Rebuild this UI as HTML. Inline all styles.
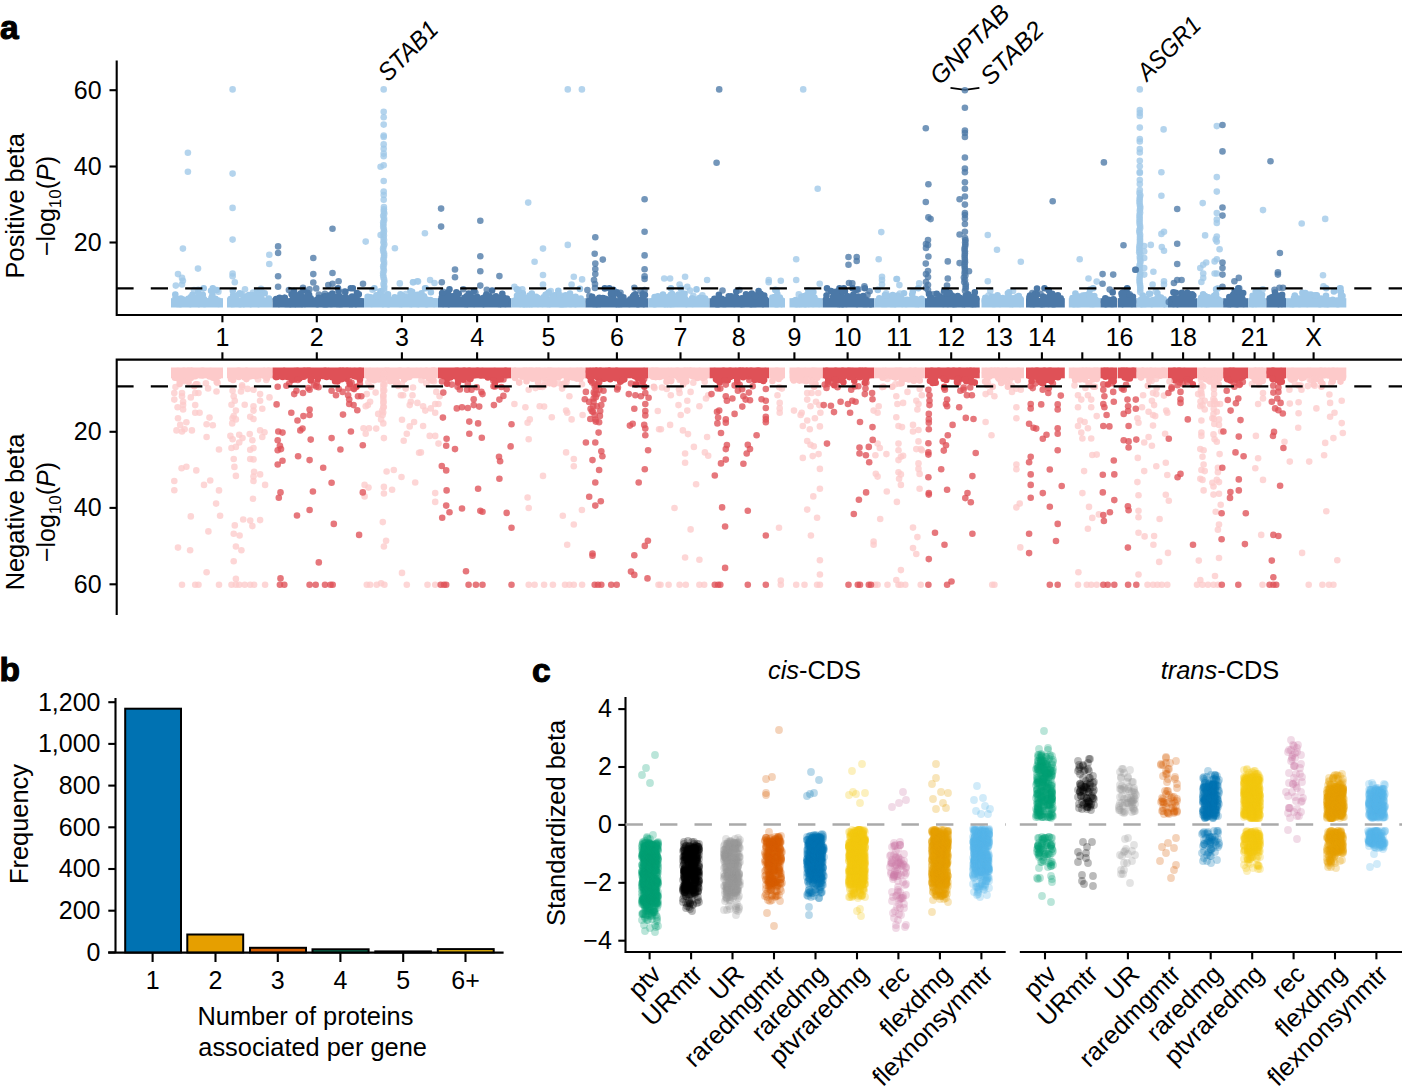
<!DOCTYPE html>
<html><head><meta charset="utf-8"><style>
html,body{margin:0;padding:0;background:#fff;}
svg{display:block;}
.a circle{r:3.3px}
.c circle{r:3.9px}
</style></head><body>
<svg width="1402" height="1091" viewBox="0 0 1402 1091">
<rect width="1402" height="1091" fill="#fff"/>
<g id="upper">
<path d="M950.5 87.9 L965 89.9 L979.4 87.9" stroke="#000" stroke-width="1.8" fill="none"/>
<g stroke-linecap="round" stroke-width="6.6" fill="none">
<rect x="171.0" y="298.2" width="52.0" height="9.3" fill="#9fc8e8"/>
<path stroke="#9fc8e8" d="M189 303.7h0M203.9 304h0M198.6 302.7h0M176.9 301.9h0M176 302.4h0M177.5 303.9h0M193.6 298.6h0M179.9 303.4h0M202.8 294.8h0M200.5 302.6h0M218.6 304h0M213.3 303.1h0M180.8 303.8h0M188.3 298.8h0M182.5 301.4h0M203.3 302.7h0M199.2 304h0M177 303.5h0M205.2 302.4h0M188.6 301.4h0M194.9 303.1h0M210.4 300.4h0M185.4 301.5h0M198.1 297.5h0M207.4 303.1h0M218.8 303.8h0M193.3 299.7h0M181.2 302.1h0M176.1 300.7h0M209 301.5h0M214 303h0M205.9 301.3h0M200.6 302.3h0M212.4 294.9h0M195.8 300.7h0M177.1 300.3h0M203.7 288.3h0M211.6 303.1h0M191.8 300.7h0M175.3 302.2h0M181.9 303.8h0M177 299.5h0M180.2 303.3h0M192 297.6h0M178 302.3h0M199.2 297.3h0M211.5 297.8h0M186.9 302.5h0M190.6 297.3h0M217.8 303.7h0M182.3 303.4h0M184.9 302.1h0M201 303.2h0M174.5 302.5h0M191.1 301.5h0M217.6 300.4h0M197.7 301.1h0M205 304h0M215.1 299.4h0M214 299.1h0M192.1 302.6h0M179 301h0M177.1 304h0M183.8 303.6h0M189.7 304h0M174.3 303.7h0M178.9 302.8h0M175.5 297.6h0M202.2 303.7h0M185.8 302.8h0M190.8 303.8h0M212.8 288.3h0M195.5 302.1h0M178.2 303.9h0M189.9 303.2h0M211.9 303.6h0M175.3 294.5h0M198.3 303.7h0M199 304.1h0M198.3 291.9h0M213.5 300.4h0M186.2 302.7h0M181.9 299.5h0M198.5 299.4h0M189.3 303.4h0M211.1 290.8h0M213 299h0M211.5 299.9h0M184.6 301.9h0M190.4 304.1h0M175.6 303.2h0M186.1 300.4h0M217.7 302.3h0M216.8 290h0M217.7 302.7h0M184.3 303.4h0M183.2 303.5h0M202.6 296.8h0M212.5 302.1h0M203.9 299.1h0M178.1 300.7h0M215.6 299.3h0M208.4 302.1h0M182.4 299.2h0M189.4 299h0M218.4 302.6h0M192.5 294.8h0M207.2 303.6h0M180.1 303.7h0M215.4 298.9h0M180.9 298.6h0M218.8 300.8h0M190.2 301.7h0M180.2 304.2h0"/>
<rect x="227.0" y="298.2" width="45.6" height="9.3" fill="#9fc8e8"/>
<path stroke="#9fc8e8" d="M262.5 303.4h0M240.1 303.1h0M239.7 301.4h0M240.4 302.5h0M235.4 296.5h0M244.1 302.2h0M253.1 296.7h0M246.7 296.2h0M249.9 301.8h0M250.7 304.1h0M247.5 303.6h0M230.5 299.1h0M237 302.1h0M258.6 301.6h0M243 301.9h0M252 299.3h0M234.4 301.6h0M240 303.2h0M260.4 301.9h0M252.2 299.6h0M265.9 302.3h0M254.2 301.9h0M250.3 300.4h0M247.9 301.8h0M248.9 295.1h0M257.6 297.5h0M267 303.2h0M252.1 295h0M263.1 303.7h0M235 302.3h0M233.1 303.3h0M233.2 300.7h0M260.9 296.9h0M236.3 300.2h0M256.1 303.7h0M264.7 293.2h0M238.9 294.4h0M245.8 302.1h0M268.9 298.5h0M236.6 302.4h0M250.4 302.9h0M237.9 303h0M258.5 304.1h0M251.9 302.3h0M231 302.9h0M254.6 301.9h0M232.8 290.7h0M261 292.8h0M234.4 303.2h0M231.8 299.4h0M240.8 303.8h0M246.8 296.4h0M262.2 303.2h0M236.1 296.2h0M252.6 300.3h0M233.8 304h0M257.1 302.4h0M233.1 295.3h0M255 299h0M233.6 298h0M232.9 297.8h0M248 302.9h0M251.9 295.8h0M240.7 303.8h0M250.8 303.3h0M234.6 303.6h0M232.3 303.5h0M242.5 303h0M259.9 303.1h0M249.8 303.6h0M243.8 304.1h0M240.1 304.2h0M258.9 301.6h0M237.7 302.1h0M266.8 303.8h0M262.2 302.4h0M249.6 298.4h0M245.6 301.9h0M257.1 291.3h0M243.7 298.5h0M257.9 301h0M246.1 302.8h0M232.4 303.8h0M233.1 299.9h0M240.3 303.6h0M233.6 298.3h0M264.3 300.6h0M241.3 303.3h0M241.7 302.2h0M236.4 302.3h0M240.6 293.8h0M268.2 301.7h0M239.8 293.4h0M242.4 302.8h0M230.3 302.7h0M248.8 302h0M238.1 302h0M230.5 303.2h0M233.8 302.6h0M231.9 304.1h0"/>
<rect x="272.6" y="298.2" width="91.4" height="9.3" fill="#4b78a7"/>
<path stroke="#4b78a7" d="M339.5 300.3h0M336.6 296.6h0M308.9 302.8h0M359.4 303.6h0M337.3 300.5h0M279.6 297.7h0M351.5 300.6h0M338.1 298.2h0M287.7 301.5h0M318.7 297.7h0M344.1 297.9h0M325.4 296.2h0M333.8 299.9h0M295.4 304.1h0M287.2 302.6h0M284.8 297.7h0M323.3 300.6h0M329 300.1h0M317.4 304.2h0M343.5 299.2h0M318.6 301.4h0M331.8 304h0M338.4 303.2h0M282.2 303.1h0M337.7 303.4h0M338.6 290.8h0M317.8 302.5h0M316.5 300.1h0M340.9 300.7h0M330.4 303.9h0M288.4 303.1h0M338.9 302.9h0M324 304.2h0M281 303.1h0M332.9 300h0M333.2 303h0M319.7 302h0M315.4 303.7h0M351.7 303.4h0M358.8 294.3h0M277.4 302h0M345.4 291.8h0M314 303.1h0M293.7 293.7h0M293.8 301.1h0M287.9 301.5h0M356.7 303.7h0M345.5 301.6h0M351.1 299.8h0M295.5 296h0M317.1 304.1h0M276.2 301.8h0M314.1 302.9h0M287.8 302.7h0M302.7 297.6h0M276 299.2h0M347.1 303.7h0M354.5 299.7h0M352.4 303h0M307.5 302.4h0M360.6 301h0M306.5 302.2h0M299.2 304h0M284.5 297.7h0M300.1 294.3h0M297 303.1h0M319.2 303.4h0M307.6 292.9h0M350.9 298.2h0M329.4 295.4h0M355.7 301.3h0M336.9 304h0M338 302h0M339.7 300.5h0M300.2 304h0M354.5 303.7h0M315.9 302.7h0M301.2 299.4h0M358.7 303.1h0M331.5 302.9h0M323.2 302.4h0M290.1 303.6h0M293.5 295.7h0M318.1 303.3h0M352.8 288.2h0M314.1 303.7h0M292.2 303.9h0M304.9 303.9h0M296.2 303.1h0M324.2 296.3h0M339.5 302.3h0M311 301.5h0M307.9 302.7h0M281.2 303h0M358 303.7h0M318.6 300.6h0M349.1 303.3h0M298.9 303.2h0M309.8 302.1h0M356.8 297.4h0M349.9 304.1h0M278.6 299.7h0M351.9 301.9h0M325.7 304.2h0M309.1 294.8h0M345.9 297.2h0M358.3 303.2h0M285.1 303.6h0M320.2 300.1h0M355.7 299.6h0M330.8 299h0M314.7 301.3h0M279.3 298.7h0M295.6 295.1h0M330.6 302.9h0M286.8 303.2h0M329.9 299.9h0M285.4 303.9h0M320.4 301.1h0M308.8 303.3h0M326.9 304.2h0M301.5 302h0M357.2 300.5h0M350.8 301.9h0M295.8 303.2h0M357.4 299.8h0M302 304.1h0M318.2 300.2h0M311.5 303.1h0M332.5 294.9h0M295.1 304.1h0M304.6 302.2h0M333.8 303.4h0M343.5 299.4h0M318.7 303.4h0M358.1 302.9h0M345.4 303.3h0M294.7 299.1h0M300.9 293.3h0M317.9 303.5h0M294.8 302.3h0M332.3 293.5h0M288.3 302.4h0M294 291h0M287.9 304h0M281 302.4h0M352.1 296.5h0M338 288.2h0M354.9 302.8h0M291.6 294.3h0M339.2 304.1h0M332.2 302.5h0M307.6 302.7h0M290.3 304.2h0M299.6 302.6h0M356.9 303.7h0M357.7 303.4h0M306.1 298h0M345.6 302.2h0M280.1 301.9h0M307.5 295.1h0M292.3 302.6h0M352 304.1h0M310.7 298.2h0M340.9 304.1h0M278.9 304h0M353.9 303.1h0M339.3 296h0M304.7 303.1h0M357.1 300.7h0M298.1 299.7h0M302.7 303h0M276.2 299.1h0M353.6 300.6h0M355.9 304.1h0M295.7 301.9h0M357 293.1h0M308.7 303.2h0M312.4 301.8h0M354.6 303.5h0M344 299.4h0M345.7 298.9h0M327.4 302.8h0M303 302.6h0M342.2 303.9h0M292.6 299.2h0M296.9 304h0M278.8 301.3h0M303.5 290.1h0M350.8 288.3h0M298.4 303.9h0M284.1 301.7h0M336.1 302.1h0M295.8 302.3h0M328.5 300.2h0M339.3 297.4h0M332.2 303.7h0M347.2 302.9h0M324 302.5h0M338.5 303.4h0M296.9 303.2h0"/>
<rect x="364.0" y="298.2" width="74.0" height="9.3" fill="#9fc8e8"/>
<path stroke="#9fc8e8" d="M434.1 303.9h0M399.3 298.7h0M424 296.3h0M370 303.1h0M375.3 303.5h0M432.9 301.4h0M430 302.7h0M425.7 302.3h0M384.8 299.4h0M431 303.8h0M407.5 301.1h0M382 302.7h0M376.8 303.5h0M384.5 301.3h0M411.2 303.5h0M368.1 302.9h0M413 303.5h0M388.3 303.5h0M420.9 301.7h0M371.6 303.9h0M393.9 301.6h0M410.4 303.9h0M378.3 300.4h0M394.9 303.1h0M388 294.4h0M388.4 301.5h0M391.4 302.5h0M425.6 288.2h0M391.8 303.5h0M416.4 303.5h0M367.7 296.8h0M395.9 298.7h0M394.7 297.3h0M398.4 303.6h0M368.3 301.6h0M410.5 296.5h0M373.3 301.1h0M392.3 302h0M377.1 303.1h0M402.4 295.9h0M374.6 302h0M421.5 293.3h0M380.6 303.8h0M430.9 292.3h0M399.8 304h0M429.7 302.6h0M428.2 301.1h0M422.9 303.6h0M420.3 303.4h0M394.6 298.2h0M423.2 303.6h0M382 302.6h0M402.2 302.7h0M375.6 303.3h0M416.2 296.9h0M370.1 301.6h0M418.4 304.1h0M423.8 303.8h0M407.7 301.6h0M409.6 303h0M395.6 301.4h0M396 300.8h0M397.4 302.4h0M368.9 301.1h0M400.3 303.3h0M418.8 299.4h0M398.2 303.6h0M399.2 303.8h0M376 302.4h0M373.5 302.3h0M401.7 304.1h0M410.2 303.9h0M416.7 299.4h0M401.8 304h0M401.3 302.7h0M431.4 303.7h0M425.1 288.2h0M416.6 298.8h0M380.4 291.4h0M400.5 294.2h0M429 303.6h0M420.4 295.7h0M371.7 302.8h0M418.3 303.6h0M427.7 303.2h0M422.3 303.7h0M401.1 296.1h0M381.3 303.2h0M401.4 303h0M369.8 303.6h0M378.2 295.4h0M413.1 297h0M378.7 299.3h0M375.1 301.8h0M410.2 302.8h0M426.1 301.6h0M406.4 297.3h0M374.4 288.3h0M409.7 302.6h0M421.1 303.2h0M434.1 301.4h0M391.6 299.6h0M397.1 303.6h0M417.4 304h0M422.6 303.3h0M410.4 291h0M406.8 300.7h0M388.4 304.2h0M369.6 303.7h0M408.8 302.4h0M401.9 297h0M376.2 303.4h0M411.3 304.1h0M367.5 302.8h0M374.5 302.8h0M382.4 301.4h0M407 303.5h0M409.4 302.1h0M376.4 295.4h0M383.7 303.7h0M373.8 300.9h0M426 299.3h0M394.4 303.2h0M368.1 300.9h0M405.2 302.8h0M410.8 302.3h0M430.5 300h0M384 296.7h0M370.3 301.8h0M394.7 303.3h0M371.2 299.4h0M368.1 301.6h0M430.7 303.7h0M380.7 301.2h0M401.5 300.9h0M422.1 303.6h0M388.2 303.1h0M370.6 297.2h0M420.1 300.2h0M367.7 298.2h0M417.5 302.2h0M417.3 302.3h0M382.5 303.8h0M383 304.1h0M389.9 299.8h0M414.2 298.2h0M415.3 303.2h0M404.6 302.4h0M420.4 301.8h0M385.2 300.9h0M432.4 303.4h0M426.6 304.2h0M384.8 303.3h0M417.4 294.9h0M417.6 302.9h0M426.6 302.9h0M383.4 296.6h0M409.8 300.4h0M412.1 291.8h0M398.9 298.3h0M414.3 298h0M396.8 300.1h0"/>
<rect x="438.0" y="298.2" width="73.3" height="9.3" fill="#4b78a7"/>
<path stroke="#4b78a7" d="M448.4 294.7h0M464.3 303.6h0M443.2 304h0M487.5 300.6h0M487.8 299.4h0M445.7 301h0M465.5 298.1h0M496 296.2h0M445.7 296.9h0M502.3 293.8h0M448.4 303.4h0M448.8 304.1h0M497.8 298.2h0M483.6 297.9h0M483.4 303h0M448 303.8h0M491.8 303.4h0M462.6 302.2h0M442.7 303.1h0M460.1 299.7h0M465.8 302.8h0M505.6 301.7h0M498.1 300.7h0M443.4 302.3h0M470.4 298.9h0M464.4 299.8h0M477.2 303.3h0M498.8 303.9h0M496 303.5h0M441.4 303.4h0M492.1 290.5h0M441.6 301.8h0M474.1 298.5h0M453.6 301.7h0M464.5 297.8h0M458.7 293.8h0M460.2 303.3h0M488 301.7h0M448.6 300.6h0M446.7 298.6h0M487.8 298.6h0M483.2 302.6h0M468.1 302.4h0M500.7 303.9h0M500.6 304.1h0M455 303.1h0M501.4 301.7h0M466.6 296.4h0M456.9 302h0M476.8 299.1h0M491.5 300.5h0M464.5 302.8h0M451.7 297.5h0M485.5 299.3h0M452.6 302.1h0M492.9 301.1h0M449.7 302h0M500.3 303.2h0M454.1 302.9h0M488.2 297.5h0M451.6 303.6h0M457.8 302.8h0M476.1 303.6h0M463.2 303.4h0M506.3 299.5h0M448.1 292.4h0M448.1 302.5h0M506.9 298.5h0M490.2 302.1h0M454.4 300.5h0M448.4 303.4h0M467.2 304.1h0M467.9 298.6h0M487.6 301.7h0M483.5 302h0M450.8 300.9h0M468.3 299.3h0M501.9 302.2h0M479.6 299.2h0M469.4 303.3h0M489.5 296.6h0M492.9 299.9h0M498.2 300.1h0M484.1 302h0M462.2 300.6h0M447.8 302.2h0M493.5 299.7h0M483.3 303.2h0M469.6 302h0M482.8 302.3h0M486.3 294.6h0M453.5 300.4h0M493.2 302.4h0M474 291h0M443.8 301.4h0M452 298.7h0M504 301.6h0M448 301.1h0M477.4 299.7h0M475.5 300.5h0M496.6 301.5h0M468.7 293.6h0M455.3 300h0M467.5 299h0M449.5 289.2h0M465 304h0M459.6 302.4h0M442.2 302.2h0M469.4 299.9h0M464.8 303.1h0M456.3 299.3h0M504 301.5h0M455.9 298.4h0M467.4 303.3h0M449.9 298.8h0M495.3 300.6h0M472.6 301.2h0M456.4 292.2h0M464.9 300.5h0M495.9 298.1h0M472.5 302.9h0M477.9 303.7h0M496.9 302.6h0M498 303.1h0M466.4 303.1h0M469.7 303.5h0M441.5 299.6h0M460.1 303.2h0M461.4 301.8h0M469.9 300.5h0M485.3 302.6h0M503.2 297.3h0M445.1 297.9h0M501.7 298.7h0M450.7 297.8h0M483.5 304.1h0M442.1 293.3h0M485.1 303.2h0M448.1 303.6h0M456.9 298.8h0M464.4 303.6h0M501.6 298.6h0M452.5 296.2h0M481.9 298.7h0M485.9 296.1h0M493.9 297.6h0M454.5 300h0M476.7 299.3h0M470.6 296.5h0M478.3 303.1h0M456.9 303.7h0M474.2 304h0M472.5 303.6h0M474.1 301.7h0M477.3 297h0M441.7 297.6h0M472.5 301.2h0M485.7 297.6h0M466.3 302.2h0M505.4 303.9h0M483.8 300.6h0"/>
<rect x="511.3" y="298.2" width="74.2" height="9.3" fill="#9fc8e8"/>
<path stroke="#9fc8e8" d="M575.3 304.1h0M563.1 301.1h0M537.5 297.9h0M539.4 302.1h0M550.1 299.5h0M528.8 302.4h0M543.2 301.6h0M570.5 303.1h0M570.6 302.5h0M548.7 303.2h0M548.8 292.4h0M558.8 299.2h0M537 303h0M534.8 301.4h0M557.5 299.3h0M517.3 300.1h0M574.5 301.7h0M518 303.1h0M515 303.5h0M576.9 301.2h0M559.1 299.2h0M576.1 301.2h0M556.3 301h0M561.7 301.3h0M560.6 303.4h0M559.7 302.2h0M566.2 303.9h0M526.9 304.1h0M567 296.3h0M558.9 302.7h0M570.2 299.3h0M552.6 303.2h0M535 302.4h0M536.1 302.4h0M558 295.5h0M518.3 301.5h0M517.3 303.8h0M569.4 301.5h0M576.7 302.3h0M515.6 302.6h0M554.6 295.3h0M580.9 302.1h0M542.5 303.9h0M558.2 303.4h0M524.9 304.1h0M514.9 300.5h0M522.8 293.3h0M520.6 297.7h0M523.3 304.1h0M563.2 303.3h0M564.2 303.5h0M518 299.4h0M562.8 298h0M563.9 303.9h0M557.1 300.2h0M545.7 295.6h0M531.8 293.5h0M563.1 304.2h0M515.6 300.8h0M569.9 303.9h0M535.6 300h0M525.8 297.9h0M547.5 304h0M539.4 301.5h0M544.3 300.6h0M524.4 299.1h0M539.2 300.9h0M557.2 302.5h0M540.7 299.3h0M578.5 299.3h0M552.9 303.1h0M518.7 292.5h0M562.1 298.6h0M537 301.2h0M580.7 298.5h0M555.2 303h0M543.6 297.2h0M540.1 300.5h0M555.3 297h0M569.2 303.1h0M514.7 303.2h0M543.2 301.4h0M569.8 297.2h0M517.5 298.5h0M569.5 297.7h0M553.3 303.2h0M572.1 298.9h0M560.9 296.4h0M538 303.9h0M552 299.1h0M528.1 299.8h0M577.6 303.3h0M555.6 300.6h0M546.1 303.5h0M531.8 299.7h0M568.1 302.2h0M520.5 298.9h0M566.8 303.4h0M553.8 296.9h0M574.4 301.8h0M546.8 301.4h0M527.4 303.5h0M526.8 300.3h0M539.1 301.5h0M541.8 301.9h0M524.7 304.1h0M582 302.7h0M521.8 301h0M567.8 303.7h0M555 302.8h0M549.7 304.1h0M516.9 289.3h0M573.1 302.1h0M552.9 303.2h0M567.3 302.4h0M578.6 299.5h0M570 293.6h0M531.8 304.1h0M528.2 303.6h0M520.3 304h0M552.3 297.7h0M545.6 294.8h0M576.1 304h0M555 302.6h0M522.7 294h0M532 301.5h0M557.9 294.2h0M559.9 302.6h0M544.9 303.6h0M579.9 288.9h0M529.6 304.1h0M531.9 302.8h0M575.6 296.7h0M571.2 304h0M567.8 300.2h0M558.3 290.7h0M518.4 303.7h0M565.6 295.2h0M560.4 303.1h0M554.6 299.7h0M521.7 302.9h0M532 303.8h0M547.1 303.6h0M530.7 303.7h0M560.4 304.2h0M563.1 303.5h0M517 295.8h0M529.5 295.5h0M573.2 297.2h0M524 302.3h0M521.2 295.7h0M571.5 301h0M545.2 302.9h0M570.2 302.1h0M557.1 303.7h0M529.6 304h0M562.8 301.6h0M524.4 297.7h0M532.6 302.5h0M525.1 303.2h0M571.4 302.9h0M525.9 302h0M536.1 296.7h0"/>
<rect x="585.5" y="298.2" width="62.8" height="9.3" fill="#4b78a7"/>
<path stroke="#4b78a7" d="M603.3 303.4h0M609.3 288.2h0M644.9 294.9h0M594.3 303h0M639.2 304h0M629.6 302.9h0M643.8 304.1h0M634.2 302.7h0M596.7 304.2h0M635.6 301.5h0M599.2 302.1h0M640.1 303.3h0M620.9 303.7h0M598.9 298.9h0M628.8 303.4h0M593.3 303.9h0M623 301.7h0M604.2 303.4h0M623.2 299.8h0M634.4 301.1h0M600.2 304h0M630 302.3h0M629.4 304h0M634.4 302.7h0M636.1 297h0M616.5 304.1h0M640 301.9h0M637.8 303.1h0M599.3 297.8h0M609.4 303.6h0M609.7 300.9h0M589.1 301.6h0M613.9 301.6h0M595.6 299.7h0M634.7 297h0M606.8 299.7h0M610.2 299.2h0M592.2 296.8h0M642.4 301.7h0M617.6 301.5h0M619 304.1h0M643.2 303.3h0M599.1 303.8h0M602.9 298.1h0M590.5 303.8h0M628.1 303.4h0M589.8 300.9h0M621.2 301.5h0M628.3 303.8h0M637.7 299.7h0M591.3 303.7h0M616.5 301.7h0M604.5 303.7h0M611.6 303.7h0M622.1 297.1h0M597.1 301.1h0M630.8 303.6h0M635.2 294.2h0M610.6 302.2h0M636 301.5h0M611 294h0M632.5 302.7h0M602.3 302.7h0M613.3 289.9h0M634 295.4h0M634.6 297.4h0M591.8 301.6h0M642.6 294.4h0M602.8 302.2h0M624.4 302.6h0M618.6 303.9h0M613.1 301.7h0M590 303.7h0M643.3 298.8h0M641.5 300.6h0M634.3 296.4h0M638.5 304.1h0M624.9 303.1h0M626.9 303.1h0M619.3 294.9h0M623.7 303.2h0M618 302.2h0M642.2 303h0M606 300.4h0M595.6 301h0M642.5 301.6h0M603.9 301.9h0M618.8 303.6h0M595.8 303.7h0M605.3 302.3h0M605 303.2h0M593.7 301.4h0M636 300.8h0M620.8 300.4h0M600.1 299.7h0M614.7 301.3h0M623.2 301.9h0M606.3 303.2h0M601.3 301.6h0M610.3 301h0M589.5 302.6h0M637.2 303.2h0M620.1 301.8h0M604.8 288.4h0M605.4 298.9h0M597.7 304h0M637.8 302.1h0M592.3 302.4h0M613.5 299.4h0M594.9 303.3h0M642.7 299.4h0M597.5 302.7h0M608.6 300.2h0M623.4 297.4h0M635 301.6h0M630.3 299.3h0M631.5 301.9h0M632.9 299.8h0M640.2 303.7h0M637.7 304.2h0M631.8 301h0M616.8 292.4h0M620.9 302.3h0M632.8 296.8h0M622.9 302.5h0M614.2 302h0M629.4 303h0M610.8 301.3h0M610.4 302.8h0M633 297.4h0M616.9 302.1h0M599.2 302.9h0M596.9 301.1h0M621.5 303.9h0M640.5 302.8h0M636.2 297.6h0M642.7 303.4h0M612.8 295.5h0"/>
<rect x="648.3" y="298.2" width="61.3" height="9.3" fill="#9fc8e8"/>
<path stroke="#9fc8e8" d="M681.1 288.2h0M679.9 301.9h0M689.1 302.6h0M671.2 301.3h0M670.8 294.7h0M688.6 301.8h0M657 302.7h0M673.5 301.6h0M683 297.4h0M704.4 302.1h0M675.7 301.1h0M706.1 302.9h0M680.6 298.8h0M660.9 303h0M705.1 298.6h0M679.6 303.8h0M700.5 300.5h0M696.5 289.4h0M700.2 302.5h0M660.2 303.1h0M679.6 302h0M661.9 303.6h0M686.1 301.2h0M670.9 288.2h0M686.4 304.1h0M674.1 299.2h0M668.4 300.4h0M651.8 303h0M697.7 301.4h0M688.1 303.5h0M678.8 301.6h0M666.2 300.9h0M680.7 288.2h0M683 302.5h0M658.2 303.7h0M693.1 303.8h0M657.1 303.6h0M680.2 298.7h0M685.1 298.9h0M655 304.2h0M693.8 303h0M690.7 302.8h0M660.9 303.2h0M657 296.7h0M683.4 302.8h0M676.2 302.6h0M654.6 297.1h0M683.5 293.9h0M675.6 301.1h0M665.2 304.1h0M702.5 298h0M668.8 296.9h0M696.2 303h0M684.6 293.9h0M678.7 294.6h0M664.9 302.6h0M690.9 303.4h0M668.5 297.5h0M678.1 299.2h0M664.9 303.6h0M671.2 303.5h0M704.7 303.1h0M682.3 303.8h0M680.8 302.6h0M673.7 304h0M658.3 298.6h0M670.8 303.3h0M662.1 303.1h0M664.6 304.1h0M687.9 302.9h0M660.1 300.3h0M656.7 303.2h0M697.3 303.8h0M675.8 298.4h0M695.6 303.6h0M670.9 300.1h0M672.2 294h0M663 294.6h0M679.2 303.4h0M676.4 303.8h0M690.2 303.2h0M700.8 301.4h0M671.7 303.3h0M684.9 303.4h0M699.3 303.8h0M679.7 301.7h0M666.4 299.5h0M672.6 300.8h0M682.7 303h0M672.9 303.9h0M661.3 298.1h0M669.2 300.7h0M657.6 301.6h0M671.4 302h0M667.8 304h0M668.6 303.4h0M658.5 300.2h0M667 302.5h0M701.3 299.4h0M699.9 297.9h0M658.8 303.2h0M653.2 300.6h0M687.9 302.8h0M674.2 300.8h0M689.8 303.3h0M697.9 302.8h0M686 303.6h0M657.9 296.4h0M691.8 300.2h0M653.8 304.1h0M660.5 303.5h0M668.2 302.7h0M653.7 303h0M686.5 303.6h0M697.5 301.5h0M690.8 303.3h0M675.4 300.5h0M670.7 304.2h0M697.2 299.4h0M667.3 304.1h0M698.3 301.2h0M654.2 303.3h0M657.7 299.2h0M663.1 296.3h0M692.6 303.9h0M689.6 302.6h0M692.5 298.6h0M667 303.9h0M703.4 302.4h0M702.5 300.4h0M692 298.5h0M686 302.3h0M654.6 300.4h0M675 301.9h0"/>
<rect x="709.6" y="298.2" width="59.4" height="9.3" fill="#4b78a7"/>
<path stroke="#4b78a7" d="M726.7 301.4h0M764.1 300.5h0M741.6 303.2h0M716 302.6h0M734.6 303.4h0M729.3 303.7h0M750.2 300.2h0M725.5 303.2h0M740.1 302.1h0M762.3 302.6h0M728.7 296.4h0M720.4 301.2h0M730.5 298.1h0M741.8 299.1h0M721.8 300.2h0M744.5 302h0M753.4 297.8h0M718.9 303h0M731.9 303.4h0M716.1 303h0M723.3 299.8h0M736.6 303.8h0M730 301.9h0M732.1 303.5h0M716.7 304.2h0M765.3 299.2h0M717.3 299.7h0M764.7 301.2h0M718.6 301.8h0M735.8 303.4h0M741.6 304.2h0M761.5 300.5h0M746 294.3h0M747.4 303.2h0M725.9 303.7h0M714.4 298.8h0M757.2 302.9h0M722.7 300.5h0M757.6 294.8h0M721.8 298.7h0M756.7 299.3h0M730.1 303.5h0M756.5 302.8h0M732.4 301.3h0M732.4 297.8h0M725.5 304h0M742.8 300.6h0M756.2 299.8h0M760.7 293.8h0M739 301.7h0M721.2 302.9h0M743.6 303.9h0M749.2 303.6h0M736.3 291.6h0M717.6 304.1h0M736.1 303.4h0M751.1 304.2h0M757.3 297.2h0M754.4 302.2h0M727.9 300.3h0M740.1 302.2h0M730.8 302.1h0M748.1 297.9h0M760.6 303.6h0M728.5 302.1h0M742.6 302.7h0M723.2 303.9h0M730 302h0M764.2 295.6h0M758.6 291h0M763.7 300.7h0M755.7 304h0M748.6 300.8h0M728.6 301.2h0M763.2 301.8h0M747.1 302.9h0M731 296.4h0M714.4 303.4h0M748.7 302.1h0M717.4 300.3h0M732.5 301.1h0M734.9 301.5h0M742.7 302.4h0M718.9 303.5h0M759.9 301.3h0M718.8 297.1h0M726.3 303.8h0M740.9 303.2h0M738.7 301.3h0M724.9 301.1h0M718.9 301.6h0M744 303.9h0M734.4 303.9h0M736.1 297h0M742 299.7h0M752.9 303.8h0M765.2 299.6h0M718.3 297.8h0M733.6 303.5h0M763.6 301.2h0M753.8 303.7h0M753.9 304h0M725.4 302.5h0M713.7 301h0M724.2 302.9h0M750.3 302.2h0M759.8 300.7h0M758.9 301.2h0M761.3 296.8h0M721.8 299.3h0M730.9 299h0M748.8 297.9h0M719.4 302.5h0M751.8 293.6h0M751 304h0M744.8 303.8h0M741.9 298.4h0M718.9 294.9h0M748.6 303.1h0M723.1 302.1h0M757.2 301.1h0M718.9 304.1h0M718.7 298.4h0M722.7 301.3h0M728.2 300h0M733 303.6h0M759.1 301.4h0M749.3 298.3h0M763 304.1h0M731 303.6h0"/>
<rect x="769.0" y="298.2" width="16.0" height="9.3" fill="#9fc8e8"/>
<path stroke="#9fc8e8" d="M778.7 302.6h0M776.8 303.6h0M780.2 302.6h0M780.5 301.2h0M773 302.9h0M774.3 297h0M777.8 304.1h0M773.9 302.8h0M776.7 301.4h0M775.9 302.8h0M772.4 301.4h0M775.4 304.1h0M776.6 290.4h0M772.7 303.7h0M778.6 303.2h0M774.9 302h0M774.8 301.5h0M777.3 294.1h0M781.6 304.1h0M777.6 299.5h0M780.5 299.4h0M778.3 301h0M775.7 303.1h0M779.8 297.6h0M781.1 300.5h0M775.2 299.6h0M779.3 301.9h0M778.3 302.8h0M777.5 302.5h0M772.9 302.9h0M775.3 289.9h0M776.8 302.7h0M774.6 303.3h0M775.6 303.7h0M772.4 297.6h0"/>
<rect x="789.5" y="298.2" width="33.3" height="9.3" fill="#9fc8e8"/>
<path stroke="#9fc8e8" d="M804.9 302.3h0M808 303h0M797.3 304h0M800.8 303h0M812.2 301.6h0M817.8 302.9h0M817.4 301.4h0M794.9 303.6h0M808.3 290.2h0M802.3 299.4h0M804.2 297.7h0M794.6 302.1h0M816.8 303.2h0M799.7 304.1h0M797.2 303.2h0M811.6 303.4h0M803.5 303.5h0M808.9 297.8h0M810.1 303.5h0M812.4 293.6h0M808.8 303.9h0M814.4 297.5h0M801.9 303.7h0M797.8 301.7h0M816.2 300.9h0M817.4 303.4h0M801.5 299.8h0M810.1 302.5h0M810.9 302.9h0M794.3 302.5h0M794 301.1h0M801.7 302h0M808.8 303.2h0M805.2 304.2h0M817.5 301.5h0M819.2 304h0M809.2 300.1h0M801.6 303.9h0M797 303.7h0M813.3 303.9h0M814.5 302.4h0M807.2 301.4h0M807.6 300.8h0M808.9 302.9h0M812.6 303.2h0M811.8 299.6h0M813.5 303h0M813.4 292.1h0M804.9 303.2h0M806.8 295.1h0M796.3 304.2h0M805.5 300.8h0M813.5 302.8h0M819.2 303.4h0M813 303.9h0M793.5 303.7h0M794.4 302h0M807.6 303.6h0M817.9 302.7h0M796.8 303.6h0M812.5 296.1h0M797.1 304.1h0M813.6 303.3h0M819 302h0M809.8 302.8h0M814.2 302.2h0M801.4 296.7h0M795.7 300h0M794.5 300.9h0M803.5 297.8h0M794.4 301.5h0M803.7 296.2h0M818 301h0"/>
<rect x="822.8" y="298.2" width="51.4" height="9.3" fill="#4b78a7"/>
<path stroke="#4b78a7" d="M837.9 302.2h0M836.5 303.4h0M860.1 300.5h0M839.5 288.2h0M835.8 301.2h0M833.1 297h0M865 303.1h0M859.8 298h0M838.8 302.8h0M847.9 296.2h0M833.3 300.1h0M852.9 302h0M852 296.5h0M835.5 296.5h0M842.2 298.8h0M864.8 303.5h0M864.8 288.2h0M839.4 304.1h0M831.1 291h0M826.5 295.5h0M832.9 299.4h0M830.5 303.5h0M856.7 303.9h0M841.3 295.2h0M858.2 296.5h0M870 304.1h0M836.6 298.5h0M857 304.1h0M848.7 303.3h0M845.4 303.8h0M827 288.2h0M840.3 296.6h0M831.5 301.8h0M832.2 302.2h0M834.1 300h0M832.7 299.4h0M848.5 303.8h0M841.9 301.7h0M867.3 302.7h0M835.7 291.9h0M865.7 299.5h0M838.3 303.5h0M838 303.9h0M828 301.6h0M844.4 301.3h0M842.3 304.2h0M856.9 300.4h0M850.5 301.3h0M857 289.7h0M865.3 299.6h0M844 302.8h0M844.9 291.2h0M843.4 302.4h0M844.5 303.6h0M870.8 304.2h0M853.3 294.8h0M837.5 300.8h0M843 303.2h0M835 303.8h0M863.9 298.7h0M866.8 304h0M857.2 302.8h0M855.1 301.3h0M840.2 291.4h0M826.1 299.3h0M864.3 301.6h0M852.6 288.2h0M836.6 300.6h0M859.4 302.5h0M858 302.4h0M849.7 300.8h0M856.4 302.8h0M854.3 301.4h0M836.1 300.8h0M838 295.6h0M847.3 299.6h0M849.5 301.9h0M836 303.6h0M867.6 301.5h0M849.6 301.5h0M862.5 303.2h0M833.8 298h0M846.7 300.5h0M863.2 296.1h0M865 304h0M843.2 297.8h0M862.7 303.7h0M833 303.2h0M830.7 302.6h0M862.1 301.5h0M846.4 303.9h0M843.8 288.2h0M857.2 302.1h0M847.5 298.4h0M860.1 303.6h0M856.6 302.6h0M849.4 303.2h0M842.7 302.7h0M843.2 304.1h0M835.1 301.2h0M828.7 303.5h0M858.3 303h0M840.6 303.2h0M863.5 303.9h0M854.6 297.2h0M835.1 302.2h0M861.6 300.7h0M842.7 304h0M845.9 302.6h0M858 302.9h0M844.4 300.4h0M862.4 302.6h0M843.4 301.1h0"/>
<rect x="874.2" y="298.2" width="50.8" height="9.3" fill="#9fc8e8"/>
<path stroke="#9fc8e8" d="M892.1 304h0M910.9 302.7h0M900.7 302h0M917.3 299.7h0M878.6 301.3h0M897.9 302.2h0M914.6 302.5h0M898.4 297.1h0M896.9 302h0M900.1 298.6h0M907.1 299.9h0M895.3 304.1h0M907.5 301.6h0M911.5 299.5h0M882.7 303.4h0M880.9 298.8h0M882 303.9h0M910.8 301.5h0M879.9 300.5h0M908.9 302.1h0M879.9 300.4h0M896 301.4h0M921.6 298.8h0M916 303.7h0M892.3 301.9h0M877.8 289.9h0M889.6 303.2h0M891.3 303.3h0M915.5 301.6h0M900.1 302.5h0M879.8 303h0M915.8 299h0M915.4 303.2h0M886.4 304h0M901.2 302.7h0M898 302.1h0M903.3 302.7h0M912.9 303.5h0M918.1 301.6h0M879.8 303h0M901.1 302.5h0M902.5 302.9h0M889.6 299.1h0M890.4 300.2h0M913 301.3h0M897.6 295.5h0M897.2 297.5h0M880.1 302.4h0M905.8 304h0M915.6 304h0M903.9 303.6h0M918.3 301.6h0M912.9 302h0M907.3 300.6h0M890.5 303.4h0M914.6 303.7h0M918.1 303.5h0M882 303.9h0M912.2 294.6h0M895.8 300.8h0M888.9 296.6h0M907.8 303.7h0M880 300.4h0M879.3 298.4h0M890.5 303.4h0M903.2 303h0M902.3 303.7h0M917.8 302.9h0M914.7 303.7h0M912.8 291.7h0M894.8 304.1h0M894.3 300.9h0M887.4 301.7h0M881.6 302.2h0M909.7 302.4h0M907.5 303.8h0M914.1 303.8h0M918.3 288.2h0M919 301.8h0M890.4 302.8h0M910.7 302h0M918.6 303.9h0M898.9 297.8h0M903.9 301.7h0M881.4 303.7h0M889.5 297h0M914.9 303.4h0M918.4 304.1h0M904 293.2h0M892.7 295h0M906.5 304h0M892.2 302.3h0M888.4 299.9h0M885.4 299.2h0M890.7 304h0M902.2 303.9h0M901.9 299.2h0M903.8 302.2h0M879 301.9h0M881.8 300.9h0M883.3 301.4h0M893.1 302.7h0M906.8 303.6h0M885 295.1h0M892.2 298.3h0M916.1 302.1h0M884.1 303.9h0M916.4 303.8h0M899.4 301.7h0M882.7 302.2h0M884.7 301.7h0"/>
<rect x="925.0" y="298.2" width="54.7" height="9.3" fill="#4b78a7"/>
<path stroke="#4b78a7" d="M939.8 296.8h0M952.4 296.2h0M929 293.9h0M951.8 298.6h0M955.7 300h0M939.3 299.2h0M935.7 303.1h0M929.8 302.4h0M953.2 303h0M971.1 303.9h0M956.1 303.2h0M956.9 298.7h0M962.5 304h0M940.1 300.9h0M975.6 304h0M958 300h0M967.5 302.7h0M967.3 302h0M972.6 304.2h0M973.5 302.3h0M947.9 303.9h0M940.1 299.4h0M961 303.6h0M944.9 303.7h0M937.8 303.3h0M944.2 290.8h0M976.3 298.6h0M951.4 301.7h0M965.8 295.6h0M964.4 300.6h0M937.9 300.7h0M969 298.6h0M932.7 299.7h0M945.1 303.6h0M974.8 300.2h0M964.2 303.7h0M968.1 294.2h0M971.8 299.3h0M968.3 298.4h0M956.7 302.1h0M968 298.7h0M970.2 302.9h0M974.5 301.5h0M973.8 303.8h0M974.9 298.6h0M940.4 297.6h0M939.5 303.4h0M950.3 303.2h0M952 295.6h0M961.3 299.7h0M947.2 298.7h0M966.5 300.1h0M973.6 297.9h0M947.8 303.9h0M959.7 297.7h0M944.6 300.9h0M968.5 298.5h0M928.5 301.8h0M929.1 303.8h0M967.4 302.2h0M957.4 302h0M944.4 303.3h0M945.3 297.5h0M958.1 303h0M932.5 303.1h0M962 302.1h0M960.1 298.3h0M934.1 300.1h0M930.3 298h0M937.2 303.1h0M974.4 302.6h0M939.1 296.3h0M957.7 296.1h0M947.3 301.7h0M974.3 301.7h0M975.8 303.4h0M968.3 303.6h0M953.7 304.2h0M936.7 293.8h0M950.2 298.2h0M940.4 302.6h0M933.2 301.3h0M969.8 301.6h0M946.4 294.7h0M971.3 300.2h0M932 300.7h0M949.7 292.8h0M945.7 300.3h0M958.7 302.5h0M953.4 300.1h0M971.9 301.7h0M945.8 290.7h0M931 297.7h0M961.2 301.3h0M949.8 299.2h0M971.2 299.5h0M964.4 304.1h0M943.9 303.7h0M974.1 296.2h0M935.3 301h0M956 304h0M947.2 299.2h0M959.2 303h0M965 303h0M954.5 302.2h0M975.3 300.4h0M967 300.1h0M946.6 292.3h0M962.4 300h0M941.6 303.6h0M956 297.9h0M966.5 302.7h0M935 301.6h0M970.5 303.6h0M963.8 303.5h0M943.3 304h0M942.6 302.5h0M974.8 292.4h0M937.3 302.9h0M973.7 303.4h0"/>
<rect x="981.5" y="298.2" width="42.5" height="9.3" fill="#9fc8e8"/>
<path stroke="#9fc8e8" d="M1019.4 303.2h0M992.1 296.5h0M1001 298.4h0M1007.7 299.4h0M996.1 303.7h0M1012 302.2h0M1004.9 300.6h0M1011.8 303.2h0M997.8 296.2h0M1003.8 303.1h0M1007.4 303.2h0M1012.5 304.1h0M1014.5 301.5h0M997.5 295.2h0M994.3 303.3h0M987.3 301.7h0M1011.9 300.6h0M999.6 298.9h0M988.8 303h0M1007.9 293.3h0M1007.6 300.4h0M1012.6 302.6h0M1018.6 299.9h0M997.1 302.6h0M1013.7 302.8h0M991.5 297.6h0M1003.9 301.8h0M1008.8 296.8h0M989.6 302.9h0M987.2 302.5h0M1002.8 298.1h0M1008.8 301.4h0M999.3 301.5h0M994.6 298.2h0M1013.1 298.4h0M990.2 300.6h0M1011.9 302h0M1017.1 296.9h0M1011.5 298.7h0M1008.1 297.5h0M989.5 300.3h0M1010.1 301.2h0M994.7 304h0M1006.5 298.6h0M994.6 303.4h0M992.8 303.9h0M1009.1 292.4h0M1013.6 302.8h0M1009.9 304h0M1014.9 302.9h0M984.9 301h0M989.8 303.2h0M986.9 302.3h0M1004.7 298.9h0M986.2 298.6h0M988.8 303.4h0M1007.4 302.9h0M996.7 301.5h0M992.6 299.2h0M992.3 298.3h0M1013.8 301.7h0M985.9 299.4h0M985.8 302h0M1000 304h0M1007.4 300.1h0M1005.8 302.6h0M1003.2 301.4h0M992.9 297.7h0M1020.5 299h0M1019.3 302.9h0M1020.2 304h0M1002 303.7h0M1001.1 300.5h0M1010.2 302.3h0M997.1 303.5h0M999.3 303.1h0M991.8 299.9h0M1003.3 302.4h0M991.9 300.3h0M991.9 303.2h0M1004.9 300.3h0M1019.7 299.8h0M1018.8 296.1h0M1010.7 300.1h0M987.1 303.5h0M985.3 297.8h0M1010.7 301h0M994.3 302.8h0M990.7 301h0M1020.4 303h0M986.4 303.6h0M997.6 296.9h0M1013.7 302.3h0"/>
<rect x="1026.0" y="298.2" width="38.8" height="9.3" fill="#4b78a7"/>
<path stroke="#4b78a7" d="M1044.5 288.2h0M1058.7 298.5h0M1044.6 298h0M1033.4 303.8h0M1047.4 301.6h0M1036 303.2h0M1030 295.6h0M1052.2 293.7h0M1060.9 302.1h0M1052.9 302.5h0M1055.4 297.6h0M1033.6 304.2h0M1036.2 301h0M1041.5 304.2h0M1056 298.6h0M1044.2 304h0M1057.9 301.4h0M1031.6 302.8h0M1049.4 296.4h0M1044.9 300.5h0M1035.9 303.2h0M1058.5 302.5h0M1032.6 301h0M1033.4 303.4h0M1044 301h0M1049.8 299.8h0M1043.5 303.9h0M1052.6 304h0M1044.5 302.4h0M1051 299.7h0M1037 300.4h0M1051.6 301.9h0M1033.9 295.6h0M1048.6 304h0M1037 288.6h0M1036.7 302.4h0M1054.7 297.9h0M1049.7 299.3h0M1030.5 303.8h0M1060.7 298.4h0M1030.5 304h0M1037 294.6h0M1036.4 300.2h0M1059.3 300.5h0M1058.9 303.1h0M1034.2 304.1h0M1053.7 303.8h0M1060.6 299.7h0M1035.3 298.3h0M1034.5 301.6h0M1032.7 298.6h0M1057.9 295.3h0M1029.4 297.3h0M1047.2 298h0M1045.5 300.7h0M1048.4 298.4h0M1031.8 304h0M1046.9 303h0M1042.1 304.2h0M1053.3 304.1h0M1056 298.2h0M1044 303.7h0M1050.2 303.4h0M1043.1 303.8h0M1060.7 301.4h0M1040.7 303.8h0M1052.8 297.4h0M1056.6 303.8h0M1041.1 302.9h0M1053.8 303.6h0M1048.8 290.4h0M1054.1 304.2h0M1031.7 303.8h0M1051.6 300.9h0M1046 302h0M1042.4 300.8h0M1050.2 295.3h0M1052.9 298.5h0M1058.7 297.7h0M1052.4 304.1h0M1051.2 297.4h0M1043.2 296.6h0M1035.1 293.9h0M1043.5 299.8h0M1037.4 302.9h0"/>
<rect x="1068.8" y="298.2" width="31.7" height="9.3" fill="#9fc8e8"/>
<path stroke="#9fc8e8" d="M1096.7 300.8h0M1095.5 299.6h0M1093.1 288.2h0M1091 303.2h0M1078.4 302.5h0M1072.6 303.4h0M1094.3 296.1h0M1080.4 299.5h0M1091.6 297.1h0M1092 301.8h0M1074.7 298.6h0M1080 301h0M1081.3 301.7h0M1096.3 303.6h0M1085.4 300.8h0M1085.6 295.3h0M1082.3 296.4h0M1089.4 293.2h0M1074.3 303.4h0M1079.3 296.6h0M1072.4 303.2h0M1090.1 289.6h0M1076.5 302.4h0M1089.3 300.4h0M1090.8 299.7h0M1078.3 303.2h0M1072.8 300.4h0M1077.4 303.2h0M1096.3 300.9h0M1086.9 300.8h0M1087.1 300.4h0M1079.7 304h0M1073.8 304.2h0M1081.2 303.7h0M1074.9 302h0M1096.4 300.5h0M1079 299.5h0M1076.6 303.9h0M1079.7 302.5h0M1089.4 302.3h0M1090.4 303.9h0M1095.5 302.9h0M1093 304.1h0M1092.9 303.4h0M1093.6 299h0M1088.9 303.2h0M1072.3 303.5h0M1094.8 303.6h0M1088.6 301.4h0M1088.7 303.6h0M1075.7 303.9h0M1096.8 302.7h0M1088.5 301.5h0M1077.7 304h0M1072.5 298.1h0M1075.4 293.6h0M1081.2 300.1h0M1075.6 299.2h0M1078.4 302.7h0M1085.2 303.8h0M1078.3 299.1h0M1079.3 302.7h0M1091.3 303.4h0M1077 303.4h0M1081.7 302.7h0M1088.2 302.2h0M1093.9 304h0M1088.8 298.4h0M1078 304.1h0"/>
<rect x="1100.5" y="298.2" width="16.8" height="9.3" fill="#4b78a7"/>
<path stroke="#4b78a7" d="M1108.5 299.7h0M1104.8 303.7h0M1108.7 303.5h0M1106.2 302.1h0M1105 303.9h0M1107.5 301.9h0M1113.4 301.3h0M1104.5 303.3h0M1111.4 301.2h0M1112.7 292.4h0M1112.6 303.8h0M1113.4 301.5h0M1106.2 303.5h0M1112.6 303.3h0M1104.6 303.1h0M1113.2 302h0M1111.3 303.9h0M1108.4 302.8h0M1105.9 300.3h0M1107.5 303.7h0M1113.8 301.8h0M1105.6 304.2h0M1110.5 301.6h0M1104 301.9h0M1111.4 301.4h0M1106.2 301.7h0M1110 300.4h0M1105.3 298.3h0M1113.4 299.3h0M1112.5 302.5h0M1113 303.5h0M1106.1 300.9h0M1113 303.9h0M1106 304.1h0M1108.3 303.7h0M1105.8 299.2h0"/>
<rect x="1118.0" y="298.2" width="18.6" height="9.3" fill="#4b78a7"/>
<path stroke="#4b78a7" d="M1126.1 300.1h0M1121.5 293.5h0M1124.1 301.9h0M1127.4 293.5h0M1127.2 288.2h0M1128.8 303.3h0M1131.3 303.4h0M1133.3 302h0M1124 292.5h0M1125.2 302.3h0M1125.4 300.2h0M1121.6 302.5h0M1123.2 297.9h0M1121.3 300.8h0M1124.4 302h0M1128 299.7h0M1123 303.2h0M1122.7 292.6h0M1123.1 303.7h0M1127.6 301.1h0M1131.9 304h0M1124.1 303.5h0M1128.3 302h0M1126.2 296.3h0M1129.2 297.1h0M1132.8 303.1h0M1132.6 302.3h0M1121.9 295.3h0M1122.5 304.1h0M1124.8 303h0M1132.9 296.8h0M1126.3 301.5h0M1131.5 298.3h0M1129.1 301.6h0M1122.7 303.2h0M1129.2 301h0M1130.9 296h0M1132.8 303.4h0M1122.2 296h0M1128.1 303.5h0"/>
<rect x="1136.6" y="298.2" width="31.4" height="9.3" fill="#9fc8e8"/>
<path stroke="#9fc8e8" d="M1145.8 302.7h0M1152.9 300.6h0M1141.7 299.9h0M1155.4 302.2h0M1156.6 299.1h0M1140.1 302.1h0M1156.7 300.2h0M1156 303.6h0M1163.7 299.3h0M1145.7 302.4h0M1163.7 303.5h0M1150 293.8h0M1162.2 303.4h0M1158.1 302.8h0M1156.4 299.5h0M1143.1 303.4h0M1145.2 303.2h0M1140.8 303.7h0M1150 302.5h0M1141.8 301.4h0M1163.3 301.4h0M1148.7 300.3h0M1150.7 303.6h0M1151.8 304.1h0M1156.7 303.6h0M1149.1 293.7h0M1158.9 298.4h0M1155.8 301h0M1157.4 293.3h0M1144.8 299.5h0M1147.4 303.3h0M1160.3 301.3h0M1161 297.5h0M1154.5 303.5h0M1140.3 301.8h0M1157.9 303.2h0M1141.6 304.2h0M1144.2 300.4h0M1140 303.4h0M1146.5 300.2h0M1164.4 304.1h0M1142.7 295.5h0M1164 303.7h0M1148.2 301.8h0M1147.8 302.5h0M1151.8 303.2h0M1141.3 303.9h0M1143.9 303.9h0M1155.4 300.4h0M1146.4 299.2h0M1158 302.9h0M1152.1 303.5h0M1162.9 301.6h0M1141.2 303.7h0M1157.1 302.6h0M1157.7 303.4h0M1159.7 299h0M1142.2 301.4h0M1144.6 300.3h0M1159.8 299.2h0M1145.6 303.9h0M1156.4 301.5h0M1143.3 303.5h0M1154.3 303.8h0M1155.6 303.3h0M1146.3 302.4h0M1153.1 300.1h0M1140.7 300.1h0M1145.4 303.1h0"/>
<rect x="1168.0" y="298.2" width="29.0" height="9.3" fill="#4b78a7"/>
<path stroke="#4b78a7" d="M1185.1 295.8h0M1175.9 302.9h0M1186.1 303.1h0M1174.8 303.3h0M1188.6 297.9h0M1187.3 292.7h0M1189.1 302.9h0M1178.4 299.6h0M1172.5 300.8h0M1173.3 304h0M1182.8 303.6h0M1192.2 296.6h0M1181.6 303.4h0M1174 301.7h0M1183 302.6h0M1187.3 301.5h0M1188.7 303.8h0M1172.9 302.4h0M1182.1 303.2h0M1186.3 303.3h0M1178.4 301.9h0M1187.3 298.9h0M1179.6 302.1h0M1192.1 294.4h0M1185.2 303.8h0M1181.5 300.6h0M1177.5 304.1h0M1193.3 295.5h0M1174.2 301.9h0M1185.2 302.9h0M1172.8 299.2h0M1188.6 302.1h0M1173.2 302.4h0M1173.4 292.3h0M1172.4 303h0M1188.5 303.7h0M1173.7 303.9h0M1175 301.5h0M1190 303.5h0M1175.2 299h0M1180.8 302.7h0M1174.1 303.2h0M1193.1 303.8h0M1177.1 299.3h0M1191.3 295.8h0M1181.9 292.9h0M1184.8 303h0M1181.7 299.7h0M1187.7 303.7h0M1175.6 292.8h0M1173.7 298.2h0M1178.9 303.2h0M1177 301.9h0M1193.5 303.6h0M1190.4 302.8h0M1175.2 299.3h0M1179 303.5h0M1180.7 298h0M1190.6 301.1h0M1171.5 299h0M1184.9 295.9h0M1192.6 302.8h0M1190.3 298h0"/>
<rect x="1197.0" y="298.2" width="26.2" height="9.3" fill="#9fc8e8"/>
<path stroke="#9fc8e8" d="M1207.6 302.8h0M1207.7 303.8h0M1204.8 296.5h0M1208.3 301h0M1217.7 299.7h0M1205.1 296.1h0M1216.1 289.3h0M1214.6 299.7h0M1216.2 303.3h0M1213.2 302.7h0M1216.8 303.7h0M1210.9 302.9h0M1216.4 302.8h0M1216.8 298.2h0M1217.5 303.7h0M1218.7 299.8h0M1213.6 300.8h0M1201.2 297.7h0M1211 302.3h0M1207 299.3h0M1215.6 297.7h0M1204.5 302.9h0M1205.2 303.9h0M1206.7 304.1h0M1215.9 303.4h0M1201.7 304h0M1214.8 303.5h0M1209.4 302.6h0M1216 294.3h0M1206.4 301h0M1217.8 302.2h0M1217.9 300h0M1206.4 297.6h0M1211.5 303.8h0M1211.8 298.5h0M1210.5 302.1h0M1208.5 297.4h0M1213.3 303.5h0M1207.4 302.8h0M1219.1 300.4h0M1202.7 296.3h0M1201 301.3h0M1208.8 300.2h0M1208.7 303.9h0M1210.6 298.7h0M1215.8 302.8h0M1204.7 299.8h0M1216 303.4h0M1217.6 288.6h0M1208.8 302.7h0M1214.2 295.7h0M1204.3 303.1h0M1206.7 300h0M1204 301.7h0M1210.1 300.7h0M1203.1 294.2h0M1219.9 301.6h0"/>
<rect x="1223.2" y="298.2" width="25.1" height="9.3" fill="#4b78a7"/>
<path stroke="#4b78a7" d="M1243.3 301.3h0M1240.6 296.9h0M1233.2 294.9h0M1230.3 304.1h0M1235.8 296h0M1243.2 293h0M1235.9 294.5h0M1236.9 303.6h0M1238.2 298.3h0M1234.3 300.9h0M1231.3 303h0M1234.3 301.6h0M1235.2 303.9h0M1226.6 302.7h0M1239.8 299.2h0M1230.9 303.1h0M1236.1 303.5h0M1237.7 295.8h0M1230.2 301h0M1239.8 299.2h0M1239.7 299.7h0M1231.5 297.6h0M1243.6 304h0M1244 302.1h0M1228.1 303.9h0M1241.2 300.1h0M1229.1 302h0M1238.3 288.2h0M1232.7 299h0M1231 303.4h0M1229.5 302.3h0M1237.9 302.9h0M1229.5 303.3h0M1228.1 303.4h0M1232.3 301.7h0M1229.9 301.8h0M1234.6 291.2h0M1235.5 293.8h0M1235.2 303.4h0M1237.5 303.6h0M1229.6 303.9h0M1239.5 291.9h0M1234 302.6h0M1234.4 302.6h0M1239.3 302.4h0M1229.3 297h0M1237.1 304.2h0M1242.2 299.5h0M1233.1 300.6h0M1243.5 302.4h0M1234.5 302.9h0M1236.8 300.3h0M1240.1 293.5h0M1229.2 302.6h0M1242.3 298.6h0"/>
<rect x="1248.3" y="298.2" width="18.1" height="9.3" fill="#9fc8e8"/>
<path stroke="#9fc8e8" d="M1255.5 294.9h0M1257.9 302.6h0M1253.7 303.8h0M1261.9 299h0M1251.9 303h0M1257.1 302h0M1255.8 297h0M1255.6 301.8h0M1262.3 300.9h0M1257.1 302.9h0M1256.1 301.2h0M1260.6 303.2h0M1255.9 302.6h0M1255.8 296.4h0M1257.8 303.2h0M1255.4 298.7h0M1253.4 300.5h0M1251.9 303.5h0M1252.3 299h0M1253.3 303.4h0M1252.3 303.2h0M1260 300.1h0M1262.1 294.8h0M1257.9 296h0M1252.6 295.9h0M1256.6 303.5h0M1260.2 297.9h0M1256 303.9h0M1261.6 299.7h0M1258.5 292.2h0M1252 304h0M1253 304.1h0M1259.7 301h0M1252.9 303.6h0M1253.7 301.2h0M1259.3 293h0M1255.7 291.8h0M1256.6 302.6h0M1254.5 303.4h0"/>
<rect x="1266.4" y="298.2" width="19.6" height="9.3" fill="#4b78a7"/>
<path stroke="#4b78a7" d="M1278.9 303.5h0M1272 303.6h0M1274.3 299.4h0M1270.5 301.5h0M1278.5 304.1h0M1275.4 298.6h0M1277.2 302h0M1281.2 300.9h0M1274.1 302.4h0M1282 297.1h0M1281.6 301.2h0M1271.6 303.5h0M1274.7 300h0M1269.8 298.4h0M1279.9 301.6h0M1269.8 298.4h0M1275.1 300.2h0M1277.1 299.5h0M1275 292.6h0M1282.1 294.7h0M1277.7 302.8h0M1274.6 303.1h0M1281.4 298.5h0M1279.9 298h0M1282.6 300h0M1273.8 299.1h0M1273.1 300.8h0M1271.8 297.2h0M1276.1 303h0M1281.7 303.9h0M1281.8 299.1h0M1271.6 299h0M1277.2 295.6h0M1277.3 302.2h0M1281.8 303.9h0M1279.8 303.8h0M1273.3 303.8h0M1281 302.1h0M1279.1 303.1h0M1279.2 300.4h0M1271 301.7h0M1279.1 303.3h0M1278.2 303h0"/>
<rect x="1286.0" y="298.2" width="60.3" height="9.3" fill="#9fc8e8"/>
<path stroke="#9fc8e8" d="M1339.9 288.2h0M1312.2 301.5h0M1332.7 299.7h0M1313.8 297.8h0M1310.8 294.6h0M1314.7 303.8h0M1329.5 303.7h0M1325.8 304h0M1342.4 301.7h0M1329.1 303.8h0M1323.5 302.7h0M1302.7 298.8h0M1291.1 302.1h0M1294 298.1h0M1337.3 304.1h0M1314.2 302.2h0M1327.9 300h0M1307.7 295.6h0M1299.3 303.7h0M1333 303.8h0M1299.3 302h0M1307.4 303.6h0M1339.2 302.1h0M1331.5 303.3h0M1338.3 303.4h0M1338 301.2h0M1341.4 299.5h0M1323.2 301.8h0M1335.2 302.3h0M1294.6 296.4h0M1332.6 300.5h0M1329.3 303.4h0M1314.2 298.7h0M1341 296h0M1297.9 300.5h0M1319.1 302.5h0M1298.3 303.7h0M1314.6 302h0M1303.7 302.7h0M1319.1 299.6h0M1320.9 303.6h0M1336.9 302.7h0M1340.8 291.4h0M1296.8 301.4h0M1341.2 302.6h0M1318.7 303h0M1290.8 303.5h0M1296 303.1h0M1323.1 301.6h0M1340.2 300.5h0M1308.8 294.7h0M1323.3 301.7h0M1335.6 300.7h0M1308.7 301.2h0M1305.4 293.1h0M1302.4 292.7h0M1292.8 304.2h0M1319 303.5h0M1316.6 303.8h0M1334.2 300.7h0M1326 295.8h0M1342.6 300.6h0M1327.6 304.2h0M1291.9 302.4h0M1341.3 303h0M1319.8 304.2h0M1311.6 296.7h0M1321 298.6h0M1290 303.5h0M1298.9 298.5h0M1294.8 295.6h0M1303.7 297.4h0M1317 302.9h0M1341.2 302.5h0M1326.8 304h0M1333.9 291.5h0M1295.2 299.8h0M1303.8 303.7h0M1308.9 300.7h0M1340.5 288.2h0M1342.7 301.1h0M1324.4 303.6h0M1328.3 301.6h0M1308.6 296.8h0M1303 303.7h0M1297.8 303.7h0M1320.9 299h0M1297.9 302h0M1320.1 301.6h0M1311.5 301.7h0M1290.1 304h0M1312 303.3h0M1329.9 303.3h0M1333.5 303.3h0M1294.3 302.1h0M1310.1 302.9h0M1330.4 303.4h0M1325.3 298.4h0M1313.6 302h0M1338.9 301.2h0M1299 304h0M1293.7 302.9h0M1294.1 300.9h0M1312 303h0M1316.8 295.4h0M1302.4 303.7h0M1305.7 302.9h0M1338.2 300.3h0M1312.3 303.6h0M1291.7 303.8h0M1334.8 300.9h0M1297.7 301.1h0M1292.4 301.9h0M1307.3 303.9h0M1329.2 300.2h0M1316.7 303.6h0M1325.3 302.4h0M1324.8 303.9h0M1337.8 304.2h0M1301.3 302.6h0M1300 303.9h0M1326.2 288.2h0M1307.3 303.2h0M1325.3 303.4h0M1310.8 300.5h0M1312.4 303.7h0M1293.1 301.7h0M1342.5 296.1h0M1294.7 302h0M1315.5 303.5h0M1325.3 302h0M1332.7 303.1h0"/>
</g>
<g fill-opacity="0.78" class="a">
<g fill="#9fc8e8"><circle cx="232.6" cy="89.4" r="3.3"/><circle cx="187.9" cy="152.7" r="3.3"/><circle cx="187.9" cy="171.8" r="3.3"/><circle cx="232.6" cy="173.6" r="3.3"/><circle cx="232.6" cy="207.9" r="3.3"/><circle cx="232.6" cy="239.6" r="3.3"/><circle cx="182.9" cy="248.6" r="3.3"/><circle cx="198" cy="268.6" r="3.3"/><circle cx="178" cy="274.1" r="3.3"/><circle cx="182" cy="277.9" r="3.3"/><circle cx="182.9" cy="280.7" r="3.3"/><circle cx="232.6" cy="273.5" r="3.3"/><circle cx="232.6" cy="276.3" r="3.3"/><circle cx="234.8" cy="282.3" r="3.3"/><circle cx="175.8" cy="285.6" r="3.3"/><circle cx="182" cy="284.5" r="3.3"/><circle cx="245" cy="289.3" r="3.3"/><circle cx="261" cy="288.9" r="3.3"/><circle cx="269.3" cy="254.8" r="3.3"/><circle cx="269.3" cy="264" r="3.3"/><circle cx="365.7" cy="241.6" r="3.3"/><circle cx="394.9" cy="248.2" r="3.3"/><circle cx="399.8" cy="283.4" r="3.3"/><circle cx="413" cy="282.3" r="3.3"/><circle cx="417.4" cy="281.2" r="3.3"/><circle cx="380.6" cy="166.8" r="3.3"/><circle cx="380.6" cy="235" r="3.3"/><circle cx="567.8" cy="89.4" r="3.3"/><circle cx="581.9" cy="89.4" r="3.3"/><circle cx="424.9" cy="233.2" r="3.3"/><circle cx="413.2" cy="282.3" r="3.3"/><circle cx="418" cy="281.6" r="3.3"/><circle cx="430.1" cy="280.1" r="3.3"/><circle cx="434.5" cy="283" r="3.3"/><circle cx="528.2" cy="202.6" r="3.3"/><circle cx="543" cy="248.6" r="3.3"/><circle cx="534.6" cy="261.8" r="3.3"/><circle cx="543" cy="275" r="3.3"/><circle cx="543" cy="284.5" r="3.3"/><circle cx="514.4" cy="286.7" r="3.3"/><circle cx="567.8" cy="244.9" r="3.3"/><circle cx="573.8" cy="276.8" r="3.3"/><circle cx="571.6" cy="284.5" r="3.3"/><circle cx="582.1" cy="279.4" r="3.3"/><circle cx="550.7" cy="291" r="3.3"/><circle cx="803.2" cy="89.4" r="3.3"/><circle cx="817.7" cy="188.8" r="3.3"/><circle cx="881.3" cy="232.1" r="3.3"/><circle cx="878.7" cy="259.2" r="3.3"/><circle cx="882" cy="276.8" r="3.3"/><circle cx="882" cy="280" r="3.3"/><circle cx="882" cy="284.5" r="3.3"/><circle cx="897" cy="279" r="3.3"/><circle cx="796.2" cy="259.2" r="3.3"/><circle cx="796.2" cy="280" r="3.3"/><circle cx="819.7" cy="283.8" r="3.3"/><circle cx="768.7" cy="280" r="3.3"/><circle cx="768.7" cy="282.3" r="3.3"/><circle cx="780.8" cy="280.7" r="3.3"/><circle cx="707.1" cy="280" r="3.3"/><circle cx="685.1" cy="276.8" r="3.3"/><circle cx="664.2" cy="278.5" r="3.3"/><circle cx="670.1" cy="278.5" r="3.3"/><circle cx="679.6" cy="284.5" r="3.3"/><circle cx="687.3" cy="286.7" r="3.3"/><circle cx="987.8" cy="235" r="3.3"/><circle cx="997" cy="249.7" r="3.3"/><circle cx="1020.8" cy="261.8" r="3.3"/><circle cx="987.8" cy="281.2" r="3.3"/><circle cx="1079.7" cy="259.2" r="3.3"/><circle cx="1088.5" cy="278.5" r="3.3"/><circle cx="1096.7" cy="281.6" r="3.3"/><circle cx="896.5" cy="279" r="3.3"/><circle cx="899.4" cy="285.1" r="3.3"/><circle cx="919.2" cy="283.4" r="3.3"/><circle cx="1013" cy="291" r="3.3"/><circle cx="1163.6" cy="129.4" r="3.3"/><circle cx="1161.4" cy="172.3" r="3.3"/><circle cx="1161.4" cy="195.8" r="3.3"/><circle cx="1161.4" cy="233.9" r="3.3"/><circle cx="1164" cy="231.7" r="3.3"/><circle cx="1161.8" cy="247" r="3.3"/><circle cx="1164" cy="250.8" r="3.3"/><circle cx="1150.8" cy="244.9" r="3.3"/><circle cx="1144.2" cy="246" r="3.3"/><circle cx="1144.2" cy="251.5" r="3.3"/><circle cx="1144.2" cy="258" r="3.3"/><circle cx="1144.2" cy="268" r="3.3"/><circle cx="1144.2" cy="274.6" r="3.3"/><circle cx="1153.4" cy="271.7" r="3.3"/><circle cx="1152.6" cy="284.5" r="3.3"/><circle cx="1164" cy="281.2" r="3.3"/><circle cx="1164" cy="284.5" r="3.3"/><circle cx="1202.7" cy="203.1" r="3.3"/><circle cx="1205.1" cy="235.4" r="3.3"/><circle cx="1200.3" cy="268" r="3.3"/><circle cx="1203.2" cy="264.7" r="3.3"/><circle cx="1206.2" cy="262.5" r="3.3"/><circle cx="1203.2" cy="273.5" r="3.3"/><circle cx="1203.2" cy="278" r="3.3"/><circle cx="1201.4" cy="282" r="3.3"/><circle cx="1216.8" cy="126.1" r="3.3"/><circle cx="1216.8" cy="177.1" r="3.3"/><circle cx="1216.8" cy="191.6" r="3.3"/><circle cx="1216.8" cy="213" r="3.3"/><circle cx="1216.8" cy="219.6" r="3.3"/><circle cx="1216.8" cy="223" r="3.3"/><circle cx="1216.8" cy="236.5" r="3.3"/><circle cx="1215.7" cy="239.4" r="3.3"/><circle cx="1216.8" cy="241.6" r="3.3"/><circle cx="1219.6" cy="249.3" r="3.3"/><circle cx="1216.8" cy="259.2" r="3.3"/><circle cx="1214.6" cy="261.4" r="3.3"/><circle cx="1216.8" cy="273.5" r="3.3"/><circle cx="1214.6" cy="273.5" r="3.3"/><circle cx="1263" cy="210.1" r="3.3"/><circle cx="1301.7" cy="223.5" r="3.3"/><circle cx="1325.2" cy="218.9" r="3.3"/><circle cx="1323" cy="275.2" r="3.3"/><circle cx="1323.5" cy="286.2" r="3.3"/><circle cx="218.4" cy="291.7" r="3.3"/><circle cx="198.2" cy="289.7" r="3.3"/><circle cx="194" cy="290.1" r="3.3"/><circle cx="242.2" cy="294.6" r="3.3"/><circle cx="253.1" cy="292.5" r="3.3"/><circle cx="405.7" cy="294" r="3.3"/><circle cx="381.6" cy="291.8" r="3.3"/><circle cx="372.5" cy="289.8" r="3.3"/><circle cx="377" cy="296" r="3.3"/><circle cx="522.3" cy="289.3" r="3.3"/><circle cx="518.4" cy="289.9" r="3.3"/><circle cx="559.8" cy="294.7" r="3.3"/><circle cx="546.9" cy="294.2" r="3.3"/><circle cx="702.4" cy="295.3" r="3.3"/><circle cx="693.3" cy="295.9" r="3.3"/><circle cx="690" cy="290.6" r="3.3"/><circle cx="798.8" cy="294.4" r="3.3"/><circle cx="899.9" cy="293.6" r="3.3"/><circle cx="886.2" cy="293.4" r="3.3"/><circle cx="886.5" cy="295.3" r="3.3"/><circle cx="988.5" cy="295.5" r="3.3"/><circle cx="990.3" cy="290.8" r="3.3"/><circle cx="1083.1" cy="295.4" r="3.3"/><circle cx="1155.8" cy="291.4" r="3.3"/><circle cx="1215.9" cy="294.9" r="3.3"/><circle cx="1262.8" cy="289.2" r="3.3"/><circle cx="1339.4" cy="290.5" r="3.3"/><circle cx="1314.7" cy="295.2" r="3.3"/><circle cx="1315.3" cy="295.3" r="3.3"/><circle cx="383.7" cy="89.4" r="3.3"/><circle cx="383.7" cy="111.8" r="3.3"/><circle cx="383.7" cy="117.3" r="3.3"/><circle cx="383.7" cy="124.6" r="3.3"/><circle cx="383.7" cy="135.6" r="3.3"/><circle cx="383.7" cy="137" r="3.3"/><circle cx="383.7" cy="144.4" r="3.3"/><circle cx="383.7" cy="148.8" r="3.3"/><circle cx="383.7" cy="153.6" r="3.3"/><circle cx="383.7" cy="156.2" r="3.3"/><circle cx="383.7" cy="165.2" r="3.3"/><circle cx="383.7" cy="181" r="3.3"/><circle cx="383.7" cy="191.6" r="3.3"/><circle cx="383.7" cy="195" r="3.3"/><circle cx="383.7" cy="199.8" r="3.3"/><circle cx="383.9" cy="207" r="3.3"/><circle cx="383.9" cy="209.2" r="3.3"/><circle cx="383.8" cy="211.4" r="3.3"/><circle cx="384.3" cy="213.6" r="3.3"/><circle cx="383.2" cy="215.8" r="3.3"/><circle cx="384" cy="218" r="3.3"/><circle cx="384.1" cy="220.2" r="3.3"/><circle cx="383.2" cy="222.4" r="3.3"/><circle cx="383.5" cy="224.6" r="3.3"/><circle cx="383.2" cy="226.8" r="3.3"/><circle cx="383.8" cy="229" r="3.3"/><circle cx="384" cy="231.2" r="3.3"/><circle cx="383.5" cy="233.4" r="3.3"/><circle cx="383.9" cy="235.6" r="3.3"/><circle cx="383.5" cy="237.8" r="3.3"/><circle cx="384" cy="240" r="3.3"/><circle cx="383.4" cy="242.2" r="3.3"/><circle cx="384.3" cy="244.4" r="3.3"/><circle cx="383.6" cy="246.6" r="3.3"/><circle cx="383.1" cy="248.8" r="3.3"/><circle cx="383.2" cy="251" r="3.3"/><circle cx="384" cy="253.2" r="3.3"/><circle cx="384.1" cy="255.4" r="3.3"/><circle cx="383.9" cy="257.6" r="3.3"/><circle cx="383.3" cy="259.8" r="3.3"/><circle cx="384.1" cy="262" r="3.3"/><circle cx="384" cy="264.2" r="3.3"/><circle cx="383.2" cy="266.4" r="3.3"/><circle cx="383.6" cy="268.6" r="3.3"/><circle cx="383.9" cy="270.8" r="3.3"/><circle cx="383.1" cy="273" r="3.3"/><circle cx="383.2" cy="275.2" r="3.3"/><circle cx="383.5" cy="277.4" r="3.3"/><circle cx="384.1" cy="279.6" r="3.3"/><circle cx="384.3" cy="281.8" r="3.3"/><circle cx="383.5" cy="284" r="3.3"/><circle cx="384.2" cy="286.2" r="3.3"/><circle cx="384" cy="288.4" r="3.3"/><circle cx="384.1" cy="290.6" r="3.3"/><circle cx="1139.8" cy="89.4" r="3.3"/><circle cx="1139.8" cy="110" r="3.3"/><circle cx="1139.8" cy="113" r="3.3"/><circle cx="1139.8" cy="116" r="3.3"/><circle cx="1139.8" cy="127.6" r="3.3"/><circle cx="1139.8" cy="139" r="3.3"/><circle cx="1139.8" cy="141.5" r="3.3"/><circle cx="1139.8" cy="149" r="3.3"/><circle cx="1139.8" cy="152.5" r="3.3"/><circle cx="1139.8" cy="160.8" r="3.3"/><circle cx="1139.8" cy="166.3" r="3.3"/><circle cx="1139.8" cy="172" r="3.3"/><circle cx="1139.8" cy="173" r="3.3"/><circle cx="1139.8" cy="180" r="3.3"/><circle cx="1139.8" cy="184" r="3.3"/><circle cx="1139.8" cy="190" r="3.3"/><circle cx="1139.5" cy="193" r="3.3"/><circle cx="1140.3" cy="195.2" r="3.3"/><circle cx="1139.8" cy="197.4" r="3.3"/><circle cx="1139.7" cy="199.6" r="3.3"/><circle cx="1139.5" cy="201.8" r="3.3"/><circle cx="1139.7" cy="204" r="3.3"/><circle cx="1140.1" cy="206.2" r="3.3"/><circle cx="1140.2" cy="208.4" r="3.3"/><circle cx="1139.8" cy="210.6" r="3.3"/><circle cx="1140.1" cy="212.8" r="3.3"/><circle cx="1139.5" cy="215" r="3.3"/><circle cx="1139.7" cy="217.2" r="3.3"/><circle cx="1139.6" cy="219.4" r="3.3"/><circle cx="1139.6" cy="221.6" r="3.3"/><circle cx="1139.6" cy="223.8" r="3.3"/><circle cx="1140.1" cy="226" r="3.3"/><circle cx="1140.1" cy="228.2" r="3.3"/><circle cx="1139.4" cy="230.4" r="3.3"/><circle cx="1139.5" cy="232.6" r="3.3"/><circle cx="1140.1" cy="234.8" r="3.3"/><circle cx="1140" cy="237" r="3.3"/><circle cx="1140" cy="239.2" r="3.3"/><circle cx="1140" cy="241.4" r="3.3"/><circle cx="1140" cy="243.6" r="3.3"/><circle cx="1139.5" cy="245.8" r="3.3"/><circle cx="1139.3" cy="248" r="3.3"/><circle cx="1139.6" cy="250.2" r="3.3"/><circle cx="1139.2" cy="252.4" r="3.3"/><circle cx="1140.4" cy="254.6" r="3.3"/><circle cx="1139.8" cy="256.8" r="3.3"/><circle cx="1140" cy="259" r="3.3"/><circle cx="1140.4" cy="261.2" r="3.3"/><circle cx="1140.2" cy="263.4" r="3.3"/><circle cx="1139.5" cy="265.6" r="3.3"/><circle cx="1139.6" cy="267.8" r="3.3"/><circle cx="1139.3" cy="270" r="3.3"/><circle cx="1140.2" cy="272.2" r="3.3"/><circle cx="1140.1" cy="274.4" r="3.3"/><circle cx="1139.8" cy="276.6" r="3.3"/><circle cx="1139.6" cy="278.8" r="3.3"/><circle cx="1139.5" cy="281" r="3.3"/><circle cx="1139.8" cy="283.2" r="3.3"/><circle cx="1140.1" cy="285.4" r="3.3"/><circle cx="1140.3" cy="287.6" r="3.3"/><circle cx="1140.2" cy="289.8" r="3.3"/><circle cx="1140.2" cy="292" r="3.3"/></g>
<g fill="#4b78a7"><circle cx="278.1" cy="246.4" r="3.3"/><circle cx="278.1" cy="253" r="3.3"/><circle cx="278.1" cy="276.3" r="3.3"/><circle cx="278.1" cy="286.7" r="3.3"/><circle cx="313.3" cy="258" r="3.3"/><circle cx="313.3" cy="274.1" r="3.3"/><circle cx="313.3" cy="282.5" r="3.3"/><circle cx="316.2" cy="288.4" r="3.3"/><circle cx="332.5" cy="228.8" r="3.3"/><circle cx="332.5" cy="273" r="3.3"/><circle cx="332.5" cy="283.8" r="3.3"/><circle cx="328.3" cy="285.1" r="3.3"/><circle cx="338.6" cy="281.2" r="3.3"/><circle cx="303" cy="287.8" r="3.3"/><circle cx="363" cy="283.8" r="3.3"/><circle cx="441.1" cy="208.6" r="3.3"/><circle cx="441.1" cy="226.6" r="3.3"/><circle cx="480.3" cy="220.7" r="3.3"/><circle cx="480.3" cy="256.3" r="3.3"/><circle cx="480.3" cy="271.3" r="3.3"/><circle cx="480.3" cy="285.6" r="3.3"/><circle cx="455" cy="269.5" r="3.3"/><circle cx="455" cy="277.2" r="3.3"/><circle cx="499.4" cy="276.1" r="3.3"/><circle cx="441.8" cy="282.3" r="3.3"/><circle cx="595.3" cy="237.2" r="3.3"/><circle cx="594.7" cy="253.7" r="3.3"/><circle cx="595.3" cy="263.6" r="3.3"/><circle cx="595.3" cy="269.1" r="3.3"/><circle cx="595.3" cy="274.1" r="3.3"/><circle cx="594" cy="280" r="3.3"/><circle cx="595" cy="284" r="3.3"/><circle cx="595" cy="288" r="3.3"/><circle cx="602.8" cy="259.6" r="3.3"/><circle cx="587.4" cy="290" r="3.3"/><circle cx="611.2" cy="293.3" r="3.3"/><circle cx="644.6" cy="199.3" r="3.3"/><circle cx="644.6" cy="231.7" r="3.3"/><circle cx="644.6" cy="255.4" r="3.3"/><circle cx="644.6" cy="269.3" r="3.3"/><circle cx="644.6" cy="276.3" r="3.3"/><circle cx="644.6" cy="279" r="3.3"/><circle cx="634.3" cy="287.8" r="3.3"/><circle cx="644.6" cy="290" r="3.3"/><circle cx="719.2" cy="89.4" r="3.3"/><circle cx="716.6" cy="162.8" r="3.3"/><circle cx="848.5" cy="257" r="3.3"/><circle cx="856.7" cy="257" r="3.3"/><circle cx="856.7" cy="261" r="3.3"/><circle cx="848.5" cy="264.7" r="3.3"/><circle cx="849" cy="283" r="3.3"/><circle cx="852.3" cy="283.4" r="3.3"/><circle cx="864.4" cy="286.2" r="3.3"/><circle cx="858.4" cy="289.3" r="3.3"/><circle cx="828.7" cy="291.5" r="3.3"/><circle cx="925.8" cy="128.3" r="3.3"/><circle cx="928.4" cy="184.2" r="3.3"/><circle cx="925.8" cy="202" r="3.3"/><circle cx="928.4" cy="217.4" r="3.3"/><circle cx="930.6" cy="219.1" r="3.3"/><circle cx="928" cy="240" r="3.3"/><circle cx="926" cy="244" r="3.3"/><circle cx="928" cy="245" r="3.3"/><circle cx="926" cy="248" r="3.3"/><circle cx="928.4" cy="256.5" r="3.3"/><circle cx="925.8" cy="263.6" r="3.3"/><circle cx="928" cy="271" r="3.3"/><circle cx="926" cy="274" r="3.3"/><circle cx="928" cy="277" r="3.3"/><circle cx="926" cy="282" r="3.3"/><circle cx="928" cy="285" r="3.3"/><circle cx="926" cy="288" r="3.3"/><circle cx="928" cy="290" r="3.3"/><circle cx="947.8" cy="261.4" r="3.3"/><circle cx="947.8" cy="278.5" r="3.3"/><circle cx="947" cy="285.6" r="3.3"/><circle cx="959.6" cy="199.3" r="3.3"/><circle cx="959.6" cy="234.5" r="3.3"/><circle cx="959.6" cy="263.1" r="3.3"/><circle cx="969" cy="271.3" r="3.3"/><circle cx="1052.7" cy="201.3" r="3.3"/><circle cx="1103.9" cy="162.4" r="3.3"/><circle cx="1123.5" cy="245.3" r="3.3"/><circle cx="1135.2" cy="269.7" r="3.3"/><circle cx="1102.6" cy="274.1" r="3.3"/><circle cx="1113.2" cy="274.6" r="3.3"/><circle cx="1102.6" cy="283.8" r="3.3"/><circle cx="1135.8" cy="269.7" r="3.3"/><circle cx="1177.2" cy="209" r="3.3"/><circle cx="1177.2" cy="243.8" r="3.3"/><circle cx="1177.2" cy="264" r="3.3"/><circle cx="1177.2" cy="280" r="3.3"/><circle cx="1181.6" cy="280" r="3.3"/><circle cx="1173.9" cy="283" r="3.3"/><circle cx="1168.8" cy="302" r="3.3"/><circle cx="1222.5" cy="125" r="3.3"/><circle cx="1222.5" cy="151.4" r="3.3"/><circle cx="1222.5" cy="207.5" r="3.3"/><circle cx="1222.5" cy="215.6" r="3.3"/><circle cx="1222.5" cy="262.5" r="3.3"/><circle cx="1222.5" cy="268" r="3.3"/><circle cx="1222.5" cy="274.6" r="3.3"/><circle cx="1222.5" cy="286.7" r="3.3"/><circle cx="1234.4" cy="281.2" r="3.3"/><circle cx="1238.8" cy="277.9" r="3.3"/><circle cx="1239.2" cy="288.2" r="3.3"/><circle cx="1270.5" cy="161.3" r="3.3"/><circle cx="1279.9" cy="253" r="3.3"/><circle cx="1277.9" cy="272.4" r="3.3"/><circle cx="1277.9" cy="274.6" r="3.3"/><circle cx="1279.5" cy="287.8" r="3.3"/><circle cx="1283" cy="287.8" r="3.3"/><circle cx="288.9" cy="290" r="3.3"/><circle cx="324.9" cy="293.9" r="3.3"/><circle cx="309.5" cy="289.3" r="3.3"/><circle cx="318.9" cy="294.6" r="3.3"/><circle cx="344.5" cy="291.6" r="3.3"/><circle cx="443.2" cy="291.9" r="3.3"/><circle cx="486.8" cy="289.7" r="3.3"/><circle cx="463.3" cy="289.3" r="3.3"/><circle cx="475.4" cy="292.8" r="3.3"/><circle cx="589.4" cy="295.9" r="3.3"/><circle cx="620.5" cy="292.7" r="3.3"/><circle cx="640.5" cy="290.8" r="3.3"/><circle cx="739.4" cy="290.1" r="3.3"/><circle cx="755.2" cy="296" r="3.3"/><circle cx="722.5" cy="290.5" r="3.3"/><circle cx="867.5" cy="294.9" r="3.3"/><circle cx="869.6" cy="291.2" r="3.3"/><circle cx="842.8" cy="291.5" r="3.3"/><circle cx="943.7" cy="293.1" r="3.3"/><circle cx="933.5" cy="294.4" r="3.3"/><circle cx="947.3" cy="293.5" r="3.3"/><circle cx="1040.5" cy="293.9" r="3.3"/><circle cx="1032.3" cy="293.1" r="3.3"/><circle cx="1109.7" cy="289.6" r="3.3"/><circle cx="1129.6" cy="294.4" r="3.3"/><circle cx="1177.3" cy="293.6" r="3.3"/><circle cx="1237.4" cy="291.5" r="3.3"/><circle cx="1274.5" cy="289.8" r="3.3"/><circle cx="964.9" cy="90.2" r="3.3"/><circle cx="964.9" cy="107.8" r="3.3"/><circle cx="964.9" cy="130.5" r="3.3"/><circle cx="964.9" cy="133" r="3.3"/><circle cx="964.9" cy="137" r="3.3"/><circle cx="964.9" cy="157.5" r="3.3"/><circle cx="964.9" cy="168.5" r="3.3"/><circle cx="964.9" cy="172.3" r="3.3"/><circle cx="964.9" cy="182.2" r="3.3"/><circle cx="964.9" cy="188.8" r="3.3"/><circle cx="964.9" cy="196.5" r="3.3"/><circle cx="964.9" cy="204.6" r="3.3"/><circle cx="964.9" cy="213" r="3.3"/><circle cx="964.9" cy="215" r="3.3"/><circle cx="964.9" cy="218.5" r="3.3"/><circle cx="964.9" cy="224" r="3.3"/><circle cx="964.9" cy="231.7" r="3.3"/><circle cx="965" cy="238" r="3.3"/><circle cx="965.5" cy="240.2" r="3.3"/><circle cx="965.1" cy="242.4" r="3.3"/><circle cx="965.4" cy="244.6" r="3.3"/><circle cx="965" cy="246.8" r="3.3"/><circle cx="964.5" cy="249" r="3.3"/><circle cx="964.9" cy="251.2" r="3.3"/><circle cx="964.9" cy="253.4" r="3.3"/><circle cx="964.7" cy="255.6" r="3.3"/><circle cx="964.7" cy="257.8" r="3.3"/><circle cx="964.9" cy="260" r="3.3"/><circle cx="965" cy="262.2" r="3.3"/><circle cx="964.6" cy="264.4" r="3.3"/><circle cx="964.6" cy="266.6" r="3.3"/><circle cx="964.9" cy="268.8" r="3.3"/><circle cx="964.9" cy="271" r="3.3"/><circle cx="964.6" cy="273.2" r="3.3"/><circle cx="965.4" cy="275.4" r="3.3"/><circle cx="963.9" cy="277.6" r="3.3"/><circle cx="965" cy="279.8" r="3.3"/><circle cx="964.2" cy="282" r="3.3"/><circle cx="965.8" cy="284.2" r="3.3"/><circle cx="965.6" cy="286.4" r="3.3"/><circle cx="965.8" cy="288.6" r="3.3"/><circle cx="965" cy="290.8" r="3.3"/></g>
</g>
</g>
<g id="lower">
<g stroke-linecap="round" stroke-width="6.6" fill="none">
<rect x="171.0" y="367.5" width="52.0" height="10.8" fill="#fdcaca"/>
<path stroke="#fdcaca" d="M194.2 372.5h0M188.6 382.1h0M182.6 371.3h0M187.1 378.7h0M213 372h0M213 377.7h0M193.7 371.5h0M209.4 372.3h0M179.7 378h0M194.3 372.4h0M201.3 371.7h0M175.2 372.3h0M191.5 370.8h0M191.2 375.2h0M189.4 374.3h0M202.7 371.4h0M175.2 374.3h0M202 371.9h0M183.4 376.8h0M215.6 371.6h0M200.9 373.4h0M188.9 370.9h0M189.1 374h0M201.6 373h0M179.9 371.5h0M188.4 372.5h0M190.8 378h0M179.6 384.1h0M185.2 376.8h0M185.4 373.5h0M191.4 370.9h0M210.5 376h0M186.5 375.4h0M196.1 384.3h0M176.8 372.3h0M184.6 373.8h0M209.6 376.5h0M199.2 372.3h0M210.6 371.1h0M186.1 375.1h0M194.3 386.2h0M178.4 372.7h0M183.9 370.8h0M178.5 371.1h0M191 372.6h0M197.4 371.9h0M206.2 373.1h0M218.9 371.4h0M197.5 372.9h0M191.2 376.9h0M183.8 377.3h0M190.5 372.1h0M202.2 373.4h0M187.2 371.1h0M217.7 372.2h0M179.5 374.1h0M198.5 372h0M189.2 376.6h0M189.7 372.5h0M217.7 372.2h0M192.6 371.3h0M204.4 374.2h0M194.6 372.4h0M184.9 375.6h0M195.1 376.3h0M191.3 374.9h0M175.6 371.6h0M217.9 374.4h0M205 372.9h0M195.7 371.5h0M182.2 374h0M205.8 371.7h0M203.6 371.3h0M202.1 371.4h0M197.4 372h0M199.3 371.2h0M196.2 373.8h0M180.4 371.9h0M205.1 373.2h0M202.3 375.5h0M200.2 371.6h0M194.4 376.3h0M200 375.1h0M190.8 372.6h0M218.3 376.2h0M203.9 371.1h0M202.1 370.9h0M216.7 381.9h0M207.4 371.8h0M212.7 371.4h0M211.9 373.1h0M175 377.7h0M194.3 376.3h0M205.6 373.2h0M213.5 371.5h0M215.1 372.1h0M175.5 372.1h0M177.3 371h0M202.6 371.2h0M181.5 371.9h0M187 378.6h0M215.4 377.1h0M219.2 372.6h0M210.4 371.8h0M216.4 376h0M207.5 371.6h0M178.5 378.8h0M199.4 373.7h0M213.4 371.3h0M206 372.7h0M210 372.7h0M183.2 380.5h0M187.1 375h0M212 371.7h0"/>
<rect x="227.0" y="367.5" width="45.6" height="10.8" fill="#fdcaca"/>
<path stroke="#fdcaca" d="M244.2 371.5h0M243.8 374.9h0M256 372.4h0M250.8 371.3h0M266.1 372.8h0M250.1 375.6h0M238 374.8h0M244.1 376h0M234 371.8h0M255.1 372.8h0M245 373.5h0M238.8 372.6h0M230.4 375.8h0M240.2 376.3h0M251.8 373.7h0M254.7 371.2h0M260.6 371.9h0M263.9 375.6h0M256.7 376h0M247.3 374.3h0M267.5 371.4h0M234.2 372.4h0M250.2 371.3h0M238.9 377h0M245.4 371.3h0M237.4 373.5h0M237.7 372.8h0M251.3 372.6h0M249.9 376.4h0M231 379h0M238.1 370.9h0M260.2 373.4h0M251.3 371.6h0M260.8 371.9h0M258.7 371.6h0M252.6 374h0M244.8 372.8h0M232.8 374h0M257.3 371.3h0M251.8 374.9h0M234.2 376.5h0M264.2 371h0M240 371.1h0M240.2 371.1h0M249.4 371.7h0M242 372.7h0M244.8 375.6h0M258.5 371.2h0M239 370.8h0M243.1 371.2h0M257.5 375.5h0M269.1 371.5h0M231.7 375.2h0M246.4 379.1h0M245.6 372h0M233.1 380h0M250.3 372.6h0M247.3 375.3h0M262.7 372.8h0M237.2 372.4h0M265.1 372.4h0M256.1 373.3h0M248.3 373.5h0M239.9 373.3h0M264 371.1h0M244.7 377.4h0M268.5 370.8h0M254.8 373.9h0M263.2 372.8h0M235.4 371.9h0M258.1 374.8h0M238.3 374h0M255.9 374.1h0M231.2 372.6h0M243 373.6h0M243.4 371.2h0M256.4 371.8h0M261.1 371.9h0M251.6 375.9h0M234.8 374.9h0M233 379.3h0M231.3 374.8h0M244.7 371.4h0M245.7 373h0M246.5 371.2h0M250.7 371.9h0M268 372.3h0M247.3 371.6h0M268.1 372h0M255.5 376.3h0M245.6 375.2h0M241.2 371.2h0M231.9 372.6h0M264.4 371.5h0M247.5 375.3h0M241.1 371.3h0M250.6 372.5h0M266.9 377.9h0M239.6 373.4h0M246.5 370.9h0"/>
<rect x="272.6" y="367.5" width="91.4" height="10.8" fill="#df5157"/>
<path stroke="#df5157" d="M277.5 372.3h0M286.6 372.8h0M277.2 371.3h0M294.8 371.1h0M283.6 371.5h0M319.8 371.3h0M345.5 372.5h0M297.3 371.7h0M347.1 370.9h0M338.8 371.1h0M356 372.4h0M326.6 377h0M284.4 371h0M334.7 373.5h0M337 371.8h0M318 371.4h0M313 371.8h0M325.6 371.9h0M299.2 374h0M283.2 375.8h0M317.9 371.6h0M285.6 373h0M318.6 374.7h0M307.6 372.4h0M351.6 371.8h0M359.1 377.7h0M359.9 379.7h0M297.7 376h0M327.8 371.5h0M360.5 374h0M344.6 373.3h0M282.6 377h0M290.8 371.7h0M328.2 371.5h0M315.1 374.7h0M284 374.2h0M284.8 372.8h0M331 374.4h0M279.6 371.5h0M357.3 372.3h0M311.9 372.3h0M334.9 375h0M331 372.4h0M324.2 373h0M291.8 380.1h0M357.7 375.5h0M360.1 372.7h0M347.1 371.7h0M338.9 374.7h0M355.5 376.4h0M350.5 371.8h0M342.7 372.8h0M302.4 372.2h0M343.6 376.5h0M347.5 374.2h0M290.3 371.3h0M324.1 371.5h0M304.4 371.1h0M289 374.7h0M294.9 376.6h0M303.8 376.7h0M301.6 371.8h0M309.4 370.8h0M312.8 372.3h0M277 376.9h0M307.7 370.8h0M357.3 371.6h0M297.4 370.9h0M284.3 374.6h0M325.3 373h0M296.8 371.8h0M358.2 372.2h0M359.8 377.6h0M286.5 376.6h0M277.7 374.6h0M344.6 374.5h0M322.5 376h0M289 373.2h0M298.4 372.4h0M292.1 374.6h0M324.5 375.5h0M329.2 373.6h0M354.1 376h0M324 372h0M354.6 372.2h0M284.6 372.1h0M335.8 379.1h0M330.7 374.2h0M355.4 375.5h0M313.7 372.7h0M340.3 372h0M285.2 373.8h0M344.5 371.7h0M333.9 377.7h0M286.7 371.3h0M317.7 372.1h0M356.4 386.8h0M313.7 375.7h0M329.5 371.4h0M358.3 371.4h0M282.3 372.7h0M277.4 372.8h0M310.8 380.4h0M311 376.7h0M342 373.5h0M296.1 371.9h0M317.6 372.4h0M330.6 373h0M303.3 373.7h0M360.4 371.5h0M304.4 370.8h0M283.9 371h0M311.8 376.4h0M335.1 381.3h0M346.9 373.5h0M325.1 370.8h0M308.4 371.7h0M328.5 371h0M321.9 372.3h0M317.6 372.4h0M284.6 374.9h0M343.8 373.6h0M285.7 373.6h0M349.8 384.2h0M340.2 370.9h0M350.4 374.2h0M299.4 378.6h0M346 377.8h0M296.9 373.5h0M308 371.9h0M340.5 373.8h0M304 373.2h0M354.6 373.4h0M353.4 373.4h0M360 370.9h0M314.9 373.3h0M337.5 381.5h0M328.8 372.8h0M329.7 373.2h0M335.7 379.9h0M277.1 372h0M350.2 371h0M342.9 370.9h0M330.9 375.8h0M296.1 372.3h0M295.1 374.6h0M320.7 373.7h0M303.5 373.5h0M356.8 375.5h0M356.6 371.7h0M319.7 372.3h0M305.2 375.8h0M290.7 373.3h0M341.5 379.3h0M277.5 371.8h0M317.7 379.3h0M289.7 376.5h0M309.6 373.3h0M354.6 371h0M303.8 371.3h0M287.2 371.9h0M335.3 373.5h0M286.2 375.8h0M318.9 371.3h0M345.5 376.1h0M294.3 379.5h0M344.6 371.6h0M276 377.1h0M345.9 371.1h0M340.9 375.4h0M329.6 376.3h0M359.4 372h0M346.6 378.7h0M302.5 374.4h0M333.9 376.7h0M324 371.8h0M297.2 373.2h0M287.4 376.9h0M351.3 371.7h0M335 374.3h0M286.2 375.5h0M340.9 371.9h0M284.2 371.8h0M341.3 372.7h0M345 371.3h0M284.9 372.1h0M350.5 371.3h0M282.1 375.1h0M283.6 374.2h0M283 371.7h0M332.2 377.2h0M310.6 372.7h0M278.5 372.1h0M296.4 375.6h0M336.5 375.6h0M321 374.5h0M286.7 372.3h0M300.7 371.8h0M338.6 371.5h0M303.5 371.8h0M349.2 374h0"/>
<rect x="364.0" y="367.5" width="74.0" height="10.8" fill="#fdcaca"/>
<path stroke="#fdcaca" d="M411.8 371.9h0M402 371.9h0M397.4 372.8h0M428.8 378.1h0M429.7 372.8h0M432.3 371.3h0M429.4 374h0M426.1 372.5h0M434.1 370.9h0M424.4 376.1h0M392.5 376.3h0M381.7 375.1h0M398.9 372.4h0M380.5 375.8h0M416.6 371.1h0M433.2 371.6h0M392.6 372.5h0M406.2 377.7h0M431 373.9h0M391.9 371.2h0M371.9 373.1h0M406.6 372.6h0M433.5 372.5h0M391 372.5h0M378.9 379.5h0M407.1 373.2h0M396 371.7h0M388.6 372.9h0M397.4 382.8h0M405.3 371.5h0M370.9 371.3h0M390.6 375.5h0M427.2 371.6h0M419.9 372.6h0M403.5 373.2h0M370.2 371h0M412.3 374.4h0M392.9 378.6h0M422.6 371.9h0M371.8 373.3h0M411.4 371.6h0M370.3 372.9h0M369.6 374.9h0M409.5 371.8h0M397.3 371.6h0M379.8 371.4h0M422.3 372.7h0M415.5 372.1h0M421.7 373.6h0M411.4 372.3h0M405.2 371.5h0M432.9 374.3h0M403.2 374h0M374.1 372.1h0M382.8 376.5h0M368.2 372.6h0M425.8 375.5h0M415.7 371.9h0M383 374.6h0M387.4 374.8h0M390.9 375.2h0M405.9 376h0M433.7 372.3h0M433.8 370.8h0M426.4 370.9h0M404.1 372.3h0M419.2 372h0M381.3 375.6h0M404.4 375.2h0M400.3 370.9h0M419.3 371.6h0M399.1 370.8h0M384.8 374.2h0M418.8 373.9h0M397.2 374.9h0M412.4 371.5h0M403.4 373.6h0M416.4 371.5h0M388.2 372.1h0M373.8 372.1h0M416.5 373.5h0M379 374.9h0M375.2 375.1h0M377.3 371.1h0M384.3 373h0M385.5 377.5h0M430.5 371.8h0M417.8 374.5h0M405.1 371.7h0M431.3 380.5h0M368.2 372h0M388.9 371.5h0M396.3 377.9h0M368.9 376.4h0M388.1 370.8h0M427.9 371.8h0M381.6 371.2h0M392.1 371.2h0M379.4 371.7h0M406.3 372.6h0M387.9 373.1h0M419.5 374.8h0M390.5 378.6h0M420.6 373.4h0M399.4 372h0M376.3 377.5h0M408.3 371.1h0M429.7 377.6h0M369.6 374.5h0M383.4 373.2h0M423.5 372.1h0M400.9 374.2h0M380.3 373.9h0M396 383.3h0M379.9 374.6h0M370.1 371.8h0M375.2 371.3h0M402.9 371.4h0M420.9 371.1h0M409.3 376.9h0M375.8 371.6h0M418.9 372.8h0M430.1 372.1h0M394.1 380.6h0M390.5 381.3h0M427.4 371.5h0M404.1 379.6h0M375.2 376.7h0M419.5 375.1h0M407.8 371.1h0M431.9 371.1h0M420.1 374.8h0M388.7 374.4h0M395 375.1h0M370.2 379.2h0M393.2 375.8h0M399.1 376h0M387.6 373.2h0M369 372.9h0M372.6 376.9h0M413 372.5h0M433 379.9h0M431.8 371.1h0M414.8 374.8h0M408.1 370.8h0M429.6 372.6h0M407.4 376h0M385.8 370.9h0M429.5 371.8h0M370.1 371.3h0M434.4 375h0M381.4 371.3h0M427.8 374.2h0M406.6 371.2h0M395.2 379.9h0M367.5 372.5h0M371.1 386.8h0M374.3 380.3h0M424 374.9h0M370.1 374.5h0M400.5 372.9h0M377.1 373h0"/>
<rect x="438.0" y="367.5" width="73.3" height="10.8" fill="#df5157"/>
<path stroke="#df5157" d="M462.2 371.2h0M469.2 370.9h0M502.7 372.9h0M499.9 374.5h0M490 375.2h0M461.4 374.8h0M455 373.3h0M481 375.4h0M452.5 372.1h0M496.3 375.9h0M506.5 371.2h0M455.3 371.1h0M489.6 375h0M484.5 375.5h0M475.7 373.4h0M502.7 374h0M485.1 373.6h0M474.2 375.2h0M479.5 371.2h0M469.7 372.5h0M470.1 373.4h0M465.4 372.3h0M469.8 372.2h0M506.1 371.1h0M442.4 374.8h0M467.7 372.6h0M480.8 372.2h0M457.3 370.8h0M499.6 379.5h0M460.4 372.7h0M462.9 371h0M500.8 376.4h0M457.4 371.7h0M487.9 375.7h0M472.6 372.3h0M456.9 375.8h0M498.9 376.9h0M448.9 373.6h0M507 374.7h0M471.9 371.3h0M445.3 374.9h0M445.9 375.9h0M485.7 372.8h0M500.8 379.2h0M482.4 371.1h0M480.6 372.5h0M457.9 379h0M490 371.2h0M456.6 372.1h0M479.5 372h0M470.6 376h0M453.4 374.7h0M463.4 379.8h0M504.8 372h0M481.7 371.2h0M468.7 373.8h0M483.9 372.1h0M443.6 371.2h0M478.7 371.4h0M461.7 373.8h0M501.4 373h0M458.3 373.5h0M459.7 375.5h0M451.7 371.7h0M470.6 378.2h0M452.3 371.5h0M450.1 371.5h0M463.5 372.4h0M492 372.4h0M473 372.4h0M492.9 378h0M469.7 378.7h0M458 382.6h0M476.3 374.4h0M466.7 371.8h0M450.3 377.5h0M465.3 374.5h0M472 373.1h0M455.1 371.4h0M463.7 374.3h0M477.5 370.8h0M488.7 372.6h0M445.9 371.7h0M455.4 376.2h0M478 372h0M457.9 371.9h0M460 372.1h0M494 375.6h0M487.9 377.5h0M484.9 371.2h0M444.3 371.4h0M458.5 373.1h0M496.1 373.5h0M470 371.7h0M506.8 375.1h0M464.1 370.9h0M506.8 371.7h0M497.8 371.2h0M484.9 372.2h0M500.6 371.9h0M448 371.5h0M495 382.7h0M484.2 374.3h0M460.1 371.8h0M447.1 383.8h0M444.2 373.7h0M464.6 371.4h0M470.4 379.1h0M457.8 371.4h0M483.3 374.1h0M475.4 371.4h0M499.6 371.2h0M452.9 371.7h0M475.6 372.8h0M478.2 374.8h0M500.9 372.8h0M444.1 376.3h0M442.5 372h0M450.8 373.7h0M493.5 371.2h0M460.9 376.7h0M487.3 371.2h0M487.1 375.7h0M468.6 371.3h0M485.3 372h0M450.2 371.4h0M468.1 371.2h0M467 373.3h0M478.1 372.4h0M494.7 371.1h0M463.3 379.2h0M498.9 378.7h0M492.3 373.2h0M493.8 373.4h0M449.1 371.7h0M447.8 377.2h0M462.8 372.4h0M477.2 371.1h0M488.4 375.7h0M494.4 377.4h0M462.5 371.3h0M492.1 374.5h0M466.1 372.1h0M451.5 376.3h0M472 376h0M464 372h0M475.5 375h0M500.2 372.2h0M487.6 372.4h0M498.8 375.2h0M478.3 372.2h0M459.6 377.5h0M494.7 371.9h0M446.9 371.5h0M505.6 370.9h0M495.3 373.1h0M478.3 373.2h0M468.7 373.3h0M447.3 378.6h0M448.2 371.3h0M486.2 374h0"/>
<rect x="511.3" y="367.5" width="74.2" height="10.8" fill="#fdcaca"/>
<path stroke="#fdcaca" d="M535.2 374.9h0M547.5 375.8h0M539.2 377.4h0M560.9 372.7h0M552.6 375.9h0M550.4 380.8h0M515.1 377.9h0M562.9 372.9h0M572.1 371.3h0M537.4 374.7h0M570.3 372.2h0M581.8 374h0M517.7 371.2h0M519.8 373.4h0M536.4 371.7h0M544.9 371.1h0M576 376.4h0M552.4 372.6h0M535.4 373.7h0M538 382.3h0M579.2 374.8h0M570.4 371h0M523 372.1h0M523.1 372.5h0M581.3 376.4h0M579.4 371.6h0M529.6 370.9h0M533.1 371h0M550.3 371.9h0M560.1 373.4h0M555 371.9h0M564.3 374.4h0M562.9 372.8h0M546 371.8h0M517.3 372.7h0M556.3 371.4h0M572.7 377.3h0M572.3 376h0M547.6 371.4h0M532.9 374.9h0M581.2 371.2h0M515 372.2h0M538.2 373.6h0M522.2 376.6h0M537.5 378.2h0M536.9 371.9h0M526.5 381.3h0M554.4 376.2h0M518.9 373.2h0M564.2 383.6h0M577.9 371.1h0M539.8 386.8h0M550.8 380.6h0M531.7 370.9h0M578.6 371.7h0M552.5 372.2h0M553.6 379.2h0M578.6 377.3h0M532 376.1h0M515.8 372.5h0M578.4 371.7h0M539.4 373.5h0M530.6 374.6h0M558.7 371.1h0M576.8 371h0M561.7 372.1h0M524.3 371.1h0M582 375.8h0M545.6 375.7h0M580.2 378.9h0M550.6 371.8h0M549.7 383.1h0M564 374.2h0M571.6 372.4h0M552.4 376.7h0M528.1 376.9h0M516.3 373.2h0M553.5 371.3h0M576.9 372.6h0M527.1 372.4h0M554.6 372.5h0M514.8 371.1h0M562.8 371.2h0M531.9 375.9h0M572.8 377.4h0M526.4 370.8h0M565.6 373.6h0M539.2 370.9h0M543.8 371.6h0M554.3 383h0M528.8 371h0M561.5 371.2h0M529.7 372.6h0M581.3 372h0M536 372.8h0M525.6 372.4h0M561.9 372h0M568.4 371.4h0M521.5 373.9h0M545.2 378.6h0M521.7 375.1h0M559.9 372.2h0M523.3 373.7h0M565.9 372.8h0M546.5 374.4h0M555.8 372.5h0M527.2 372.7h0M551.8 377.8h0M581.8 373.3h0M536.8 371.6h0M557.2 375h0M531.4 374.4h0M582.1 372.3h0M578.1 372.6h0M558.7 377h0M528.3 372.1h0M581.1 371h0M535.3 372.8h0M565 373.9h0M577.5 374.2h0M514.7 371h0M517.1 372.6h0M516.4 373.1h0M557.4 371.5h0M572.5 372.5h0M579.5 372.2h0M556.5 373.2h0M532.4 375.5h0M514.9 371.7h0M536.3 377.4h0M548.4 370.9h0M534.8 373.7h0M569.3 371.2h0M567.3 372.3h0M550 372.5h0M544.2 385.2h0M576.7 378.6h0M564.3 374.5h0M524.2 370.9h0M570.8 374.3h0M557.2 372h0M532.7 378.7h0M550.6 370.9h0M537.6 372.1h0M519.2 382.6h0M575.6 376h0M514.9 372.5h0M522.1 374.8h0M569.3 375.6h0M568.1 371.2h0M515.5 371.1h0M571.5 376.3h0M549.5 371.6h0M572.5 371.2h0M536.6 370.8h0M581 372.5h0M566.7 375.8h0M553.9 384.2h0M567 378.9h0M579.7 371.1h0M565.3 371.6h0M536.5 372.1h0M581.4 371h0"/>
<rect x="585.5" y="367.5" width="62.8" height="10.8" fill="#df5157"/>
<path stroke="#df5157" d="M611.7 373.4h0M593.1 371.1h0M606.3 371.2h0M591.5 374.7h0M629.9 373.8h0M600.4 374.8h0M635.2 373.8h0M601.6 373.4h0M611 371.8h0M597.1 377h0M624.3 379.2h0M598.5 371.8h0M617.4 371h0M605.8 373.2h0M615.9 378.3h0M621.2 373.9h0M621.7 375.6h0M609.4 370.8h0M643.9 375.7h0M595.9 371.2h0M601.3 374.1h0M596.2 370.9h0M616.6 370.8h0M603.4 372.3h0M600.3 370.8h0M603.4 371.7h0M607 372.5h0M609 372h0M589.9 376.4h0M630.3 372.9h0M589 371.6h0M639.4 372.7h0M600.3 376.1h0M638.9 371.2h0M617 373.4h0M595.4 372h0M623.5 374.3h0M624.1 373.8h0M610 371h0M589.7 376.4h0M637.4 378.1h0M593.1 375.3h0M598.5 372.1h0M600.1 376.9h0M634.8 376.3h0M610.2 379.3h0M603.4 373.4h0M626.6 371.6h0M610.3 371.1h0M633.6 371.4h0M596.4 371.8h0M624.8 373.9h0M618.3 376.8h0M631.1 371.5h0M618.8 371.4h0M602.4 371.3h0M593.1 372.1h0M638.6 374.1h0M593.7 371.6h0M622 373.1h0M590.3 371.1h0M620.6 373.6h0M593.3 375.4h0M602.3 373.6h0M618.6 372.1h0M642 372.4h0M612.6 373.2h0M636 384.4h0M632 373.2h0M629.1 374h0M642.7 381.7h0M631.5 371.6h0M620.7 372.6h0M601.8 375.5h0M601.2 374.6h0M616.3 372.5h0M628.5 374.8h0M644.4 386.8h0M633.8 371.7h0M626.4 372.9h0M641.7 372.6h0M608.9 370.9h0M615.2 373.2h0M606.1 371.1h0M616 371h0M598.4 372.6h0M608.4 372.9h0M618.6 372.3h0M596.3 370.9h0M620.2 381.7h0M604.6 372.1h0M606.8 375h0M616.5 375.7h0M589.1 371.2h0M600.4 372.2h0M611.2 372.3h0M643.1 372.6h0M621.1 381.1h0M624.9 373.6h0M635.3 372.1h0M590.8 380.6h0M618.8 373.5h0M592.5 375h0M609.8 374h0M604.7 378.6h0M609.5 371.8h0M639 371.6h0M604 372.9h0M643.9 371.2h0M600.6 375.7h0M593 372.5h0M632.8 374.7h0M633.4 371.2h0M638.8 372.2h0M634.6 372.8h0M638.9 372.8h0M603.3 371.3h0M616.7 371h0M598 377.2h0M621 377h0M597.3 372.8h0M615.1 371.2h0M603.6 378.7h0M629.5 373h0M623.1 376.9h0M642.4 373.6h0M591.6 377.2h0M598.1 371.7h0M596.5 373h0M621.5 372.7h0M615.2 371.3h0M629.2 373.2h0M606.2 376.4h0M641.6 378.7h0M644.2 371h0M610.6 372.7h0M603.2 375h0M639.7 371.3h0"/>
<rect x="648.3" y="367.5" width="61.3" height="10.8" fill="#fdcaca"/>
<path stroke="#fdcaca" d="M702.2 371.6h0M699.6 371.6h0M654.2 371.1h0M655.8 372.3h0M704.8 372.2h0M690.8 370.9h0M679.8 373.2h0M657 373.5h0M676 372h0M697 374.4h0M658.2 371.1h0M654.5 371.7h0M686.4 381.5h0M704.6 377h0M658.4 375.7h0M693.3 372.8h0M706.1 373.6h0M658.1 371.6h0M658.7 373.7h0M685.7 376.8h0M652.2 370.8h0M704.8 371.7h0M666.1 377h0M657.7 375.7h0M700.7 373.4h0M684.9 370.8h0M684.8 373.7h0M693.8 373.1h0M657.8 371.6h0M687.3 371.1h0M657.4 371.7h0M695.2 373.3h0M671.1 381.1h0M683.4 371.6h0M682.5 376.8h0M671.8 372.6h0M683.2 384.3h0M686.5 371.4h0M683.4 372h0M677.5 374.7h0M652.7 373h0M668.8 373.6h0M696.5 372.8h0M686 371.9h0M665.6 373h0M680.7 371.6h0M693.4 372.9h0M671 371.7h0M697.4 378h0M702.9 371.7h0M655.5 373.9h0M653 376.8h0M688.7 372.1h0M675.7 374.4h0M660.4 372.2h0M694.6 374.3h0M683.6 371.1h0M663.5 371.7h0M653.3 374h0M682.9 378.8h0M681.9 378.6h0M677.2 373.1h0M667 372.7h0M702.8 372.9h0M651.7 372.2h0M662.4 373.8h0M679.5 372.8h0M702.3 375.3h0M656.4 370.9h0M689.9 373.6h0M687.3 373h0M653.6 372.7h0M697.3 373.7h0M654 371.2h0M701.1 373.2h0M660.6 374.6h0M702.2 377h0M686.9 375.9h0M656.4 372.7h0M695.9 372.1h0M659.5 377h0M690.1 370.8h0M655.1 373.3h0M703.8 373.8h0M699.5 371.1h0M683.1 371.4h0M669.8 371.3h0M677 370.9h0M687.5 374h0M701.1 375.3h0M655.7 377.1h0M681.3 379.3h0M678.5 371.1h0M690.1 371.4h0M705.4 373.2h0M701 372.9h0M669.5 374.2h0M690.4 372.7h0M666.7 372.5h0M690.7 371.6h0M660.2 372.9h0M687.6 371h0M666.5 381.8h0M666.2 375.4h0M668.3 371.1h0M678.2 377.1h0M694.1 371h0M690.1 373.8h0M678 374.2h0M680.1 371.4h0M689.6 371.2h0M668.6 376.7h0M682.7 373h0M690.4 372.9h0M672.6 373.3h0M652.8 372.1h0M653.8 386.8h0M701.3 374.1h0M660.3 376.8h0M667.1 375.9h0M687.2 373.7h0M692.2 371.8h0M697.2 373.2h0M693 376.5h0M665.5 372.4h0M671.4 371h0M699.5 374.4h0M678.4 373.2h0M699.7 371h0M671.2 374.4h0M680.8 372.9h0M665.8 371.6h0M688.3 372.1h0M702.9 378h0"/>
<rect x="709.6" y="367.5" width="59.4" height="10.8" fill="#df5157"/>
<path stroke="#df5157" d="M758.1 371h0M763.1 374h0M733.4 372.5h0M745 373.1h0M758.7 377.8h0M730.1 370.8h0M754 374h0M747.5 371h0M716.9 377.9h0M732.1 372.8h0M764.3 371.5h0M746.4 371h0M742.5 375h0M721.2 375.2h0M764 376.2h0M754.6 379.9h0M750.7 373.3h0M756.4 375.9h0M746.1 374.2h0M722.3 372.1h0M730.1 376.9h0M754.2 371.9h0M765.4 371h0M716.2 372h0M717 380.1h0M731.8 372.3h0M758 373.2h0M746.2 372.6h0M737.2 380.6h0M727.5 373.1h0M738.2 371.3h0M720.6 373h0M755.1 372.6h0M716 379.3h0M720.2 377.5h0M715.3 374.1h0M720.6 371.7h0M735.2 375.2h0M735.9 372.5h0M734.1 373.1h0M727.7 380.3h0M723 371.2h0M741.9 372.1h0M751 370.9h0M748.6 372.2h0M761.9 371.9h0M735.8 372h0M741.1 371.8h0M748.3 372.4h0M750.3 371.9h0M737 373.3h0M750.8 374.1h0M735.6 371.1h0M718.8 371.3h0M722.6 371.4h0M747.9 372.1h0M760.8 371.6h0M725.9 371.4h0M720.5 374.4h0M743.4 371.7h0M755.7 374.3h0M735.5 373.7h0M747.6 372.6h0M717.7 372.2h0M762.9 372.2h0M746.6 371.1h0M753.8 377h0M732.6 372.2h0M740 371.7h0M724 371.2h0M749.2 373h0M763.4 381h0M759.1 379.8h0M757.2 370.9h0M719.7 382.4h0M759 373.8h0M745.6 372.6h0M735.3 371.3h0M741.8 371.8h0M719.3 377.1h0M743.2 377.3h0M728.4 373.5h0M727.5 376.3h0M723.9 374h0M742.2 372h0M717.1 372.9h0M740.5 376.1h0M723.6 371.4h0M729 375.8h0M725.2 373.9h0M714.6 371.1h0M750.3 372.9h0M718.9 372.8h0M762.6 372.3h0M742.3 372.5h0M739.6 370.9h0M759.5 373.5h0M731.2 371.8h0M722.8 379.2h0M757.3 372.3h0M744.7 373.3h0M723.5 370.9h0M751.7 371.4h0M742.7 370.9h0M714.1 371.4h0M747.4 373.7h0M765.2 374.1h0M740.5 370.8h0M763.5 372.9h0M758.2 370.9h0M757 372.8h0M724.3 372.4h0M716.9 373.5h0M724.5 374.5h0M722.1 374.4h0M745.5 374.7h0M763.1 371.9h0M749 372.4h0M760.1 376.2h0M753.2 373.6h0M726.7 378.2h0M764.1 380.1h0M730.8 376.1h0M748.7 376.5h0M755.3 372.7h0M733.8 375.7h0M747.5 373.2h0M759 370.9h0M713.6 372.7h0M718 376.5h0"/>
<rect x="769.0" y="367.5" width="16.0" height="10.8" fill="#fdcaca"/>
<path stroke="#fdcaca" d="M778.8 379h0M779.5 373.2h0M775.6 371.1h0M773.2 373.2h0M780.6 377h0M774 375.1h0M779.9 372.8h0M780.4 371.4h0M775.5 373h0M779.1 372.6h0M775.1 377.1h0M776 372.5h0M774.4 372.8h0M778.9 372.2h0M778.5 372.9h0M772.4 381h0M775 373.2h0M781.3 371.5h0M772.9 371.5h0M773.7 376.7h0M777.2 370.9h0M774.9 373h0M773.9 371.9h0M780.8 372.6h0M774.5 373.6h0M773.4 373.1h0M778.4 371.1h0M777.5 371.9h0M779.3 373.8h0M780.8 373.7h0M774 371.4h0M778.9 376h0M772.9 372.5h0M775 372.8h0M780.5 373.3h0"/>
<rect x="789.5" y="367.5" width="33.3" height="10.8" fill="#fdcaca"/>
<path stroke="#fdcaca" d="M800.2 373.8h0M802.8 372.8h0M807 374.2h0M797.3 376.4h0M797.1 372h0M815.5 383.9h0M802.6 380.2h0M793.8 380.4h0M798.2 370.9h0M813.1 371.3h0M812.9 370.8h0M796.1 372.2h0M795.1 372.8h0M802 375h0M806 381.2h0M815.3 371.4h0M817.3 377.8h0M807.9 373.1h0M797.3 372h0M798.7 371.5h0M809.2 372h0M813.3 373.4h0M814.9 371.1h0M815.4 373h0M809.7 371.6h0M811.4 372.4h0M812.1 373.5h0M796.5 371.9h0M812.9 370.8h0M809.7 373.2h0M811.9 372h0M805.5 372.8h0M812.8 371h0M806.4 371.7h0M808.5 371.7h0M798.3 371.6h0M816.7 372.2h0M816.3 374.9h0M800 373.3h0M793 379.2h0M809.6 371.2h0M806.7 372.9h0M810.7 371.9h0M817.1 373.8h0M794.7 376.1h0M816.4 371.9h0M811.8 376.9h0M816.3 371h0M815.1 371.7h0M814.2 374.4h0M805.2 378h0M814.2 386.8h0M818.4 373.4h0M812.4 374.2h0M803.5 372.9h0M806.4 371.6h0M799.8 376.6h0M815.4 374.5h0M811.2 373h0M808.1 374.2h0M793 372.6h0M818.7 371.5h0M805.3 371.1h0M799.6 376.2h0M793.7 375.8h0M814.1 377.1h0M799.7 379.1h0M802.7 372.7h0M818.2 373.2h0M811 371.2h0M792.9 371.8h0M795.6 376.2h0M799.5 380.6h0"/>
<rect x="822.8" y="367.5" width="51.4" height="10.8" fill="#df5157"/>
<path stroke="#df5157" d="M863.4 375.6h0M852.1 374.4h0M841.3 371.2h0M840.7 375h0M851.3 371.2h0M836.9 372.8h0M826.7 370.9h0M846.3 371.2h0M865.9 371.2h0M859.7 375.7h0M840.2 373.2h0M870.5 373.8h0M843.4 382.3h0M837.7 380.4h0M840 372.5h0M840.2 374.1h0M865.6 374.4h0M834.3 385.2h0M858.5 373h0M864.2 371.2h0M852.9 375.6h0M860.9 374.3h0M828.9 372.8h0M838.1 373.7h0M843.9 372.7h0M850.2 373.6h0M866 371.8h0M838.4 371.4h0M831.1 376.7h0M867.3 371.2h0M842.2 378.1h0M864.8 382.7h0M870.6 371.9h0M829.1 371.7h0M848.6 370.8h0M837.5 372.8h0M856.6 371.3h0M831.6 372h0M830.2 371.2h0M830.7 375.8h0M865.5 370.9h0M862.1 376.6h0M855.3 371.9h0M862.8 371.1h0M828.2 380.4h0M836 378.5h0M859.9 370.9h0M830.3 374h0M832.6 374.2h0M856.2 371.6h0M847.5 371.5h0M865.1 373.9h0M857.1 373.8h0M828.8 377.5h0M861 373h0M852.6 372.9h0M859.9 373.2h0M838.5 373.1h0M835.7 370.8h0M849.4 377.1h0M858.3 371.5h0M848.9 373.5h0M852.1 372.7h0M848.9 374.4h0M865.6 373h0M861.2 374.3h0M831.5 371.7h0M840.1 372.2h0M848.1 371.9h0M870.8 374.9h0M842.7 374.5h0M867.5 371.3h0M854.3 380.7h0M842.9 377.3h0M862.1 372h0M832.6 375.9h0M844.7 372.1h0M846.9 374.8h0M866.2 378.5h0M860.4 371.4h0M842.6 370.8h0M835.1 372.1h0M834 372.8h0M832 374.1h0M844.5 371.7h0M856.8 372h0M827.2 376.4h0M859.9 377.3h0M839.3 371.7h0M857.3 371.3h0M869.4 374.1h0M850.7 371h0M838.8 372.5h0M870 371.3h0M852.6 371.1h0M869.6 375.1h0M862.5 375.1h0M834.2 371.7h0M827.9 373.3h0M829.7 371.4h0M833.9 378.6h0M861.5 371.8h0M869.6 371.3h0M832.4 372.3h0M862.2 371.1h0M861.4 373.2h0M861.9 372.1h0M828 371.1h0M858.5 373h0M860.3 371.5h0M838.6 371.5h0M864.2 374.6h0M833 374.8h0"/>
<rect x="874.2" y="367.5" width="50.8" height="10.8" fill="#fdcaca"/>
<path stroke="#fdcaca" d="M900.4 374.1h0M918.4 374.1h0M900.3 375.3h0M899.2 370.9h0M901.7 372.5h0M892.3 372.4h0M887.3 372h0M910.5 377.5h0M897.7 376.6h0M883 373h0M910.4 375.5h0M894.6 371.4h0M920 373.7h0M906.4 372.1h0M882.5 373.4h0M895.4 377.6h0M906.8 375.2h0M902.7 375.1h0M883.4 386.8h0M903.2 373.6h0M885.9 371.1h0M908.7 374.8h0M907 371.7h0M899 375.3h0M905.8 378.3h0M881.4 375.4h0M878.1 373.8h0M901.1 371h0M896 374.2h0M915.8 371h0M900 375.7h0M882.7 377.7h0M919 372.1h0M886.7 371.3h0M887.2 372.5h0M908.8 379.4h0M902.2 380.3h0M896.4 374.1h0M877.5 372.5h0M878.5 371.2h0M913.2 371.2h0M890.7 373.1h0M900.7 370.9h0M882.4 374.3h0M895.4 371.1h0M898.7 372.2h0M921.7 371h0M885.5 371h0M901.9 380.8h0M911.9 371.2h0M901.3 372.2h0M920.7 374.6h0M904.2 371.7h0M896.8 373.1h0M894.2 373.4h0M881.5 372.5h0M921.1 372.4h0M899.9 375.1h0M913.4 374.9h0M894.4 374.7h0M886.3 373.8h0M878.2 371.5h0M885.2 372.1h0M910.1 370.9h0M916.2 371.1h0M919.5 380h0M904.7 376.5h0M919.1 372.6h0M915.3 370.9h0M912 374h0M911.8 371.3h0M881.2 373.1h0M904.3 374.4h0M885.4 373.4h0M920.3 371.7h0M913.7 380.8h0M907.2 372.6h0M896 372.8h0M883 371h0M889.9 371.4h0M917.3 372.2h0M916.2 373.4h0M917.2 377.8h0M908.9 372.6h0M888.3 373.4h0M891.3 376.3h0M879.4 373.9h0M892.5 372.5h0M901.5 383.3h0M921.4 372.2h0M919.8 380.5h0M900.8 373.4h0M886.2 375.6h0M899 375.3h0M918.2 373.8h0M908.2 373.3h0M883.3 372.7h0M880.3 371.4h0M920.8 372.3h0M883.5 372.6h0M880.2 373.7h0M887.6 371.6h0M905.7 378.8h0M878.1 374.7h0M903.2 372.9h0M896.1 370.8h0M893 373.1h0M892.3 386.7h0M892.5 376.6h0M913.3 375.7h0M899.2 372.9h0"/>
<rect x="925.0" y="367.5" width="54.7" height="10.8" fill="#df5157"/>
<path stroke="#df5157" d="M953.3 371.4h0M970.5 370.9h0M937.6 372.8h0M976.3 371.3h0M941.1 375.7h0M944.5 379h0M929.2 371.6h0M943.2 376.6h0M933.2 374.3h0M971 382.1h0M967.1 371h0M951.5 371.6h0M934.2 371.7h0M963.7 373.5h0M934.6 371.8h0M931.5 378.9h0M964.6 372.8h0M974.5 382.6h0M938.2 371.7h0M937.5 373.9h0M956.9 373.1h0M965.5 373.1h0M943.4 374.2h0M974 371h0M951.7 371.3h0M964.2 372.6h0M968.6 374.2h0M974.4 373.5h0M957 382.2h0M966.9 372.1h0M933.3 378.7h0M931.4 378.8h0M973.2 374.2h0M973.9 373.7h0M964.2 373.6h0M939 371.1h0M964 372.7h0M934.3 373.3h0M941 371.7h0M970.4 373.8h0M964.3 376.1h0M949.3 372.7h0M949.1 372.2h0M965.8 377.5h0M942.6 374.7h0M938.7 370.8h0M961.3 375.4h0M944.2 386.8h0M962.9 372h0M964.9 376.6h0M935 378.3h0M949.2 371.8h0M946.5 373.1h0M953.7 371.9h0M931.2 373.9h0M962.8 374.5h0M947.4 376.8h0M929.1 371.2h0M929.2 373.3h0M953.5 371.6h0M953.6 370.8h0M930 381h0M970.9 371h0M959.8 373h0M954.2 376.5h0M959.1 379.6h0M961.1 378.4h0M933.9 376.2h0M943.7 378.7h0M966.4 381.3h0M964.6 372.3h0M953.5 375.5h0M931.1 373.2h0M955.6 374.7h0M944.8 373.7h0M963.7 372.3h0M961.1 378h0M946.1 373.1h0M951.6 376.5h0M941.3 371.8h0M947.2 374.1h0M935.7 382.7h0M952.5 374.9h0M948.1 370.9h0M946.8 373.4h0M932.6 382.9h0M956.5 372.7h0M929.7 371.7h0M944.5 374.1h0M936.7 372.9h0M941.3 373.4h0M961.4 373.1h0M964.4 373.8h0M932.3 374.1h0M951.6 375.2h0M973.4 372.1h0M969.2 371.6h0M959.6 370.8h0M968 372.6h0M950.2 372.9h0M946.2 371.6h0M961.6 373.9h0M930.9 371.8h0M973.1 371.8h0M942.4 373.5h0M946.2 379.9h0M975.6 371.2h0M939.1 371.4h0M949.7 371.8h0M960.7 377.5h0M931.7 370.9h0M933.7 372h0M934.7 372.6h0M945.8 374.8h0M974.8 382.6h0M948.5 374h0M934.7 373.7h0M970.8 377.5h0M935 371.4h0M971.7 374.5h0"/>
<rect x="981.5" y="367.5" width="42.5" height="10.8" fill="#fdcaca"/>
<path stroke="#fdcaca" d="M1019.6 372.2h0M992.7 386.8h0M1000.2 372.6h0M996 374.8h0M1020.1 372.8h0M1015.5 372.4h0M1000 375.8h0M1019.7 375.2h0M1010.1 376.2h0M1017.8 380.3h0M1003.9 372.3h0M985.1 373.1h0M997.6 370.8h0M1020.5 371.9h0M1018.3 370.8h0M997.7 375.5h0M1009 374.3h0M1002.3 371.1h0M1014.6 375.2h0M1002 373.4h0M1013.7 372.9h0M1001.9 372.9h0M1011.2 374.9h0M996.8 375.4h0M998.3 374.3h0M998.3 377.9h0M1018.6 375.5h0M998.5 372.1h0M1000.4 373.7h0M986 373.2h0M1018.1 371h0M1016.8 373.4h0M1020.6 374.8h0M1010.6 375.1h0M999.9 371.2h0M1015.5 377.3h0M1010.7 371.6h0M1002.7 373h0M997.9 372.9h0M1001.2 383h0M1007.3 382.4h0M1017.4 371.4h0M1012.5 372.3h0M1006.2 373.4h0M1011.4 371.9h0M1009.1 372.2h0M1012.9 372.9h0M1007.9 386.8h0M994.9 370.8h0M1017 373.1h0M1008 376.3h0M1016.8 372.3h0M1020.2 372.3h0M1010.9 376.3h0M997.8 372.5h0M998 372.1h0M999.6 376.6h0M987 384.9h0M1013.2 373.3h0M1007.9 371.9h0M1012.3 377.2h0M998.5 372.9h0M992.7 371.7h0M1015.4 374h0M1000.9 374h0M991.4 370.8h0M997.6 373.5h0M991.4 373.2h0M996.5 371.7h0M1011.4 372.2h0M1011.4 375.1h0M998.3 370.9h0M1015.1 373.3h0M1005.6 374.4h0M1004.5 378.2h0M985.1 381.5h0M1006.9 372.4h0M1017.4 377.8h0M1006.2 370.8h0M1007.2 372.4h0M1005.4 376.3h0M989.5 376.6h0M995.9 371.7h0M986.1 371.1h0M994.4 373.1h0M1018.5 371.4h0M995.2 372.2h0M1007.8 372.2h0M1008.8 371.3h0M986.4 373.5h0M1010.8 371.2h0M986.5 374.2h0M987.2 378.9h0"/>
<rect x="1026.0" y="367.5" width="38.8" height="10.8" fill="#df5157"/>
<path stroke="#df5157" d="M1048.1 373h0M1050.4 372.9h0M1042.1 376.4h0M1039 372.4h0M1051.2 381.1h0M1040.4 372.6h0M1042.2 371.5h0M1040.7 375.6h0M1035.3 372.8h0M1038.4 373.5h0M1054.2 371.2h0M1045 371.4h0M1050.1 374.3h0M1036.4 371.6h0M1039.1 372h0M1058 377.2h0M1054.8 372.4h0M1044 371.5h0M1044.1 380.1h0M1032.2 372.4h0M1035.6 376.6h0M1039 372.9h0M1031 374.4h0M1045.9 375.8h0M1052.5 375h0M1037.8 371.7h0M1048.5 371h0M1059.5 374.8h0M1045.2 372.2h0M1031.8 373.3h0M1054.2 371.2h0M1032.5 374.4h0M1044.4 375.7h0M1042.5 383.3h0M1057.4 372h0M1046.6 373.5h0M1043.8 376.1h0M1052 376.1h0M1037.4 373h0M1046.8 373.5h0M1029.8 376h0M1043.7 371.3h0M1056.8 373.3h0M1053.1 375h0M1049.4 378.4h0M1031.1 372.1h0M1034.6 373.9h0M1036.4 370.9h0M1033.7 371.4h0M1046.7 372.7h0M1044.3 370.8h0M1046.3 371.7h0M1032.2 371h0M1034.2 372.4h0M1034.7 372.7h0M1034.6 374.9h0M1057.5 372h0M1031.6 381.2h0M1032 374.1h0M1053.7 372.8h0M1058 371.3h0M1052.5 378.2h0M1058.2 376.7h0M1043.4 373h0M1056.6 372.3h0M1037.5 370.9h0M1035.9 371.3h0M1059.2 371.9h0M1040.6 382.2h0M1051.5 372.6h0M1032.7 372.2h0M1038.7 380h0M1042.8 382h0M1038 371h0M1058.3 371h0M1054.7 373.6h0M1038.4 376.4h0M1043.1 383.5h0M1047.3 379.7h0M1059.3 372.3h0M1051.6 374.8h0M1050.4 370.9h0M1051.5 375.2h0M1035.5 371.1h0M1031.5 373.2h0"/>
<rect x="1068.8" y="367.5" width="31.7" height="10.8" fill="#fdcaca"/>
<path stroke="#fdcaca" d="M1094.5 372h0M1072.7 374.2h0M1089.4 374h0M1092.3 376h0M1087.8 376.1h0M1075.2 379.9h0M1088.8 371.1h0M1076.3 374h0M1079.8 379.4h0M1079.1 372.9h0M1084.7 379.5h0M1079.7 377.7h0M1090.3 373.4h0M1095.8 377.5h0M1090.9 373.2h0M1073.2 371.6h0M1088.4 371.2h0M1088.2 372.1h0M1081.8 376.2h0M1093.2 375.1h0M1083.3 373.2h0M1096.8 378.9h0M1087.4 371.1h0M1094.7 370.9h0M1075 374.1h0M1077 375.1h0M1089.3 371.4h0M1094.9 386.8h0M1088.6 383.3h0M1092.2 372.8h0M1092.8 379.4h0M1089.6 371.1h0M1081.4 374.6h0M1081.3 371.4h0M1083.6 371.3h0M1084 371.1h0M1090.3 371.5h0M1095.6 371.2h0M1087.9 374h0M1077.1 373.9h0M1085.9 373.8h0M1076.7 372.8h0M1093.1 373.8h0M1078.2 372.1h0M1094.2 371h0M1084.1 373h0M1082.9 370.8h0M1074.8 376.5h0M1083.5 371.9h0M1083.4 371h0M1074.1 376.3h0M1091.2 371.5h0M1080.1 371h0M1080.1 373.1h0M1091 373h0M1093.4 386.8h0M1086.3 370.9h0M1075.5 374.3h0M1075.4 377.9h0M1073.5 371h0M1097.1 372.4h0M1086 373.6h0M1075.1 372.1h0M1081.4 374.9h0M1091.7 374.5h0M1076.6 372.7h0M1095.1 371.4h0M1080.9 373.8h0M1097.1 370.9h0"/>
<rect x="1100.5" y="367.5" width="16.8" height="10.8" fill="#df5157"/>
<path stroke="#df5157" d="M1107 375.2h0M1111.1 372.5h0M1105.4 375.3h0M1110.9 373.4h0M1111.4 380h0M1106.3 374.4h0M1112 371.8h0M1113 372h0M1113.6 373.5h0M1113.7 377.5h0M1111.8 372.2h0M1108.5 373.5h0M1112 372.5h0M1113 371.6h0M1109.1 371.3h0M1105.5 371.9h0M1104.3 373.4h0M1110.1 372.4h0M1111.9 373.2h0M1110.8 371.1h0M1107.2 370.9h0M1105.4 376.7h0M1105.2 373.6h0M1107.7 374.3h0M1112.7 376.3h0M1113.6 381.3h0M1107.9 384.5h0M1111.6 371.8h0M1107.1 373.1h0M1112.4 371.1h0M1112.9 374.2h0M1109.8 372.4h0M1107.7 372.4h0M1111.1 372.6h0M1111.1 377.3h0M1104.7 370.9h0"/>
<rect x="1118.0" y="367.5" width="18.6" height="10.8" fill="#df5157"/>
<path stroke="#df5157" d="M1124 370.8h0M1126.4 373.6h0M1122 370.8h0M1124.7 377.4h0M1130.3 371.7h0M1126.1 372.5h0M1129.8 371.8h0M1125.6 373h0M1124.1 372.5h0M1130.3 373h0M1122 372.1h0M1128.1 371.6h0M1126 373.3h0M1125.7 371.4h0M1131.8 371h0M1132.2 371.1h0M1127.9 373.2h0M1126.2 373.8h0M1131.9 372h0M1122 371.5h0M1131.8 373.6h0M1130.3 372.3h0M1125.2 374.4h0M1128.1 378.4h0M1123.2 372.1h0M1129.6 378.2h0M1126.9 375.6h0M1122.6 374h0M1125.3 374.5h0M1124.9 371.4h0M1124.5 374.8h0M1129.8 378.4h0M1126.3 371h0M1131 371.7h0M1129.9 372.9h0M1126.6 370.9h0M1124 375.1h0M1126.8 377.4h0M1131 373.2h0M1133.1 370.8h0"/>
<rect x="1136.6" y="367.5" width="31.4" height="10.8" fill="#fdcaca"/>
<path stroke="#fdcaca" d="M1143.6 373.5h0M1146.6 372.3h0M1151.4 371.9h0M1144.1 374.2h0M1155.4 371.1h0M1164 371.1h0M1145.4 371.8h0M1148.9 372.9h0M1162.3 371.1h0M1154.1 373.8h0M1146.3 372.2h0M1150.9 377.6h0M1159.2 372.8h0M1141.6 372.2h0M1160.2 372.6h0M1149.6 374h0M1140.9 374h0M1156.9 371.2h0M1150.2 376.8h0M1146.4 373.1h0M1148.5 373.3h0M1149.6 372.1h0M1162.8 374.5h0M1164.7 372.1h0M1151.5 372.2h0M1161.4 372.2h0M1156.8 371.4h0M1153.3 371.8h0M1162.6 372.2h0M1163.5 373.4h0M1148.4 373.3h0M1163 374.5h0M1160.3 373.4h0M1155.2 371.3h0M1160.5 374h0M1156 371.9h0M1158.8 373.1h0M1147.8 385.7h0M1159.1 374.3h0M1160.7 374.5h0M1149.4 380.4h0M1162.4 374.2h0M1150.7 373h0M1141 377.6h0M1160.5 373.6h0M1151.5 375.8h0M1140.4 372.4h0M1146.1 373.7h0M1148.7 373.7h0M1162.2 372.4h0M1142.8 370.8h0M1160.6 372.8h0M1150.8 370.9h0M1142.5 370.8h0M1162.1 371h0M1147.9 372.8h0M1154.1 371.6h0M1155.9 374h0M1164.3 371.1h0M1147.2 371.1h0M1147.1 371.5h0M1140.7 375.9h0M1146.7 375h0M1160.1 375.7h0M1140.5 373.5h0M1161 373.9h0M1154.9 372.5h0M1160.3 373.2h0M1148.6 372.9h0"/>
<rect x="1168.0" y="367.5" width="29.0" height="10.8" fill="#df5157"/>
<path stroke="#df5157" d="M1180.4 375.3h0M1174.2 373h0M1186.6 373.2h0M1178.7 370.9h0M1187.1 371.4h0M1184.8 373.1h0M1187.5 371.2h0M1193.1 375.1h0M1190.8 371.4h0M1187.4 372.3h0M1187 374.5h0M1180.5 379.9h0M1181.1 372.8h0M1187.3 371.3h0M1191.4 372.1h0M1191.2 371.3h0M1174.1 373.6h0M1176.7 372.6h0M1175.8 374.8h0M1187.8 374.4h0M1174.3 370.9h0M1184.4 371.1h0M1187.3 373.3h0M1192.2 376.1h0M1186 376.2h0M1182.7 371.9h0M1172.7 374.6h0M1186.2 373.9h0M1182.8 372.7h0M1191.9 372.3h0M1174.4 380.2h0M1188.4 377.8h0M1193.4 372.6h0M1174.8 372.9h0M1182.3 372.3h0M1188.9 371.7h0M1193 371.5h0M1177.7 376.3h0M1176.5 374.8h0M1177.4 372.4h0M1181.8 371.7h0M1189.7 379.6h0M1192 371.3h0M1171.9 372.6h0M1187.9 373.3h0M1192.8 384.4h0M1186.6 371.7h0M1180.3 371h0M1180.1 375.1h0M1178.4 371.4h0M1183.4 377.8h0M1185.8 371.2h0M1181 371.6h0M1189.5 372.5h0M1181.2 377.3h0M1178 372.6h0M1193.3 371.9h0M1183.4 374h0M1178.8 373.9h0M1180.7 376.3h0M1183.8 374.8h0M1184.1 374.5h0M1180 371.3h0"/>
<rect x="1197.0" y="367.5" width="26.2" height="10.8" fill="#fdcaca"/>
<path stroke="#fdcaca" d="M1202.8 374.7h0M1201.1 377.1h0M1210.3 381.4h0M1217.1 372.4h0M1207 372.6h0M1215.4 372.7h0M1214.4 385.5h0M1215 373h0M1214.8 372.9h0M1211.7 372.5h0M1218.6 384.3h0M1211.4 373.3h0M1202.3 373.4h0M1218.5 371.7h0M1215.5 371.7h0M1214.3 371.8h0M1212 375.4h0M1200.9 376.5h0M1210.6 371.7h0M1206.3 373.3h0M1214.8 371.4h0M1201.7 371.6h0M1212.7 372.4h0M1215.3 374.8h0M1207.5 373.6h0M1203.2 373.7h0M1213 371.6h0M1213.4 371.3h0M1219.3 373.3h0M1218.4 374.2h0M1204.5 374.9h0M1212.3 372.3h0M1213.9 375.2h0M1213.6 371.6h0M1219.2 378.2h0M1208.8 378.9h0M1219.8 372.1h0M1204 371.7h0M1209.9 371.3h0M1205 374.9h0M1200.7 373.7h0M1208.3 374.6h0M1205.4 372.8h0M1204.5 370.8h0M1217.2 372.2h0M1206.1 379.3h0M1207.6 373.2h0M1203.1 372.4h0M1217.5 376.2h0M1216.3 378.4h0M1204.8 371h0M1202.9 374.1h0M1211 372.2h0M1214.3 371.6h0M1212.2 372.5h0M1203 375.4h0M1203.9 375.8h0"/>
<rect x="1223.2" y="367.5" width="25.1" height="10.8" fill="#df5157"/>
<path stroke="#df5157" d="M1233.4 373.4h0M1233.3 371.8h0M1229.5 375.3h0M1234.5 371.3h0M1242.7 371.3h0M1230.7 371.3h0M1236.9 375.5h0M1227.1 378.8h0M1239.5 376.3h0M1234.3 372.6h0M1228.2 371.7h0M1242.6 371.8h0M1243.2 376.4h0M1243.5 371.3h0M1234.3 376.4h0M1232.3 371.7h0M1226.9 373.2h0M1236.7 371.5h0M1231.3 373.9h0M1229.7 375.6h0M1242.6 372.5h0M1228.9 373.4h0M1232 371.1h0M1239.6 373.3h0M1231.5 371.7h0M1239.9 378.5h0M1233 373.5h0M1230.6 372.7h0M1237.2 371.9h0M1237.7 373.2h0M1227.3 371.2h0M1234.2 371.3h0M1236.6 373.6h0M1238.1 377.5h0M1237.8 375.4h0M1228.6 377.2h0M1243.7 373.6h0M1241.8 373.3h0M1234.5 371.3h0M1235.4 374.7h0M1241.2 377.8h0M1236.1 379.8h0M1233.4 370.9h0M1234.4 373.2h0M1240.8 371.6h0M1227 374.8h0M1230 376.7h0M1237 371.3h0M1236.1 375.4h0M1230.6 380.5h0M1227.5 371.3h0M1237.5 374.3h0M1237.6 378.8h0M1230.2 370.9h0M1236.4 372.1h0"/>
<rect x="1248.3" y="367.5" width="18.1" height="10.8" fill="#fdcaca"/>
<path stroke="#fdcaca" d="M1254.9 378.3h0M1254.5 371.9h0M1253.8 374.5h0M1259.6 372.2h0M1253 373.6h0M1255.5 373.3h0M1259.1 370.8h0M1252.1 376.1h0M1261.6 371.1h0M1254.2 372.5h0M1261.2 371.9h0M1262.6 371.1h0M1262 371h0M1258.5 381.9h0M1259.9 378.4h0M1255.6 380.4h0M1262 371.8h0M1260.5 378.5h0M1254.1 372.3h0M1260.5 373.4h0M1262.2 372.6h0M1256.8 371.4h0M1254.8 377.2h0M1254.6 377.8h0M1260.8 373.4h0M1255.1 370.8h0M1253 376.3h0M1262.6 381h0M1254.8 379.4h0M1256.7 372.2h0M1262.1 376.1h0M1259.4 371.8h0M1252.8 371.4h0M1254.6 371.5h0M1258.2 372h0M1254.1 377.3h0M1255.8 370.8h0M1251.7 373.3h0M1251.9 373.3h0"/>
<rect x="1266.4" y="367.5" width="19.6" height="10.8" fill="#df5157"/>
<path stroke="#df5157" d="M1272.5 376.5h0M1282.3 376h0M1281.8 381.8h0M1274.5 373.2h0M1275.1 375.6h0M1271.9 371.6h0M1275.6 373.2h0M1282.6 372.1h0M1269.8 372.3h0M1281.1 371.1h0M1276.4 373.6h0M1280.6 372h0M1277.6 380.2h0M1282.3 373.4h0M1274.1 374.1h0M1279.2 374.3h0M1278.5 372.3h0M1279 372.1h0M1272.7 371.1h0M1276.9 371.4h0M1273.4 371.9h0M1274.5 372.5h0M1282.4 373.1h0M1276.8 372.4h0M1276.8 376h0M1276.5 373h0M1274.3 371.4h0M1272.5 371.1h0M1273.4 370.9h0M1275.1 373.4h0M1271.2 375.2h0M1275.6 373.8h0M1275.3 375.7h0M1278.5 371.2h0M1276.8 371.8h0M1279.4 372.2h0M1272.6 370.9h0M1282.5 371.2h0M1273 379.1h0M1270.4 372.4h0M1275.3 374.3h0M1279.9 382.2h0M1273.8 371.1h0"/>
<rect x="1286.0" y="367.5" width="60.3" height="10.8" fill="#fdcaca"/>
<path stroke="#fdcaca" d="M1337.3 371.1h0M1303.7 377.6h0M1320.8 372.4h0M1293.2 371h0M1301 373.8h0M1292.4 373h0M1333.2 370.8h0M1304.7 372.5h0M1322 374.9h0M1325.7 372.6h0M1307.5 373.9h0M1314 379h0M1317.7 373.5h0M1325.1 372.8h0M1315.7 374.2h0M1321.5 386.8h0M1305.7 372.9h0M1341.6 376h0M1319.1 371.9h0M1298.9 372.5h0M1312.2 372.6h0M1303 372.8h0M1320.1 371.1h0M1324.7 374.6h0M1299.8 371.7h0M1291.4 372.8h0M1325.6 372.4h0M1320.9 373.7h0M1291.7 371h0M1316.5 378.8h0M1327.2 372.6h0M1303.2 371.2h0M1324 375.3h0M1310.4 371.1h0M1304.2 374.6h0M1330.7 372.4h0M1336.9 372.3h0M1290.6 371.5h0M1337.1 374.6h0M1294 371.8h0M1310.5 372.8h0M1290.7 378.7h0M1317.8 371.7h0M1291 373.4h0M1339.4 374.7h0M1335.4 377.2h0M1325 371h0M1306 373.5h0M1311.6 371.6h0M1292.9 377h0M1325.1 371.9h0M1314.5 377.2h0M1297 373.9h0M1301.8 378.1h0M1332.3 380h0M1309.9 373h0M1306.6 372.1h0M1340.5 381.6h0M1342.7 378.2h0M1315.6 374.1h0M1338.1 372.5h0M1338.6 375.7h0M1304.6 372.2h0M1326.4 371.4h0M1303 371.5h0M1295 378.2h0M1342.9 376.1h0M1316.4 375h0M1326.2 372.6h0M1317.2 371.2h0M1302.3 372.1h0M1308.5 374.1h0M1302.3 371.6h0M1336.3 375.5h0M1339.4 375.5h0M1299.8 372.9h0M1334.1 375.9h0M1301.6 372.8h0M1320.9 370.8h0M1302.4 375h0M1325.1 372.6h0M1320 373.1h0M1307.9 371.1h0M1329.1 375.4h0M1312.7 375.3h0M1333.7 374.4h0M1332.7 381.3h0M1291.4 379.6h0M1313.6 375.5h0M1328.9 371.1h0M1320.8 371.1h0M1328.6 372.1h0M1309.5 371.8h0M1332.8 374h0M1305.3 375h0M1299.3 375.8h0M1321.8 375.3h0M1322.4 383.9h0M1326.6 372.7h0M1321 373.4h0M1304.6 371.9h0M1332.2 376.1h0M1341.1 374.4h0M1316.4 372.4h0M1327.2 374h0M1340 375.1h0M1309.9 371.8h0M1291.7 375.5h0M1312.3 372.4h0M1292.1 372.9h0M1337.5 371.8h0M1329.2 375.2h0M1324.8 373.6h0M1302.7 374.3h0M1320.7 381.4h0M1317 372.2h0M1338 373.8h0M1307.6 374.1h0M1297.5 371.4h0M1336.8 372.7h0M1332.4 371.5h0M1314.6 371.6h0M1332.4 373.6h0M1310.4 372.3h0M1300.6 371.5h0M1326.4 372h0M1294.9 372.3h0M1313.6 384.5h0M1310 372.4h0M1341.5 374.8h0M1313.9 372.4h0M1301.4 371.3h0"/>
</g>
<g fill-opacity="0.78" class="a">
<g fill="#fdcaca"><circle cx="174.3" cy="393" r="3.3"/><circle cx="174.3" cy="399.6" r="3.3"/><circle cx="182" cy="393" r="3.3"/><circle cx="182" cy="396.3" r="3.3"/><circle cx="183.1" cy="401.8" r="3.3"/><circle cx="183.1" cy="405.1" r="3.3"/><circle cx="177.6" cy="407.3" r="3.3"/><circle cx="183.1" cy="409.5" r="3.3"/><circle cx="190.8" cy="397.4" r="3.3"/><circle cx="195.2" cy="393" r="3.3"/><circle cx="198.5" cy="393" r="3.3"/><circle cx="195.2" cy="405.1" r="3.3"/><circle cx="195.2" cy="412.8" r="3.3"/><circle cx="199.6" cy="412.8" r="3.3"/><circle cx="178" cy="418.3" r="3.3"/><circle cx="186.4" cy="422.3" r="3.3"/><circle cx="180.2" cy="424.9" r="3.3"/><circle cx="176.5" cy="430.4" r="3.3"/><circle cx="182" cy="431.5" r="3.3"/><circle cx="184.6" cy="429.3" r="3.3"/><circle cx="191.9" cy="430.4" r="3.3"/><circle cx="209.5" cy="417.6" r="3.3"/><circle cx="206.6" cy="424.2" r="3.3"/><circle cx="212.8" cy="425.3" r="3.3"/><circle cx="206.6" cy="437" r="3.3"/><circle cx="216.5" cy="391.5" r="3.3"/><circle cx="219" cy="449.5" r="3.3"/><circle cx="181.6" cy="468.2" r="3.3"/><circle cx="186.4" cy="466.7" r="3.3"/><circle cx="196.3" cy="470.4" r="3.3"/><circle cx="174.3" cy="481" r="3.3"/><circle cx="174.3" cy="490.2" r="3.3"/><circle cx="204" cy="484.9" r="3.3"/><circle cx="210.2" cy="480.5" r="3.3"/><circle cx="219" cy="490.4" r="3.3"/><circle cx="216.1" cy="503.6" r="3.3"/><circle cx="190.8" cy="516.4" r="3.3"/><circle cx="220.1" cy="515.7" r="3.3"/><circle cx="208.4" cy="531.4" r="3.3"/><circle cx="178" cy="547.6" r="3.3"/><circle cx="190.1" cy="550.3" r="3.3"/><circle cx="206.6" cy="572.3" r="3.3"/><circle cx="182" cy="584.8" r="3.3"/><circle cx="195.2" cy="584.8" r="3.3"/><circle cx="198.5" cy="584.8" r="3.3"/><circle cx="219" cy="584.8" r="3.3"/><circle cx="232.6" cy="390.8" r="3.3"/><circle cx="233.7" cy="396.3" r="3.3"/><circle cx="234.8" cy="400.7" r="3.3"/><circle cx="231.5" cy="404.7" r="3.3"/><circle cx="235.9" cy="410.6" r="3.3"/><circle cx="233.7" cy="416.1" r="3.3"/><circle cx="232.6" cy="418.3" r="3.3"/><circle cx="235.9" cy="419.4" r="3.3"/><circle cx="232.2" cy="423.4" r="3.3"/><circle cx="241" cy="391.5" r="3.3"/><circle cx="244.7" cy="404.7" r="3.3"/><circle cx="253.5" cy="389.7" r="3.3"/><circle cx="260.1" cy="394.1" r="3.3"/><circle cx="260.1" cy="400.7" r="3.3"/><circle cx="253.5" cy="406.2" r="3.3"/><circle cx="253.5" cy="410.6" r="3.3"/><circle cx="262.3" cy="408.8" r="3.3"/><circle cx="269.5" cy="397.4" r="3.3"/><circle cx="250.2" cy="416.8" r="3.3"/><circle cx="253.5" cy="419" r="3.3"/><circle cx="230.4" cy="435.9" r="3.3"/><circle cx="232.6" cy="439.2" r="3.3"/><circle cx="239.2" cy="434.8" r="3.3"/><circle cx="242.5" cy="438.1" r="3.3"/><circle cx="239.2" cy="442.5" r="3.3"/><circle cx="249.7" cy="434.1" r="3.3"/><circle cx="252.4" cy="440.3" r="3.3"/><circle cx="260.1" cy="430.4" r="3.3"/><circle cx="264.5" cy="432.2" r="3.3"/><circle cx="262.3" cy="437" r="3.3"/><circle cx="231.5" cy="448" r="3.3"/><circle cx="235.9" cy="446.9" r="3.3"/><circle cx="250.2" cy="449.7" r="3.3"/><circle cx="253.5" cy="448" r="3.3"/><circle cx="233.7" cy="459" r="3.3"/><circle cx="250.2" cy="459" r="3.3"/><circle cx="253.5" cy="459.4" r="3.3"/><circle cx="234.4" cy="466.9" r="3.3"/><circle cx="235.9" cy="475.9" r="3.3"/><circle cx="254.1" cy="471.7" r="3.3"/><circle cx="253.5" cy="476.6" r="3.3"/><circle cx="253.5" cy="481" r="3.3"/><circle cx="260.1" cy="474.4" r="3.3"/><circle cx="265.1" cy="484.9" r="3.3"/><circle cx="253" cy="498.8" r="3.3"/><circle cx="234.8" cy="525.4" r="3.3"/><circle cx="243.2" cy="519.5" r="3.3"/><circle cx="250.2" cy="520.6" r="3.3"/><circle cx="252.4" cy="526.1" r="3.3"/><circle cx="260.1" cy="520.1" r="3.3"/><circle cx="233.7" cy="533.8" r="3.3"/><circle cx="239.6" cy="535.5" r="3.3"/><circle cx="235.9" cy="546.5" r="3.3"/><circle cx="241.4" cy="550.3" r="3.3"/><circle cx="233.7" cy="561.3" r="3.3"/><circle cx="235.9" cy="578.9" r="3.3"/><circle cx="231.5" cy="584.8" r="3.3"/><circle cx="235.9" cy="584.8" r="3.3"/><circle cx="239.2" cy="584.8" r="3.3"/><circle cx="244.7" cy="584.8" r="3.3"/><circle cx="250.2" cy="584.8" r="3.3"/><circle cx="254.1" cy="584.8" r="3.3"/><circle cx="265.1" cy="584.8" r="3.3"/><circle cx="366.8" cy="394.1" r="3.3"/><circle cx="375.6" cy="392.6" r="3.3"/><circle cx="367.9" cy="405.1" r="3.3"/><circle cx="365.7" cy="406.2" r="3.3"/><circle cx="370.1" cy="401.8" r="3.3"/><circle cx="383.3" cy="402.9" r="3.3"/><circle cx="383.3" cy="407.3" r="3.3"/><circle cx="382.2" cy="410.6" r="3.3"/><circle cx="378.2" cy="413.9" r="3.3"/><circle cx="383.3" cy="423.4" r="3.3"/><circle cx="363.5" cy="428.2" r="3.3"/><circle cx="369" cy="428.2" r="3.3"/><circle cx="365.7" cy="433.7" r="3.3"/><circle cx="376.2" cy="428.6" r="3.3"/><circle cx="383.9" cy="438.1" r="3.3"/><circle cx="413" cy="387.5" r="3.3"/><circle cx="400.9" cy="395.2" r="3.3"/><circle cx="403.1" cy="395.2" r="3.3"/><circle cx="412.5" cy="395.2" r="3.3"/><circle cx="410.8" cy="401.8" r="3.3"/><circle cx="417.4" cy="402.9" r="3.3"/><circle cx="409.7" cy="405.1" r="3.3"/><circle cx="402" cy="419.8" r="3.3"/><circle cx="414.1" cy="422" r="3.3"/><circle cx="409.7" cy="426.4" r="3.3"/><circle cx="406.8" cy="433.7" r="3.3"/><circle cx="403.7" cy="440.7" r="3.3"/><circle cx="419.1" cy="452.8" r="3.3"/><circle cx="386.6" cy="471.5" r="3.3"/><circle cx="393.8" cy="470" r="3.3"/><circle cx="401.5" cy="477" r="3.3"/><circle cx="415.2" cy="482.5" r="3.3"/><circle cx="364.6" cy="484.9" r="3.3"/><circle cx="368.5" cy="487.6" r="3.3"/><circle cx="364.6" cy="496.4" r="3.3"/><circle cx="383.9" cy="486.9" r="3.3"/><circle cx="383.9" cy="493.5" r="3.3"/><circle cx="392.1" cy="489.8" r="3.3"/><circle cx="382.8" cy="522.1" r="3.3"/><circle cx="386.1" cy="540.8" r="3.3"/><circle cx="383.9" cy="546.5" r="3.3"/><circle cx="402" cy="572.9" r="3.3"/><circle cx="366.8" cy="584.8" r="3.3"/><circle cx="370.1" cy="584.8" r="3.3"/><circle cx="376.7" cy="584.8" r="3.3"/><circle cx="381.1" cy="583.3" r="3.3"/><circle cx="384.4" cy="584.8" r="3.3"/><circle cx="406.8" cy="584.8" r="3.3"/><circle cx="383.3" cy="384.2" r="3.3"/><circle cx="383.3" cy="387.5" r="3.3"/><circle cx="383.3" cy="390.8" r="3.3"/><circle cx="383.3" cy="395.2" r="3.3"/><circle cx="383.3" cy="398.5" r="3.3"/><circle cx="382.6" cy="415" r="3.3"/><circle cx="381.1" cy="419.4" r="3.3"/><circle cx="423.1" cy="406.2" r="3.3"/><circle cx="425.3" cy="410.6" r="3.3"/><circle cx="430.8" cy="408.4" r="3.3"/><circle cx="435.2" cy="404" r="3.3"/><circle cx="438.5" cy="404" r="3.3"/><circle cx="435.2" cy="412.8" r="3.3"/><circle cx="436.3" cy="391.9" r="3.3"/><circle cx="439.6" cy="396.3" r="3.3"/><circle cx="423.1" cy="426" r="3.3"/><circle cx="429.7" cy="435.9" r="3.3"/><circle cx="435.2" cy="435.9" r="3.3"/><circle cx="438.5" cy="443.6" r="3.3"/><circle cx="420.9" cy="452.4" r="3.3"/><circle cx="435.2" cy="493.1" r="3.3"/><circle cx="435.2" cy="501.9" r="3.3"/><circle cx="427.5" cy="584.8" r="3.3"/><circle cx="435.2" cy="584.8" r="3.3"/><circle cx="514.4" cy="404" r="3.3"/><circle cx="525.4" cy="407.3" r="3.3"/><circle cx="539.7" cy="406.2" r="3.3"/><circle cx="544.1" cy="406.6" r="3.3"/><circle cx="529.8" cy="419.4" r="3.3"/><circle cx="527.6" cy="422.7" r="3.3"/><circle cx="551.8" cy="417.2" r="3.3"/><circle cx="528.7" cy="439.2" r="3.3"/><circle cx="566.1" cy="410.6" r="3.3"/><circle cx="567.2" cy="412.8" r="3.3"/><circle cx="571.6" cy="419.4" r="3.3"/><circle cx="569.4" cy="396.3" r="3.3"/><circle cx="582.6" cy="415" r="3.3"/><circle cx="566.1" cy="452.4" r="3.3"/><circle cx="573.8" cy="459" r="3.3"/><circle cx="573.8" cy="466.2" r="3.3"/><circle cx="543" cy="475.9" r="3.3"/><circle cx="527.6" cy="497.5" r="3.3"/><circle cx="528.7" cy="508" r="3.3"/><circle cx="562.8" cy="515.7" r="3.3"/><circle cx="581.9" cy="510" r="3.3"/><circle cx="573.8" cy="524.5" r="3.3"/><circle cx="567.2" cy="544.8" r="3.3"/><circle cx="528.7" cy="584.8" r="3.3"/><circle cx="534.6" cy="584.8" r="3.3"/><circle cx="544.1" cy="584.8" r="3.3"/><circle cx="552.9" cy="584.8" r="3.3"/><circle cx="565" cy="584.8" r="3.3"/><circle cx="569.4" cy="584.8" r="3.3"/><circle cx="573.8" cy="584.8" r="3.3"/><circle cx="582.1" cy="584.8" r="3.3"/><circle cx="528.7" cy="389.7" r="3.3"/><circle cx="549.6" cy="383.1" r="3.3"/><circle cx="558.4" cy="383.1" r="3.3"/><circle cx="657.8" cy="411" r="3.3"/><circle cx="659.1" cy="429.3" r="3.3"/><circle cx="658.5" cy="584.8" r="3.3"/><circle cx="662" cy="387.5" r="3.3"/><circle cx="670.8" cy="395.2" r="3.3"/><circle cx="679.6" cy="393" r="3.3"/><circle cx="678.5" cy="405.1" r="3.3"/><circle cx="687.3" cy="400.7" r="3.3"/><circle cx="687.3" cy="410.6" r="3.3"/><circle cx="690.6" cy="391.9" r="3.3"/><circle cx="699.4" cy="406.2" r="3.3"/><circle cx="706" cy="398.5" r="3.3"/><circle cx="708.2" cy="395.2" r="3.3"/><circle cx="680.7" cy="415" r="3.3"/><circle cx="660.9" cy="429.3" r="3.3"/><circle cx="670.1" cy="424.9" r="3.3"/><circle cx="682.9" cy="430.4" r="3.3"/><circle cx="688" cy="434.1" r="3.3"/><circle cx="707.1" cy="437" r="3.3"/><circle cx="693.9" cy="446.9" r="3.3"/><circle cx="685.1" cy="453.5" r="3.3"/><circle cx="704.9" cy="452.4" r="3.3"/><circle cx="708.2" cy="455.7" r="3.3"/><circle cx="685.1" cy="462.7" r="3.3"/><circle cx="696.1" cy="484.3" r="3.3"/><circle cx="674.5" cy="508" r="3.3"/><circle cx="690.6" cy="529.4" r="3.3"/><circle cx="685.1" cy="557.5" r="3.3"/><circle cx="699.4" cy="559.7" r="3.3"/><circle cx="660.5" cy="584.8" r="3.3"/><circle cx="668.6" cy="584.8" r="3.3"/><circle cx="679.6" cy="584.8" r="3.3"/><circle cx="685.8" cy="584.8" r="3.3"/><circle cx="699.4" cy="584.8" r="3.3"/><circle cx="704.2" cy="584.8" r="3.3"/><circle cx="777.5" cy="395.2" r="3.3"/><circle cx="779.7" cy="402.9" r="3.3"/><circle cx="779.7" cy="408.4" r="3.3"/><circle cx="779.7" cy="412.8" r="3.3"/><circle cx="781.9" cy="388.6" r="3.3"/><circle cx="779" cy="527.8" r="3.3"/><circle cx="780.8" cy="580.6" r="3.3"/><circle cx="780.8" cy="584.8" r="3.3"/><circle cx="794" cy="410.6" r="3.3"/><circle cx="801.7" cy="412.8" r="3.3"/><circle cx="800.6" cy="415" r="3.3"/><circle cx="807.2" cy="399.6" r="3.3"/><circle cx="810.5" cy="406.2" r="3.3"/><circle cx="816" cy="401.8" r="3.3"/><circle cx="819.3" cy="405.1" r="3.3"/><circle cx="820.4" cy="412.8" r="3.3"/><circle cx="814.9" cy="418.3" r="3.3"/><circle cx="807.2" cy="420.5" r="3.3"/><circle cx="802.8" cy="426" r="3.3"/><circle cx="809.8" cy="429.3" r="3.3"/><circle cx="819.9" cy="426.4" r="3.3"/><circle cx="807.2" cy="441" r="3.3"/><circle cx="810.5" cy="444.7" r="3.3"/><circle cx="813.8" cy="446.2" r="3.3"/><circle cx="802.8" cy="457.9" r="3.3"/><circle cx="812.7" cy="456.1" r="3.3"/><circle cx="818.6" cy="454.1" r="3.3"/><circle cx="819.9" cy="468.9" r="3.3"/><circle cx="819.9" cy="488.7" r="3.3"/><circle cx="813.3" cy="496.4" r="3.3"/><circle cx="807.2" cy="509.6" r="3.3"/><circle cx="817.1" cy="517.7" r="3.3"/><circle cx="810.9" cy="535.5" r="3.3"/><circle cx="819.9" cy="560.2" r="3.3"/><circle cx="819.9" cy="574.5" r="3.3"/><circle cx="796.2" cy="584.8" r="3.3"/><circle cx="804.5" cy="584.8" r="3.3"/><circle cx="817.1" cy="584.8" r="3.3"/><circle cx="819.9" cy="584.8" r="3.3"/><circle cx="807.2" cy="393" r="3.3"/><circle cx="811.6" cy="393" r="3.3"/><circle cx="818.2" cy="393" r="3.3"/><circle cx="878.7" cy="406.2" r="3.3"/><circle cx="873.6" cy="410.6" r="3.3"/><circle cx="877.6" cy="412.8" r="3.3"/><circle cx="877.6" cy="443.6" r="3.3"/><circle cx="879.8" cy="448" r="3.3"/><circle cx="875.4" cy="455.2" r="3.3"/><circle cx="886.4" cy="454.1" r="3.3"/><circle cx="875.8" cy="473.7" r="3.3"/><circle cx="877.6" cy="476.6" r="3.3"/><circle cx="886.8" cy="491.5" r="3.3"/><circle cx="880.2" cy="519" r="3.3"/><circle cx="873.6" cy="541.5" r="3.3"/><circle cx="873.6" cy="544.8" r="3.3"/><circle cx="887.5" cy="584.8" r="3.3"/><circle cx="874.9" cy="584.8" r="3.3"/><circle cx="877.6" cy="584.8" r="3.3"/><circle cx="896.3" cy="396.3" r="3.3"/><circle cx="897.4" cy="404" r="3.3"/><circle cx="896.3" cy="417.2" r="3.3"/><circle cx="898.5" cy="426" r="3.3"/><circle cx="898.5" cy="443.6" r="3.3"/><circle cx="898.5" cy="450.2" r="3.3"/><circle cx="898.5" cy="460.1" r="3.3"/><circle cx="898.5" cy="472.2" r="3.3"/><circle cx="899.1" cy="478.8" r="3.3"/><circle cx="896.9" cy="501.9" r="3.3"/><circle cx="896.3" cy="580" r="3.3"/><circle cx="898.5" cy="584.8" r="3.3"/><circle cx="903.1" cy="402.9" r="3.3"/><circle cx="902" cy="427.1" r="3.3"/><circle cx="913" cy="424.9" r="3.3"/><circle cx="913" cy="431.5" r="3.3"/><circle cx="918.5" cy="430" r="3.3"/><circle cx="918.5" cy="441.4" r="3.3"/><circle cx="916.3" cy="449.1" r="3.3"/><circle cx="920.7" cy="449.1" r="3.3"/><circle cx="921.8" cy="450.2" r="3.3"/><circle cx="900.9" cy="456.8" r="3.3"/><circle cx="903.1" cy="455.7" r="3.3"/><circle cx="918.5" cy="463.4" r="3.3"/><circle cx="918.5" cy="468.9" r="3.3"/><circle cx="919.6" cy="473.9" r="3.3"/><circle cx="900.9" cy="474.4" r="3.3"/><circle cx="900.9" cy="484.9" r="3.3"/><circle cx="919.6" cy="488.7" r="3.3"/><circle cx="913" cy="527.6" r="3.3"/><circle cx="917.4" cy="537.1" r="3.3"/><circle cx="913" cy="548.1" r="3.3"/><circle cx="916.3" cy="554" r="3.3"/><circle cx="900.9" cy="570.1" r="3.3"/><circle cx="900.9" cy="584.8" r="3.3"/><circle cx="905.3" cy="584.8" r="3.3"/><circle cx="920.7" cy="584.8" r="3.3"/><circle cx="907.5" cy="391.9" r="3.3"/><circle cx="916.3" cy="400.7" r="3.3"/><circle cx="918.5" cy="404" r="3.3"/><circle cx="921.8" cy="395.2" r="3.3"/><circle cx="917.4" cy="409.5" r="3.3"/><circle cx="985.6" cy="394.1" r="3.3"/><circle cx="990" cy="391.9" r="3.3"/><circle cx="994.4" cy="396.3" r="3.3"/><circle cx="985.6" cy="422" r="3.3"/><circle cx="991.5" cy="435.2" r="3.3"/><circle cx="1012" cy="391.9" r="3.3"/><circle cx="1020.8" cy="389.7" r="3.3"/><circle cx="1016.4" cy="407.3" r="3.3"/><circle cx="1016.4" cy="418.3" r="3.3"/><circle cx="1016.4" cy="464.5" r="3.3"/><circle cx="1016.4" cy="469.3" r="3.3"/><circle cx="1019.7" cy="503.6" r="3.3"/><circle cx="1016.4" cy="507.4" r="3.3"/><circle cx="1020.3" cy="547.4" r="3.3"/><circle cx="992.2" cy="584.8" r="3.3"/><circle cx="994.4" cy="584.8" r="3.3"/><circle cx="1078" cy="395.2" r="3.3"/><circle cx="1087.9" cy="395.2" r="3.3"/><circle cx="1081.3" cy="399.6" r="3.3"/><circle cx="1091.2" cy="399.6" r="3.3"/><circle cx="1078" cy="407.3" r="3.3"/><circle cx="1091.2" cy="407.3" r="3.3"/><circle cx="1096.7" cy="416.1" r="3.3"/><circle cx="1080.2" cy="420.5" r="3.3"/><circle cx="1084.6" cy="422" r="3.3"/><circle cx="1078" cy="426" r="3.3"/><circle cx="1087.9" cy="428.2" r="3.3"/><circle cx="1081.3" cy="432.6" r="3.3"/><circle cx="1082.4" cy="438.5" r="3.3"/><circle cx="1091.2" cy="438.5" r="3.3"/><circle cx="1092.3" cy="455" r="3.3"/><circle cx="1096.7" cy="454.6" r="3.3"/><circle cx="1084.1" cy="471.1" r="3.3"/><circle cx="1082.4" cy="493.1" r="3.3"/><circle cx="1089" cy="506.9" r="3.3"/><circle cx="1098.9" cy="514.4" r="3.3"/><circle cx="1092.3" cy="517.9" r="3.3"/><circle cx="1087.9" cy="528.7" r="3.3"/><circle cx="1078.4" cy="572.3" r="3.3"/><circle cx="1078" cy="584.8" r="3.3"/><circle cx="1086.8" cy="584.8" r="3.3"/><circle cx="1091.2" cy="584.8" r="3.3"/><circle cx="1096.7" cy="584.8" r="3.3"/><circle cx="1137.4" cy="418.3" r="3.3"/><circle cx="1138.5" cy="422.7" r="3.3"/><circle cx="1137.8" cy="457.9" r="3.3"/><circle cx="1137.4" cy="482.1" r="3.3"/><circle cx="1138.5" cy="495.3" r="3.3"/><circle cx="1138.5" cy="510.7" r="3.3"/><circle cx="1138.5" cy="517.3" r="3.3"/><circle cx="1138.5" cy="532.7" r="3.3"/><circle cx="1138.5" cy="574.5" r="3.3"/><circle cx="1143.1" cy="395.2" r="3.3"/><circle cx="1153" cy="393" r="3.3"/><circle cx="1156.3" cy="394.1" r="3.3"/><circle cx="1151.9" cy="400.7" r="3.3"/><circle cx="1154.1" cy="405.1" r="3.3"/><circle cx="1142" cy="407.3" r="3.3"/><circle cx="1148.6" cy="411.7" r="3.3"/><circle cx="1153" cy="415" r="3.3"/><circle cx="1155.2" cy="416.1" r="3.3"/><circle cx="1153" cy="425.6" r="3.3"/><circle cx="1148.6" cy="437" r="3.3"/><circle cx="1144.2" cy="442.5" r="3.3"/><circle cx="1151.9" cy="445.8" r="3.3"/><circle cx="1156.3" cy="466.2" r="3.3"/><circle cx="1144.2" cy="471.1" r="3.3"/><circle cx="1159.6" cy="519" r="3.3"/><circle cx="1144.6" cy="536.4" r="3.3"/><circle cx="1154.1" cy="536" r="3.3"/><circle cx="1153.4" cy="544.8" r="3.3"/><circle cx="1159.2" cy="561.9" r="3.3"/><circle cx="1147.5" cy="584.8" r="3.3"/><circle cx="1153" cy="584.8" r="3.3"/><circle cx="1157.4" cy="584.8" r="3.3"/><circle cx="1161.8" cy="584.8" r="3.3"/><circle cx="1167.3" cy="584.8" r="3.3"/><circle cx="1164" cy="395.6" r="3.3"/><circle cx="1166.2" cy="410.6" r="3.3"/><circle cx="1167.3" cy="412.8" r="3.3"/><circle cx="1165.1" cy="433.7" r="3.3"/><circle cx="1165.8" cy="462.7" r="3.3"/><circle cx="1167.3" cy="475" r="3.3"/><circle cx="1165.8" cy="494.8" r="3.3"/><circle cx="1168.8" cy="500.8" r="3.3"/><circle cx="1168" cy="552.9" r="3.3"/><circle cx="1169.5" cy="381.6" r="3.3"/><circle cx="1201.4" cy="393" r="3.3"/><circle cx="1198.1" cy="394.1" r="3.3"/><circle cx="1204.7" cy="400.7" r="3.3"/><circle cx="1202.5" cy="405.1" r="3.3"/><circle cx="1200.3" cy="406.2" r="3.3"/><circle cx="1204.7" cy="409.5" r="3.3"/><circle cx="1210.2" cy="404" r="3.3"/><circle cx="1214.6" cy="400.7" r="3.3"/><circle cx="1216.8" cy="404" r="3.3"/><circle cx="1220.1" cy="404" r="3.3"/><circle cx="1216.8" cy="411.7" r="3.3"/><circle cx="1212.4" cy="418.3" r="3.3"/><circle cx="1219" cy="419.4" r="3.3"/><circle cx="1201.4" cy="420.5" r="3.3"/><circle cx="1219" cy="424.9" r="3.3"/><circle cx="1201.4" cy="432.6" r="3.3"/><circle cx="1201.4" cy="435.9" r="3.3"/><circle cx="1213.5" cy="434.4" r="3.3"/><circle cx="1214.6" cy="439.2" r="3.3"/><circle cx="1216.8" cy="441.8" r="3.3"/><circle cx="1200.3" cy="449.1" r="3.3"/><circle cx="1203.6" cy="450.2" r="3.3"/><circle cx="1202.5" cy="456.8" r="3.3"/><circle cx="1203.6" cy="464.5" r="3.3"/><circle cx="1201.4" cy="470" r="3.3"/><circle cx="1204.7" cy="471.1" r="3.3"/><circle cx="1217.9" cy="467.8" r="3.3"/><circle cx="1217.9" cy="472.2" r="3.3"/><circle cx="1200.3" cy="478.8" r="3.3"/><circle cx="1202.5" cy="479.9" r="3.3"/><circle cx="1212.4" cy="482.7" r="3.3"/><circle cx="1216.8" cy="479.9" r="3.3"/><circle cx="1219" cy="482.1" r="3.3"/><circle cx="1213.5" cy="486.5" r="3.3"/><circle cx="1203.6" cy="490.4" r="3.3"/><circle cx="1213.5" cy="494.6" r="3.3"/><circle cx="1219" cy="493.7" r="3.3"/><circle cx="1219.6" cy="454.1" r="3.3"/><circle cx="1220.7" cy="504.7" r="3.3"/><circle cx="1215.7" cy="511.8" r="3.3"/><circle cx="1219" cy="524.5" r="3.3"/><circle cx="1217.9" cy="529.8" r="3.3"/><circle cx="1219" cy="558" r="3.3"/><circle cx="1198.8" cy="560.6" r="3.3"/><circle cx="1215" cy="576" r="3.3"/><circle cx="1200.3" cy="580" r="3.3"/><circle cx="1197" cy="584.8" r="3.3"/><circle cx="1202.5" cy="584.8" r="3.3"/><circle cx="1208" cy="584.8" r="3.3"/><circle cx="1213.5" cy="584.8" r="3.3"/><circle cx="1217.9" cy="584.8" r="3.3"/><circle cx="1221.2" cy="431.5" r="3.3"/><circle cx="1263" cy="393" r="3.3"/><circle cx="1263" cy="398.5" r="3.3"/><circle cx="1258.1" cy="404" r="3.3"/><circle cx="1255.9" cy="435.9" r="3.3"/><circle cx="1258.1" cy="458.3" r="3.3"/><circle cx="1255.3" cy="468.2" r="3.3"/><circle cx="1263" cy="479.9" r="3.3"/><circle cx="1261.2" cy="534.9" r="3.3"/><circle cx="1262.5" cy="584.8" r="3.3"/><circle cx="1259.7" cy="382" r="3.3"/><circle cx="1263" cy="379.8" r="3.3"/><circle cx="1289.4" cy="389.7" r="3.3"/><circle cx="1301.5" cy="389.7" r="3.3"/><circle cx="1289.8" cy="403.6" r="3.3"/><circle cx="1298.6" cy="402.2" r="3.3"/><circle cx="1298.6" cy="413.2" r="3.3"/><circle cx="1316.4" cy="408.4" r="3.3"/><circle cx="1329.4" cy="394.5" r="3.3"/><circle cx="1330.1" cy="402.9" r="3.3"/><circle cx="1341.7" cy="400.7" r="3.3"/><circle cx="1334.5" cy="412.8" r="3.3"/><circle cx="1330.1" cy="416.8" r="3.3"/><circle cx="1341.7" cy="423.1" r="3.3"/><circle cx="1298.2" cy="427.8" r="3.3"/><circle cx="1342.8" cy="433" r="3.3"/><circle cx="1333.4" cy="438.1" r="3.3"/><circle cx="1325.2" cy="442.9" r="3.3"/><circle cx="1284.5" cy="441.8" r="3.3"/><circle cx="1324.1" cy="455.2" r="3.3"/><circle cx="1289.8" cy="461.6" r="3.3"/><circle cx="1309.2" cy="461.6" r="3.3"/><circle cx="1326.3" cy="511.3" r="3.3"/><circle cx="1302.1" cy="552.9" r="3.3"/><circle cx="1337.3" cy="560.2" r="3.3"/><circle cx="1308.7" cy="584.8" r="3.3"/><circle cx="1322.4" cy="584.8" r="3.3"/><circle cx="1329" cy="584.8" r="3.3"/><circle cx="1333.4" cy="584.8" r="3.3"/><circle cx="1311.4" cy="380.2" r="3.3"/><circle cx="1314.7" cy="378.7" r="3.3"/><circle cx="205.9" cy="383.2" r="3.3"/><circle cx="184.5" cy="381.2" r="3.3"/><circle cx="217.6" cy="382.9" r="3.3"/><circle cx="197.4" cy="384.3" r="3.3"/><circle cx="175.5" cy="387.1" r="3.3"/><circle cx="208.1" cy="388.4" r="3.3"/><circle cx="247.6" cy="388.9" r="3.3"/><circle cx="242.1" cy="385.2" r="3.3"/><circle cx="258" cy="379.5" r="3.3"/><circle cx="266.3" cy="380" r="3.3"/><circle cx="242.1" cy="386.7" r="3.3"/><circle cx="421.4" cy="380.2" r="3.3"/><circle cx="426.4" cy="383.4" r="3.3"/><circle cx="385.2" cy="381.4" r="3.3"/><circle cx="398.3" cy="385.9" r="3.3"/><circle cx="405.7" cy="388.6" r="3.3"/><circle cx="401.8" cy="384.4" r="3.3"/><circle cx="434" cy="381.2" r="3.3"/><circle cx="368.4" cy="382.4" r="3.3"/><circle cx="544" cy="380.2" r="3.3"/><circle cx="582" cy="384.3" r="3.3"/><circle cx="562" cy="384.5" r="3.3"/><circle cx="566.5" cy="382.5" r="3.3"/><circle cx="542.5" cy="387" r="3.3"/><circle cx="562.1" cy="388.6" r="3.3"/><circle cx="535.5" cy="388.1" r="3.3"/><circle cx="564.4" cy="385.1" r="3.3"/><circle cx="704.7" cy="381.8" r="3.3"/><circle cx="679.7" cy="379.9" r="3.3"/><circle cx="671.3" cy="379.6" r="3.3"/><circle cx="679" cy="389.3" r="3.3"/><circle cx="693.3" cy="382.8" r="3.3"/><circle cx="666.7" cy="389" r="3.3"/><circle cx="654.5" cy="388.1" r="3.3"/><circle cx="779.3" cy="387.2" r="3.3"/><circle cx="810.9" cy="380.9" r="3.3"/><circle cx="811.8" cy="382.3" r="3.3"/><circle cx="806.9" cy="379.6" r="3.3"/><circle cx="914.8" cy="380.1" r="3.3"/><circle cx="887.4" cy="378.9" r="3.3"/><circle cx="899.2" cy="383.8" r="3.3"/><circle cx="919.7" cy="389" r="3.3"/><circle cx="895.4" cy="384.3" r="3.3"/><circle cx="882.1" cy="387.1" r="3.3"/><circle cx="1009.6" cy="380.6" r="3.3"/><circle cx="999.5" cy="379.4" r="3.3"/><circle cx="987.9" cy="382.7" r="3.3"/><circle cx="1016.3" cy="388.8" r="3.3"/><circle cx="1011.8" cy="385.8" r="3.3"/><circle cx="1089.4" cy="383.9" r="3.3"/><circle cx="1085.4" cy="388" r="3.3"/><circle cx="1074.5" cy="385.4" r="3.3"/><circle cx="1151.6" cy="380.9" r="3.3"/><circle cx="1156.6" cy="388" r="3.3"/><circle cx="1156.1" cy="378.9" r="3.3"/><circle cx="1215.2" cy="383.6" r="3.3"/><circle cx="1209.2" cy="381.1" r="3.3"/><circle cx="1203" cy="386.5" r="3.3"/><circle cx="1251.9" cy="384" r="3.3"/><circle cx="1258.7" cy="384.7" r="3.3"/><circle cx="1314.7" cy="385.8" r="3.3"/><circle cx="1295" cy="384" r="3.3"/><circle cx="1298.6" cy="385.4" r="3.3"/><circle cx="1307.8" cy="386.1" r="3.3"/><circle cx="1331.3" cy="383.2" r="3.3"/><circle cx="1309.8" cy="379.7" r="3.3"/><circle cx="1300.7" cy="385.6" r="3.3"/><circle cx="384" cy="374" r="3.3"/><circle cx="382.9" cy="379.5" r="3.3"/><circle cx="384.3" cy="385" r="3.3"/><circle cx="384.2" cy="390.5" r="3.3"/><circle cx="383.3" cy="396" r="3.3"/><circle cx="383.6" cy="401.5" r="3.3"/><circle cx="383.8" cy="407" r="3.3"/><circle cx="383.2" cy="412.5" r="3.3"/><circle cx="1213.8" cy="374" r="3.3"/><circle cx="1214.4" cy="379" r="3.3"/><circle cx="1214" cy="384" r="3.3"/><circle cx="1213.9" cy="389" r="3.3"/><circle cx="1214.1" cy="394" r="3.3"/><circle cx="1213.4" cy="399" r="3.3"/><circle cx="1214" cy="404" r="3.3"/><circle cx="1213.7" cy="409" r="3.3"/><circle cx="1213.5" cy="414" r="3.3"/><circle cx="1214" cy="419" r="3.3"/><circle cx="1214.3" cy="424" r="3.3"/><circle cx="1201" cy="374" r="3.3"/><circle cx="1201" cy="379.5" r="3.3"/><circle cx="1201.3" cy="385" r="3.3"/><circle cx="1200.9" cy="390.5" r="3.3"/><circle cx="1201.8" cy="396" r="3.3"/><circle cx="1200.5" cy="401.5" r="3.3"/></g>
<g fill="#df5157"><circle cx="277.7" cy="386.8" r="3.3"/><circle cx="276.6" cy="404.4" r="3.3"/><circle cx="294.2" cy="394.1" r="3.3"/><circle cx="296.4" cy="390.8" r="3.3"/><circle cx="303" cy="393" r="3.3"/><circle cx="309.6" cy="389.7" r="3.3"/><circle cx="316.2" cy="386.4" r="3.3"/><circle cx="331.6" cy="390.8" r="3.3"/><circle cx="336" cy="395.2" r="3.3"/><circle cx="342.6" cy="391.9" r="3.3"/><circle cx="348.1" cy="388.6" r="3.3"/><circle cx="353.6" cy="388.6" r="3.3"/><circle cx="348.1" cy="395.2" r="3.3"/><circle cx="349.2" cy="399.6" r="3.3"/><circle cx="349.2" cy="404" r="3.3"/><circle cx="353.6" cy="405.1" r="3.3"/><circle cx="358" cy="396.3" r="3.3"/><circle cx="361.3" cy="396.3" r="3.3"/><circle cx="357.3" cy="410.2" r="3.3"/><circle cx="291.3" cy="412.8" r="3.3"/><circle cx="297.5" cy="420.5" r="3.3"/><circle cx="303.4" cy="416.1" r="3.3"/><circle cx="309.6" cy="409.5" r="3.3"/><circle cx="309.6" cy="415" r="3.3"/><circle cx="300.3" cy="430.4" r="3.3"/><circle cx="302.5" cy="428.6" r="3.3"/><circle cx="278.3" cy="431.5" r="3.3"/><circle cx="282.5" cy="432.6" r="3.3"/><circle cx="277.7" cy="440.3" r="3.3"/><circle cx="279.9" cy="445.8" r="3.3"/><circle cx="277.7" cy="450.2" r="3.3"/><circle cx="281" cy="449.1" r="3.3"/><circle cx="310.7" cy="439.6" r="3.3"/><circle cx="331.6" cy="438.1" r="3.3"/><circle cx="340.4" cy="449.5" r="3.3"/><circle cx="343" cy="414.6" r="3.3"/><circle cx="350.9" cy="431.5" r="3.3"/><circle cx="362.8" cy="445.3" r="3.3"/><circle cx="298.1" cy="456.3" r="3.3"/><circle cx="309.6" cy="460.1" r="3.3"/><circle cx="282.5" cy="460.7" r="3.3"/><circle cx="277.7" cy="464.5" r="3.3"/><circle cx="323.2" cy="467.8" r="3.3"/><circle cx="331.6" cy="482.7" r="3.3"/><circle cx="280.5" cy="492.4" r="3.3"/><circle cx="278.8" cy="497.7" r="3.3"/><circle cx="312.9" cy="491.5" r="3.3"/><circle cx="309.6" cy="510" r="3.3"/><circle cx="297" cy="515.5" r="3.3"/><circle cx="333.8" cy="523.9" r="3.3"/><circle cx="362.8" cy="492.4" r="3.3"/><circle cx="359.1" cy="534.9" r="3.3"/><circle cx="318.8" cy="562.4" r="3.3"/><circle cx="280.5" cy="578.4" r="3.3"/><circle cx="279.9" cy="584.8" r="3.3"/><circle cx="284.3" cy="584.8" r="3.3"/><circle cx="309.6" cy="584.8" r="3.3"/><circle cx="315.7" cy="584.8" r="3.3"/><circle cx="325" cy="584.8" r="3.3"/><circle cx="330.5" cy="584.8" r="3.3"/><circle cx="332.7" cy="584.8" r="3.3"/><circle cx="443.3" cy="392.6" r="3.3"/><circle cx="442.9" cy="417.6" r="3.3"/><circle cx="457.6" cy="386.8" r="3.3"/><circle cx="467.1" cy="389.7" r="3.3"/><circle cx="471.5" cy="389.7" r="3.3"/><circle cx="481.4" cy="391.9" r="3.3"/><circle cx="482.5" cy="394.1" r="3.3"/><circle cx="473.7" cy="399.2" r="3.3"/><circle cx="456.8" cy="408.4" r="3.3"/><circle cx="462" cy="407.3" r="3.3"/><circle cx="467.8" cy="408" r="3.3"/><circle cx="473.7" cy="405.1" r="3.3"/><circle cx="479.2" cy="406.6" r="3.3"/><circle cx="493.9" cy="405.1" r="3.3"/><circle cx="499.4" cy="399.6" r="3.3"/><circle cx="503.4" cy="395.9" r="3.3"/><circle cx="506.7" cy="389.3" r="3.3"/><circle cx="511.5" cy="424.2" r="3.3"/><circle cx="469.3" cy="421.6" r="3.3"/><circle cx="478.1" cy="423.4" r="3.3"/><circle cx="446.6" cy="438.8" r="3.3"/><circle cx="446.2" cy="445.8" r="3.3"/><circle cx="469.3" cy="433.7" r="3.3"/><circle cx="481.8" cy="437.7" r="3.3"/><circle cx="455" cy="449.1" r="3.3"/><circle cx="510.6" cy="446.4" r="3.3"/><circle cx="499" cy="456.8" r="3.3"/><circle cx="500.1" cy="461.2" r="3.3"/><circle cx="441.8" cy="466" r="3.3"/><circle cx="446.2" cy="470.4" r="3.3"/><circle cx="499.4" cy="478.8" r="3.3"/><circle cx="446.6" cy="490.4" r="3.3"/><circle cx="478.1" cy="488.7" r="3.3"/><circle cx="446.2" cy="505.6" r="3.3"/><circle cx="449.5" cy="512.2" r="3.3"/><circle cx="442.2" cy="517.7" r="3.3"/><circle cx="462" cy="508.5" r="3.3"/><circle cx="480.3" cy="510.7" r="3.3"/><circle cx="482.5" cy="511.8" r="3.3"/><circle cx="506.7" cy="512.9" r="3.3"/><circle cx="511.5" cy="527.8" r="3.3"/><circle cx="466" cy="571.2" r="3.3"/><circle cx="440.7" cy="584.8" r="3.3"/><circle cx="444" cy="584.8" r="3.3"/><circle cx="446.2" cy="584.8" r="3.3"/><circle cx="468.6" cy="584.8" r="3.3"/><circle cx="475.9" cy="584.8" r="3.3"/><circle cx="482.5" cy="584.8" r="3.3"/><circle cx="511.5" cy="584.8" r="3.3"/><circle cx="585.9" cy="391.9" r="3.3"/><circle cx="584.8" cy="399.2" r="3.3"/><circle cx="593.6" cy="398.5" r="3.3"/><circle cx="594.7" cy="394.1" r="3.3"/><circle cx="603.5" cy="390.8" r="3.3"/><circle cx="603.5" cy="399.2" r="3.3"/><circle cx="596.9" cy="406.2" r="3.3"/><circle cx="601.3" cy="405.1" r="3.3"/><circle cx="593.1" cy="406.2" r="3.3"/><circle cx="593.1" cy="411.7" r="3.3"/><circle cx="600.2" cy="411" r="3.3"/><circle cx="590.3" cy="419" r="3.3"/><circle cx="595.8" cy="421.6" r="3.3"/><circle cx="599.1" cy="422.3" r="3.3"/><circle cx="598.6" cy="432.6" r="3.3"/><circle cx="585.9" cy="442.5" r="3.3"/><circle cx="595.3" cy="442.5" r="3.3"/><circle cx="601.3" cy="451.3" r="3.3"/><circle cx="602.4" cy="456.3" r="3.3"/><circle cx="592.5" cy="460.1" r="3.3"/><circle cx="599.1" cy="470" r="3.3"/><circle cx="595.3" cy="482.5" r="3.3"/><circle cx="589.2" cy="496.8" r="3.3"/><circle cx="600.8" cy="501.2" r="3.3"/><circle cx="595.3" cy="505.6" r="3.3"/><circle cx="592.5" cy="553.6" r="3.3"/><circle cx="592.5" cy="555.8" r="3.3"/><circle cx="628.8" cy="394.1" r="3.3"/><circle cx="635.4" cy="395.2" r="3.3"/><circle cx="640.9" cy="396.3" r="3.3"/><circle cx="645.3" cy="393" r="3.3"/><circle cx="648.6" cy="397.8" r="3.3"/><circle cx="645.3" cy="404" r="3.3"/><circle cx="645.3" cy="411" r="3.3"/><circle cx="645.3" cy="415.4" r="3.3"/><circle cx="634.3" cy="408.8" r="3.3"/><circle cx="629.9" cy="425.6" r="3.3"/><circle cx="632.7" cy="423.8" r="3.3"/><circle cx="644.2" cy="424.9" r="3.3"/><circle cx="645.3" cy="428.6" r="3.3"/><circle cx="645.3" cy="435.2" r="3.3"/><circle cx="648.1" cy="450.2" r="3.3"/><circle cx="644.8" cy="469.3" r="3.3"/><circle cx="638.7" cy="482.5" r="3.3"/><circle cx="647.9" cy="540.8" r="3.3"/><circle cx="644.8" cy="545.9" r="3.3"/><circle cx="634.3" cy="555.3" r="3.3"/><circle cx="631" cy="571.6" r="3.3"/><circle cx="634.3" cy="574.9" r="3.3"/><circle cx="647.5" cy="578.4" r="3.3"/><circle cx="594.7" cy="584.8" r="3.3"/><circle cx="598" cy="584.8" r="3.3"/><circle cx="601.3" cy="584.8" r="3.3"/><circle cx="611.2" cy="584.8" r="3.3"/><circle cx="616.7" cy="584.8" r="3.3"/><circle cx="594.7" cy="386.4" r="3.3"/><circle cx="595.8" cy="389.7" r="3.3"/><circle cx="593.6" cy="401.8" r="3.3"/><circle cx="594.7" cy="415" r="3.3"/><circle cx="711.5" cy="394.1" r="3.3"/><circle cx="720.3" cy="388.6" r="3.3"/><circle cx="725.8" cy="384.6" r="3.3"/><circle cx="725.8" cy="396.3" r="3.3"/><circle cx="726.9" cy="400.7" r="3.3"/><circle cx="732.4" cy="398.5" r="3.3"/><circle cx="737.9" cy="390.8" r="3.3"/><circle cx="743.4" cy="396.3" r="3.3"/><circle cx="745.6" cy="399.6" r="3.3"/><circle cx="748.9" cy="392.6" r="3.3"/><circle cx="750" cy="400.3" r="3.3"/><circle cx="742.3" cy="406.6" r="3.3"/><circle cx="734.6" cy="413.9" r="3.3"/><circle cx="717" cy="411.7" r="3.3"/><circle cx="719.2" cy="410.6" r="3.3"/><circle cx="718.1" cy="417.6" r="3.3"/><circle cx="717.4" cy="423.4" r="3.3"/><circle cx="725.8" cy="419.4" r="3.3"/><circle cx="725.8" cy="422.7" r="3.3"/><circle cx="721" cy="433" r="3.3"/><circle cx="726.9" cy="445.1" r="3.3"/><circle cx="725.8" cy="449.1" r="3.3"/><circle cx="747.8" cy="444.7" r="3.3"/><circle cx="750" cy="449.1" r="3.3"/><circle cx="746.7" cy="453.5" r="3.3"/><circle cx="725.8" cy="459.6" r="3.3"/><circle cx="721" cy="463.4" r="3.3"/><circle cx="743.4" cy="463.8" r="3.3"/><circle cx="756.6" cy="435.2" r="3.3"/><circle cx="714.8" cy="475.5" r="3.3"/><circle cx="761.6" cy="399.2" r="3.3"/><circle cx="765.8" cy="400.7" r="3.3"/><circle cx="765.8" cy="389" r="3.3"/><circle cx="765.8" cy="408" r="3.3"/><circle cx="765.8" cy="416.8" r="3.3"/><circle cx="765.8" cy="419.4" r="3.3"/><circle cx="765.8" cy="422.3" r="3.3"/><circle cx="722.1" cy="507.4" r="3.3"/><circle cx="747.8" cy="510.7" r="3.3"/><circle cx="725.1" cy="526.5" r="3.3"/><circle cx="765.8" cy="535.5" r="3.3"/><circle cx="725.1" cy="567.9" r="3.3"/><circle cx="714.8" cy="584.8" r="3.3"/><circle cx="718.1" cy="584.8" r="3.3"/><circle cx="720.3" cy="584.8" r="3.3"/><circle cx="747.8" cy="584.8" r="3.3"/><circle cx="765.8" cy="584.8" r="3.3"/><circle cx="824.8" cy="384.6" r="3.3"/><circle cx="828.1" cy="382" r="3.3"/><circle cx="832.5" cy="383.1" r="3.3"/><circle cx="823.7" cy="405.1" r="3.3"/><circle cx="830.9" cy="405.8" r="3.3"/><circle cx="834" cy="412.1" r="3.3"/><circle cx="840.6" cy="401.8" r="3.3"/><circle cx="847.9" cy="404" r="3.3"/><circle cx="852.3" cy="400.7" r="3.3"/><circle cx="855.6" cy="401.8" r="3.3"/><circle cx="850.1" cy="412.8" r="3.3"/><circle cx="851.2" cy="389.7" r="3.3"/><circle cx="860" cy="422" r="3.3"/><circle cx="865.5" cy="388.6" r="3.3"/><circle cx="864.8" cy="394.1" r="3.3"/><circle cx="872.1" cy="393" r="3.3"/><circle cx="872.5" cy="399.2" r="3.3"/><circle cx="872.5" cy="427.1" r="3.3"/><circle cx="872.7" cy="439.9" r="3.3"/><circle cx="827" cy="443.6" r="3.3"/><circle cx="859.5" cy="447.5" r="3.3"/><circle cx="868.8" cy="446.9" r="3.3"/><circle cx="859.5" cy="453.5" r="3.3"/><circle cx="865.9" cy="455.2" r="3.3"/><circle cx="869.2" cy="462.3" r="3.3"/><circle cx="866.1" cy="492.4" r="3.3"/><circle cx="858.9" cy="499.7" r="3.3"/><circle cx="853.8" cy="514" r="3.3"/><circle cx="848.5" cy="584.8" r="3.3"/><circle cx="857.8" cy="584.8" r="3.3"/><circle cx="860" cy="584.8" r="3.3"/><circle cx="868.8" cy="584.8" r="3.3"/><circle cx="871" cy="584.8" r="3.3"/><circle cx="928.4" cy="389.7" r="3.3"/><circle cx="929.5" cy="395.2" r="3.3"/><circle cx="929.5" cy="400.7" r="3.3"/><circle cx="929.5" cy="405.1" r="3.3"/><circle cx="928.8" cy="413.9" r="3.3"/><circle cx="928.8" cy="419.4" r="3.3"/><circle cx="928.8" cy="422.7" r="3.3"/><circle cx="928.8" cy="429.3" r="3.3"/><circle cx="928.4" cy="443.2" r="3.3"/><circle cx="928.4" cy="452.4" r="3.3"/><circle cx="928.4" cy="454.6" r="3.3"/><circle cx="928.4" cy="477.2" r="3.3"/><circle cx="928.8" cy="493.1" r="3.3"/><circle cx="928.8" cy="494.6" r="3.3"/><circle cx="935" cy="532.7" r="3.3"/><circle cx="928.8" cy="559.1" r="3.3"/><circle cx="928.4" cy="584.8" r="3.3"/><circle cx="944.9" cy="389.7" r="3.3"/><circle cx="947.1" cy="399.6" r="3.3"/><circle cx="946" cy="404" r="3.3"/><circle cx="947.1" cy="406.2" r="3.3"/><circle cx="959.2" cy="407.3" r="3.3"/><circle cx="952.6" cy="424.9" r="3.3"/><circle cx="965.8" cy="417.9" r="3.3"/><circle cx="973.5" cy="419" r="3.3"/><circle cx="947.8" cy="435.2" r="3.3"/><circle cx="942.7" cy="441.4" r="3.3"/><circle cx="946" cy="445.3" r="3.3"/><circle cx="943.8" cy="450.6" r="3.3"/><circle cx="975.7" cy="453" r="3.3"/><circle cx="941.2" cy="469.3" r="3.3"/><circle cx="972.4" cy="476.1" r="3.3"/><circle cx="947.1" cy="489.8" r="3.3"/><circle cx="967.5" cy="493.1" r="3.3"/><circle cx="965.3" cy="498.1" r="3.3"/><circle cx="970.8" cy="502.3" r="3.3"/><circle cx="972.4" cy="533.8" r="3.3"/><circle cx="944.5" cy="544.8" r="3.3"/><circle cx="951.5" cy="581.5" r="3.3"/><circle cx="947.1" cy="584.8" r="3.3"/><circle cx="960.3" cy="390.8" r="3.3"/><circle cx="966.9" cy="395.2" r="3.3"/><circle cx="971.9" cy="395.2" r="3.3"/><circle cx="957" cy="379.8" r="3.3"/><circle cx="970.2" cy="387.5" r="3.3"/><circle cx="1030.7" cy="386" r="3.3"/><circle cx="1030.7" cy="404" r="3.3"/><circle cx="1030.7" cy="408.4" r="3.3"/><circle cx="1041.2" cy="404.4" r="3.3"/><circle cx="1048.3" cy="393" r="3.3"/><circle cx="1060.8" cy="395.6" r="3.3"/><circle cx="1057.7" cy="404.4" r="3.3"/><circle cx="1057.7" cy="409.5" r="3.3"/><circle cx="1057.7" cy="428.2" r="3.3"/><circle cx="1057.7" cy="433.7" r="3.3"/><circle cx="1057.7" cy="450.2" r="3.3"/><circle cx="1029.1" cy="423.8" r="3.3"/><circle cx="1033.5" cy="427.8" r="3.3"/><circle cx="1036.2" cy="428.6" r="3.3"/><circle cx="1046.5" cy="434.8" r="3.3"/><circle cx="1042.8" cy="438.8" r="3.3"/><circle cx="1030.7" cy="456.8" r="3.3"/><circle cx="1029.1" cy="462.3" r="3.3"/><circle cx="1049.8" cy="469.5" r="3.3"/><circle cx="1030.7" cy="474.4" r="3.3"/><circle cx="1030.7" cy="484.9" r="3.3"/><circle cx="1061.7" cy="486" r="3.3"/><circle cx="1042.8" cy="493.1" r="3.3"/><circle cx="1030.7" cy="497.7" r="3.3"/><circle cx="1049.8" cy="506.7" r="3.3"/><circle cx="1057.7" cy="523.9" r="3.3"/><circle cx="1029.1" cy="533.8" r="3.3"/><circle cx="1056" cy="541" r="3.3"/><circle cx="1029.1" cy="553.1" r="3.3"/><circle cx="1049.8" cy="584.8" r="3.3"/><circle cx="1057.7" cy="584.8" r="3.3"/><circle cx="1103.3" cy="384.2" r="3.3"/><circle cx="1103.3" cy="389.7" r="3.3"/><circle cx="1104.4" cy="396.3" r="3.3"/><circle cx="1103.3" cy="404" r="3.3"/><circle cx="1104.4" cy="407.3" r="3.3"/><circle cx="1106.6" cy="415" r="3.3"/><circle cx="1103.3" cy="426" r="3.3"/><circle cx="1109.4" cy="426.4" r="3.3"/><circle cx="1113.8" cy="401.8" r="3.3"/><circle cx="1113.2" cy="391.9" r="3.3"/><circle cx="1113.8" cy="460.5" r="3.3"/><circle cx="1114.3" cy="474.4" r="3.3"/><circle cx="1102.8" cy="474.8" r="3.3"/><circle cx="1102.8" cy="492.4" r="3.3"/><circle cx="1114.3" cy="500.1" r="3.3"/><circle cx="1109.9" cy="512.2" r="3.3"/><circle cx="1103.3" cy="515.1" r="3.3"/><circle cx="1103.9" cy="521" r="3.3"/><circle cx="1123.7" cy="389.7" r="3.3"/><circle cx="1127.5" cy="399.6" r="3.3"/><circle cx="1128.1" cy="406.2" r="3.3"/><circle cx="1128.1" cy="411" r="3.3"/><circle cx="1123.7" cy="413.9" r="3.3"/><circle cx="1128.6" cy="426" r="3.3"/><circle cx="1123.7" cy="440.3" r="3.3"/><circle cx="1128.6" cy="441.4" r="3.3"/><circle cx="1128.6" cy="447.5" r="3.3"/><circle cx="1135.8" cy="399.6" r="3.3"/><circle cx="1135.8" cy="408.8" r="3.3"/><circle cx="1136.3" cy="439.6" r="3.3"/><circle cx="1127.9" cy="506.3" r="3.3"/><circle cx="1128.6" cy="510.2" r="3.3"/><circle cx="1127.9" cy="547.6" r="3.3"/><circle cx="1103.3" cy="584.8" r="3.3"/><circle cx="1107.7" cy="584.8" r="3.3"/><circle cx="1114.3" cy="584.8" r="3.3"/><circle cx="1128.1" cy="584.8" r="3.3"/><circle cx="1136.3" cy="584.8" r="3.3"/><circle cx="1168.4" cy="393" r="3.3"/><circle cx="1171.7" cy="388.6" r="3.3"/><circle cx="1180.5" cy="391.9" r="3.3"/><circle cx="1180.5" cy="399.2" r="3.3"/><circle cx="1180.5" cy="402.9" r="3.3"/><circle cx="1177.6" cy="385.3" r="3.3"/><circle cx="1187.8" cy="419.4" r="3.3"/><circle cx="1168.8" cy="438.8" r="3.3"/><circle cx="1180.5" cy="473.9" r="3.3"/><circle cx="1177.6" cy="477.2" r="3.3"/><circle cx="1193" cy="544.8" r="3.3"/><circle cx="1187.1" cy="382" r="3.3"/><circle cx="1223.4" cy="431.5" r="3.3"/><circle cx="1226.7" cy="390.8" r="3.3"/><circle cx="1227.8" cy="400" r="3.3"/><circle cx="1235.9" cy="403.3" r="3.3"/><circle cx="1238.3" cy="398.5" r="3.3"/><circle cx="1230.6" cy="410.6" r="3.3"/><circle cx="1240.5" cy="420.1" r="3.3"/><circle cx="1238.8" cy="436.6" r="3.3"/><circle cx="1235.5" cy="452.4" r="3.3"/><circle cx="1243.6" cy="456.3" r="3.3"/><circle cx="1222.3" cy="467.8" r="3.3"/><circle cx="1238.8" cy="479.4" r="3.3"/><circle cx="1230.4" cy="492" r="3.3"/><circle cx="1238.8" cy="490.4" r="3.3"/><circle cx="1230" cy="497.9" r="3.3"/><circle cx="1221.6" cy="513.3" r="3.3"/><circle cx="1245.8" cy="513.3" r="3.3"/><circle cx="1221.6" cy="539.3" r="3.3"/><circle cx="1244.9" cy="544.1" r="3.3"/><circle cx="1221.8" cy="584.8" r="3.3"/><circle cx="1238.3" cy="584.8" r="3.3"/><circle cx="1227.8" cy="379.4" r="3.3"/><circle cx="1234.4" cy="386.8" r="3.3"/><circle cx="1239.9" cy="384.2" r="3.3"/><circle cx="1278.4" cy="387.5" r="3.3"/><circle cx="1278.4" cy="391.9" r="3.3"/><circle cx="1273.3" cy="392.6" r="3.3"/><circle cx="1277.3" cy="398.5" r="3.3"/><circle cx="1271.8" cy="401.8" r="3.3"/><circle cx="1280.6" cy="402.9" r="3.3"/><circle cx="1275.1" cy="408.4" r="3.3"/><circle cx="1278.4" cy="410.2" r="3.3"/><circle cx="1282.8" cy="413.5" r="3.3"/><circle cx="1274" cy="431.9" r="3.3"/><circle cx="1272.9" cy="435.9" r="3.3"/><circle cx="1283.4" cy="448" r="3.3"/><circle cx="1280.1" cy="485.8" r="3.3"/><circle cx="1273.3" cy="534.9" r="3.3"/><circle cx="1278.4" cy="536" r="3.3"/><circle cx="1271.8" cy="560.6" r="3.3"/><circle cx="1273.3" cy="577.3" r="3.3"/><circle cx="1269.6" cy="584.8" r="3.3"/><circle cx="1273.3" cy="584.8" r="3.3"/><circle cx="1276.2" cy="584.8" r="3.3"/><circle cx="316.7" cy="383" r="3.3"/><circle cx="354.1" cy="389.1" r="3.3"/><circle cx="314" cy="385" r="3.3"/><circle cx="349" cy="381.6" r="3.3"/><circle cx="297.8" cy="379.9" r="3.3"/><circle cx="318.5" cy="387.3" r="3.3"/><circle cx="289.2" cy="383.6" r="3.3"/><circle cx="359.9" cy="384.1" r="3.3"/><circle cx="308.3" cy="388" r="3.3"/><circle cx="351.6" cy="382.9" r="3.3"/><circle cx="286.4" cy="385.8" r="3.3"/><circle cx="338.7" cy="389" r="3.3"/><circle cx="495.1" cy="386.4" r="3.3"/><circle cx="503.4" cy="379.4" r="3.3"/><circle cx="442" cy="381.4" r="3.3"/><circle cx="493.3" cy="380.5" r="3.3"/><circle cx="476.7" cy="387.3" r="3.3"/><circle cx="451.7" cy="384.6" r="3.3"/><circle cx="501.4" cy="387" r="3.3"/><circle cx="467.8" cy="384.1" r="3.3"/><circle cx="459.8" cy="389.4" r="3.3"/><circle cx="493.5" cy="386.3" r="3.3"/><circle cx="617.2" cy="389.4" r="3.3"/><circle cx="638.7" cy="383.8" r="3.3"/><circle cx="594.7" cy="383.8" r="3.3"/><circle cx="617.9" cy="387.4" r="3.3"/><circle cx="599.3" cy="381.9" r="3.3"/><circle cx="644.1" cy="378.9" r="3.3"/><circle cx="623.1" cy="379.8" r="3.3"/><circle cx="631" cy="383.5" r="3.3"/><circle cx="717.6" cy="388.5" r="3.3"/><circle cx="724.8" cy="380.3" r="3.3"/><circle cx="752.7" cy="386.3" r="3.3"/><circle cx="734.6" cy="385.4" r="3.3"/><circle cx="742.1" cy="389.2" r="3.3"/><circle cx="739.7" cy="384.7" r="3.3"/><circle cx="737.3" cy="383.3" r="3.3"/><circle cx="749.3" cy="380" r="3.3"/><circle cx="827.8" cy="383.9" r="3.3"/><circle cx="837.6" cy="387.2" r="3.3"/><circle cx="858.3" cy="386.3" r="3.3"/><circle cx="834.9" cy="379.3" r="3.3"/><circle cx="854.8" cy="386.4" r="3.3"/><circle cx="826.5" cy="388" r="3.3"/><circle cx="866.3" cy="382.8" r="3.3"/><circle cx="965" cy="379.5" r="3.3"/><circle cx="958.1" cy="379.1" r="3.3"/><circle cx="963.7" cy="387.5" r="3.3"/><circle cx="943.8" cy="378.8" r="3.3"/><circle cx="963.6" cy="389.8" r="3.3"/><circle cx="958.1" cy="382.8" r="3.3"/><circle cx="944.1" cy="387.7" r="3.3"/><circle cx="1032.7" cy="388.1" r="3.3"/><circle cx="1042.7" cy="389.8" r="3.3"/><circle cx="1052.9" cy="383.5" r="3.3"/><circle cx="1035.2" cy="383.5" r="3.3"/><circle cx="1048.8" cy="388.3" r="3.3"/><circle cx="1113.4" cy="380.9" r="3.3"/><circle cx="1112.1" cy="383.3" r="3.3"/><circle cx="1126.1" cy="384.7" r="3.3"/><circle cx="1121.9" cy="388.4" r="3.3"/><circle cx="1179.4" cy="382.4" r="3.3"/><circle cx="1171.6" cy="387.3" r="3.3"/><circle cx="1183.1" cy="384.1" r="3.3"/><circle cx="1187.1" cy="379.5" r="3.3"/><circle cx="1233.8" cy="383.2" r="3.3"/><circle cx="1242.8" cy="381.9" r="3.3"/><circle cx="1239.3" cy="385" r="3.3"/><circle cx="1272.5" cy="378.9" r="3.3"/><circle cx="1273.2" cy="385.6" r="3.3"/><circle cx="589.1" cy="401.9" r="3.3"/><circle cx="597.3" cy="394.1" r="3.3"/><circle cx="593.8" cy="392.4" r="3.3"/><circle cx="591.9" cy="411.3" r="3.3"/><circle cx="599.4" cy="389.7" r="3.3"/><circle cx="595.8" cy="397.3" r="3.3"/><circle cx="590.6" cy="408.8" r="3.3"/><circle cx="595.4" cy="419.6" r="3.3"/><circle cx="599.9" cy="415.9" r="3.3"/><circle cx="592.1" cy="382.6" r="3.3"/><circle cx="598.7" cy="382.5" r="3.3"/><circle cx="597.2" cy="385.4" r="3.3"/></g>
</g>
</g>
<g stroke="#000" stroke-width="2.1" fill="none">
<path d="M116.7 60.5 V315 H1402"/>
<path d="M109.5 90.2 H116.7"/>
<path d="M109.5 166.5 H116.7"/>
<path d="M109.5 242.5 H116.7"/>
<path d="M116.7 615 V359.6 H1402"/>
<path d="M109.5 431.8 H116.7"/>
<path d="M109.5 507.9 H116.7"/>
<path d="M109.5 584.3 H116.7"/>
<path d="M222.4 315 V322.3"/>
<path d="M222.4 352.3 V359.6"/>
<path d="M316.8 315 V322.3"/>
<path d="M316.8 352.3 V359.6"/>
<path d="M401.9 315 V322.3"/>
<path d="M401.9 352.3 V359.6"/>
<path d="M477.1 315 V322.3"/>
<path d="M477.1 352.3 V359.6"/>
<path d="M548.4 315 V322.3"/>
<path d="M548.4 352.3 V359.6"/>
<path d="M616.9 315 V322.3"/>
<path d="M616.9 352.3 V359.6"/>
<path d="M680.5 315 V322.3"/>
<path d="M680.5 352.3 V359.6"/>
<path d="M738.7 315 V322.3"/>
<path d="M738.7 352.3 V359.6"/>
<path d="M794.4 315 V322.3"/>
<path d="M794.4 352.3 V359.6"/>
<path d="M847.6 315 V322.3"/>
<path d="M847.6 352.3 V359.6"/>
<path d="M899.3 315 V322.3"/>
<path d="M899.3 352.3 V359.6"/>
<path d="M951.2 315 V322.3"/>
<path d="M951.2 352.3 V359.6"/>
<path d="M999.1 315 V322.3"/>
<path d="M999.1 352.3 V359.6"/>
<path d="M1041.9 315 V322.3"/>
<path d="M1041.9 352.3 V359.6"/>
<path d="M1082.3 315 V322.3"/>
<path d="M1082.3 352.3 V359.6"/>
<path d="M1119.6 315 V322.3"/>
<path d="M1119.6 352.3 V359.6"/>
<path d="M1152.4 315 V322.3"/>
<path d="M1152.4 352.3 V359.6"/>
<path d="M1183.1 315 V322.3"/>
<path d="M1183.1 352.3 V359.6"/>
<path d="M1209.4 315 V322.3"/>
<path d="M1209.4 352.3 V359.6"/>
<path d="M1233.3 315 V322.3"/>
<path d="M1233.3 352.3 V359.6"/>
<path d="M1254.6 315 V322.3"/>
<path d="M1254.6 352.3 V359.6"/>
<path d="M1273.5 315 V322.3"/>
<path d="M1273.5 352.3 V359.6"/>
<path d="M1313.6 315 V322.3"/>
<path d="M1313.6 352.3 V359.6"/>
</g>
<g stroke="#000" stroke-width="2.3" stroke-dasharray="17.2 17.185">
<path d="M116.4 288.4 H1402"/>
<path d="M116.4 386.4 H1402"/>
</g>
<g style="font-family:'Liberation Sans', sans-serif;font-size:25px;fill:#000" text-anchor="end">
<text x="101.6" y="98.5">60</text>
<text x="101.6" y="174.8">40</text>
<text x="101.6" y="250.8">20</text>
<text x="101.6" y="440.1">20</text>
<text x="101.6" y="516.2">40</text>
<text x="101.6" y="592.6">60</text>
</g>
<g style="font-family:'Liberation Sans', sans-serif;font-size:25px;fill:#000" text-anchor="middle">
<text x="222.4" y="346">1</text>
<text x="316.8" y="346">2</text>
<text x="401.9" y="346">3</text>
<text x="477.1" y="346">4</text>
<text x="548.4" y="346">5</text>
<text x="616.9" y="346">6</text>
<text x="680.5" y="346">7</text>
<text x="738.7" y="346">8</text>
<text x="794.4" y="346">9</text>
<text x="847.6" y="346">10</text>
<text x="899.3" y="346">11</text>
<text x="951.2" y="346">12</text>
<text x="999.1" y="346">13</text>
<text x="1041.9" y="346">14</text>
<text x="1119.6" y="346">16</text>
<text x="1183.1" y="346">18</text>
<text x="1254.6" y="346">21</text>
<text x="1313.6" y="346">X</text>
</g>
<text transform="translate(24,205.7) rotate(-90)" text-anchor="middle" style="font-family:'Liberation Sans', sans-serif;font-size:25.4px;fill:#000">Positive beta</text>
<text transform="translate(54.6,206) rotate(-90)" text-anchor="middle" style="font-family:'Liberation Sans', sans-serif;font-size:25.4px;fill:#000;font-size:25px">&#8722;log<tspan font-size="17px" dy="6.5">10</tspan><tspan dy="-6.5">(</tspan><tspan font-style="italic">P</tspan>)</text>
<text transform="translate(24,512) rotate(-90)" text-anchor="middle" style="font-family:'Liberation Sans', sans-serif;font-size:25.4px;fill:#000">Negative beta</text>
<text transform="translate(54.6,512) rotate(-90)" text-anchor="middle" style="font-family:'Liberation Sans', sans-serif;font-size:25.4px;fill:#000;font-size:25px">&#8722;log<tspan font-size="17px" dy="6.5">10</tspan><tspan dy="-6.5">(</tspan><tspan font-style="italic">P</tspan>)</text>
<text transform="translate(388.0,82.7) rotate(-45)" textLength="73.2" lengthAdjust="spacingAndGlyphs" style="font-family:'Liberation Sans', sans-serif;font-size:25px;font-style:italic;fill:#000">STAB1</text>
<text transform="translate(940.0,86.0) rotate(-45)" textLength="100.7" lengthAdjust="spacingAndGlyphs" style="font-family:'Liberation Sans', sans-serif;font-size:25px;font-style:italic;fill:#000">GNPTAB</text>
<text transform="translate(990.5,86.5) rotate(-45)" textLength="77.6" lengthAdjust="spacingAndGlyphs" style="font-family:'Liberation Sans', sans-serif;font-size:25px;font-style:italic;fill:#000">STAB2</text>
<text transform="translate(1147.2,82.1) rotate(-45)" textLength="78.3" lengthAdjust="spacingAndGlyphs" style="font-family:'Liberation Sans', sans-serif;font-size:25px;font-style:italic;fill:#000">ASGR1</text>
<text x="0" y="39" style="font-family:'Liberation Sans', sans-serif;font-size:33.5px;font-weight:bold;fill:#000;stroke:#000;stroke-width:1.1px">a</text>
<text x="-0.5" y="681" style="font-family:'Liberation Sans', sans-serif;font-size:33.5px;font-weight:bold;fill:#000;stroke:#000;stroke-width:1.1px">b</text>
<text x="532" y="682.2" style="font-family:'Liberation Sans', sans-serif;font-size:33.5px;font-weight:bold;fill:#000;stroke:#000;stroke-width:1.1px">c</text>
<g stroke="#000" stroke-width="2.1" fill="none">
<path d="M115.5 698 V952.6 M108.2 952.6 H503.6"/>
<path d="M108.3 952.4 H115.5"/>
<path d="M108.3 910.7 H115.5"/>
<path d="M108.3 869.0 H115.5"/>
<path d="M108.3 827.3 H115.5"/>
<path d="M108.3 785.6 H115.5"/>
<path d="M108.3 743.9 H115.5"/>
<path d="M108.3 702.2 H115.5"/>
<path d="M152.6 952.6 V962"/>
<path d="M215.5 952.6 V962"/>
<path d="M277.8 952.6 V962"/>
<path d="M340.4 952.6 V962"/>
<path d="M403.2 952.6 V962"/>
<path d="M465.5 952.6 V962"/>
</g>
<rect x="125.2" y="708.7" width="55.8" height="243.7" fill="#0072b2" stroke="#000" stroke-width="2"/>
<rect x="187.3" y="934.5" width="55.9" height="17.9" fill="#e69f00" stroke="#000" stroke-width="2"/>
<rect x="250.0" y="947.8" width="56.0" height="4.6" fill="#d55e00" stroke="#000" stroke-width="2"/>
<rect x="312.5" y="949.3" width="56.1" height="3.1" fill="#0b7454" stroke="#000" stroke-width="2"/>
<rect x="375.3" y="951.4" width="55.6" height="1.0" fill="#56b4e9" stroke="#000" stroke-width="2"/>
<rect x="437.8" y="949.1" width="55.9" height="3.3" fill="#e9b60a" stroke="#000" stroke-width="2"/>
<g style="font-family:'Liberation Sans', sans-serif;font-size:25px;fill:#000" text-anchor="end">
<text x="100.5" y="960.7">0</text>
<text x="100.5" y="919.0">200</text>
<text x="100.5" y="877.3">400</text>
<text x="100.5" y="835.6">600</text>
<text x="100.5" y="793.9">800</text>
<text x="100.5" y="752.2">1,000</text>
<text x="100.5" y="710.5">1,200</text>
</g>
<g style="font-family:'Liberation Sans', sans-serif;font-size:25px;fill:#000" text-anchor="middle">
<text x="152.6" y="989">1</text>
<text x="215.5" y="989">2</text>
<text x="277.8" y="989">3</text>
<text x="340.4" y="989">4</text>
<text x="403.2" y="989">5</text>
<text x="465.5" y="989">6+</text>
</g>
<text transform="translate(28,824) rotate(-90)" text-anchor="middle" style="font-family:'Liberation Sans', sans-serif;font-size:25.4px;fill:#000">Frequency</text>
<text x="197.5" y="1025" style="font-family:'Liberation Sans', sans-serif;font-size:25.4px;fill:#000">Number of proteins</text>
<text x="198.3" y="1055.5" style="font-family:'Liberation Sans', sans-serif;font-size:25.4px;fill:#000">associated per gene</text>
<g stroke="#000" stroke-width="2.1" fill="none">
<path d="M625.5 697 V952 H1005.7 M1019.8 952 H1402"/>
<path d="M618.3 709.1 H625.5"/>
<path d="M618.3 767.0 H625.5"/>
<path d="M618.3 824.9 H625.5"/>
<path d="M618.3 882.8 H625.5"/>
<path d="M618.3 940.7 H625.5"/>
<path d="M649.6 952 V959.3"/>
<path d="M691.1 952 V959.3"/>
<path d="M732.5 952 V959.3"/>
<path d="M774.0 952 V959.3"/>
<path d="M815.5 952 V959.3"/>
<path d="M857.0 952 V959.3"/>
<path d="M898.4 952 V959.3"/>
<path d="M939.9 952 V959.3"/>
<path d="M981.4 952 V959.3"/>
<path d="M1045.0 952 V959.3"/>
<path d="M1086.4 952 V959.3"/>
<path d="M1127.9 952 V959.3"/>
<path d="M1169.3 952 V959.3"/>
<path d="M1210.7 952 V959.3"/>
<path d="M1252.2 952 V959.3"/>
<path d="M1293.6 952 V959.3"/>
<path d="M1335.0 952 V959.3"/>
<path d="M1376.4 952 V959.3"/>
</g>
<g style="font-family:'Liberation Sans', sans-serif;font-size:25px;fill:#000" text-anchor="end">
<text x="611.8" y="717.4">4</text>
<text x="611.8" y="775.3">2</text>
<text x="611.8" y="833.2">0</text>
<text x="611.8" y="891.1">&#8722;2</text>
<text x="611.8" y="949.0">&#8722;4</text>
</g>
<text transform="translate(564.5,823) rotate(-90)" text-anchor="middle" style="font-family:'Liberation Sans', sans-serif;font-size:25.4px;fill:#000">Standardized beta</text>
<text x="814.5" y="679.3" text-anchor="middle" style="font-family:'Liberation Sans', sans-serif;font-size:25.4px;fill:#000"><tspan font-style="italic">cis</tspan>-CDS</text>
<text x="1220" y="679.3" text-anchor="middle" style="font-family:'Liberation Sans', sans-serif;font-size:25.4px;fill:#000"><tspan font-style="italic">trans</tspan>-CDS</text>
<g style="font-family:'Liberation Sans', sans-serif;font-size:25.4px;fill:#000" text-anchor="end">
<text transform="translate(662.6,975.7) rotate(-45)">ptv</text>
<text transform="translate(704.1,975.7) rotate(-45)">URmtr</text>
<text transform="translate(745.5,975.7) rotate(-45)">UR</text>
<text transform="translate(787.0,975.7) rotate(-45)">raredmgmtr</text>
<text transform="translate(828.5,975.7) rotate(-45)">raredmg</text>
<text transform="translate(870.0,975.7) rotate(-45)">ptvraredmg</text>
<text transform="translate(911.4,975.7) rotate(-45)">rec</text>
<text transform="translate(952.9,975.7) rotate(-45)">flexdmg</text>
<text transform="translate(994.4,975.7) rotate(-45)">flexnonsynmtr</text>
<text transform="translate(1058.0,975.7) rotate(-45)">ptv</text>
<text transform="translate(1099.4,975.7) rotate(-45)">URmtr</text>
<text transform="translate(1140.9,975.7) rotate(-45)">UR</text>
<text transform="translate(1182.3,975.7) rotate(-45)">raredmgmtr</text>
<text transform="translate(1223.7,975.7) rotate(-45)">raredmg</text>
<text transform="translate(1265.2,975.7) rotate(-45)">ptvraredmg</text>
<text transform="translate(1306.6,975.7) rotate(-45)">rec</text>
<text transform="translate(1348.0,975.7) rotate(-45)">flexdmg</text>
<text transform="translate(1389.4,975.7) rotate(-45)">flexnonsynmtr</text>
</g>
<g fill-opacity="0.27" class="c">
<g fill="#009e73"><circle cx="653" cy="835" r="3.9"/><circle cx="643" cy="842" r="3.9"/><circle cx="650" cy="839" r="3.9"/><circle cx="658" cy="842" r="3.9"/><circle cx="645" cy="841" r="3.9"/><circle cx="648" cy="839" r="3.9"/><circle cx="647" cy="837" r="3.9"/><circle cx="647" cy="838" r="3.9"/><circle cx="645" cy="897" r="3.9"/><circle cx="648" cy="878" r="3.9"/><circle cx="655" cy="885" r="3.9"/><circle cx="644" cy="902" r="3.9"/><circle cx="657" cy="895" r="3.9"/><circle cx="647" cy="894" r="3.9"/><circle cx="652" cy="845" r="3.9"/><circle cx="648" cy="886" r="3.9"/><circle cx="651" cy="902" r="3.9"/><circle cx="655" cy="895" r="3.9"/><circle cx="658" cy="864" r="3.9"/><circle cx="657" cy="843" r="3.9"/><circle cx="655" cy="848" r="3.9"/><circle cx="650" cy="870" r="3.9"/><circle cx="643" cy="882" r="3.9"/><circle cx="655" cy="857" r="3.9"/><circle cx="646" cy="891" r="3.9"/><circle cx="650" cy="844" r="3.9"/><circle cx="647" cy="902" r="3.9"/><circle cx="646" cy="861" r="3.9"/><circle cx="649" cy="898" r="3.9"/><circle cx="655" cy="867" r="3.9"/><circle cx="653" cy="845" r="3.9"/><circle cx="643" cy="866" r="3.9"/><circle cx="652" cy="852" r="3.9"/><circle cx="642" cy="896" r="3.9"/><circle cx="645" cy="846" r="3.9"/><circle cx="643" cy="848" r="3.9"/><circle cx="646" cy="879" r="3.9"/><circle cx="653" cy="861" r="3.9"/><circle cx="650" cy="864" r="3.9"/><circle cx="651" cy="850" r="3.9"/><circle cx="652" cy="843" r="3.9"/><circle cx="657" cy="856" r="3.9"/><circle cx="651" cy="855" r="3.9"/><circle cx="649" cy="859" r="3.9"/><circle cx="652" cy="891" r="3.9"/><circle cx="656" cy="903" r="3.9"/><circle cx="649" cy="877" r="3.9"/><circle cx="648" cy="861" r="3.9"/><circle cx="650" cy="903" r="3.9"/><circle cx="643" cy="889" r="3.9"/><circle cx="647" cy="880" r="3.9"/><circle cx="646" cy="888" r="3.9"/><circle cx="650" cy="862" r="3.9"/><circle cx="649" cy="843" r="3.9"/><circle cx="643" cy="899" r="3.9"/><circle cx="643" cy="868" r="3.9"/><circle cx="653" cy="845" r="3.9"/><circle cx="657" cy="856" r="3.9"/><circle cx="658" cy="870" r="3.9"/><circle cx="651" cy="880" r="3.9"/><circle cx="643" cy="874" r="3.9"/><circle cx="654" cy="892" r="3.9"/><circle cx="654" cy="885" r="3.9"/><circle cx="644" cy="868" r="3.9"/><circle cx="650" cy="846" r="3.9"/><circle cx="654" cy="849" r="3.9"/><circle cx="651" cy="860" r="3.9"/><circle cx="644" cy="902" r="3.9"/><circle cx="652" cy="888" r="3.9"/><circle cx="652" cy="878" r="3.9"/><circle cx="656" cy="847" r="3.9"/><circle cx="648" cy="857" r="3.9"/><circle cx="652" cy="867" r="3.9"/><circle cx="657" cy="857" r="3.9"/><circle cx="646" cy="900" r="3.9"/><circle cx="654" cy="870" r="3.9"/><circle cx="648" cy="889" r="3.9"/><circle cx="644" cy="888" r="3.9"/><circle cx="645" cy="893" r="3.9"/><circle cx="643" cy="900" r="3.9"/><circle cx="656" cy="845" r="3.9"/><circle cx="644" cy="900" r="3.9"/><circle cx="655" cy="861" r="3.9"/><circle cx="655" cy="879" r="3.9"/><circle cx="646" cy="886" r="3.9"/><circle cx="649" cy="852" r="3.9"/><circle cx="656" cy="887" r="3.9"/><circle cx="646" cy="869" r="3.9"/><circle cx="653" cy="866" r="3.9"/><circle cx="646" cy="876" r="3.9"/><circle cx="657" cy="849" r="3.9"/><circle cx="646" cy="873" r="3.9"/><circle cx="658" cy="905" r="3.9"/><circle cx="642" cy="883" r="3.9"/><circle cx="644" cy="856" r="3.9"/><circle cx="644" cy="874" r="3.9"/><circle cx="658" cy="903" r="3.9"/><circle cx="648" cy="899" r="3.9"/><circle cx="653" cy="848" r="3.9"/><circle cx="657" cy="860" r="3.9"/><circle cx="658" cy="851" r="3.9"/><circle cx="657" cy="875" r="3.9"/><circle cx="650" cy="854" r="3.9"/><circle cx="650" cy="890" r="3.9"/><circle cx="651" cy="904" r="3.9"/><circle cx="651" cy="899" r="3.9"/><circle cx="644" cy="889" r="3.9"/><circle cx="652" cy="898" r="3.9"/><circle cx="647" cy="872" r="3.9"/><circle cx="655" cy="859" r="3.9"/><circle cx="648" cy="895" r="3.9"/><circle cx="652" cy="873" r="3.9"/><circle cx="642" cy="890" r="3.9"/><circle cx="649" cy="858" r="3.9"/><circle cx="648" cy="852" r="3.9"/><circle cx="656" cy="892" r="3.9"/><circle cx="658" cy="885" r="3.9"/><circle cx="644" cy="869" r="3.9"/><circle cx="658" cy="843" r="3.9"/><circle cx="647" cy="852" r="3.9"/><circle cx="645" cy="860" r="3.9"/><circle cx="652" cy="847" r="3.9"/><circle cx="656" cy="870" r="3.9"/><circle cx="645" cy="849" r="3.9"/><circle cx="650" cy="865" r="3.9"/><circle cx="650" cy="850" r="3.9"/><circle cx="648" cy="874" r="3.9"/><circle cx="643" cy="874" r="3.9"/><circle cx="656" cy="880" r="3.9"/><circle cx="644" cy="882" r="3.9"/><circle cx="643" cy="852" r="3.9"/><circle cx="642" cy="876" r="3.9"/><circle cx="645" cy="860" r="3.9"/><circle cx="644" cy="898" r="3.9"/><circle cx="644" cy="885" r="3.9"/><circle cx="655" cy="871" r="3.9"/><circle cx="651" cy="864" r="3.9"/><circle cx="655" cy="886" r="3.9"/><circle cx="643" cy="887" r="3.9"/><circle cx="644" cy="873" r="3.9"/><circle cx="645" cy="873" r="3.9"/><circle cx="653" cy="888" r="3.9"/><circle cx="647" cy="846" r="3.9"/><circle cx="649" cy="900" r="3.9"/><circle cx="651" cy="881" r="3.9"/><circle cx="654" cy="883" r="3.9"/><circle cx="657" cy="902" r="3.9"/><circle cx="654" cy="893" r="3.9"/><circle cx="644" cy="859" r="3.9"/><circle cx="654" cy="879" r="3.9"/><circle cx="656" cy="891" r="3.9"/><circle cx="647" cy="854" r="3.9"/><circle cx="653" cy="850" r="3.9"/><circle cx="650" cy="860" r="3.9"/><circle cx="648" cy="884" r="3.9"/><circle cx="652" cy="881" r="3.9"/><circle cx="643" cy="898" r="3.9"/><circle cx="653" cy="899" r="3.9"/><circle cx="652" cy="883" r="3.9"/><circle cx="656" cy="889" r="3.9"/><circle cx="652" cy="845" r="3.9"/><circle cx="642" cy="887" r="3.9"/><circle cx="656" cy="867" r="3.9"/><circle cx="645" cy="870" r="3.9"/><circle cx="656" cy="890" r="3.9"/><circle cx="644" cy="856" r="3.9"/><circle cx="645" cy="889" r="3.9"/><circle cx="646" cy="898" r="3.9"/><circle cx="649" cy="855" r="3.9"/><circle cx="649" cy="852" r="3.9"/><circle cx="656" cy="844" r="3.9"/><circle cx="649" cy="866" r="3.9"/><circle cx="642" cy="857" r="3.9"/><circle cx="658" cy="896" r="3.9"/><circle cx="649" cy="897" r="3.9"/><circle cx="657" cy="896" r="3.9"/><circle cx="654" cy="878" r="3.9"/><circle cx="650" cy="887" r="3.9"/><circle cx="652" cy="903" r="3.9"/><circle cx="645" cy="899" r="3.9"/><circle cx="654" cy="870" r="3.9"/><circle cx="656" cy="861" r="3.9"/><circle cx="648" cy="879" r="3.9"/><circle cx="658" cy="858" r="3.9"/><circle cx="656" cy="884" r="3.9"/><circle cx="657" cy="862" r="3.9"/><circle cx="653" cy="898" r="3.9"/><circle cx="656" cy="886" r="3.9"/><circle cx="656" cy="882" r="3.9"/><circle cx="651" cy="855" r="3.9"/><circle cx="650" cy="904" r="3.9"/><circle cx="657" cy="846" r="3.9"/><circle cx="647" cy="858" r="3.9"/><circle cx="656" cy="854" r="3.9"/><circle cx="654" cy="855" r="3.9"/><circle cx="647" cy="903" r="3.9"/><circle cx="644" cy="879" r="3.9"/><circle cx="646" cy="890" r="3.9"/><circle cx="643" cy="885" r="3.9"/><circle cx="646" cy="902" r="3.9"/><circle cx="647" cy="884" r="3.9"/><circle cx="642" cy="901" r="3.9"/><circle cx="652" cy="900" r="3.9"/><circle cx="654" cy="847" r="3.9"/><circle cx="654" cy="867" r="3.9"/><circle cx="645" cy="898" r="3.9"/><circle cx="653" cy="865" r="3.9"/><circle cx="643" cy="883" r="3.9"/><circle cx="643" cy="858" r="3.9"/><circle cx="643" cy="854" r="3.9"/><circle cx="654" cy="860" r="3.9"/><circle cx="658" cy="860" r="3.9"/><circle cx="655" cy="889" r="3.9"/><circle cx="652" cy="881" r="3.9"/><circle cx="644" cy="894" r="3.9"/><circle cx="657" cy="876" r="3.9"/><circle cx="645" cy="848" r="3.9"/><circle cx="646" cy="903" r="3.9"/><circle cx="647" cy="860" r="3.9"/><circle cx="650" cy="845" r="3.9"/><circle cx="655" cy="891" r="3.9"/><circle cx="647" cy="845" r="3.9"/><circle cx="657" cy="893" r="3.9"/><circle cx="654" cy="856" r="3.9"/><circle cx="658" cy="883" r="3.9"/><circle cx="642" cy="904" r="3.9"/><circle cx="653" cy="854" r="3.9"/><circle cx="656" cy="880" r="3.9"/><circle cx="652" cy="845" r="3.9"/><circle cx="645" cy="892" r="3.9"/><circle cx="642" cy="855" r="3.9"/><circle cx="643" cy="879" r="3.9"/><circle cx="644" cy="892" r="3.9"/><circle cx="649" cy="892" r="3.9"/><circle cx="657" cy="903" r="3.9"/><circle cx="645" cy="866" r="3.9"/><circle cx="655" cy="864" r="3.9"/><circle cx="657" cy="864" r="3.9"/><circle cx="652" cy="859" r="3.9"/><circle cx="654" cy="861" r="3.9"/><circle cx="649" cy="888" r="3.9"/><circle cx="655" cy="852" r="3.9"/><circle cx="645" cy="856" r="3.9"/><circle cx="654" cy="885" r="3.9"/><circle cx="654" cy="893" r="3.9"/><circle cx="646" cy="874" r="3.9"/><circle cx="642" cy="865" r="3.9"/><circle cx="652" cy="859" r="3.9"/><circle cx="655" cy="856" r="3.9"/><circle cx="649" cy="885" r="3.9"/><circle cx="645" cy="884" r="3.9"/><circle cx="648" cy="846" r="3.9"/><circle cx="643" cy="883" r="3.9"/><circle cx="655" cy="885" r="3.9"/><circle cx="656" cy="884" r="3.9"/><circle cx="655" cy="895" r="3.9"/><circle cx="652" cy="876" r="3.9"/><circle cx="644" cy="858" r="3.9"/><circle cx="643" cy="850" r="3.9"/><circle cx="648" cy="861" r="3.9"/><circle cx="651" cy="894" r="3.9"/><circle cx="646" cy="898" r="3.9"/><circle cx="656" cy="855" r="3.9"/><circle cx="651" cy="855" r="3.9"/><circle cx="643" cy="857" r="3.9"/><circle cx="645" cy="843" r="3.9"/><circle cx="642" cy="893" r="3.9"/><circle cx="656" cy="897" r="3.9"/><circle cx="643" cy="844" r="3.9"/><circle cx="656" cy="866" r="3.9"/><circle cx="647" cy="886" r="3.9"/><circle cx="651" cy="863" r="3.9"/><circle cx="644" cy="850" r="3.9"/><circle cx="654" cy="899" r="3.9"/><circle cx="642" cy="857" r="3.9"/><circle cx="650" cy="860" r="3.9"/><circle cx="650" cy="874" r="3.9"/><circle cx="646" cy="850" r="3.9"/><circle cx="649" cy="893" r="3.9"/><circle cx="644" cy="876" r="3.9"/><circle cx="655" cy="878" r="3.9"/><circle cx="647" cy="901" r="3.9"/><circle cx="655" cy="905" r="3.9"/><circle cx="647" cy="873" r="3.9"/><circle cx="649" cy="895" r="3.9"/><circle cx="652" cy="877" r="3.9"/><circle cx="650" cy="898" r="3.9"/><circle cx="648" cy="851" r="3.9"/><circle cx="645" cy="858" r="3.9"/><circle cx="643" cy="904" r="3.9"/><circle cx="651" cy="892" r="3.9"/><circle cx="649" cy="875" r="3.9"/><circle cx="645" cy="898" r="3.9"/><circle cx="649" cy="868" r="3.9"/><circle cx="654" cy="897" r="3.9"/><circle cx="658" cy="873" r="3.9"/><circle cx="649" cy="894" r="3.9"/><circle cx="649" cy="856" r="3.9"/><circle cx="650" cy="862" r="3.9"/><circle cx="646" cy="891" r="3.9"/><circle cx="647" cy="882" r="3.9"/><circle cx="647" cy="850" r="3.9"/><circle cx="655" cy="891" r="3.9"/><circle cx="653" cy="881" r="3.9"/><circle cx="645" cy="874" r="3.9"/><circle cx="656" cy="892" r="3.9"/><circle cx="652" cy="882" r="3.9"/><circle cx="645" cy="846" r="3.9"/><circle cx="656" cy="844" r="3.9"/><circle cx="646" cy="868" r="3.9"/><circle cx="653" cy="886" r="3.9"/><circle cx="656" cy="901" r="3.9"/><circle cx="646" cy="858" r="3.9"/><circle cx="644" cy="863" r="3.9"/><circle cx="643" cy="903" r="3.9"/><circle cx="651" cy="873" r="3.9"/><circle cx="643" cy="900" r="3.9"/><circle cx="646" cy="891" r="3.9"/><circle cx="645" cy="860" r="3.9"/><circle cx="644" cy="876" r="3.9"/><circle cx="646" cy="878" r="3.9"/><circle cx="654" cy="857" r="3.9"/><circle cx="644" cy="875" r="3.9"/><circle cx="648" cy="871" r="3.9"/><circle cx="648" cy="853" r="3.9"/><circle cx="644" cy="888" r="3.9"/><circle cx="652" cy="886" r="3.9"/><circle cx="652" cy="875" r="3.9"/><circle cx="645" cy="900" r="3.9"/><circle cx="651" cy="871" r="3.9"/><circle cx="646" cy="866" r="3.9"/><circle cx="658" cy="868" r="3.9"/><circle cx="655" cy="851" r="3.9"/><circle cx="652" cy="860" r="3.9"/><circle cx="646" cy="862" r="3.9"/><circle cx="648" cy="883" r="3.9"/><circle cx="648" cy="896" r="3.9"/><circle cx="644" cy="896" r="3.9"/><circle cx="649" cy="892" r="3.9"/><circle cx="648" cy="859" r="3.9"/><circle cx="657" cy="882" r="3.9"/><circle cx="654" cy="875" r="3.9"/><circle cx="653" cy="902" r="3.9"/><circle cx="654" cy="903" r="3.9"/><circle cx="648" cy="861" r="3.9"/><circle cx="656" cy="895" r="3.9"/><circle cx="656" cy="870" r="3.9"/><circle cx="649" cy="902" r="3.9"/><circle cx="645" cy="853" r="3.9"/><circle cx="645" cy="862" r="3.9"/><circle cx="649" cy="867" r="3.9"/><circle cx="649" cy="845" r="3.9"/><circle cx="647" cy="875" r="3.9"/><circle cx="643" cy="873" r="3.9"/><circle cx="657" cy="884" r="3.9"/><circle cx="657" cy="896" r="3.9"/><circle cx="650" cy="844" r="3.9"/><circle cx="643" cy="879" r="3.9"/><circle cx="656" cy="864" r="3.9"/><circle cx="644" cy="890" r="3.9"/><circle cx="651" cy="872" r="3.9"/><circle cx="644" cy="877" r="3.9"/><circle cx="651" cy="887" r="3.9"/><circle cx="657" cy="848" r="3.9"/><circle cx="655" cy="863" r="3.9"/><circle cx="649" cy="864" r="3.9"/><circle cx="655" cy="870" r="3.9"/><circle cx="643" cy="872" r="3.9"/><circle cx="644" cy="844" r="3.9"/><circle cx="643" cy="867" r="3.9"/><circle cx="649" cy="843" r="3.9"/><circle cx="644" cy="899" r="3.9"/><circle cx="651" cy="904" r="3.9"/><circle cx="651" cy="902" r="3.9"/><circle cx="653" cy="867" r="3.9"/><circle cx="643" cy="852" r="3.9"/><circle cx="655" cy="884" r="3.9"/><circle cx="647" cy="853" r="3.9"/><circle cx="652" cy="901" r="3.9"/><circle cx="646" cy="905" r="3.9"/><circle cx="651" cy="856" r="3.9"/><circle cx="645" cy="887" r="3.9"/><circle cx="657" cy="856" r="3.9"/><circle cx="646" cy="852" r="3.9"/><circle cx="645" cy="857" r="3.9"/><circle cx="649" cy="858" r="3.9"/><circle cx="653" cy="858" r="3.9"/><circle cx="646" cy="869" r="3.9"/><circle cx="645" cy="846" r="3.9"/><circle cx="643" cy="843" r="3.9"/><circle cx="653" cy="846" r="3.9"/><circle cx="650" cy="898" r="3.9"/><circle cx="652" cy="862" r="3.9"/><circle cx="648" cy="869" r="3.9"/><circle cx="647" cy="846" r="3.9"/><circle cx="644" cy="852" r="3.9"/><circle cx="645" cy="864" r="3.9"/><circle cx="643" cy="881" r="3.9"/><circle cx="645" cy="875" r="3.9"/><circle cx="653" cy="874" r="3.9"/><circle cx="654" cy="891" r="3.9"/><circle cx="649" cy="856" r="3.9"/><circle cx="642" cy="886" r="3.9"/><circle cx="648" cy="861" r="3.9"/><circle cx="643" cy="854" r="3.9"/><circle cx="657" cy="872" r="3.9"/><circle cx="656" cy="895" r="3.9"/><circle cx="646" cy="857" r="3.9"/><circle cx="656" cy="858" r="3.9"/><circle cx="652" cy="901" r="3.9"/><circle cx="649" cy="869" r="3.9"/><circle cx="658" cy="897" r="3.9"/><circle cx="657" cy="887" r="3.9"/><circle cx="645" cy="846" r="3.9"/><circle cx="642" cy="900" r="3.9"/><circle cx="651" cy="898" r="3.9"/><circle cx="658" cy="858" r="3.9"/><circle cx="658" cy="860" r="3.9"/><circle cx="645" cy="860" r="3.9"/><circle cx="658" cy="901" r="3.9"/><circle cx="648" cy="873" r="3.9"/><circle cx="655" cy="893" r="3.9"/><circle cx="657" cy="865" r="3.9"/><circle cx="646" cy="875" r="3.9"/><circle cx="657" cy="881" r="3.9"/><circle cx="656" cy="855" r="3.9"/><circle cx="650" cy="900" r="3.9"/><circle cx="651" cy="892" r="3.9"/><circle cx="655" cy="870" r="3.9"/><circle cx="653" cy="886" r="3.9"/><circle cx="649" cy="875" r="3.9"/><circle cx="655" cy="898" r="3.9"/><circle cx="658" cy="866" r="3.9"/><circle cx="653" cy="877" r="3.9"/><circle cx="656" cy="858" r="3.9"/><circle cx="649" cy="859" r="3.9"/><circle cx="655" cy="887" r="3.9"/><circle cx="642" cy="850" r="3.9"/><circle cx="644" cy="880" r="3.9"/><circle cx="655" cy="864" r="3.9"/><circle cx="643" cy="879" r="3.9"/><circle cx="652" cy="870" r="3.9"/><circle cx="646" cy="865" r="3.9"/><circle cx="646" cy="893" r="3.9"/><circle cx="648" cy="887" r="3.9"/><circle cx="651" cy="857" r="3.9"/><circle cx="646" cy="885" r="3.9"/><circle cx="656" cy="900" r="3.9"/><circle cx="644" cy="859" r="3.9"/><circle cx="643" cy="855" r="3.9"/><circle cx="648" cy="888" r="3.9"/><circle cx="657" cy="880" r="3.9"/><circle cx="644" cy="866" r="3.9"/><circle cx="644" cy="860" r="3.9"/><circle cx="651" cy="874" r="3.9"/><circle cx="645" cy="860" r="3.9"/><circle cx="657" cy="882" r="3.9"/><circle cx="652" cy="863" r="3.9"/><circle cx="647" cy="890" r="3.9"/><circle cx="642" cy="884" r="3.9"/><circle cx="658" cy="882" r="3.9"/><circle cx="642" cy="845" r="3.9"/><circle cx="655" cy="854" r="3.9"/><circle cx="649" cy="883" r="3.9"/><circle cx="653" cy="861" r="3.9"/><circle cx="653" cy="900" r="3.9"/><circle cx="649" cy="868" r="3.9"/><circle cx="653" cy="897" r="3.9"/><circle cx="653" cy="900" r="3.9"/><circle cx="655" cy="902" r="3.9"/><circle cx="646" cy="885" r="3.9"/><circle cx="645" cy="850" r="3.9"/><circle cx="647" cy="902" r="3.9"/><circle cx="647" cy="862" r="3.9"/><circle cx="657" cy="904" r="3.9"/><circle cx="654" cy="865" r="3.9"/><circle cx="655" cy="847" r="3.9"/><circle cx="642" cy="847" r="3.9"/><circle cx="647" cy="858" r="3.9"/><circle cx="656" cy="871" r="3.9"/><circle cx="656" cy="873" r="3.9"/><circle cx="648" cy="864" r="3.9"/><circle cx="642" cy="871" r="3.9"/><circle cx="657" cy="903" r="3.9"/><circle cx="657" cy="849" r="3.9"/><circle cx="649" cy="895" r="3.9"/><circle cx="644" cy="847" r="3.9"/><circle cx="645" cy="848" r="3.9"/><circle cx="654" cy="887" r="3.9"/><circle cx="658" cy="846" r="3.9"/><circle cx="653" cy="892" r="3.9"/><circle cx="645" cy="848" r="3.9"/><circle cx="658" cy="892" r="3.9"/><circle cx="643" cy="855" r="3.9"/><circle cx="653" cy="854" r="3.9"/><circle cx="649" cy="852" r="3.9"/><circle cx="643" cy="873" r="3.9"/><circle cx="651" cy="896" r="3.9"/><circle cx="642" cy="865" r="3.9"/><circle cx="643" cy="877" r="3.9"/><circle cx="644" cy="864" r="3.9"/><circle cx="658" cy="883" r="3.9"/><circle cx="653" cy="881" r="3.9"/><circle cx="645" cy="885" r="3.9"/><circle cx="658" cy="849" r="3.9"/><circle cx="656" cy="864" r="3.9"/><circle cx="645" cy="884" r="3.9"/><circle cx="656" cy="853" r="3.9"/><circle cx="645" cy="874" r="3.9"/><circle cx="645" cy="874" r="3.9"/><circle cx="658" cy="845" r="3.9"/><circle cx="649" cy="856" r="3.9"/><circle cx="644" cy="879" r="3.9"/><circle cx="657" cy="872" r="3.9"/><circle cx="651" cy="886" r="3.9"/><circle cx="656" cy="903" r="3.9"/><circle cx="647" cy="854" r="3.9"/><circle cx="657" cy="881" r="3.9"/><circle cx="656" cy="852" r="3.9"/><circle cx="655" cy="850" r="3.9"/><circle cx="644" cy="851" r="3.9"/><circle cx="648" cy="869" r="3.9"/><circle cx="653" cy="901" r="3.9"/><circle cx="649" cy="879" r="3.9"/><circle cx="649" cy="867" r="3.9"/><circle cx="646" cy="843" r="3.9"/><circle cx="646" cy="888" r="3.9"/><circle cx="655" cy="886" r="3.9"/><circle cx="649" cy="868" r="3.9"/><circle cx="645" cy="858" r="3.9"/><circle cx="658" cy="879" r="3.9"/><circle cx="648" cy="876" r="3.9"/><circle cx="650" cy="861" r="3.9"/><circle cx="649" cy="870" r="3.9"/><circle cx="657" cy="898" r="3.9"/><circle cx="646" cy="871" r="3.9"/><circle cx="645" cy="902" r="3.9"/><circle cx="644" cy="873" r="3.9"/><circle cx="642" cy="872" r="3.9"/><circle cx="649" cy="844" r="3.9"/><circle cx="644" cy="874" r="3.9"/><circle cx="650" cy="862" r="3.9"/><circle cx="643" cy="863" r="3.9"/><circle cx="647" cy="849" r="3.9"/><circle cx="652" cy="857" r="3.9"/><circle cx="651" cy="887" r="3.9"/><circle cx="642" cy="874" r="3.9"/><circle cx="652" cy="898" r="3.9"/><circle cx="653" cy="895" r="3.9"/><circle cx="653" cy="857" r="3.9"/><circle cx="655" cy="890" r="3.9"/><circle cx="650" cy="900" r="3.9"/><circle cx="643" cy="899" r="3.9"/><circle cx="648" cy="877" r="3.9"/><circle cx="655" cy="853" r="3.9"/><circle cx="650" cy="844" r="3.9"/><circle cx="642" cy="902" r="3.9"/><circle cx="645" cy="869" r="3.9"/><circle cx="644" cy="901" r="3.9"/><circle cx="650" cy="896" r="3.9"/><circle cx="646" cy="872" r="3.9"/><circle cx="646" cy="880" r="3.9"/><circle cx="653" cy="879" r="3.9"/><circle cx="651" cy="862" r="3.9"/><circle cx="658" cy="844" r="3.9"/><circle cx="644" cy="884" r="3.9"/><circle cx="658" cy="896" r="3.9"/><circle cx="646" cy="901" r="3.9"/><circle cx="649" cy="878" r="3.9"/><circle cx="652" cy="881" r="3.9"/><circle cx="656" cy="899" r="3.9"/><circle cx="647" cy="898" r="3.9"/><circle cx="647" cy="885" r="3.9"/><circle cx="644" cy="883" r="3.9"/><circle cx="647" cy="905" r="3.9"/><circle cx="653" cy="867" r="3.9"/><circle cx="658" cy="850" r="3.9"/><circle cx="654" cy="883" r="3.9"/><circle cx="642" cy="872" r="3.9"/><circle cx="644" cy="905" r="3.9"/><circle cx="643" cy="882" r="3.9"/><circle cx="651" cy="851" r="3.9"/><circle cx="657" cy="879" r="3.9"/><circle cx="652" cy="859" r="3.9"/><circle cx="644" cy="863" r="3.9"/><circle cx="642" cy="855" r="3.9"/><circle cx="650" cy="867" r="3.9"/><circle cx="654" cy="852" r="3.9"/><circle cx="645" cy="914" r="3.9"/><circle cx="653" cy="910" r="3.9"/><circle cx="645" cy="907" r="3.9"/><circle cx="648" cy="911" r="3.9"/><circle cx="655" cy="909" r="3.9"/><circle cx="647" cy="920" r="3.9"/><circle cx="645" cy="906" r="3.9"/><circle cx="658" cy="926" r="3.9"/><circle cx="647" cy="910" r="3.9"/><circle cx="649" cy="908" r="3.9"/><circle cx="655" cy="925" r="3.9"/><circle cx="654" cy="912" r="3.9"/><circle cx="656" cy="927" r="3.9"/><circle cx="645" cy="918" r="3.9"/><circle cx="645" cy="931" r="3.9"/><circle cx="655" cy="912" r="3.9"/><circle cx="654" cy="910" r="3.9"/><circle cx="643" cy="914" r="3.9"/><circle cx="643" cy="913" r="3.9"/><circle cx="656" cy="915" r="3.9"/><circle cx="646" cy="908" r="3.9"/><circle cx="651" cy="914" r="3.9"/><circle cx="657" cy="908" r="3.9"/><circle cx="649" cy="913" r="3.9"/><circle cx="648" cy="908" r="3.9"/><circle cx="648" cy="915" r="3.9"/><circle cx="645" cy="910" r="3.9"/><circle cx="650" cy="928" r="3.9"/><circle cx="650" cy="911" r="3.9"/><circle cx="642" cy="914" r="3.9"/><circle cx="647" cy="907" r="3.9"/><circle cx="650" cy="916" r="3.9"/><circle cx="648" cy="920" r="3.9"/><circle cx="652" cy="906" r="3.9"/><circle cx="643" cy="914" r="3.9"/><circle cx="652" cy="915" r="3.9"/><circle cx="646" cy="911" r="3.9"/><circle cx="654" cy="912" r="3.9"/><circle cx="650" cy="909" r="3.9"/><circle cx="652" cy="913" r="3.9"/><circle cx="642" cy="920" r="3.9"/><circle cx="655" cy="932" r="3.9"/><circle cx="657" cy="919" r="3.9"/><circle cx="649" cy="909" r="3.9"/><circle cx="653" cy="912" r="3.9"/><circle cx="647" cy="907" r="3.9"/><circle cx="652" cy="919" r="3.9"/><circle cx="654" cy="907" r="3.9"/><circle cx="645" cy="917" r="3.9"/><circle cx="644" cy="925" r="3.9"/><circle cx="657" cy="917" r="3.9"/><circle cx="646" cy="915" r="3.9"/><circle cx="654" cy="911" r="3.9"/><circle cx="652" cy="916" r="3.9"/><circle cx="657" cy="921" r="3.9"/><circle cx="655" cy="755" r="3.9"/><circle cx="646" cy="768" r="3.9"/><circle cx="642" cy="775" r="3.9"/><circle cx="650" cy="783" r="3.9"/></g>
<g fill="#000000"><circle cx="694" cy="844" r="3.9"/><circle cx="697" cy="844" r="3.9"/><circle cx="694" cy="842" r="3.9"/><circle cx="684" cy="844" r="3.9"/><circle cx="686" cy="846" r="3.9"/><circle cx="686" cy="846" r="3.9"/><circle cx="688" cy="841" r="3.9"/><circle cx="692" cy="842" r="3.9"/><circle cx="699" cy="844" r="3.9"/><circle cx="684" cy="842" r="3.9"/><circle cx="685" cy="869" r="3.9"/><circle cx="691" cy="861" r="3.9"/><circle cx="694" cy="867" r="3.9"/><circle cx="696" cy="878" r="3.9"/><circle cx="687" cy="885" r="3.9"/><circle cx="683" cy="857" r="3.9"/><circle cx="683" cy="891" r="3.9"/><circle cx="692" cy="886" r="3.9"/><circle cx="699" cy="850" r="3.9"/><circle cx="698" cy="847" r="3.9"/><circle cx="694" cy="883" r="3.9"/><circle cx="689" cy="888" r="3.9"/><circle cx="695" cy="869" r="3.9"/><circle cx="687" cy="853" r="3.9"/><circle cx="684" cy="871" r="3.9"/><circle cx="691" cy="855" r="3.9"/><circle cx="692" cy="850" r="3.9"/><circle cx="688" cy="877" r="3.9"/><circle cx="685" cy="871" r="3.9"/><circle cx="685" cy="887" r="3.9"/><circle cx="686" cy="890" r="3.9"/><circle cx="698" cy="891" r="3.9"/><circle cx="687" cy="878" r="3.9"/><circle cx="684" cy="892" r="3.9"/><circle cx="694" cy="848" r="3.9"/><circle cx="685" cy="851" r="3.9"/><circle cx="688" cy="890" r="3.9"/><circle cx="696" cy="861" r="3.9"/><circle cx="696" cy="846" r="3.9"/><circle cx="692" cy="864" r="3.9"/><circle cx="684" cy="889" r="3.9"/><circle cx="694" cy="893" r="3.9"/><circle cx="693" cy="875" r="3.9"/><circle cx="685" cy="868" r="3.9"/><circle cx="698" cy="872" r="3.9"/><circle cx="693" cy="868" r="3.9"/><circle cx="689" cy="847" r="3.9"/><circle cx="686" cy="855" r="3.9"/><circle cx="684" cy="849" r="3.9"/><circle cx="695" cy="893" r="3.9"/><circle cx="694" cy="885" r="3.9"/><circle cx="686" cy="886" r="3.9"/><circle cx="689" cy="886" r="3.9"/><circle cx="687" cy="860" r="3.9"/><circle cx="691" cy="857" r="3.9"/><circle cx="687" cy="880" r="3.9"/><circle cx="696" cy="892" r="3.9"/><circle cx="694" cy="862" r="3.9"/><circle cx="690" cy="874" r="3.9"/><circle cx="693" cy="889" r="3.9"/><circle cx="692" cy="891" r="3.9"/><circle cx="691" cy="867" r="3.9"/><circle cx="683" cy="861" r="3.9"/><circle cx="691" cy="847" r="3.9"/><circle cx="690" cy="851" r="3.9"/><circle cx="687" cy="888" r="3.9"/><circle cx="698" cy="851" r="3.9"/><circle cx="692" cy="869" r="3.9"/><circle cx="684" cy="860" r="3.9"/><circle cx="692" cy="866" r="3.9"/><circle cx="692" cy="849" r="3.9"/><circle cx="693" cy="875" r="3.9"/><circle cx="686" cy="873" r="3.9"/><circle cx="698" cy="888" r="3.9"/><circle cx="693" cy="870" r="3.9"/><circle cx="695" cy="867" r="3.9"/><circle cx="694" cy="864" r="3.9"/><circle cx="692" cy="880" r="3.9"/><circle cx="692" cy="874" r="3.9"/><circle cx="689" cy="862" r="3.9"/><circle cx="694" cy="867" r="3.9"/><circle cx="690" cy="864" r="3.9"/><circle cx="688" cy="875" r="3.9"/><circle cx="697" cy="855" r="3.9"/><circle cx="693" cy="871" r="3.9"/><circle cx="693" cy="877" r="3.9"/><circle cx="689" cy="846" r="3.9"/><circle cx="689" cy="870" r="3.9"/><circle cx="693" cy="890" r="3.9"/><circle cx="694" cy="877" r="3.9"/><circle cx="689" cy="883" r="3.9"/><circle cx="685" cy="888" r="3.9"/><circle cx="691" cy="867" r="3.9"/><circle cx="694" cy="872" r="3.9"/><circle cx="699" cy="852" r="3.9"/><circle cx="684" cy="874" r="3.9"/><circle cx="686" cy="857" r="3.9"/><circle cx="699" cy="871" r="3.9"/><circle cx="688" cy="863" r="3.9"/><circle cx="686" cy="858" r="3.9"/><circle cx="685" cy="892" r="3.9"/><circle cx="695" cy="863" r="3.9"/><circle cx="685" cy="892" r="3.9"/><circle cx="697" cy="850" r="3.9"/><circle cx="697" cy="872" r="3.9"/><circle cx="699" cy="867" r="3.9"/><circle cx="690" cy="846" r="3.9"/><circle cx="692" cy="857" r="3.9"/><circle cx="697" cy="857" r="3.9"/><circle cx="697" cy="862" r="3.9"/><circle cx="696" cy="880" r="3.9"/><circle cx="698" cy="873" r="3.9"/><circle cx="689" cy="858" r="3.9"/><circle cx="687" cy="851" r="3.9"/><circle cx="688" cy="861" r="3.9"/><circle cx="696" cy="846" r="3.9"/><circle cx="691" cy="870" r="3.9"/><circle cx="685" cy="879" r="3.9"/><circle cx="686" cy="881" r="3.9"/><circle cx="686" cy="887" r="3.9"/><circle cx="688" cy="850" r="3.9"/><circle cx="685" cy="856" r="3.9"/><circle cx="685" cy="861" r="3.9"/><circle cx="699" cy="864" r="3.9"/><circle cx="689" cy="881" r="3.9"/><circle cx="684" cy="850" r="3.9"/><circle cx="697" cy="861" r="3.9"/><circle cx="686" cy="855" r="3.9"/><circle cx="695" cy="892" r="3.9"/><circle cx="689" cy="879" r="3.9"/><circle cx="690" cy="856" r="3.9"/><circle cx="688" cy="862" r="3.9"/><circle cx="687" cy="883" r="3.9"/><circle cx="684" cy="864" r="3.9"/><circle cx="695" cy="848" r="3.9"/><circle cx="699" cy="875" r="3.9"/><circle cx="694" cy="855" r="3.9"/><circle cx="686" cy="886" r="3.9"/><circle cx="699" cy="847" r="3.9"/><circle cx="696" cy="855" r="3.9"/><circle cx="684" cy="874" r="3.9"/><circle cx="684" cy="886" r="3.9"/><circle cx="697" cy="859" r="3.9"/><circle cx="685" cy="870" r="3.9"/><circle cx="695" cy="848" r="3.9"/><circle cx="694" cy="852" r="3.9"/><circle cx="689" cy="854" r="3.9"/><circle cx="684" cy="871" r="3.9"/><circle cx="688" cy="889" r="3.9"/><circle cx="698" cy="880" r="3.9"/><circle cx="691" cy="876" r="3.9"/><circle cx="688" cy="868" r="3.9"/><circle cx="692" cy="866" r="3.9"/><circle cx="690" cy="886" r="3.9"/><circle cx="699" cy="881" r="3.9"/><circle cx="697" cy="860" r="3.9"/><circle cx="684" cy="856" r="3.9"/><circle cx="691" cy="882" r="3.9"/><circle cx="695" cy="889" r="3.9"/><circle cx="696" cy="860" r="3.9"/><circle cx="684" cy="869" r="3.9"/><circle cx="688" cy="887" r="3.9"/><circle cx="698" cy="871" r="3.9"/><circle cx="696" cy="880" r="3.9"/><circle cx="691" cy="867" r="3.9"/><circle cx="699" cy="883" r="3.9"/><circle cx="692" cy="892" r="3.9"/><circle cx="685" cy="882" r="3.9"/><circle cx="692" cy="861" r="3.9"/><circle cx="685" cy="873" r="3.9"/><circle cx="697" cy="854" r="3.9"/><circle cx="698" cy="892" r="3.9"/><circle cx="686" cy="872" r="3.9"/><circle cx="691" cy="862" r="3.9"/><circle cx="685" cy="859" r="3.9"/><circle cx="698" cy="885" r="3.9"/><circle cx="698" cy="869" r="3.9"/><circle cx="691" cy="849" r="3.9"/><circle cx="690" cy="873" r="3.9"/><circle cx="699" cy="849" r="3.9"/><circle cx="694" cy="848" r="3.9"/><circle cx="699" cy="855" r="3.9"/><circle cx="694" cy="876" r="3.9"/><circle cx="686" cy="868" r="3.9"/><circle cx="690" cy="854" r="3.9"/><circle cx="689" cy="849" r="3.9"/><circle cx="694" cy="892" r="3.9"/><circle cx="692" cy="865" r="3.9"/><circle cx="691" cy="853" r="3.9"/><circle cx="695" cy="878" r="3.9"/><circle cx="684" cy="864" r="3.9"/><circle cx="685" cy="879" r="3.9"/><circle cx="683" cy="887" r="3.9"/><circle cx="684" cy="885" r="3.9"/><circle cx="686" cy="871" r="3.9"/><circle cx="695" cy="890" r="3.9"/><circle cx="697" cy="853" r="3.9"/><circle cx="695" cy="866" r="3.9"/><circle cx="685" cy="868" r="3.9"/><circle cx="698" cy="847" r="3.9"/><circle cx="694" cy="871" r="3.9"/><circle cx="697" cy="868" r="3.9"/><circle cx="687" cy="886" r="3.9"/><circle cx="684" cy="878" r="3.9"/><circle cx="688" cy="849" r="3.9"/><circle cx="685" cy="886" r="3.9"/><circle cx="685" cy="889" r="3.9"/><circle cx="685" cy="890" r="3.9"/><circle cx="684" cy="877" r="3.9"/><circle cx="692" cy="874" r="3.9"/><circle cx="698" cy="857" r="3.9"/><circle cx="699" cy="873" r="3.9"/><circle cx="696" cy="858" r="3.9"/><circle cx="699" cy="880" r="3.9"/><circle cx="691" cy="856" r="3.9"/><circle cx="697" cy="872" r="3.9"/><circle cx="699" cy="888" r="3.9"/><circle cx="695" cy="880" r="3.9"/><circle cx="685" cy="885" r="3.9"/><circle cx="695" cy="851" r="3.9"/><circle cx="684" cy="851" r="3.9"/><circle cx="686" cy="882" r="3.9"/><circle cx="695" cy="879" r="3.9"/><circle cx="689" cy="890" r="3.9"/><circle cx="685" cy="857" r="3.9"/><circle cx="690" cy="858" r="3.9"/><circle cx="695" cy="885" r="3.9"/><circle cx="695" cy="861" r="3.9"/><circle cx="692" cy="861" r="3.9"/><circle cx="692" cy="871" r="3.9"/><circle cx="685" cy="886" r="3.9"/><circle cx="696" cy="883" r="3.9"/><circle cx="684" cy="857" r="3.9"/><circle cx="695" cy="884" r="3.9"/><circle cx="693" cy="890" r="3.9"/><circle cx="690" cy="857" r="3.9"/><circle cx="691" cy="860" r="3.9"/><circle cx="689" cy="883" r="3.9"/><circle cx="688" cy="880" r="3.9"/><circle cx="693" cy="847" r="3.9"/><circle cx="691" cy="887" r="3.9"/><circle cx="693" cy="886" r="3.9"/><circle cx="693" cy="893" r="3.9"/><circle cx="683" cy="866" r="3.9"/><circle cx="686" cy="882" r="3.9"/><circle cx="688" cy="877" r="3.9"/><circle cx="694" cy="847" r="3.9"/><circle cx="693" cy="861" r="3.9"/><circle cx="687" cy="876" r="3.9"/><circle cx="693" cy="856" r="3.9"/><circle cx="695" cy="850" r="3.9"/><circle cx="684" cy="888" r="3.9"/><circle cx="698" cy="891" r="3.9"/><circle cx="699" cy="881" r="3.9"/><circle cx="692" cy="871" r="3.9"/><circle cx="692" cy="890" r="3.9"/><circle cx="699" cy="866" r="3.9"/><circle cx="686" cy="871" r="3.9"/><circle cx="690" cy="884" r="3.9"/><circle cx="698" cy="875" r="3.9"/><circle cx="684" cy="871" r="3.9"/><circle cx="685" cy="871" r="3.9"/><circle cx="696" cy="878" r="3.9"/><circle cx="690" cy="853" r="3.9"/><circle cx="698" cy="887" r="3.9"/><circle cx="691" cy="848" r="3.9"/><circle cx="694" cy="865" r="3.9"/><circle cx="689" cy="864" r="3.9"/><circle cx="687" cy="853" r="3.9"/><circle cx="693" cy="870" r="3.9"/><circle cx="690" cy="881" r="3.9"/><circle cx="691" cy="854" r="3.9"/><circle cx="687" cy="872" r="3.9"/><circle cx="694" cy="876" r="3.9"/><circle cx="695" cy="863" r="3.9"/><circle cx="695" cy="873" r="3.9"/><circle cx="687" cy="852" r="3.9"/><circle cx="693" cy="886" r="3.9"/><circle cx="698" cy="884" r="3.9"/><circle cx="696" cy="874" r="3.9"/><circle cx="687" cy="860" r="3.9"/><circle cx="697" cy="859" r="3.9"/><circle cx="691" cy="872" r="3.9"/><circle cx="683" cy="851" r="3.9"/><circle cx="686" cy="883" r="3.9"/><circle cx="696" cy="850" r="3.9"/><circle cx="685" cy="892" r="3.9"/><circle cx="685" cy="884" r="3.9"/><circle cx="692" cy="887" r="3.9"/><circle cx="695" cy="851" r="3.9"/><circle cx="695" cy="880" r="3.9"/><circle cx="683" cy="890" r="3.9"/><circle cx="688" cy="868" r="3.9"/><circle cx="691" cy="872" r="3.9"/><circle cx="692" cy="849" r="3.9"/><circle cx="697" cy="871" r="3.9"/><circle cx="684" cy="870" r="3.9"/><circle cx="686" cy="866" r="3.9"/><circle cx="695" cy="881" r="3.9"/><circle cx="685" cy="860" r="3.9"/><circle cx="699" cy="876" r="3.9"/><circle cx="686" cy="875" r="3.9"/><circle cx="687" cy="849" r="3.9"/><circle cx="694" cy="851" r="3.9"/><circle cx="685" cy="878" r="3.9"/><circle cx="699" cy="849" r="3.9"/><circle cx="695" cy="853" r="3.9"/><circle cx="684" cy="847" r="3.9"/><circle cx="683" cy="880" r="3.9"/><circle cx="698" cy="847" r="3.9"/><circle cx="685" cy="848" r="3.9"/><circle cx="689" cy="861" r="3.9"/><circle cx="686" cy="884" r="3.9"/><circle cx="684" cy="876" r="3.9"/><circle cx="685" cy="877" r="3.9"/><circle cx="685" cy="855" r="3.9"/><circle cx="699" cy="859" r="3.9"/><circle cx="690" cy="877" r="3.9"/><circle cx="699" cy="872" r="3.9"/><circle cx="685" cy="877" r="3.9"/><circle cx="694" cy="873" r="3.9"/><circle cx="689" cy="885" r="3.9"/><circle cx="684" cy="872" r="3.9"/><circle cx="692" cy="889" r="3.9"/><circle cx="696" cy="857" r="3.9"/><circle cx="689" cy="874" r="3.9"/><circle cx="689" cy="849" r="3.9"/><circle cx="699" cy="867" r="3.9"/><circle cx="685" cy="853" r="3.9"/><circle cx="683" cy="889" r="3.9"/><circle cx="685" cy="872" r="3.9"/><circle cx="698" cy="882" r="3.9"/><circle cx="693" cy="859" r="3.9"/><circle cx="694" cy="884" r="3.9"/><circle cx="686" cy="896" r="3.9"/><circle cx="690" cy="903" r="3.9"/><circle cx="697" cy="903" r="3.9"/><circle cx="687" cy="906" r="3.9"/><circle cx="685" cy="894" r="3.9"/><circle cx="683" cy="902" r="3.9"/><circle cx="692" cy="900" r="3.9"/><circle cx="692" cy="896" r="3.9"/><circle cx="686" cy="903" r="3.9"/><circle cx="689" cy="901" r="3.9"/><circle cx="698" cy="900" r="3.9"/><circle cx="695" cy="894" r="3.9"/><circle cx="691" cy="894" r="3.9"/><circle cx="686" cy="896" r="3.9"/><circle cx="689" cy="895" r="3.9"/><circle cx="698" cy="897" r="3.9"/><circle cx="688" cy="894" r="3.9"/><circle cx="689" cy="907" r="3.9"/><circle cx="692" cy="911" r="3.9"/><circle cx="693" cy="904" r="3.9"/><circle cx="690" cy="909" r="3.9"/><circle cx="690" cy="895" r="3.9"/><circle cx="686" cy="908" r="3.9"/><circle cx="684" cy="896" r="3.9"/><circle cx="693" cy="905" r="3.9"/><circle cx="690" cy="904" r="3.9"/><circle cx="690" cy="903" r="3.9"/><circle cx="683" cy="899" r="3.9"/><circle cx="699" cy="902" r="3.9"/><circle cx="688" cy="903" r="3.9"/></g>
<g fill="#999999"><circle cx="740" cy="840" r="3.9"/><circle cx="731" cy="841" r="3.9"/><circle cx="738" cy="838" r="3.9"/><circle cx="735" cy="839" r="3.9"/><circle cx="730" cy="841" r="3.9"/><circle cx="730" cy="842" r="3.9"/><circle cx="732" cy="842" r="3.9"/><circle cx="726" cy="839" r="3.9"/><circle cx="724" cy="886" r="3.9"/><circle cx="738" cy="867" r="3.9"/><circle cx="731" cy="891" r="3.9"/><circle cx="730" cy="858" r="3.9"/><circle cx="726" cy="889" r="3.9"/><circle cx="737" cy="869" r="3.9"/><circle cx="736" cy="885" r="3.9"/><circle cx="735" cy="848" r="3.9"/><circle cx="734" cy="886" r="3.9"/><circle cx="732" cy="864" r="3.9"/><circle cx="734" cy="852" r="3.9"/><circle cx="727" cy="877" r="3.9"/><circle cx="740" cy="848" r="3.9"/><circle cx="735" cy="868" r="3.9"/><circle cx="724" cy="850" r="3.9"/><circle cx="729" cy="877" r="3.9"/><circle cx="726" cy="861" r="3.9"/><circle cx="734" cy="880" r="3.9"/><circle cx="740" cy="885" r="3.9"/><circle cx="727" cy="871" r="3.9"/><circle cx="734" cy="870" r="3.9"/><circle cx="734" cy="862" r="3.9"/><circle cx="728" cy="876" r="3.9"/><circle cx="738" cy="877" r="3.9"/><circle cx="735" cy="891" r="3.9"/><circle cx="728" cy="871" r="3.9"/><circle cx="737" cy="875" r="3.9"/><circle cx="724" cy="868" r="3.9"/><circle cx="737" cy="852" r="3.9"/><circle cx="730" cy="892" r="3.9"/><circle cx="731" cy="870" r="3.9"/><circle cx="734" cy="885" r="3.9"/><circle cx="731" cy="888" r="3.9"/><circle cx="735" cy="862" r="3.9"/><circle cx="734" cy="857" r="3.9"/><circle cx="725" cy="867" r="3.9"/><circle cx="724" cy="857" r="3.9"/><circle cx="738" cy="891" r="3.9"/><circle cx="727" cy="850" r="3.9"/><circle cx="730" cy="865" r="3.9"/><circle cx="726" cy="883" r="3.9"/><circle cx="726" cy="870" r="3.9"/><circle cx="728" cy="875" r="3.9"/><circle cx="726" cy="867" r="3.9"/><circle cx="738" cy="843" r="3.9"/><circle cx="727" cy="846" r="3.9"/><circle cx="738" cy="876" r="3.9"/><circle cx="728" cy="888" r="3.9"/><circle cx="727" cy="867" r="3.9"/><circle cx="736" cy="873" r="3.9"/><circle cx="725" cy="844" r="3.9"/><circle cx="727" cy="890" r="3.9"/><circle cx="739" cy="857" r="3.9"/><circle cx="724" cy="874" r="3.9"/><circle cx="727" cy="887" r="3.9"/><circle cx="739" cy="882" r="3.9"/><circle cx="737" cy="882" r="3.9"/><circle cx="738" cy="861" r="3.9"/><circle cx="736" cy="843" r="3.9"/><circle cx="735" cy="865" r="3.9"/><circle cx="740" cy="882" r="3.9"/><circle cx="731" cy="878" r="3.9"/><circle cx="733" cy="873" r="3.9"/><circle cx="724" cy="853" r="3.9"/><circle cx="728" cy="878" r="3.9"/><circle cx="739" cy="874" r="3.9"/><circle cx="736" cy="874" r="3.9"/><circle cx="726" cy="855" r="3.9"/><circle cx="733" cy="880" r="3.9"/><circle cx="731" cy="877" r="3.9"/><circle cx="729" cy="858" r="3.9"/><circle cx="727" cy="863" r="3.9"/><circle cx="733" cy="848" r="3.9"/><circle cx="739" cy="842" r="3.9"/><circle cx="736" cy="860" r="3.9"/><circle cx="739" cy="857" r="3.9"/><circle cx="724" cy="877" r="3.9"/><circle cx="730" cy="884" r="3.9"/><circle cx="735" cy="864" r="3.9"/><circle cx="735" cy="877" r="3.9"/><circle cx="729" cy="852" r="3.9"/><circle cx="735" cy="871" r="3.9"/><circle cx="724" cy="850" r="3.9"/><circle cx="731" cy="847" r="3.9"/><circle cx="732" cy="862" r="3.9"/><circle cx="729" cy="880" r="3.9"/><circle cx="736" cy="845" r="3.9"/><circle cx="734" cy="893" r="3.9"/><circle cx="734" cy="892" r="3.9"/><circle cx="728" cy="853" r="3.9"/><circle cx="729" cy="854" r="3.9"/><circle cx="726" cy="855" r="3.9"/><circle cx="732" cy="883" r="3.9"/><circle cx="737" cy="844" r="3.9"/><circle cx="736" cy="875" r="3.9"/><circle cx="728" cy="842" r="3.9"/><circle cx="738" cy="849" r="3.9"/><circle cx="728" cy="858" r="3.9"/><circle cx="737" cy="890" r="3.9"/><circle cx="739" cy="885" r="3.9"/><circle cx="738" cy="866" r="3.9"/><circle cx="725" cy="854" r="3.9"/><circle cx="726" cy="848" r="3.9"/><circle cx="726" cy="858" r="3.9"/><circle cx="725" cy="857" r="3.9"/><circle cx="738" cy="854" r="3.9"/><circle cx="732" cy="885" r="3.9"/><circle cx="724" cy="879" r="3.9"/><circle cx="733" cy="844" r="3.9"/><circle cx="738" cy="883" r="3.9"/><circle cx="725" cy="891" r="3.9"/><circle cx="733" cy="874" r="3.9"/><circle cx="727" cy="844" r="3.9"/><circle cx="735" cy="878" r="3.9"/><circle cx="727" cy="844" r="3.9"/><circle cx="733" cy="858" r="3.9"/><circle cx="729" cy="886" r="3.9"/><circle cx="733" cy="848" r="3.9"/><circle cx="735" cy="879" r="3.9"/><circle cx="733" cy="891" r="3.9"/><circle cx="732" cy="875" r="3.9"/><circle cx="725" cy="857" r="3.9"/><circle cx="729" cy="864" r="3.9"/><circle cx="732" cy="848" r="3.9"/><circle cx="735" cy="845" r="3.9"/><circle cx="728" cy="872" r="3.9"/><circle cx="724" cy="859" r="3.9"/><circle cx="737" cy="879" r="3.9"/><circle cx="730" cy="851" r="3.9"/><circle cx="736" cy="886" r="3.9"/><circle cx="725" cy="863" r="3.9"/><circle cx="733" cy="877" r="3.9"/><circle cx="727" cy="884" r="3.9"/><circle cx="734" cy="883" r="3.9"/><circle cx="739" cy="877" r="3.9"/><circle cx="735" cy="857" r="3.9"/><circle cx="728" cy="861" r="3.9"/><circle cx="737" cy="872" r="3.9"/><circle cx="728" cy="888" r="3.9"/><circle cx="732" cy="892" r="3.9"/><circle cx="735" cy="879" r="3.9"/><circle cx="729" cy="893" r="3.9"/><circle cx="732" cy="876" r="3.9"/><circle cx="730" cy="869" r="3.9"/><circle cx="727" cy="861" r="3.9"/><circle cx="731" cy="880" r="3.9"/><circle cx="726" cy="852" r="3.9"/><circle cx="734" cy="866" r="3.9"/><circle cx="738" cy="843" r="3.9"/><circle cx="731" cy="884" r="3.9"/><circle cx="736" cy="860" r="3.9"/><circle cx="732" cy="862" r="3.9"/><circle cx="724" cy="846" r="3.9"/><circle cx="727" cy="886" r="3.9"/><circle cx="727" cy="857" r="3.9"/><circle cx="733" cy="878" r="3.9"/><circle cx="734" cy="858" r="3.9"/><circle cx="729" cy="843" r="3.9"/><circle cx="737" cy="861" r="3.9"/><circle cx="729" cy="853" r="3.9"/><circle cx="732" cy="850" r="3.9"/><circle cx="729" cy="847" r="3.9"/><circle cx="727" cy="869" r="3.9"/><circle cx="729" cy="847" r="3.9"/><circle cx="738" cy="845" r="3.9"/><circle cx="731" cy="857" r="3.9"/><circle cx="725" cy="857" r="3.9"/><circle cx="731" cy="877" r="3.9"/><circle cx="728" cy="861" r="3.9"/><circle cx="739" cy="874" r="3.9"/><circle cx="731" cy="853" r="3.9"/><circle cx="737" cy="889" r="3.9"/><circle cx="728" cy="885" r="3.9"/><circle cx="730" cy="866" r="3.9"/><circle cx="724" cy="854" r="3.9"/><circle cx="728" cy="852" r="3.9"/><circle cx="737" cy="890" r="3.9"/><circle cx="729" cy="883" r="3.9"/><circle cx="729" cy="872" r="3.9"/><circle cx="727" cy="888" r="3.9"/><circle cx="732" cy="872" r="3.9"/><circle cx="737" cy="869" r="3.9"/><circle cx="732" cy="878" r="3.9"/><circle cx="732" cy="871" r="3.9"/><circle cx="729" cy="850" r="3.9"/><circle cx="727" cy="892" r="3.9"/><circle cx="734" cy="843" r="3.9"/><circle cx="727" cy="872" r="3.9"/><circle cx="732" cy="892" r="3.9"/><circle cx="739" cy="846" r="3.9"/><circle cx="737" cy="892" r="3.9"/><circle cx="736" cy="891" r="3.9"/><circle cx="730" cy="874" r="3.9"/><circle cx="735" cy="883" r="3.9"/><circle cx="736" cy="884" r="3.9"/><circle cx="729" cy="883" r="3.9"/><circle cx="734" cy="891" r="3.9"/><circle cx="729" cy="874" r="3.9"/><circle cx="738" cy="881" r="3.9"/><circle cx="735" cy="849" r="3.9"/><circle cx="726" cy="858" r="3.9"/><circle cx="735" cy="844" r="3.9"/><circle cx="735" cy="848" r="3.9"/><circle cx="727" cy="856" r="3.9"/><circle cx="733" cy="879" r="3.9"/><circle cx="739" cy="854" r="3.9"/><circle cx="725" cy="886" r="3.9"/><circle cx="733" cy="889" r="3.9"/><circle cx="736" cy="849" r="3.9"/><circle cx="730" cy="853" r="3.9"/><circle cx="731" cy="857" r="3.9"/><circle cx="738" cy="888" r="3.9"/><circle cx="727" cy="893" r="3.9"/><circle cx="740" cy="862" r="3.9"/><circle cx="738" cy="890" r="3.9"/><circle cx="736" cy="861" r="3.9"/><circle cx="734" cy="881" r="3.9"/><circle cx="729" cy="866" r="3.9"/><circle cx="725" cy="850" r="3.9"/><circle cx="737" cy="858" r="3.9"/><circle cx="735" cy="864" r="3.9"/><circle cx="736" cy="857" r="3.9"/><circle cx="725" cy="876" r="3.9"/><circle cx="728" cy="852" r="3.9"/><circle cx="731" cy="867" r="3.9"/><circle cx="738" cy="878" r="3.9"/><circle cx="731" cy="864" r="3.9"/><circle cx="734" cy="849" r="3.9"/><circle cx="729" cy="873" r="3.9"/><circle cx="739" cy="873" r="3.9"/><circle cx="727" cy="891" r="3.9"/><circle cx="737" cy="853" r="3.9"/><circle cx="730" cy="844" r="3.9"/><circle cx="736" cy="853" r="3.9"/><circle cx="737" cy="879" r="3.9"/><circle cx="737" cy="871" r="3.9"/><circle cx="728" cy="844" r="3.9"/><circle cx="734" cy="843" r="3.9"/><circle cx="732" cy="881" r="3.9"/><circle cx="726" cy="864" r="3.9"/><circle cx="733" cy="850" r="3.9"/><circle cx="727" cy="873" r="3.9"/><circle cx="727" cy="850" r="3.9"/><circle cx="727" cy="890" r="3.9"/><circle cx="739" cy="848" r="3.9"/><circle cx="733" cy="863" r="3.9"/><circle cx="724" cy="855" r="3.9"/><circle cx="734" cy="843" r="3.9"/><circle cx="740" cy="857" r="3.9"/><circle cx="729" cy="890" r="3.9"/><circle cx="726" cy="849" r="3.9"/><circle cx="732" cy="858" r="3.9"/><circle cx="729" cy="872" r="3.9"/><circle cx="739" cy="863" r="3.9"/><circle cx="724" cy="861" r="3.9"/><circle cx="738" cy="864" r="3.9"/><circle cx="725" cy="855" r="3.9"/><circle cx="727" cy="860" r="3.9"/><circle cx="729" cy="876" r="3.9"/><circle cx="736" cy="844" r="3.9"/><circle cx="726" cy="884" r="3.9"/><circle cx="738" cy="882" r="3.9"/><circle cx="727" cy="877" r="3.9"/><circle cx="725" cy="876" r="3.9"/><circle cx="727" cy="885" r="3.9"/><circle cx="738" cy="866" r="3.9"/><circle cx="736" cy="890" r="3.9"/><circle cx="739" cy="875" r="3.9"/><circle cx="734" cy="860" r="3.9"/><circle cx="735" cy="849" r="3.9"/><circle cx="731" cy="894" r="3.9"/><circle cx="725" cy="901" r="3.9"/><circle cx="731" cy="895" r="3.9"/><circle cx="739" cy="896" r="3.9"/><circle cx="733" cy="898" r="3.9"/><circle cx="727" cy="910" r="3.9"/><circle cx="736" cy="906" r="3.9"/><circle cx="729" cy="906" r="3.9"/><circle cx="739" cy="907" r="3.9"/><circle cx="727" cy="895" r="3.9"/><circle cx="725" cy="894" r="3.9"/><circle cx="735" cy="893" r="3.9"/><circle cx="731" cy="897" r="3.9"/><circle cx="736" cy="893" r="3.9"/><circle cx="736" cy="908" r="3.9"/><circle cx="729" cy="897" r="3.9"/><circle cx="736" cy="896" r="3.9"/><circle cx="738" cy="911" r="3.9"/><circle cx="727" cy="898" r="3.9"/><circle cx="726" cy="899" r="3.9"/><circle cx="730" cy="909" r="3.9"/><circle cx="736" cy="910" r="3.9"/><circle cx="737" cy="904" r="3.9"/><circle cx="730" cy="901" r="3.9"/><circle cx="726" cy="897" r="3.9"/><circle cx="739" cy="909" r="3.9"/><circle cx="727" cy="898" r="3.9"/><circle cx="730" cy="900" r="3.9"/><circle cx="734" cy="896" r="3.9"/><circle cx="738" cy="898" r="3.9"/><circle cx="724" cy="910" r="3.9"/><circle cx="736" cy="915" r="3.9"/></g>
<g fill="#d55e00"><circle cx="778" cy="837" r="3.9"/><circle cx="781" cy="836" r="3.9"/><circle cx="775" cy="837" r="3.9"/><circle cx="769" cy="832" r="3.9"/><circle cx="779" cy="837" r="3.9"/><circle cx="778" cy="837" r="3.9"/><circle cx="769" cy="879" r="3.9"/><circle cx="776" cy="882" r="3.9"/><circle cx="774" cy="879" r="3.9"/><circle cx="766" cy="846" r="3.9"/><circle cx="774" cy="869" r="3.9"/><circle cx="772" cy="841" r="3.9"/><circle cx="780" cy="841" r="3.9"/><circle cx="780" cy="849" r="3.9"/><circle cx="777" cy="866" r="3.9"/><circle cx="769" cy="853" r="3.9"/><circle cx="769" cy="863" r="3.9"/><circle cx="770" cy="864" r="3.9"/><circle cx="770" cy="844" r="3.9"/><circle cx="777" cy="850" r="3.9"/><circle cx="781" cy="857" r="3.9"/><circle cx="770" cy="872" r="3.9"/><circle cx="780" cy="855" r="3.9"/><circle cx="777" cy="854" r="3.9"/><circle cx="782" cy="852" r="3.9"/><circle cx="766" cy="838" r="3.9"/><circle cx="774" cy="867" r="3.9"/><circle cx="770" cy="857" r="3.9"/><circle cx="772" cy="855" r="3.9"/><circle cx="768" cy="864" r="3.9"/><circle cx="776" cy="839" r="3.9"/><circle cx="780" cy="850" r="3.9"/><circle cx="773" cy="848" r="3.9"/><circle cx="776" cy="857" r="3.9"/><circle cx="775" cy="857" r="3.9"/><circle cx="774" cy="842" r="3.9"/><circle cx="781" cy="858" r="3.9"/><circle cx="771" cy="878" r="3.9"/><circle cx="770" cy="875" r="3.9"/><circle cx="772" cy="843" r="3.9"/><circle cx="775" cy="851" r="3.9"/><circle cx="769" cy="885" r="3.9"/><circle cx="781" cy="860" r="3.9"/><circle cx="779" cy="869" r="3.9"/><circle cx="770" cy="844" r="3.9"/><circle cx="775" cy="847" r="3.9"/><circle cx="778" cy="866" r="3.9"/><circle cx="769" cy="875" r="3.9"/><circle cx="781" cy="861" r="3.9"/><circle cx="781" cy="859" r="3.9"/><circle cx="765" cy="860" r="3.9"/><circle cx="771" cy="881" r="3.9"/><circle cx="774" cy="883" r="3.9"/><circle cx="768" cy="856" r="3.9"/><circle cx="765" cy="840" r="3.9"/><circle cx="777" cy="840" r="3.9"/><circle cx="769" cy="858" r="3.9"/><circle cx="780" cy="849" r="3.9"/><circle cx="765" cy="871" r="3.9"/><circle cx="777" cy="845" r="3.9"/><circle cx="781" cy="879" r="3.9"/><circle cx="781" cy="877" r="3.9"/><circle cx="774" cy="871" r="3.9"/><circle cx="767" cy="868" r="3.9"/><circle cx="771" cy="854" r="3.9"/><circle cx="770" cy="842" r="3.9"/><circle cx="779" cy="874" r="3.9"/><circle cx="765" cy="862" r="3.9"/><circle cx="766" cy="864" r="3.9"/><circle cx="768" cy="883" r="3.9"/><circle cx="770" cy="863" r="3.9"/><circle cx="770" cy="880" r="3.9"/><circle cx="765" cy="852" r="3.9"/><circle cx="769" cy="873" r="3.9"/><circle cx="771" cy="878" r="3.9"/><circle cx="771" cy="844" r="3.9"/><circle cx="773" cy="842" r="3.9"/><circle cx="768" cy="863" r="3.9"/><circle cx="775" cy="848" r="3.9"/><circle cx="768" cy="863" r="3.9"/><circle cx="773" cy="861" r="3.9"/><circle cx="776" cy="845" r="3.9"/><circle cx="765" cy="841" r="3.9"/><circle cx="778" cy="871" r="3.9"/><circle cx="768" cy="854" r="3.9"/><circle cx="770" cy="881" r="3.9"/><circle cx="772" cy="872" r="3.9"/><circle cx="767" cy="840" r="3.9"/><circle cx="769" cy="868" r="3.9"/><circle cx="773" cy="879" r="3.9"/><circle cx="779" cy="869" r="3.9"/><circle cx="782" cy="883" r="3.9"/><circle cx="780" cy="842" r="3.9"/><circle cx="772" cy="845" r="3.9"/><circle cx="775" cy="862" r="3.9"/><circle cx="767" cy="842" r="3.9"/><circle cx="773" cy="867" r="3.9"/><circle cx="772" cy="860" r="3.9"/><circle cx="776" cy="871" r="3.9"/><circle cx="777" cy="858" r="3.9"/><circle cx="768" cy="879" r="3.9"/><circle cx="766" cy="848" r="3.9"/><circle cx="768" cy="866" r="3.9"/><circle cx="776" cy="843" r="3.9"/><circle cx="774" cy="865" r="3.9"/><circle cx="777" cy="841" r="3.9"/><circle cx="777" cy="851" r="3.9"/><circle cx="772" cy="844" r="3.9"/><circle cx="779" cy="867" r="3.9"/><circle cx="779" cy="862" r="3.9"/><circle cx="767" cy="857" r="3.9"/><circle cx="767" cy="843" r="3.9"/><circle cx="779" cy="838" r="3.9"/><circle cx="772" cy="840" r="3.9"/><circle cx="778" cy="885" r="3.9"/><circle cx="766" cy="855" r="3.9"/><circle cx="781" cy="850" r="3.9"/><circle cx="770" cy="884" r="3.9"/><circle cx="780" cy="856" r="3.9"/><circle cx="776" cy="875" r="3.9"/><circle cx="771" cy="838" r="3.9"/><circle cx="771" cy="871" r="3.9"/><circle cx="781" cy="859" r="3.9"/><circle cx="772" cy="856" r="3.9"/><circle cx="775" cy="839" r="3.9"/><circle cx="780" cy="883" r="3.9"/><circle cx="766" cy="838" r="3.9"/><circle cx="770" cy="845" r="3.9"/><circle cx="778" cy="879" r="3.9"/><circle cx="774" cy="882" r="3.9"/><circle cx="769" cy="847" r="3.9"/><circle cx="772" cy="859" r="3.9"/><circle cx="768" cy="881" r="3.9"/><circle cx="778" cy="852" r="3.9"/><circle cx="769" cy="851" r="3.9"/><circle cx="772" cy="869" r="3.9"/><circle cx="778" cy="883" r="3.9"/><circle cx="767" cy="847" r="3.9"/><circle cx="772" cy="883" r="3.9"/><circle cx="773" cy="872" r="3.9"/><circle cx="779" cy="860" r="3.9"/><circle cx="771" cy="874" r="3.9"/><circle cx="776" cy="885" r="3.9"/><circle cx="770" cy="883" r="3.9"/><circle cx="773" cy="879" r="3.9"/><circle cx="776" cy="864" r="3.9"/><circle cx="779" cy="842" r="3.9"/><circle cx="770" cy="861" r="3.9"/><circle cx="779" cy="847" r="3.9"/><circle cx="778" cy="842" r="3.9"/><circle cx="771" cy="860" r="3.9"/><circle cx="777" cy="863" r="3.9"/><circle cx="779" cy="871" r="3.9"/><circle cx="772" cy="862" r="3.9"/><circle cx="772" cy="879" r="3.9"/><circle cx="770" cy="846" r="3.9"/><circle cx="769" cy="850" r="3.9"/><circle cx="779" cy="870" r="3.9"/><circle cx="769" cy="858" r="3.9"/><circle cx="780" cy="883" r="3.9"/><circle cx="769" cy="882" r="3.9"/><circle cx="766" cy="885" r="3.9"/><circle cx="771" cy="883" r="3.9"/><circle cx="766" cy="870" r="3.9"/><circle cx="781" cy="877" r="3.9"/><circle cx="775" cy="845" r="3.9"/><circle cx="769" cy="882" r="3.9"/><circle cx="780" cy="848" r="3.9"/><circle cx="771" cy="867" r="3.9"/><circle cx="770" cy="848" r="3.9"/><circle cx="780" cy="843" r="3.9"/><circle cx="776" cy="857" r="3.9"/><circle cx="773" cy="879" r="3.9"/><circle cx="778" cy="874" r="3.9"/><circle cx="765" cy="876" r="3.9"/><circle cx="778" cy="838" r="3.9"/><circle cx="769" cy="872" r="3.9"/><circle cx="780" cy="863" r="3.9"/><circle cx="780" cy="842" r="3.9"/><circle cx="770" cy="877" r="3.9"/><circle cx="778" cy="848" r="3.9"/><circle cx="775" cy="859" r="3.9"/><circle cx="777" cy="857" r="3.9"/><circle cx="770" cy="874" r="3.9"/><circle cx="777" cy="855" r="3.9"/><circle cx="777" cy="850" r="3.9"/><circle cx="774" cy="847" r="3.9"/><circle cx="771" cy="858" r="3.9"/><circle cx="767" cy="853" r="3.9"/><circle cx="771" cy="853" r="3.9"/><circle cx="774" cy="880" r="3.9"/><circle cx="779" cy="852" r="3.9"/><circle cx="767" cy="842" r="3.9"/><circle cx="780" cy="874" r="3.9"/><circle cx="777" cy="881" r="3.9"/><circle cx="772" cy="846" r="3.9"/><circle cx="767" cy="857" r="3.9"/><circle cx="778" cy="842" r="3.9"/><circle cx="772" cy="842" r="3.9"/><circle cx="769" cy="864" r="3.9"/><circle cx="776" cy="882" r="3.9"/><circle cx="771" cy="849" r="3.9"/><circle cx="766" cy="847" r="3.9"/><circle cx="766" cy="838" r="3.9"/><circle cx="767" cy="863" r="3.9"/><circle cx="773" cy="881" r="3.9"/><circle cx="773" cy="842" r="3.9"/><circle cx="768" cy="871" r="3.9"/><circle cx="781" cy="873" r="3.9"/><circle cx="769" cy="854" r="3.9"/><circle cx="772" cy="858" r="3.9"/><circle cx="770" cy="845" r="3.9"/><circle cx="766" cy="879" r="3.9"/><circle cx="781" cy="884" r="3.9"/><circle cx="772" cy="870" r="3.9"/><circle cx="769" cy="843" r="3.9"/><circle cx="765" cy="854" r="3.9"/><circle cx="778" cy="863" r="3.9"/><circle cx="769" cy="861" r="3.9"/><circle cx="774" cy="847" r="3.9"/><circle cx="773" cy="882" r="3.9"/><circle cx="773" cy="885" r="3.9"/><circle cx="777" cy="844" r="3.9"/><circle cx="780" cy="871" r="3.9"/><circle cx="773" cy="847" r="3.9"/><circle cx="776" cy="847" r="3.9"/><circle cx="773" cy="845" r="3.9"/><circle cx="772" cy="883" r="3.9"/><circle cx="775" cy="862" r="3.9"/><circle cx="775" cy="869" r="3.9"/><circle cx="775" cy="851" r="3.9"/><circle cx="769" cy="866" r="3.9"/><circle cx="781" cy="879" r="3.9"/><circle cx="773" cy="852" r="3.9"/><circle cx="775" cy="840" r="3.9"/><circle cx="773" cy="875" r="3.9"/><circle cx="781" cy="842" r="3.9"/><circle cx="769" cy="861" r="3.9"/><circle cx="775" cy="883" r="3.9"/><circle cx="767" cy="844" r="3.9"/><circle cx="773" cy="875" r="3.9"/><circle cx="766" cy="856" r="3.9"/><circle cx="777" cy="858" r="3.9"/><circle cx="768" cy="841" r="3.9"/><circle cx="778" cy="862" r="3.9"/><circle cx="774" cy="870" r="3.9"/><circle cx="778" cy="857" r="3.9"/><circle cx="771" cy="881" r="3.9"/><circle cx="766" cy="875" r="3.9"/><circle cx="773" cy="863" r="3.9"/><circle cx="769" cy="882" r="3.9"/><circle cx="770" cy="853" r="3.9"/><circle cx="766" cy="880" r="3.9"/><circle cx="779" cy="840" r="3.9"/><circle cx="768" cy="852" r="3.9"/><circle cx="766" cy="861" r="3.9"/><circle cx="779" cy="872" r="3.9"/><circle cx="774" cy="884" r="3.9"/><circle cx="770" cy="853" r="3.9"/><circle cx="770" cy="866" r="3.9"/><circle cx="773" cy="844" r="3.9"/><circle cx="773" cy="883" r="3.9"/><circle cx="780" cy="867" r="3.9"/><circle cx="780" cy="861" r="3.9"/><circle cx="773" cy="871" r="3.9"/><circle cx="769" cy="866" r="3.9"/><circle cx="774" cy="852" r="3.9"/><circle cx="773" cy="846" r="3.9"/><circle cx="776" cy="843" r="3.9"/><circle cx="773" cy="841" r="3.9"/><circle cx="774" cy="843" r="3.9"/><circle cx="779" cy="839" r="3.9"/><circle cx="779" cy="852" r="3.9"/><circle cx="781" cy="853" r="3.9"/><circle cx="768" cy="869" r="3.9"/><circle cx="769" cy="876" r="3.9"/><circle cx="773" cy="851" r="3.9"/><circle cx="775" cy="848" r="3.9"/><circle cx="770" cy="842" r="3.9"/><circle cx="769" cy="848" r="3.9"/><circle cx="768" cy="858" r="3.9"/><circle cx="773" cy="866" r="3.9"/><circle cx="774" cy="870" r="3.9"/><circle cx="775" cy="860" r="3.9"/><circle cx="779" cy="845" r="3.9"/><circle cx="770" cy="839" r="3.9"/><circle cx="780" cy="879" r="3.9"/><circle cx="772" cy="878" r="3.9"/><circle cx="775" cy="882" r="3.9"/><circle cx="780" cy="889" r="3.9"/><circle cx="770" cy="890" r="3.9"/><circle cx="781" cy="891" r="3.9"/><circle cx="771" cy="885" r="3.9"/><circle cx="772" cy="900" r="3.9"/><circle cx="772" cy="896" r="3.9"/><circle cx="780" cy="901" r="3.9"/><circle cx="777" cy="891" r="3.9"/><circle cx="770" cy="901" r="3.9"/><circle cx="779" cy="895" r="3.9"/><circle cx="766" cy="894" r="3.9"/><circle cx="777" cy="886" r="3.9"/><circle cx="771" cy="890" r="3.9"/><circle cx="769" cy="886" r="3.9"/><circle cx="768" cy="891" r="3.9"/><circle cx="765" cy="896" r="3.9"/><circle cx="772" cy="888" r="3.9"/><circle cx="769" cy="889" r="3.9"/><circle cx="775" cy="895" r="3.9"/><circle cx="772" cy="895" r="3.9"/><circle cx="775" cy="897" r="3.9"/><circle cx="777" cy="896" r="3.9"/><circle cx="766" cy="889" r="3.9"/><circle cx="767" cy="897" r="3.9"/><circle cx="768" cy="900" r="3.9"/><circle cx="771" cy="887" r="3.9"/><circle cx="777" cy="887" r="3.9"/><circle cx="771" cy="890" r="3.9"/><circle cx="776" cy="891" r="3.9"/><circle cx="776" cy="896" r="3.9"/><circle cx="767" cy="913" r="3.9"/><circle cx="774" cy="926" r="3.9"/><circle cx="779" cy="730" r="3.9"/><circle cx="766" cy="779" r="3.9"/><circle cx="772" cy="777" r="3.9"/><circle cx="766" cy="795" r="3.9"/><circle cx="766" cy="793" r="3.9"/></g>
<g fill="#0072b2"><circle cx="823" cy="835" r="3.9"/><circle cx="814" cy="835" r="3.9"/><circle cx="813" cy="836" r="3.9"/><circle cx="816" cy="835" r="3.9"/><circle cx="821" cy="835" r="3.9"/><circle cx="822" cy="834" r="3.9"/><circle cx="819" cy="875" r="3.9"/><circle cx="815" cy="872" r="3.9"/><circle cx="812" cy="843" r="3.9"/><circle cx="821" cy="860" r="3.9"/><circle cx="823" cy="862" r="3.9"/><circle cx="811" cy="841" r="3.9"/><circle cx="822" cy="847" r="3.9"/><circle cx="810" cy="859" r="3.9"/><circle cx="819" cy="861" r="3.9"/><circle cx="808" cy="870" r="3.9"/><circle cx="818" cy="850" r="3.9"/><circle cx="822" cy="858" r="3.9"/><circle cx="820" cy="840" r="3.9"/><circle cx="812" cy="869" r="3.9"/><circle cx="818" cy="867" r="3.9"/><circle cx="819" cy="837" r="3.9"/><circle cx="821" cy="838" r="3.9"/><circle cx="811" cy="849" r="3.9"/><circle cx="815" cy="840" r="3.9"/><circle cx="814" cy="842" r="3.9"/><circle cx="813" cy="851" r="3.9"/><circle cx="809" cy="871" r="3.9"/><circle cx="808" cy="845" r="3.9"/><circle cx="822" cy="854" r="3.9"/><circle cx="823" cy="850" r="3.9"/><circle cx="816" cy="859" r="3.9"/><circle cx="814" cy="880" r="3.9"/><circle cx="814" cy="871" r="3.9"/><circle cx="815" cy="851" r="3.9"/><circle cx="821" cy="877" r="3.9"/><circle cx="807" cy="862" r="3.9"/><circle cx="820" cy="858" r="3.9"/><circle cx="814" cy="868" r="3.9"/><circle cx="810" cy="857" r="3.9"/><circle cx="810" cy="874" r="3.9"/><circle cx="820" cy="853" r="3.9"/><circle cx="820" cy="860" r="3.9"/><circle cx="818" cy="847" r="3.9"/><circle cx="820" cy="865" r="3.9"/><circle cx="824" cy="848" r="3.9"/><circle cx="814" cy="870" r="3.9"/><circle cx="811" cy="870" r="3.9"/><circle cx="821" cy="843" r="3.9"/><circle cx="819" cy="849" r="3.9"/><circle cx="812" cy="851" r="3.9"/><circle cx="820" cy="864" r="3.9"/><circle cx="813" cy="866" r="3.9"/><circle cx="820" cy="845" r="3.9"/><circle cx="821" cy="859" r="3.9"/><circle cx="818" cy="874" r="3.9"/><circle cx="811" cy="857" r="3.9"/><circle cx="819" cy="837" r="3.9"/><circle cx="813" cy="860" r="3.9"/><circle cx="814" cy="858" r="3.9"/><circle cx="821" cy="841" r="3.9"/><circle cx="819" cy="848" r="3.9"/><circle cx="808" cy="856" r="3.9"/><circle cx="809" cy="856" r="3.9"/><circle cx="810" cy="856" r="3.9"/><circle cx="809" cy="880" r="3.9"/><circle cx="810" cy="856" r="3.9"/><circle cx="817" cy="866" r="3.9"/><circle cx="809" cy="873" r="3.9"/><circle cx="813" cy="840" r="3.9"/><circle cx="814" cy="863" r="3.9"/><circle cx="813" cy="868" r="3.9"/><circle cx="812" cy="872" r="3.9"/><circle cx="822" cy="872" r="3.9"/><circle cx="808" cy="854" r="3.9"/><circle cx="816" cy="853" r="3.9"/><circle cx="810" cy="862" r="3.9"/><circle cx="809" cy="843" r="3.9"/><circle cx="814" cy="880" r="3.9"/><circle cx="813" cy="878" r="3.9"/><circle cx="818" cy="864" r="3.9"/><circle cx="822" cy="862" r="3.9"/><circle cx="819" cy="857" r="3.9"/><circle cx="820" cy="875" r="3.9"/><circle cx="807" cy="877" r="3.9"/><circle cx="808" cy="864" r="3.9"/><circle cx="808" cy="869" r="3.9"/><circle cx="814" cy="842" r="3.9"/><circle cx="821" cy="847" r="3.9"/><circle cx="822" cy="853" r="3.9"/><circle cx="816" cy="856" r="3.9"/><circle cx="820" cy="852" r="3.9"/><circle cx="816" cy="846" r="3.9"/><circle cx="813" cy="841" r="3.9"/><circle cx="811" cy="848" r="3.9"/><circle cx="818" cy="842" r="3.9"/><circle cx="810" cy="879" r="3.9"/><circle cx="818" cy="840" r="3.9"/><circle cx="821" cy="869" r="3.9"/><circle cx="817" cy="878" r="3.9"/><circle cx="816" cy="842" r="3.9"/><circle cx="807" cy="840" r="3.9"/><circle cx="815" cy="860" r="3.9"/><circle cx="821" cy="839" r="3.9"/><circle cx="808" cy="840" r="3.9"/><circle cx="813" cy="877" r="3.9"/><circle cx="820" cy="838" r="3.9"/><circle cx="817" cy="844" r="3.9"/><circle cx="811" cy="850" r="3.9"/><circle cx="811" cy="849" r="3.9"/><circle cx="811" cy="851" r="3.9"/><circle cx="817" cy="861" r="3.9"/><circle cx="819" cy="848" r="3.9"/><circle cx="807" cy="861" r="3.9"/><circle cx="812" cy="845" r="3.9"/><circle cx="814" cy="878" r="3.9"/><circle cx="817" cy="868" r="3.9"/><circle cx="808" cy="860" r="3.9"/><circle cx="819" cy="874" r="3.9"/><circle cx="820" cy="838" r="3.9"/><circle cx="823" cy="837" r="3.9"/><circle cx="820" cy="857" r="3.9"/><circle cx="822" cy="878" r="3.9"/><circle cx="819" cy="840" r="3.9"/><circle cx="818" cy="841" r="3.9"/><circle cx="814" cy="842" r="3.9"/><circle cx="812" cy="838" r="3.9"/><circle cx="816" cy="840" r="3.9"/><circle cx="811" cy="870" r="3.9"/><circle cx="812" cy="861" r="3.9"/><circle cx="821" cy="864" r="3.9"/><circle cx="821" cy="877" r="3.9"/><circle cx="811" cy="844" r="3.9"/><circle cx="824" cy="876" r="3.9"/><circle cx="812" cy="877" r="3.9"/><circle cx="808" cy="846" r="3.9"/><circle cx="821" cy="841" r="3.9"/><circle cx="821" cy="846" r="3.9"/><circle cx="820" cy="842" r="3.9"/><circle cx="815" cy="861" r="3.9"/><circle cx="816" cy="874" r="3.9"/><circle cx="808" cy="867" r="3.9"/><circle cx="821" cy="859" r="3.9"/><circle cx="811" cy="871" r="3.9"/><circle cx="814" cy="848" r="3.9"/><circle cx="820" cy="870" r="3.9"/><circle cx="821" cy="858" r="3.9"/><circle cx="807" cy="837" r="3.9"/><circle cx="816" cy="838" r="3.9"/><circle cx="817" cy="842" r="3.9"/><circle cx="820" cy="837" r="3.9"/><circle cx="818" cy="846" r="3.9"/><circle cx="824" cy="857" r="3.9"/><circle cx="816" cy="873" r="3.9"/><circle cx="812" cy="879" r="3.9"/><circle cx="812" cy="838" r="3.9"/><circle cx="812" cy="852" r="3.9"/><circle cx="817" cy="839" r="3.9"/><circle cx="822" cy="870" r="3.9"/><circle cx="819" cy="879" r="3.9"/><circle cx="808" cy="866" r="3.9"/><circle cx="821" cy="844" r="3.9"/><circle cx="814" cy="845" r="3.9"/><circle cx="822" cy="857" r="3.9"/><circle cx="821" cy="847" r="3.9"/><circle cx="817" cy="869" r="3.9"/><circle cx="813" cy="848" r="3.9"/><circle cx="808" cy="864" r="3.9"/><circle cx="814" cy="845" r="3.9"/><circle cx="812" cy="850" r="3.9"/><circle cx="809" cy="862" r="3.9"/><circle cx="810" cy="846" r="3.9"/><circle cx="813" cy="879" r="3.9"/><circle cx="819" cy="845" r="3.9"/><circle cx="821" cy="877" r="3.9"/><circle cx="812" cy="871" r="3.9"/><circle cx="817" cy="860" r="3.9"/><circle cx="822" cy="866" r="3.9"/><circle cx="818" cy="877" r="3.9"/><circle cx="815" cy="841" r="3.9"/><circle cx="807" cy="868" r="3.9"/><circle cx="815" cy="875" r="3.9"/><circle cx="823" cy="847" r="3.9"/><circle cx="810" cy="861" r="3.9"/><circle cx="807" cy="840" r="3.9"/><circle cx="808" cy="849" r="3.9"/><circle cx="814" cy="845" r="3.9"/><circle cx="818" cy="869" r="3.9"/><circle cx="821" cy="860" r="3.9"/><circle cx="820" cy="871" r="3.9"/><circle cx="819" cy="850" r="3.9"/><circle cx="817" cy="872" r="3.9"/><circle cx="811" cy="852" r="3.9"/><circle cx="807" cy="862" r="3.9"/><circle cx="809" cy="856" r="3.9"/><circle cx="810" cy="841" r="3.9"/><circle cx="822" cy="850" r="3.9"/><circle cx="823" cy="868" r="3.9"/><circle cx="817" cy="857" r="3.9"/><circle cx="818" cy="872" r="3.9"/><circle cx="810" cy="860" r="3.9"/><circle cx="811" cy="844" r="3.9"/><circle cx="811" cy="871" r="3.9"/><circle cx="822" cy="855" r="3.9"/><circle cx="810" cy="844" r="3.9"/><circle cx="812" cy="852" r="3.9"/><circle cx="822" cy="859" r="3.9"/><circle cx="815" cy="864" r="3.9"/><circle cx="810" cy="852" r="3.9"/><circle cx="814" cy="839" r="3.9"/><circle cx="812" cy="861" r="3.9"/><circle cx="817" cy="848" r="3.9"/><circle cx="808" cy="861" r="3.9"/><circle cx="810" cy="836" r="3.9"/><circle cx="823" cy="868" r="3.9"/><circle cx="823" cy="850" r="3.9"/><circle cx="820" cy="873" r="3.9"/><circle cx="817" cy="837" r="3.9"/><circle cx="812" cy="852" r="3.9"/><circle cx="814" cy="861" r="3.9"/><circle cx="810" cy="846" r="3.9"/><circle cx="807" cy="854" r="3.9"/><circle cx="809" cy="846" r="3.9"/><circle cx="807" cy="873" r="3.9"/><circle cx="811" cy="858" r="3.9"/><circle cx="817" cy="838" r="3.9"/><circle cx="816" cy="871" r="3.9"/><circle cx="811" cy="864" r="3.9"/><circle cx="819" cy="861" r="3.9"/><circle cx="813" cy="859" r="3.9"/><circle cx="818" cy="855" r="3.9"/><circle cx="819" cy="869" r="3.9"/><circle cx="819" cy="855" r="3.9"/><circle cx="809" cy="844" r="3.9"/><circle cx="812" cy="861" r="3.9"/><circle cx="808" cy="850" r="3.9"/><circle cx="809" cy="860" r="3.9"/><circle cx="810" cy="872" r="3.9"/><circle cx="808" cy="852" r="3.9"/><circle cx="819" cy="873" r="3.9"/><circle cx="814" cy="877" r="3.9"/><circle cx="822" cy="861" r="3.9"/><circle cx="812" cy="844" r="3.9"/><circle cx="818" cy="839" r="3.9"/><circle cx="818" cy="846" r="3.9"/><circle cx="810" cy="863" r="3.9"/><circle cx="813" cy="838" r="3.9"/><circle cx="809" cy="871" r="3.9"/><circle cx="813" cy="870" r="3.9"/><circle cx="817" cy="836" r="3.9"/><circle cx="813" cy="862" r="3.9"/><circle cx="811" cy="842" r="3.9"/><circle cx="824" cy="850" r="3.9"/><circle cx="818" cy="855" r="3.9"/><circle cx="823" cy="846" r="3.9"/><circle cx="808" cy="865" r="3.9"/><circle cx="819" cy="873" r="3.9"/><circle cx="809" cy="844" r="3.9"/><circle cx="815" cy="848" r="3.9"/><circle cx="809" cy="842" r="3.9"/><circle cx="808" cy="855" r="3.9"/><circle cx="809" cy="837" r="3.9"/><circle cx="809" cy="867" r="3.9"/><circle cx="818" cy="851" r="3.9"/><circle cx="820" cy="838" r="3.9"/><circle cx="814" cy="877" r="3.9"/><circle cx="808" cy="843" r="3.9"/><circle cx="815" cy="851" r="3.9"/><circle cx="808" cy="873" r="3.9"/><circle cx="820" cy="862" r="3.9"/><circle cx="814" cy="860" r="3.9"/><circle cx="815" cy="861" r="3.9"/><circle cx="812" cy="872" r="3.9"/><circle cx="816" cy="846" r="3.9"/><circle cx="817" cy="870" r="3.9"/><circle cx="815" cy="850" r="3.9"/><circle cx="816" cy="866" r="3.9"/><circle cx="810" cy="875" r="3.9"/><circle cx="814" cy="854" r="3.9"/><circle cx="816" cy="869" r="3.9"/><circle cx="810" cy="844" r="3.9"/><circle cx="815" cy="837" r="3.9"/><circle cx="814" cy="842" r="3.9"/><circle cx="810" cy="852" r="3.9"/><circle cx="822" cy="863" r="3.9"/><circle cx="812" cy="864" r="3.9"/><circle cx="815" cy="836" r="3.9"/><circle cx="814" cy="867" r="3.9"/><circle cx="820" cy="878" r="3.9"/><circle cx="807" cy="859" r="3.9"/><circle cx="813" cy="856" r="3.9"/><circle cx="821" cy="855" r="3.9"/><circle cx="816" cy="869" r="3.9"/><circle cx="821" cy="862" r="3.9"/><circle cx="816" cy="840" r="3.9"/><circle cx="813" cy="844" r="3.9"/><circle cx="820" cy="866" r="3.9"/><circle cx="809" cy="861" r="3.9"/><circle cx="822" cy="873" r="3.9"/><circle cx="813" cy="852" r="3.9"/><circle cx="816" cy="854" r="3.9"/><circle cx="823" cy="873" r="3.9"/><circle cx="822" cy="880" r="3.9"/><circle cx="809" cy="878" r="3.9"/><circle cx="813" cy="847" r="3.9"/><circle cx="817" cy="854" r="3.9"/><circle cx="810" cy="879" r="3.9"/><circle cx="810" cy="840" r="3.9"/><circle cx="814" cy="872" r="3.9"/><circle cx="820" cy="856" r="3.9"/><circle cx="814" cy="842" r="3.9"/><circle cx="820" cy="869" r="3.9"/><circle cx="811" cy="865" r="3.9"/><circle cx="822" cy="852" r="3.9"/><circle cx="811" cy="869" r="3.9"/><circle cx="817" cy="853" r="3.9"/><circle cx="807" cy="850" r="3.9"/><circle cx="819" cy="844" r="3.9"/><circle cx="815" cy="870" r="3.9"/><circle cx="813" cy="842" r="3.9"/><circle cx="818" cy="866" r="3.9"/><circle cx="817" cy="876" r="3.9"/><circle cx="813" cy="858" r="3.9"/><circle cx="815" cy="874" r="3.9"/><circle cx="812" cy="847" r="3.9"/><circle cx="813" cy="872" r="3.9"/><circle cx="819" cy="844" r="3.9"/><circle cx="821" cy="879" r="3.9"/><circle cx="813" cy="871" r="3.9"/><circle cx="819" cy="863" r="3.9"/><circle cx="811" cy="836" r="3.9"/><circle cx="821" cy="851" r="3.9"/><circle cx="821" cy="874" r="3.9"/><circle cx="821" cy="868" r="3.9"/><circle cx="819" cy="872" r="3.9"/><circle cx="823" cy="876" r="3.9"/><circle cx="822" cy="850" r="3.9"/><circle cx="822" cy="840" r="3.9"/><circle cx="810" cy="874" r="3.9"/><circle cx="816" cy="878" r="3.9"/><circle cx="812" cy="839" r="3.9"/><circle cx="809" cy="875" r="3.9"/><circle cx="820" cy="855" r="3.9"/><circle cx="818" cy="838" r="3.9"/><circle cx="823" cy="848" r="3.9"/><circle cx="810" cy="857" r="3.9"/><circle cx="815" cy="857" r="3.9"/><circle cx="819" cy="844" r="3.9"/><circle cx="820" cy="850" r="3.9"/><circle cx="814" cy="875" r="3.9"/><circle cx="819" cy="868" r="3.9"/><circle cx="820" cy="855" r="3.9"/><circle cx="813" cy="859" r="3.9"/><circle cx="821" cy="844" r="3.9"/><circle cx="819" cy="857" r="3.9"/><circle cx="823" cy="867" r="3.9"/><circle cx="822" cy="854" r="3.9"/><circle cx="815" cy="847" r="3.9"/><circle cx="810" cy="850" r="3.9"/><circle cx="811" cy="864" r="3.9"/><circle cx="816" cy="868" r="3.9"/><circle cx="819" cy="879" r="3.9"/><circle cx="816" cy="863" r="3.9"/><circle cx="816" cy="857" r="3.9"/><circle cx="813" cy="850" r="3.9"/><circle cx="813" cy="858" r="3.9"/><circle cx="814" cy="860" r="3.9"/><circle cx="818" cy="879" r="3.9"/><circle cx="817" cy="880" r="3.9"/><circle cx="812" cy="863" r="3.9"/><circle cx="817" cy="856" r="3.9"/><circle cx="815" cy="846" r="3.9"/><circle cx="823" cy="839" r="3.9"/><circle cx="820" cy="857" r="3.9"/><circle cx="813" cy="850" r="3.9"/><circle cx="823" cy="851" r="3.9"/><circle cx="817" cy="854" r="3.9"/><circle cx="818" cy="861" r="3.9"/><circle cx="816" cy="841" r="3.9"/><circle cx="807" cy="865" r="3.9"/><circle cx="807" cy="859" r="3.9"/><circle cx="812" cy="869" r="3.9"/><circle cx="812" cy="838" r="3.9"/><circle cx="810" cy="851" r="3.9"/><circle cx="818" cy="867" r="3.9"/><circle cx="821" cy="878" r="3.9"/><circle cx="816" cy="838" r="3.9"/><circle cx="818" cy="852" r="3.9"/><circle cx="817" cy="844" r="3.9"/><circle cx="814" cy="847" r="3.9"/><circle cx="818" cy="878" r="3.9"/><circle cx="813" cy="858" r="3.9"/><circle cx="818" cy="870" r="3.9"/><circle cx="813" cy="848" r="3.9"/><circle cx="818" cy="850" r="3.9"/><circle cx="815" cy="864" r="3.9"/><circle cx="816" cy="879" r="3.9"/><circle cx="813" cy="883" r="3.9"/><circle cx="814" cy="896" r="3.9"/><circle cx="821" cy="881" r="3.9"/><circle cx="810" cy="883" r="3.9"/><circle cx="820" cy="890" r="3.9"/><circle cx="810" cy="892" r="3.9"/><circle cx="821" cy="893" r="3.9"/><circle cx="813" cy="893" r="3.9"/><circle cx="811" cy="897" r="3.9"/><circle cx="809" cy="885" r="3.9"/><circle cx="812" cy="893" r="3.9"/><circle cx="820" cy="887" r="3.9"/><circle cx="816" cy="884" r="3.9"/><circle cx="817" cy="881" r="3.9"/><circle cx="819" cy="898" r="3.9"/><circle cx="815" cy="886" r="3.9"/><circle cx="817" cy="885" r="3.9"/><circle cx="822" cy="883" r="3.9"/><circle cx="815" cy="890" r="3.9"/><circle cx="819" cy="884" r="3.9"/><circle cx="809" cy="890" r="3.9"/><circle cx="809" cy="893" r="3.9"/><circle cx="807" cy="895" r="3.9"/><circle cx="821" cy="887" r="3.9"/><circle cx="822" cy="892" r="3.9"/><circle cx="818" cy="883" r="3.9"/><circle cx="808" cy="881" r="3.9"/><circle cx="809" cy="890" r="3.9"/><circle cx="819" cy="898" r="3.9"/><circle cx="813" cy="885" r="3.9"/><circle cx="821" cy="892" r="3.9"/><circle cx="823" cy="880" r="3.9"/><circle cx="823" cy="885" r="3.9"/><circle cx="820" cy="883" r="3.9"/><circle cx="816" cy="892" r="3.9"/><circle cx="819" cy="890" r="3.9"/><circle cx="808" cy="896" r="3.9"/><circle cx="808" cy="893" r="3.9"/><circle cx="816" cy="889" r="3.9"/><circle cx="811" cy="892" r="3.9"/><circle cx="820" cy="883" r="3.9"/><circle cx="822" cy="885" r="3.9"/><circle cx="821" cy="883" r="3.9"/><circle cx="813" cy="883" r="3.9"/><circle cx="808" cy="882" r="3.9"/><circle cx="809" cy="907" r="3.9"/><circle cx="809" cy="915" r="3.9"/><circle cx="811" cy="772" r="3.9"/><circle cx="819" cy="780" r="3.9"/><circle cx="807" cy="796" r="3.9"/><circle cx="810" cy="794" r="3.9"/><circle cx="814" cy="793" r="3.9"/></g>
<g fill="#f5c710"><circle cx="851" cy="858" r="3.9"/><circle cx="857" cy="836" r="3.9"/><circle cx="864" cy="865" r="3.9"/><circle cx="857" cy="845" r="3.9"/><circle cx="856" cy="880" r="3.9"/><circle cx="856" cy="858" r="3.9"/><circle cx="864" cy="852" r="3.9"/><circle cx="863" cy="834" r="3.9"/><circle cx="860" cy="837" r="3.9"/><circle cx="853" cy="835" r="3.9"/><circle cx="863" cy="879" r="3.9"/><circle cx="862" cy="857" r="3.9"/><circle cx="851" cy="859" r="3.9"/><circle cx="864" cy="870" r="3.9"/><circle cx="849" cy="884" r="3.9"/><circle cx="864" cy="862" r="3.9"/><circle cx="849" cy="869" r="3.9"/><circle cx="859" cy="830" r="3.9"/><circle cx="856" cy="831" r="3.9"/><circle cx="850" cy="867" r="3.9"/><circle cx="861" cy="848" r="3.9"/><circle cx="851" cy="845" r="3.9"/><circle cx="852" cy="861" r="3.9"/><circle cx="853" cy="880" r="3.9"/><circle cx="849" cy="843" r="3.9"/><circle cx="859" cy="855" r="3.9"/><circle cx="850" cy="851" r="3.9"/><circle cx="853" cy="874" r="3.9"/><circle cx="853" cy="865" r="3.9"/><circle cx="860" cy="853" r="3.9"/><circle cx="849" cy="859" r="3.9"/><circle cx="850" cy="843" r="3.9"/><circle cx="864" cy="840" r="3.9"/><circle cx="865" cy="839" r="3.9"/><circle cx="849" cy="832" r="3.9"/><circle cx="863" cy="879" r="3.9"/><circle cx="853" cy="849" r="3.9"/><circle cx="854" cy="865" r="3.9"/><circle cx="854" cy="856" r="3.9"/><circle cx="860" cy="845" r="3.9"/><circle cx="851" cy="866" r="3.9"/><circle cx="860" cy="830" r="3.9"/><circle cx="856" cy="877" r="3.9"/><circle cx="859" cy="867" r="3.9"/><circle cx="865" cy="841" r="3.9"/><circle cx="855" cy="838" r="3.9"/><circle cx="864" cy="862" r="3.9"/><circle cx="863" cy="866" r="3.9"/><circle cx="854" cy="869" r="3.9"/><circle cx="853" cy="858" r="3.9"/><circle cx="859" cy="873" r="3.9"/><circle cx="853" cy="871" r="3.9"/><circle cx="858" cy="865" r="3.9"/><circle cx="850" cy="859" r="3.9"/><circle cx="850" cy="865" r="3.9"/><circle cx="862" cy="851" r="3.9"/><circle cx="856" cy="864" r="3.9"/><circle cx="858" cy="884" r="3.9"/><circle cx="863" cy="868" r="3.9"/><circle cx="854" cy="833" r="3.9"/><circle cx="860" cy="842" r="3.9"/><circle cx="860" cy="866" r="3.9"/><circle cx="863" cy="833" r="3.9"/><circle cx="857" cy="849" r="3.9"/><circle cx="854" cy="844" r="3.9"/><circle cx="863" cy="855" r="3.9"/><circle cx="858" cy="836" r="3.9"/><circle cx="858" cy="865" r="3.9"/><circle cx="851" cy="849" r="3.9"/><circle cx="853" cy="860" r="3.9"/><circle cx="850" cy="884" r="3.9"/><circle cx="855" cy="881" r="3.9"/><circle cx="849" cy="871" r="3.9"/><circle cx="864" cy="854" r="3.9"/><circle cx="855" cy="864" r="3.9"/><circle cx="854" cy="844" r="3.9"/><circle cx="864" cy="865" r="3.9"/><circle cx="857" cy="855" r="3.9"/><circle cx="862" cy="871" r="3.9"/><circle cx="853" cy="847" r="3.9"/><circle cx="856" cy="833" r="3.9"/><circle cx="856" cy="836" r="3.9"/><circle cx="860" cy="848" r="3.9"/><circle cx="854" cy="842" r="3.9"/><circle cx="853" cy="843" r="3.9"/><circle cx="863" cy="855" r="3.9"/><circle cx="858" cy="848" r="3.9"/><circle cx="865" cy="863" r="3.9"/><circle cx="852" cy="867" r="3.9"/><circle cx="849" cy="885" r="3.9"/><circle cx="861" cy="842" r="3.9"/><circle cx="856" cy="880" r="3.9"/><circle cx="862" cy="873" r="3.9"/><circle cx="858" cy="841" r="3.9"/><circle cx="860" cy="862" r="3.9"/><circle cx="851" cy="833" r="3.9"/><circle cx="857" cy="880" r="3.9"/><circle cx="854" cy="865" r="3.9"/><circle cx="850" cy="878" r="3.9"/><circle cx="863" cy="847" r="3.9"/><circle cx="861" cy="871" r="3.9"/><circle cx="856" cy="878" r="3.9"/><circle cx="849" cy="846" r="3.9"/><circle cx="851" cy="875" r="3.9"/><circle cx="861" cy="843" r="3.9"/><circle cx="860" cy="858" r="3.9"/><circle cx="858" cy="853" r="3.9"/><circle cx="858" cy="861" r="3.9"/><circle cx="854" cy="850" r="3.9"/><circle cx="851" cy="865" r="3.9"/><circle cx="862" cy="843" r="3.9"/><circle cx="858" cy="851" r="3.9"/><circle cx="852" cy="833" r="3.9"/><circle cx="849" cy="871" r="3.9"/><circle cx="851" cy="846" r="3.9"/><circle cx="857" cy="841" r="3.9"/><circle cx="858" cy="856" r="3.9"/><circle cx="852" cy="867" r="3.9"/><circle cx="859" cy="882" r="3.9"/><circle cx="854" cy="873" r="3.9"/><circle cx="859" cy="861" r="3.9"/><circle cx="849" cy="847" r="3.9"/><circle cx="856" cy="833" r="3.9"/><circle cx="850" cy="875" r="3.9"/><circle cx="851" cy="861" r="3.9"/><circle cx="853" cy="859" r="3.9"/><circle cx="855" cy="845" r="3.9"/><circle cx="856" cy="845" r="3.9"/><circle cx="864" cy="855" r="3.9"/><circle cx="851" cy="871" r="3.9"/><circle cx="851" cy="871" r="3.9"/><circle cx="862" cy="881" r="3.9"/><circle cx="857" cy="871" r="3.9"/><circle cx="862" cy="875" r="3.9"/><circle cx="859" cy="879" r="3.9"/><circle cx="861" cy="851" r="3.9"/><circle cx="855" cy="876" r="3.9"/><circle cx="864" cy="851" r="3.9"/><circle cx="864" cy="874" r="3.9"/><circle cx="860" cy="849" r="3.9"/><circle cx="853" cy="846" r="3.9"/><circle cx="860" cy="855" r="3.9"/><circle cx="852" cy="838" r="3.9"/><circle cx="862" cy="840" r="3.9"/><circle cx="852" cy="859" r="3.9"/><circle cx="850" cy="852" r="3.9"/><circle cx="852" cy="877" r="3.9"/><circle cx="858" cy="857" r="3.9"/><circle cx="856" cy="831" r="3.9"/><circle cx="863" cy="882" r="3.9"/><circle cx="849" cy="861" r="3.9"/><circle cx="862" cy="877" r="3.9"/><circle cx="865" cy="880" r="3.9"/><circle cx="863" cy="838" r="3.9"/><circle cx="865" cy="884" r="3.9"/><circle cx="859" cy="878" r="3.9"/><circle cx="853" cy="854" r="3.9"/><circle cx="851" cy="856" r="3.9"/><circle cx="865" cy="869" r="3.9"/><circle cx="856" cy="847" r="3.9"/><circle cx="852" cy="854" r="3.9"/><circle cx="853" cy="857" r="3.9"/><circle cx="858" cy="852" r="3.9"/><circle cx="859" cy="853" r="3.9"/><circle cx="857" cy="857" r="3.9"/><circle cx="863" cy="879" r="3.9"/><circle cx="858" cy="872" r="3.9"/><circle cx="854" cy="839" r="3.9"/><circle cx="854" cy="838" r="3.9"/><circle cx="861" cy="880" r="3.9"/><circle cx="859" cy="842" r="3.9"/><circle cx="851" cy="872" r="3.9"/><circle cx="858" cy="838" r="3.9"/><circle cx="865" cy="871" r="3.9"/><circle cx="865" cy="884" r="3.9"/><circle cx="862" cy="881" r="3.9"/><circle cx="864" cy="839" r="3.9"/><circle cx="854" cy="860" r="3.9"/><circle cx="859" cy="838" r="3.9"/><circle cx="853" cy="872" r="3.9"/><circle cx="865" cy="856" r="3.9"/><circle cx="864" cy="878" r="3.9"/><circle cx="864" cy="840" r="3.9"/><circle cx="855" cy="866" r="3.9"/><circle cx="862" cy="876" r="3.9"/><circle cx="851" cy="867" r="3.9"/><circle cx="849" cy="847" r="3.9"/><circle cx="850" cy="858" r="3.9"/><circle cx="851" cy="866" r="3.9"/><circle cx="855" cy="875" r="3.9"/><circle cx="854" cy="884" r="3.9"/><circle cx="851" cy="835" r="3.9"/><circle cx="857" cy="858" r="3.9"/><circle cx="863" cy="831" r="3.9"/><circle cx="852" cy="844" r="3.9"/><circle cx="856" cy="875" r="3.9"/><circle cx="860" cy="843" r="3.9"/><circle cx="855" cy="872" r="3.9"/><circle cx="858" cy="836" r="3.9"/><circle cx="855" cy="831" r="3.9"/><circle cx="856" cy="843" r="3.9"/><circle cx="854" cy="849" r="3.9"/><circle cx="863" cy="835" r="3.9"/><circle cx="850" cy="837" r="3.9"/><circle cx="856" cy="854" r="3.9"/><circle cx="864" cy="870" r="3.9"/><circle cx="853" cy="837" r="3.9"/><circle cx="858" cy="876" r="3.9"/><circle cx="852" cy="872" r="3.9"/><circle cx="855" cy="883" r="3.9"/><circle cx="865" cy="840" r="3.9"/><circle cx="862" cy="862" r="3.9"/><circle cx="855" cy="858" r="3.9"/><circle cx="864" cy="856" r="3.9"/><circle cx="858" cy="857" r="3.9"/><circle cx="849" cy="872" r="3.9"/><circle cx="850" cy="879" r="3.9"/><circle cx="849" cy="861" r="3.9"/><circle cx="853" cy="868" r="3.9"/><circle cx="859" cy="871" r="3.9"/><circle cx="862" cy="884" r="3.9"/><circle cx="851" cy="843" r="3.9"/><circle cx="857" cy="881" r="3.9"/><circle cx="855" cy="841" r="3.9"/><circle cx="857" cy="847" r="3.9"/><circle cx="850" cy="874" r="3.9"/><circle cx="856" cy="876" r="3.9"/><circle cx="850" cy="849" r="3.9"/><circle cx="851" cy="877" r="3.9"/><circle cx="856" cy="863" r="3.9"/><circle cx="850" cy="854" r="3.9"/><circle cx="855" cy="869" r="3.9"/><circle cx="853" cy="884" r="3.9"/><circle cx="854" cy="858" r="3.9"/><circle cx="857" cy="849" r="3.9"/><circle cx="850" cy="832" r="3.9"/><circle cx="864" cy="884" r="3.9"/><circle cx="859" cy="837" r="3.9"/><circle cx="852" cy="848" r="3.9"/><circle cx="849" cy="849" r="3.9"/><circle cx="853" cy="848" r="3.9"/><circle cx="863" cy="861" r="3.9"/><circle cx="865" cy="847" r="3.9"/><circle cx="850" cy="872" r="3.9"/><circle cx="861" cy="875" r="3.9"/><circle cx="855" cy="875" r="3.9"/><circle cx="850" cy="870" r="3.9"/><circle cx="860" cy="861" r="3.9"/><circle cx="859" cy="856" r="3.9"/><circle cx="856" cy="856" r="3.9"/><circle cx="859" cy="877" r="3.9"/><circle cx="854" cy="861" r="3.9"/><circle cx="855" cy="839" r="3.9"/><circle cx="860" cy="830" r="3.9"/><circle cx="863" cy="833" r="3.9"/><circle cx="852" cy="871" r="3.9"/><circle cx="856" cy="846" r="3.9"/><circle cx="857" cy="881" r="3.9"/><circle cx="859" cy="850" r="3.9"/><circle cx="864" cy="843" r="3.9"/><circle cx="850" cy="870" r="3.9"/><circle cx="862" cy="874" r="3.9"/><circle cx="855" cy="867" r="3.9"/><circle cx="852" cy="845" r="3.9"/><circle cx="864" cy="877" r="3.9"/><circle cx="864" cy="860" r="3.9"/><circle cx="860" cy="850" r="3.9"/><circle cx="855" cy="881" r="3.9"/><circle cx="861" cy="882" r="3.9"/><circle cx="851" cy="853" r="3.9"/><circle cx="864" cy="881" r="3.9"/><circle cx="862" cy="879" r="3.9"/><circle cx="853" cy="869" r="3.9"/><circle cx="850" cy="855" r="3.9"/><circle cx="849" cy="854" r="3.9"/><circle cx="852" cy="853" r="3.9"/><circle cx="860" cy="867" r="3.9"/><circle cx="863" cy="881" r="3.9"/><circle cx="854" cy="848" r="3.9"/><circle cx="856" cy="844" r="3.9"/><circle cx="863" cy="874" r="3.9"/><circle cx="860" cy="866" r="3.9"/><circle cx="854" cy="845" r="3.9"/><circle cx="861" cy="835" r="3.9"/><circle cx="865" cy="838" r="3.9"/><circle cx="852" cy="872" r="3.9"/><circle cx="864" cy="839" r="3.9"/><circle cx="864" cy="858" r="3.9"/><circle cx="851" cy="860" r="3.9"/><circle cx="853" cy="866" r="3.9"/><circle cx="859" cy="876" r="3.9"/><circle cx="864" cy="877" r="3.9"/><circle cx="860" cy="870" r="3.9"/><circle cx="863" cy="876" r="3.9"/><circle cx="857" cy="882" r="3.9"/><circle cx="865" cy="841" r="3.9"/><circle cx="852" cy="864" r="3.9"/><circle cx="858" cy="853" r="3.9"/><circle cx="857" cy="841" r="3.9"/><circle cx="856" cy="863" r="3.9"/><circle cx="861" cy="869" r="3.9"/><circle cx="850" cy="842" r="3.9"/><circle cx="857" cy="872" r="3.9"/><circle cx="853" cy="871" r="3.9"/><circle cx="853" cy="847" r="3.9"/><circle cx="863" cy="841" r="3.9"/><circle cx="863" cy="860" r="3.9"/><circle cx="849" cy="856" r="3.9"/><circle cx="858" cy="837" r="3.9"/><circle cx="855" cy="857" r="3.9"/><circle cx="857" cy="881" r="3.9"/><circle cx="855" cy="879" r="3.9"/><circle cx="854" cy="871" r="3.9"/><circle cx="851" cy="862" r="3.9"/><circle cx="861" cy="875" r="3.9"/><circle cx="850" cy="871" r="3.9"/><circle cx="851" cy="883" r="3.9"/><circle cx="854" cy="877" r="3.9"/><circle cx="851" cy="884" r="3.9"/><circle cx="858" cy="842" r="3.9"/><circle cx="864" cy="873" r="3.9"/><circle cx="861" cy="854" r="3.9"/><circle cx="853" cy="865" r="3.9"/><circle cx="863" cy="871" r="3.9"/><circle cx="861" cy="833" r="3.9"/><circle cx="856" cy="846" r="3.9"/><circle cx="858" cy="867" r="3.9"/><circle cx="859" cy="830" r="3.9"/><circle cx="854" cy="846" r="3.9"/><circle cx="856" cy="846" r="3.9"/><circle cx="852" cy="842" r="3.9"/><circle cx="857" cy="879" r="3.9"/><circle cx="852" cy="883" r="3.9"/><circle cx="860" cy="879" r="3.9"/><circle cx="863" cy="871" r="3.9"/><circle cx="864" cy="841" r="3.9"/><circle cx="859" cy="850" r="3.9"/><circle cx="851" cy="845" r="3.9"/><circle cx="859" cy="837" r="3.9"/><circle cx="850" cy="877" r="3.9"/><circle cx="862" cy="832" r="3.9"/><circle cx="852" cy="830" r="3.9"/><circle cx="858" cy="884" r="3.9"/><circle cx="851" cy="862" r="3.9"/><circle cx="856" cy="870" r="3.9"/><circle cx="858" cy="870" r="3.9"/><circle cx="850" cy="884" r="3.9"/><circle cx="862" cy="836" r="3.9"/><circle cx="849" cy="875" r="3.9"/><circle cx="862" cy="851" r="3.9"/><circle cx="864" cy="865" r="3.9"/><circle cx="857" cy="832" r="3.9"/><circle cx="857" cy="851" r="3.9"/><circle cx="856" cy="849" r="3.9"/><circle cx="863" cy="850" r="3.9"/><circle cx="850" cy="844" r="3.9"/><circle cx="863" cy="858" r="3.9"/><circle cx="855" cy="878" r="3.9"/><circle cx="865" cy="853" r="3.9"/><circle cx="851" cy="848" r="3.9"/><circle cx="851" cy="878" r="3.9"/><circle cx="861" cy="848" r="3.9"/><circle cx="859" cy="877" r="3.9"/><circle cx="865" cy="840" r="3.9"/><circle cx="856" cy="866" r="3.9"/><circle cx="856" cy="859" r="3.9"/><circle cx="856" cy="853" r="3.9"/><circle cx="858" cy="852" r="3.9"/><circle cx="854" cy="853" r="3.9"/><circle cx="862" cy="839" r="3.9"/><circle cx="857" cy="843" r="3.9"/><circle cx="864" cy="830" r="3.9"/><circle cx="854" cy="883" r="3.9"/><circle cx="861" cy="843" r="3.9"/><circle cx="861" cy="858" r="3.9"/><circle cx="850" cy="836" r="3.9"/><circle cx="849" cy="846" r="3.9"/><circle cx="856" cy="883" r="3.9"/><circle cx="863" cy="860" r="3.9"/><circle cx="860" cy="864" r="3.9"/><circle cx="862" cy="850" r="3.9"/><circle cx="859" cy="842" r="3.9"/><circle cx="852" cy="845" r="3.9"/><circle cx="855" cy="846" r="3.9"/><circle cx="859" cy="832" r="3.9"/><circle cx="854" cy="863" r="3.9"/><circle cx="862" cy="873" r="3.9"/><circle cx="856" cy="864" r="3.9"/><circle cx="849" cy="881" r="3.9"/><circle cx="860" cy="874" r="3.9"/><circle cx="850" cy="853" r="3.9"/><circle cx="854" cy="876" r="3.9"/><circle cx="861" cy="839" r="3.9"/><circle cx="865" cy="841" r="3.9"/><circle cx="851" cy="861" r="3.9"/><circle cx="856" cy="882" r="3.9"/><circle cx="849" cy="880" r="3.9"/><circle cx="861" cy="847" r="3.9"/><circle cx="851" cy="869" r="3.9"/><circle cx="849" cy="846" r="3.9"/><circle cx="850" cy="849" r="3.9"/><circle cx="865" cy="877" r="3.9"/><circle cx="858" cy="865" r="3.9"/><circle cx="859" cy="873" r="3.9"/><circle cx="862" cy="883" r="3.9"/><circle cx="864" cy="849" r="3.9"/><circle cx="864" cy="844" r="3.9"/><circle cx="851" cy="866" r="3.9"/><circle cx="849" cy="878" r="3.9"/><circle cx="865" cy="874" r="3.9"/><circle cx="853" cy="859" r="3.9"/><circle cx="850" cy="855" r="3.9"/><circle cx="862" cy="841" r="3.9"/><circle cx="851" cy="850" r="3.9"/><circle cx="855" cy="848" r="3.9"/><circle cx="854" cy="834" r="3.9"/><circle cx="859" cy="857" r="3.9"/><circle cx="859" cy="848" r="3.9"/><circle cx="864" cy="873" r="3.9"/><circle cx="858" cy="851" r="3.9"/><circle cx="863" cy="854" r="3.9"/><circle cx="856" cy="861" r="3.9"/><circle cx="850" cy="857" r="3.9"/><circle cx="850" cy="881" r="3.9"/><circle cx="862" cy="837" r="3.9"/><circle cx="852" cy="867" r="3.9"/><circle cx="858" cy="852" r="3.9"/><circle cx="855" cy="842" r="3.9"/><circle cx="856" cy="833" r="3.9"/><circle cx="850" cy="843" r="3.9"/><circle cx="849" cy="843" r="3.9"/><circle cx="852" cy="850" r="3.9"/><circle cx="859" cy="885" r="3.9"/><circle cx="860" cy="875" r="3.9"/><circle cx="858" cy="872" r="3.9"/><circle cx="859" cy="830" r="3.9"/><circle cx="855" cy="837" r="3.9"/><circle cx="860" cy="850" r="3.9"/><circle cx="856" cy="839" r="3.9"/><circle cx="865" cy="845" r="3.9"/><circle cx="851" cy="850" r="3.9"/><circle cx="854" cy="840" r="3.9"/><circle cx="860" cy="854" r="3.9"/><circle cx="849" cy="882" r="3.9"/><circle cx="851" cy="878" r="3.9"/><circle cx="865" cy="860" r="3.9"/><circle cx="861" cy="830" r="3.9"/><circle cx="852" cy="874" r="3.9"/><circle cx="860" cy="837" r="3.9"/><circle cx="853" cy="834" r="3.9"/><circle cx="862" cy="865" r="3.9"/><circle cx="855" cy="861" r="3.9"/><circle cx="857" cy="844" r="3.9"/><circle cx="858" cy="830" r="3.9"/><circle cx="861" cy="883" r="3.9"/><circle cx="851" cy="854" r="3.9"/><circle cx="859" cy="868" r="3.9"/><circle cx="862" cy="848" r="3.9"/><circle cx="861" cy="850" r="3.9"/><circle cx="862" cy="858" r="3.9"/><circle cx="858" cy="879" r="3.9"/><circle cx="852" cy="857" r="3.9"/><circle cx="854" cy="833" r="3.9"/><circle cx="862" cy="841" r="3.9"/><circle cx="851" cy="837" r="3.9"/><circle cx="862" cy="869" r="3.9"/><circle cx="854" cy="857" r="3.9"/><circle cx="855" cy="857" r="3.9"/><circle cx="849" cy="846" r="3.9"/><circle cx="865" cy="848" r="3.9"/><circle cx="860" cy="864" r="3.9"/><circle cx="856" cy="864" r="3.9"/><circle cx="860" cy="862" r="3.9"/><circle cx="862" cy="847" r="3.9"/><circle cx="853" cy="855" r="3.9"/><circle cx="862" cy="857" r="3.9"/><circle cx="849" cy="856" r="3.9"/><circle cx="864" cy="839" r="3.9"/><circle cx="858" cy="846" r="3.9"/><circle cx="858" cy="872" r="3.9"/><circle cx="854" cy="839" r="3.9"/><circle cx="856" cy="884" r="3.9"/><circle cx="849" cy="847" r="3.9"/><circle cx="852" cy="856" r="3.9"/><circle cx="862" cy="861" r="3.9"/><circle cx="858" cy="842" r="3.9"/><circle cx="858" cy="871" r="3.9"/><circle cx="854" cy="831" r="3.9"/><circle cx="865" cy="858" r="3.9"/><circle cx="865" cy="864" r="3.9"/><circle cx="854" cy="840" r="3.9"/><circle cx="864" cy="872" r="3.9"/><circle cx="858" cy="831" r="3.9"/><circle cx="854" cy="853" r="3.9"/><circle cx="850" cy="856" r="3.9"/><circle cx="857" cy="841" r="3.9"/><circle cx="857" cy="882" r="3.9"/><circle cx="863" cy="875" r="3.9"/><circle cx="854" cy="843" r="3.9"/><circle cx="857" cy="881" r="3.9"/><circle cx="852" cy="834" r="3.9"/><circle cx="863" cy="831" r="3.9"/><circle cx="857" cy="884" r="3.9"/><circle cx="858" cy="830" r="3.9"/><circle cx="854" cy="871" r="3.9"/><circle cx="860" cy="835" r="3.9"/><circle cx="856" cy="856" r="3.9"/><circle cx="851" cy="837" r="3.9"/><circle cx="854" cy="852" r="3.9"/><circle cx="865" cy="848" r="3.9"/><circle cx="864" cy="831" r="3.9"/><circle cx="856" cy="838" r="3.9"/><circle cx="850" cy="846" r="3.9"/><circle cx="860" cy="863" r="3.9"/><circle cx="853" cy="870" r="3.9"/><circle cx="860" cy="878" r="3.9"/><circle cx="860" cy="835" r="3.9"/><circle cx="862" cy="883" r="3.9"/><circle cx="863" cy="866" r="3.9"/><circle cx="851" cy="878" r="3.9"/><circle cx="857" cy="870" r="3.9"/><circle cx="864" cy="842" r="3.9"/><circle cx="849" cy="882" r="3.9"/><circle cx="863" cy="835" r="3.9"/><circle cx="856" cy="877" r="3.9"/><circle cx="859" cy="859" r="3.9"/><circle cx="865" cy="832" r="3.9"/><circle cx="855" cy="839" r="3.9"/><circle cx="865" cy="862" r="3.9"/><circle cx="853" cy="878" r="3.9"/><circle cx="864" cy="857" r="3.9"/><circle cx="864" cy="842" r="3.9"/><circle cx="860" cy="885" r="3.9"/><circle cx="853" cy="869" r="3.9"/><circle cx="862" cy="878" r="3.9"/><circle cx="853" cy="851" r="3.9"/><circle cx="851" cy="858" r="3.9"/><circle cx="863" cy="846" r="3.9"/><circle cx="863" cy="845" r="3.9"/><circle cx="856" cy="866" r="3.9"/><circle cx="862" cy="882" r="3.9"/><circle cx="855" cy="852" r="3.9"/><circle cx="861" cy="874" r="3.9"/><circle cx="862" cy="845" r="3.9"/><circle cx="863" cy="872" r="3.9"/><circle cx="859" cy="848" r="3.9"/><circle cx="861" cy="834" r="3.9"/><circle cx="861" cy="853" r="3.9"/><circle cx="861" cy="862" r="3.9"/><circle cx="855" cy="847" r="3.9"/><circle cx="857" cy="837" r="3.9"/><circle cx="853" cy="865" r="3.9"/><circle cx="852" cy="881" r="3.9"/><circle cx="857" cy="848" r="3.9"/><circle cx="852" cy="845" r="3.9"/><circle cx="855" cy="837" r="3.9"/><circle cx="854" cy="883" r="3.9"/><circle cx="864" cy="880" r="3.9"/><circle cx="864" cy="869" r="3.9"/><circle cx="865" cy="865" r="3.9"/><circle cx="856" cy="839" r="3.9"/><circle cx="860" cy="883" r="3.9"/><circle cx="864" cy="884" r="3.9"/><circle cx="856" cy="868" r="3.9"/><circle cx="865" cy="870" r="3.9"/><circle cx="863" cy="878" r="3.9"/><circle cx="858" cy="878" r="3.9"/><circle cx="855" cy="895" r="3.9"/><circle cx="856" cy="887" r="3.9"/><circle cx="862" cy="895" r="3.9"/><circle cx="859" cy="890" r="3.9"/><circle cx="853" cy="896" r="3.9"/><circle cx="860" cy="893" r="3.9"/><circle cx="862" cy="885" r="3.9"/><circle cx="862" cy="896" r="3.9"/><circle cx="851" cy="885" r="3.9"/><circle cx="863" cy="888" r="3.9"/><circle cx="858" cy="898" r="3.9"/><circle cx="852" cy="890" r="3.9"/><circle cx="850" cy="897" r="3.9"/><circle cx="863" cy="889" r="3.9"/><circle cx="862" cy="886" r="3.9"/><circle cx="862" cy="895" r="3.9"/><circle cx="861" cy="885" r="3.9"/><circle cx="854" cy="893" r="3.9"/><circle cx="863" cy="890" r="3.9"/><circle cx="860" cy="890" r="3.9"/><circle cx="858" cy="888" r="3.9"/><circle cx="852" cy="897" r="3.9"/><circle cx="858" cy="888" r="3.9"/><circle cx="854" cy="888" r="3.9"/><circle cx="857" cy="886" r="3.9"/><circle cx="856" cy="888" r="3.9"/><circle cx="855" cy="889" r="3.9"/><circle cx="849" cy="897" r="3.9"/><circle cx="854" cy="894" r="3.9"/><circle cx="864" cy="889" r="3.9"/><circle cx="854" cy="893" r="3.9"/><circle cx="864" cy="891" r="3.9"/><circle cx="859" cy="886" r="3.9"/><circle cx="854" cy="890" r="3.9"/><circle cx="860" cy="889" r="3.9"/><circle cx="861" cy="896" r="3.9"/><circle cx="853" cy="891" r="3.9"/><circle cx="850" cy="888" r="3.9"/><circle cx="858" cy="896" r="3.9"/><circle cx="852" cy="895" r="3.9"/><circle cx="860" cy="895" r="3.9"/><circle cx="850" cy="890" r="3.9"/><circle cx="851" cy="894" r="3.9"/><circle cx="860" cy="887" r="3.9"/><circle cx="865" cy="897" r="3.9"/><circle cx="857" cy="911" r="3.9"/><circle cx="860" cy="909" r="3.9"/><circle cx="861" cy="916" r="3.9"/><circle cx="852" cy="771" r="3.9"/><circle cx="862" cy="764" r="3.9"/><circle cx="849" cy="795" r="3.9"/><circle cx="853" cy="792" r="3.9"/><circle cx="856" cy="794" r="3.9"/><circle cx="865" cy="793" r="3.9"/><circle cx="860" cy="803" r="3.9"/></g>
<g fill="#cc79a7"><circle cx="896" cy="858" r="3.9"/><circle cx="903" cy="864" r="3.9"/><circle cx="904" cy="861" r="3.9"/><circle cx="904" cy="865" r="3.9"/><circle cx="900" cy="863" r="3.9"/><circle cx="900" cy="845" r="3.9"/><circle cx="896" cy="865" r="3.9"/><circle cx="900" cy="899" r="3.9"/><circle cx="898" cy="920" r="3.9"/><circle cx="892" cy="892" r="3.9"/><circle cx="896" cy="857" r="3.9"/><circle cx="895" cy="866" r="3.9"/><circle cx="898" cy="874" r="3.9"/><circle cx="903" cy="898" r="3.9"/><circle cx="897" cy="895" r="3.9"/><circle cx="900" cy="842" r="3.9"/><circle cx="904" cy="908" r="3.9"/><circle cx="901" cy="875" r="3.9"/><circle cx="905" cy="927" r="3.9"/><circle cx="900" cy="845" r="3.9"/><circle cx="898" cy="857" r="3.9"/><circle cx="898" cy="881" r="3.9"/><circle cx="894" cy="846" r="3.9"/><circle cx="898" cy="887" r="3.9"/><circle cx="899" cy="900" r="3.9"/><circle cx="906" cy="925" r="3.9"/><circle cx="895" cy="871" r="3.9"/><circle cx="899" cy="858" r="3.9"/><circle cx="906" cy="895" r="3.9"/><circle cx="906" cy="867" r="3.9"/><circle cx="898" cy="876" r="3.9"/><circle cx="892" cy="860" r="3.9"/><circle cx="901" cy="915" r="3.9"/><circle cx="891" cy="864" r="3.9"/><circle cx="898" cy="869" r="3.9"/><circle cx="894" cy="855" r="3.9"/><circle cx="895" cy="845" r="3.9"/><circle cx="895" cy="846" r="3.9"/><circle cx="905" cy="885" r="3.9"/><circle cx="898" cy="863" r="3.9"/><circle cx="901" cy="865" r="3.9"/><circle cx="904" cy="904" r="3.9"/><circle cx="894" cy="875" r="3.9"/><circle cx="896" cy="928" r="3.9"/><circle cx="894" cy="843" r="3.9"/><circle cx="894" cy="918" r="3.9"/><circle cx="900" cy="892" r="3.9"/><circle cx="898" cy="890" r="3.9"/><circle cx="897" cy="876" r="3.9"/><circle cx="901" cy="898" r="3.9"/><circle cx="906" cy="884" r="3.9"/><circle cx="904" cy="854" r="3.9"/><circle cx="893" cy="913" r="3.9"/><circle cx="891" cy="872" r="3.9"/><circle cx="894" cy="877" r="3.9"/><circle cx="895" cy="911" r="3.9"/><circle cx="892" cy="901" r="3.9"/><circle cx="906" cy="868" r="3.9"/><circle cx="903" cy="882" r="3.9"/><circle cx="894" cy="876" r="3.9"/><circle cx="892" cy="863" r="3.9"/><circle cx="891" cy="855" r="3.9"/><circle cx="905" cy="875" r="3.9"/><circle cx="904" cy="872" r="3.9"/><circle cx="895" cy="874" r="3.9"/><circle cx="896" cy="925" r="3.9"/><circle cx="890" cy="856" r="3.9"/><circle cx="894" cy="875" r="3.9"/><circle cx="896" cy="851" r="3.9"/><circle cx="900" cy="908" r="3.9"/><circle cx="899" cy="864" r="3.9"/><circle cx="898" cy="859" r="3.9"/><circle cx="891" cy="862" r="3.9"/><circle cx="896" cy="896" r="3.9"/><circle cx="897" cy="907" r="3.9"/><circle cx="892" cy="863" r="3.9"/><circle cx="893" cy="897" r="3.9"/><circle cx="893" cy="879" r="3.9"/><circle cx="898" cy="892" r="3.9"/><circle cx="899" cy="862" r="3.9"/><circle cx="906" cy="873" r="3.9"/><circle cx="893" cy="877" r="3.9"/><circle cx="898" cy="849" r="3.9"/><circle cx="891" cy="874" r="3.9"/><circle cx="902" cy="866" r="3.9"/><circle cx="901" cy="860" r="3.9"/><circle cx="902" cy="898" r="3.9"/><circle cx="899" cy="914" r="3.9"/><circle cx="897" cy="867" r="3.9"/><circle cx="890" cy="867" r="3.9"/><circle cx="903" cy="896" r="3.9"/><circle cx="897" cy="871" r="3.9"/><circle cx="900" cy="845" r="3.9"/><circle cx="899" cy="904" r="3.9"/><circle cx="892" cy="847" r="3.9"/><circle cx="892" cy="807" r="3.9"/><circle cx="899" cy="803" r="3.9"/><circle cx="906" cy="800" r="3.9"/><circle cx="903" cy="792" r="3.9"/></g>
<g fill="#e69f00"><circle cx="940" cy="864" r="3.9"/><circle cx="938" cy="853" r="3.9"/><circle cx="947" cy="885" r="3.9"/><circle cx="948" cy="839" r="3.9"/><circle cx="937" cy="844" r="3.9"/><circle cx="947" cy="864" r="3.9"/><circle cx="941" cy="835" r="3.9"/><circle cx="945" cy="884" r="3.9"/><circle cx="935" cy="846" r="3.9"/><circle cx="932" cy="876" r="3.9"/><circle cx="935" cy="839" r="3.9"/><circle cx="946" cy="867" r="3.9"/><circle cx="939" cy="843" r="3.9"/><circle cx="947" cy="849" r="3.9"/><circle cx="944" cy="865" r="3.9"/><circle cx="938" cy="884" r="3.9"/><circle cx="938" cy="844" r="3.9"/><circle cx="935" cy="832" r="3.9"/><circle cx="939" cy="881" r="3.9"/><circle cx="944" cy="849" r="3.9"/><circle cx="937" cy="874" r="3.9"/><circle cx="945" cy="847" r="3.9"/><circle cx="936" cy="844" r="3.9"/><circle cx="945" cy="856" r="3.9"/><circle cx="943" cy="867" r="3.9"/><circle cx="945" cy="860" r="3.9"/><circle cx="932" cy="866" r="3.9"/><circle cx="936" cy="877" r="3.9"/><circle cx="941" cy="868" r="3.9"/><circle cx="943" cy="877" r="3.9"/><circle cx="945" cy="880" r="3.9"/><circle cx="945" cy="844" r="3.9"/><circle cx="944" cy="849" r="3.9"/><circle cx="944" cy="861" r="3.9"/><circle cx="941" cy="835" r="3.9"/><circle cx="935" cy="837" r="3.9"/><circle cx="933" cy="878" r="3.9"/><circle cx="947" cy="849" r="3.9"/><circle cx="939" cy="861" r="3.9"/><circle cx="943" cy="835" r="3.9"/><circle cx="948" cy="831" r="3.9"/><circle cx="933" cy="870" r="3.9"/><circle cx="937" cy="865" r="3.9"/><circle cx="941" cy="856" r="3.9"/><circle cx="940" cy="875" r="3.9"/><circle cx="938" cy="872" r="3.9"/><circle cx="941" cy="879" r="3.9"/><circle cx="933" cy="846" r="3.9"/><circle cx="932" cy="831" r="3.9"/><circle cx="941" cy="855" r="3.9"/><circle cx="935" cy="838" r="3.9"/><circle cx="935" cy="879" r="3.9"/><circle cx="941" cy="853" r="3.9"/><circle cx="941" cy="854" r="3.9"/><circle cx="940" cy="834" r="3.9"/><circle cx="948" cy="862" r="3.9"/><circle cx="944" cy="879" r="3.9"/><circle cx="933" cy="833" r="3.9"/><circle cx="935" cy="839" r="3.9"/><circle cx="935" cy="851" r="3.9"/><circle cx="945" cy="862" r="3.9"/><circle cx="943" cy="857" r="3.9"/><circle cx="947" cy="878" r="3.9"/><circle cx="934" cy="867" r="3.9"/><circle cx="947" cy="875" r="3.9"/><circle cx="941" cy="852" r="3.9"/><circle cx="933" cy="845" r="3.9"/><circle cx="933" cy="834" r="3.9"/><circle cx="944" cy="858" r="3.9"/><circle cx="938" cy="869" r="3.9"/><circle cx="937" cy="880" r="3.9"/><circle cx="935" cy="841" r="3.9"/><circle cx="935" cy="882" r="3.9"/><circle cx="946" cy="841" r="3.9"/><circle cx="947" cy="832" r="3.9"/><circle cx="943" cy="855" r="3.9"/><circle cx="935" cy="863" r="3.9"/><circle cx="935" cy="859" r="3.9"/><circle cx="944" cy="853" r="3.9"/><circle cx="946" cy="879" r="3.9"/><circle cx="935" cy="841" r="3.9"/><circle cx="932" cy="849" r="3.9"/><circle cx="933" cy="846" r="3.9"/><circle cx="934" cy="856" r="3.9"/><circle cx="936" cy="881" r="3.9"/><circle cx="945" cy="849" r="3.9"/><circle cx="940" cy="834" r="3.9"/><circle cx="933" cy="875" r="3.9"/><circle cx="933" cy="850" r="3.9"/><circle cx="935" cy="841" r="3.9"/><circle cx="935" cy="842" r="3.9"/><circle cx="947" cy="843" r="3.9"/><circle cx="942" cy="843" r="3.9"/><circle cx="947" cy="879" r="3.9"/><circle cx="940" cy="882" r="3.9"/><circle cx="944" cy="879" r="3.9"/><circle cx="940" cy="834" r="3.9"/><circle cx="933" cy="876" r="3.9"/><circle cx="947" cy="853" r="3.9"/><circle cx="946" cy="880" r="3.9"/><circle cx="937" cy="872" r="3.9"/><circle cx="944" cy="867" r="3.9"/><circle cx="935" cy="833" r="3.9"/><circle cx="937" cy="845" r="3.9"/><circle cx="940" cy="849" r="3.9"/><circle cx="938" cy="847" r="3.9"/><circle cx="934" cy="845" r="3.9"/><circle cx="943" cy="845" r="3.9"/><circle cx="946" cy="878" r="3.9"/><circle cx="939" cy="846" r="3.9"/><circle cx="942" cy="879" r="3.9"/><circle cx="945" cy="841" r="3.9"/><circle cx="935" cy="832" r="3.9"/><circle cx="947" cy="845" r="3.9"/><circle cx="938" cy="872" r="3.9"/><circle cx="936" cy="870" r="3.9"/><circle cx="932" cy="852" r="3.9"/><circle cx="932" cy="875" r="3.9"/><circle cx="936" cy="875" r="3.9"/><circle cx="944" cy="836" r="3.9"/><circle cx="936" cy="874" r="3.9"/><circle cx="943" cy="853" r="3.9"/><circle cx="934" cy="839" r="3.9"/><circle cx="937" cy="857" r="3.9"/><circle cx="942" cy="878" r="3.9"/><circle cx="943" cy="860" r="3.9"/><circle cx="940" cy="864" r="3.9"/><circle cx="932" cy="832" r="3.9"/><circle cx="941" cy="854" r="3.9"/><circle cx="946" cy="843" r="3.9"/><circle cx="937" cy="844" r="3.9"/><circle cx="942" cy="874" r="3.9"/><circle cx="933" cy="851" r="3.9"/><circle cx="943" cy="871" r="3.9"/><circle cx="944" cy="839" r="3.9"/><circle cx="943" cy="855" r="3.9"/><circle cx="946" cy="841" r="3.9"/><circle cx="945" cy="880" r="3.9"/><circle cx="942" cy="839" r="3.9"/><circle cx="937" cy="850" r="3.9"/><circle cx="946" cy="839" r="3.9"/><circle cx="938" cy="850" r="3.9"/><circle cx="940" cy="870" r="3.9"/><circle cx="932" cy="843" r="3.9"/><circle cx="933" cy="857" r="3.9"/><circle cx="942" cy="873" r="3.9"/><circle cx="944" cy="839" r="3.9"/><circle cx="948" cy="831" r="3.9"/><circle cx="935" cy="865" r="3.9"/><circle cx="942" cy="851" r="3.9"/><circle cx="943" cy="855" r="3.9"/><circle cx="937" cy="847" r="3.9"/><circle cx="939" cy="836" r="3.9"/><circle cx="943" cy="839" r="3.9"/><circle cx="941" cy="881" r="3.9"/><circle cx="945" cy="875" r="3.9"/><circle cx="935" cy="874" r="3.9"/><circle cx="932" cy="842" r="3.9"/><circle cx="936" cy="867" r="3.9"/><circle cx="948" cy="842" r="3.9"/><circle cx="940" cy="846" r="3.9"/><circle cx="944" cy="830" r="3.9"/><circle cx="947" cy="846" r="3.9"/><circle cx="934" cy="875" r="3.9"/><circle cx="944" cy="873" r="3.9"/><circle cx="946" cy="855" r="3.9"/><circle cx="939" cy="874" r="3.9"/><circle cx="940" cy="843" r="3.9"/><circle cx="942" cy="854" r="3.9"/><circle cx="944" cy="878" r="3.9"/><circle cx="945" cy="834" r="3.9"/><circle cx="941" cy="854" r="3.9"/><circle cx="932" cy="846" r="3.9"/><circle cx="932" cy="869" r="3.9"/><circle cx="935" cy="840" r="3.9"/><circle cx="946" cy="845" r="3.9"/><circle cx="943" cy="866" r="3.9"/><circle cx="942" cy="834" r="3.9"/><circle cx="935" cy="875" r="3.9"/><circle cx="938" cy="846" r="3.9"/><circle cx="940" cy="832" r="3.9"/><circle cx="943" cy="872" r="3.9"/><circle cx="948" cy="847" r="3.9"/><circle cx="943" cy="882" r="3.9"/><circle cx="946" cy="855" r="3.9"/><circle cx="947" cy="860" r="3.9"/><circle cx="941" cy="862" r="3.9"/><circle cx="935" cy="851" r="3.9"/><circle cx="940" cy="873" r="3.9"/><circle cx="941" cy="849" r="3.9"/><circle cx="948" cy="834" r="3.9"/><circle cx="934" cy="849" r="3.9"/><circle cx="948" cy="856" r="3.9"/><circle cx="938" cy="875" r="3.9"/><circle cx="935" cy="874" r="3.9"/><circle cx="933" cy="863" r="3.9"/><circle cx="947" cy="863" r="3.9"/><circle cx="936" cy="842" r="3.9"/><circle cx="945" cy="844" r="3.9"/><circle cx="947" cy="854" r="3.9"/><circle cx="933" cy="870" r="3.9"/><circle cx="944" cy="867" r="3.9"/><circle cx="932" cy="850" r="3.9"/><circle cx="940" cy="880" r="3.9"/><circle cx="933" cy="854" r="3.9"/><circle cx="937" cy="864" r="3.9"/><circle cx="939" cy="847" r="3.9"/><circle cx="940" cy="860" r="3.9"/><circle cx="932" cy="847" r="3.9"/><circle cx="936" cy="845" r="3.9"/><circle cx="937" cy="845" r="3.9"/><circle cx="938" cy="868" r="3.9"/><circle cx="935" cy="882" r="3.9"/><circle cx="933" cy="846" r="3.9"/><circle cx="944" cy="866" r="3.9"/><circle cx="937" cy="845" r="3.9"/><circle cx="943" cy="851" r="3.9"/><circle cx="945" cy="880" r="3.9"/><circle cx="934" cy="867" r="3.9"/><circle cx="935" cy="861" r="3.9"/><circle cx="946" cy="865" r="3.9"/><circle cx="946" cy="849" r="3.9"/><circle cx="936" cy="860" r="3.9"/><circle cx="937" cy="859" r="3.9"/><circle cx="936" cy="841" r="3.9"/><circle cx="942" cy="836" r="3.9"/><circle cx="935" cy="835" r="3.9"/><circle cx="943" cy="839" r="3.9"/><circle cx="936" cy="877" r="3.9"/><circle cx="940" cy="856" r="3.9"/><circle cx="937" cy="858" r="3.9"/><circle cx="944" cy="850" r="3.9"/><circle cx="934" cy="840" r="3.9"/><circle cx="943" cy="856" r="3.9"/><circle cx="947" cy="842" r="3.9"/><circle cx="943" cy="851" r="3.9"/><circle cx="936" cy="869" r="3.9"/><circle cx="937" cy="842" r="3.9"/><circle cx="939" cy="853" r="3.9"/><circle cx="933" cy="884" r="3.9"/><circle cx="938" cy="850" r="3.9"/><circle cx="934" cy="838" r="3.9"/><circle cx="935" cy="834" r="3.9"/><circle cx="941" cy="865" r="3.9"/><circle cx="946" cy="844" r="3.9"/><circle cx="945" cy="871" r="3.9"/><circle cx="932" cy="841" r="3.9"/><circle cx="935" cy="878" r="3.9"/><circle cx="944" cy="833" r="3.9"/><circle cx="936" cy="839" r="3.9"/><circle cx="942" cy="853" r="3.9"/><circle cx="947" cy="876" r="3.9"/><circle cx="936" cy="845" r="3.9"/><circle cx="940" cy="852" r="3.9"/><circle cx="945" cy="840" r="3.9"/><circle cx="946" cy="862" r="3.9"/><circle cx="938" cy="883" r="3.9"/><circle cx="937" cy="872" r="3.9"/><circle cx="947" cy="879" r="3.9"/><circle cx="948" cy="854" r="3.9"/><circle cx="944" cy="876" r="3.9"/><circle cx="936" cy="855" r="3.9"/><circle cx="947" cy="873" r="3.9"/><circle cx="937" cy="873" r="3.9"/><circle cx="933" cy="852" r="3.9"/><circle cx="941" cy="847" r="3.9"/><circle cx="932" cy="862" r="3.9"/><circle cx="942" cy="866" r="3.9"/><circle cx="934" cy="834" r="3.9"/><circle cx="932" cy="860" r="3.9"/><circle cx="932" cy="841" r="3.9"/><circle cx="940" cy="851" r="3.9"/><circle cx="943" cy="837" r="3.9"/><circle cx="940" cy="853" r="3.9"/><circle cx="935" cy="880" r="3.9"/><circle cx="947" cy="883" r="3.9"/><circle cx="936" cy="831" r="3.9"/><circle cx="943" cy="880" r="3.9"/><circle cx="937" cy="846" r="3.9"/><circle cx="945" cy="860" r="3.9"/><circle cx="941" cy="869" r="3.9"/><circle cx="940" cy="875" r="3.9"/><circle cx="941" cy="871" r="3.9"/><circle cx="932" cy="856" r="3.9"/><circle cx="947" cy="857" r="3.9"/><circle cx="943" cy="859" r="3.9"/><circle cx="947" cy="834" r="3.9"/><circle cx="936" cy="839" r="3.9"/><circle cx="946" cy="884" r="3.9"/><circle cx="935" cy="846" r="3.9"/><circle cx="936" cy="863" r="3.9"/><circle cx="943" cy="844" r="3.9"/><circle cx="945" cy="855" r="3.9"/><circle cx="940" cy="850" r="3.9"/><circle cx="939" cy="832" r="3.9"/><circle cx="932" cy="883" r="3.9"/><circle cx="936" cy="849" r="3.9"/><circle cx="948" cy="847" r="3.9"/><circle cx="933" cy="878" r="3.9"/><circle cx="938" cy="866" r="3.9"/><circle cx="936" cy="837" r="3.9"/><circle cx="935" cy="872" r="3.9"/><circle cx="940" cy="866" r="3.9"/><circle cx="944" cy="861" r="3.9"/><circle cx="943" cy="840" r="3.9"/><circle cx="935" cy="854" r="3.9"/><circle cx="945" cy="842" r="3.9"/><circle cx="944" cy="875" r="3.9"/><circle cx="944" cy="836" r="3.9"/><circle cx="934" cy="874" r="3.9"/><circle cx="935" cy="831" r="3.9"/><circle cx="941" cy="868" r="3.9"/><circle cx="945" cy="869" r="3.9"/><circle cx="941" cy="850" r="3.9"/><circle cx="947" cy="845" r="3.9"/><circle cx="939" cy="836" r="3.9"/><circle cx="941" cy="868" r="3.9"/><circle cx="940" cy="850" r="3.9"/><circle cx="932" cy="865" r="3.9"/><circle cx="932" cy="872" r="3.9"/><circle cx="942" cy="877" r="3.9"/><circle cx="942" cy="872" r="3.9"/><circle cx="936" cy="882" r="3.9"/><circle cx="941" cy="860" r="3.9"/><circle cx="938" cy="876" r="3.9"/><circle cx="942" cy="860" r="3.9"/><circle cx="942" cy="873" r="3.9"/><circle cx="948" cy="841" r="3.9"/><circle cx="947" cy="845" r="3.9"/><circle cx="939" cy="870" r="3.9"/><circle cx="945" cy="849" r="3.9"/><circle cx="937" cy="859" r="3.9"/><circle cx="939" cy="852" r="3.9"/><circle cx="936" cy="830" r="3.9"/><circle cx="947" cy="849" r="3.9"/><circle cx="947" cy="864" r="3.9"/><circle cx="933" cy="840" r="3.9"/><circle cx="938" cy="841" r="3.9"/><circle cx="933" cy="872" r="3.9"/><circle cx="940" cy="838" r="3.9"/><circle cx="940" cy="867" r="3.9"/><circle cx="945" cy="854" r="3.9"/><circle cx="935" cy="832" r="3.9"/><circle cx="941" cy="859" r="3.9"/><circle cx="948" cy="843" r="3.9"/><circle cx="932" cy="859" r="3.9"/><circle cx="943" cy="843" r="3.9"/><circle cx="936" cy="840" r="3.9"/><circle cx="946" cy="862" r="3.9"/><circle cx="936" cy="850" r="3.9"/><circle cx="936" cy="831" r="3.9"/><circle cx="945" cy="872" r="3.9"/><circle cx="937" cy="849" r="3.9"/><circle cx="947" cy="844" r="3.9"/><circle cx="943" cy="880" r="3.9"/><circle cx="937" cy="873" r="3.9"/><circle cx="937" cy="884" r="3.9"/><circle cx="934" cy="839" r="3.9"/><circle cx="943" cy="849" r="3.9"/><circle cx="939" cy="877" r="3.9"/><circle cx="934" cy="842" r="3.9"/><circle cx="942" cy="843" r="3.9"/><circle cx="939" cy="842" r="3.9"/><circle cx="942" cy="866" r="3.9"/><circle cx="932" cy="873" r="3.9"/><circle cx="947" cy="846" r="3.9"/><circle cx="945" cy="847" r="3.9"/><circle cx="946" cy="883" r="3.9"/><circle cx="943" cy="852" r="3.9"/><circle cx="937" cy="840" r="3.9"/><circle cx="946" cy="881" r="3.9"/><circle cx="943" cy="880" r="3.9"/><circle cx="937" cy="834" r="3.9"/><circle cx="939" cy="885" r="3.9"/><circle cx="941" cy="876" r="3.9"/><circle cx="942" cy="853" r="3.9"/><circle cx="940" cy="843" r="3.9"/><circle cx="938" cy="883" r="3.9"/><circle cx="947" cy="864" r="3.9"/><circle cx="943" cy="848" r="3.9"/><circle cx="942" cy="880" r="3.9"/><circle cx="933" cy="884" r="3.9"/><circle cx="934" cy="832" r="3.9"/><circle cx="932" cy="852" r="3.9"/><circle cx="944" cy="843" r="3.9"/><circle cx="947" cy="872" r="3.9"/><circle cx="934" cy="873" r="3.9"/><circle cx="935" cy="869" r="3.9"/><circle cx="932" cy="874" r="3.9"/><circle cx="937" cy="868" r="3.9"/><circle cx="933" cy="857" r="3.9"/><circle cx="938" cy="838" r="3.9"/><circle cx="939" cy="883" r="3.9"/><circle cx="932" cy="883" r="3.9"/><circle cx="937" cy="874" r="3.9"/><circle cx="945" cy="862" r="3.9"/><circle cx="942" cy="883" r="3.9"/><circle cx="939" cy="874" r="3.9"/><circle cx="940" cy="848" r="3.9"/><circle cx="948" cy="838" r="3.9"/><circle cx="947" cy="871" r="3.9"/><circle cx="934" cy="879" r="3.9"/><circle cx="932" cy="870" r="3.9"/><circle cx="947" cy="872" r="3.9"/><circle cx="947" cy="868" r="3.9"/><circle cx="944" cy="880" r="3.9"/><circle cx="947" cy="850" r="3.9"/><circle cx="934" cy="851" r="3.9"/><circle cx="933" cy="880" r="3.9"/><circle cx="939" cy="884" r="3.9"/><circle cx="933" cy="855" r="3.9"/><circle cx="942" cy="850" r="3.9"/><circle cx="943" cy="844" r="3.9"/><circle cx="932" cy="879" r="3.9"/><circle cx="940" cy="848" r="3.9"/><circle cx="945" cy="835" r="3.9"/><circle cx="937" cy="857" r="3.9"/><circle cx="946" cy="862" r="3.9"/><circle cx="939" cy="864" r="3.9"/><circle cx="947" cy="850" r="3.9"/><circle cx="935" cy="860" r="3.9"/><circle cx="934" cy="843" r="3.9"/><circle cx="942" cy="855" r="3.9"/><circle cx="934" cy="830" r="3.9"/><circle cx="948" cy="876" r="3.9"/><circle cx="942" cy="861" r="3.9"/><circle cx="939" cy="883" r="3.9"/><circle cx="948" cy="882" r="3.9"/><circle cx="942" cy="866" r="3.9"/><circle cx="947" cy="843" r="3.9"/><circle cx="940" cy="861" r="3.9"/><circle cx="937" cy="862" r="3.9"/><circle cx="941" cy="881" r="3.9"/><circle cx="939" cy="852" r="3.9"/><circle cx="941" cy="830" r="3.9"/><circle cx="932" cy="831" r="3.9"/><circle cx="946" cy="878" r="3.9"/><circle cx="944" cy="844" r="3.9"/><circle cx="942" cy="838" r="3.9"/><circle cx="940" cy="859" r="3.9"/><circle cx="943" cy="837" r="3.9"/><circle cx="947" cy="862" r="3.9"/><circle cx="948" cy="835" r="3.9"/><circle cx="944" cy="875" r="3.9"/><circle cx="948" cy="843" r="3.9"/><circle cx="937" cy="879" r="3.9"/><circle cx="943" cy="836" r="3.9"/><circle cx="942" cy="846" r="3.9"/><circle cx="945" cy="836" r="3.9"/><circle cx="943" cy="852" r="3.9"/><circle cx="934" cy="844" r="3.9"/><circle cx="945" cy="882" r="3.9"/><circle cx="948" cy="832" r="3.9"/><circle cx="946" cy="864" r="3.9"/><circle cx="938" cy="832" r="3.9"/><circle cx="943" cy="859" r="3.9"/><circle cx="935" cy="859" r="3.9"/><circle cx="933" cy="882" r="3.9"/><circle cx="946" cy="870" r="3.9"/><circle cx="948" cy="840" r="3.9"/><circle cx="940" cy="883" r="3.9"/><circle cx="946" cy="865" r="3.9"/><circle cx="933" cy="857" r="3.9"/><circle cx="941" cy="859" r="3.9"/><circle cx="936" cy="842" r="3.9"/><circle cx="937" cy="843" r="3.9"/><circle cx="947" cy="839" r="3.9"/><circle cx="935" cy="884" r="3.9"/><circle cx="934" cy="832" r="3.9"/><circle cx="938" cy="861" r="3.9"/><circle cx="942" cy="878" r="3.9"/><circle cx="947" cy="831" r="3.9"/><circle cx="945" cy="842" r="3.9"/><circle cx="942" cy="875" r="3.9"/><circle cx="934" cy="860" r="3.9"/><circle cx="947" cy="852" r="3.9"/><circle cx="942" cy="872" r="3.9"/><circle cx="938" cy="836" r="3.9"/><circle cx="943" cy="831" r="3.9"/><circle cx="947" cy="856" r="3.9"/><circle cx="941" cy="838" r="3.9"/><circle cx="940" cy="854" r="3.9"/><circle cx="942" cy="835" r="3.9"/><circle cx="936" cy="860" r="3.9"/><circle cx="944" cy="866" r="3.9"/><circle cx="932" cy="882" r="3.9"/><circle cx="938" cy="865" r="3.9"/><circle cx="948" cy="876" r="3.9"/><circle cx="937" cy="844" r="3.9"/><circle cx="940" cy="857" r="3.9"/><circle cx="934" cy="863" r="3.9"/><circle cx="945" cy="840" r="3.9"/><circle cx="942" cy="860" r="3.9"/><circle cx="935" cy="877" r="3.9"/><circle cx="934" cy="873" r="3.9"/><circle cx="933" cy="879" r="3.9"/><circle cx="936" cy="868" r="3.9"/><circle cx="943" cy="867" r="3.9"/><circle cx="944" cy="845" r="3.9"/><circle cx="939" cy="862" r="3.9"/><circle cx="943" cy="852" r="3.9"/><circle cx="937" cy="864" r="3.9"/><circle cx="933" cy="860" r="3.9"/><circle cx="938" cy="868" r="3.9"/><circle cx="937" cy="833" r="3.9"/><circle cx="943" cy="847" r="3.9"/><circle cx="933" cy="832" r="3.9"/><circle cx="947" cy="858" r="3.9"/><circle cx="934" cy="833" r="3.9"/><circle cx="941" cy="854" r="3.9"/><circle cx="932" cy="860" r="3.9"/><circle cx="940" cy="862" r="3.9"/><circle cx="933" cy="830" r="3.9"/><circle cx="942" cy="830" r="3.9"/><circle cx="940" cy="851" r="3.9"/><circle cx="946" cy="859" r="3.9"/><circle cx="934" cy="838" r="3.9"/><circle cx="945" cy="843" r="3.9"/><circle cx="941" cy="849" r="3.9"/><circle cx="937" cy="850" r="3.9"/><circle cx="942" cy="850" r="3.9"/><circle cx="937" cy="850" r="3.9"/><circle cx="946" cy="884" r="3.9"/><circle cx="944" cy="872" r="3.9"/><circle cx="938" cy="870" r="3.9"/><circle cx="943" cy="884" r="3.9"/><circle cx="935" cy="830" r="3.9"/><circle cx="940" cy="869" r="3.9"/><circle cx="937" cy="883" r="3.9"/><circle cx="935" cy="865" r="3.9"/><circle cx="946" cy="884" r="3.9"/><circle cx="938" cy="870" r="3.9"/><circle cx="934" cy="857" r="3.9"/><circle cx="934" cy="873" r="3.9"/><circle cx="940" cy="833" r="3.9"/><circle cx="948" cy="857" r="3.9"/><circle cx="946" cy="880" r="3.9"/><circle cx="941" cy="854" r="3.9"/><circle cx="943" cy="857" r="3.9"/><circle cx="935" cy="830" r="3.9"/><circle cx="944" cy="899" r="3.9"/><circle cx="943" cy="891" r="3.9"/><circle cx="945" cy="889" r="3.9"/><circle cx="936" cy="896" r="3.9"/><circle cx="946" cy="892" r="3.9"/><circle cx="940" cy="893" r="3.9"/><circle cx="938" cy="890" r="3.9"/><circle cx="933" cy="892" r="3.9"/><circle cx="945" cy="889" r="3.9"/><circle cx="943" cy="895" r="3.9"/><circle cx="943" cy="887" r="3.9"/><circle cx="939" cy="892" r="3.9"/><circle cx="946" cy="885" r="3.9"/><circle cx="933" cy="887" r="3.9"/><circle cx="945" cy="887" r="3.9"/><circle cx="940" cy="888" r="3.9"/><circle cx="943" cy="890" r="3.9"/><circle cx="936" cy="891" r="3.9"/><circle cx="946" cy="898" r="3.9"/><circle cx="940" cy="894" r="3.9"/><circle cx="947" cy="894" r="3.9"/><circle cx="942" cy="895" r="3.9"/><circle cx="933" cy="892" r="3.9"/><circle cx="936" cy="891" r="3.9"/><circle cx="933" cy="888" r="3.9"/><circle cx="940" cy="896" r="3.9"/><circle cx="948" cy="902" r="3.9"/><circle cx="942" cy="896" r="3.9"/><circle cx="938" cy="886" r="3.9"/><circle cx="937" cy="894" r="3.9"/><circle cx="941" cy="886" r="3.9"/><circle cx="935" cy="894" r="3.9"/><circle cx="947" cy="890" r="3.9"/><circle cx="940" cy="899" r="3.9"/><circle cx="944" cy="894" r="3.9"/><circle cx="941" cy="896" r="3.9"/><circle cx="937" cy="886" r="3.9"/><circle cx="945" cy="894" r="3.9"/><circle cx="933" cy="900" r="3.9"/><circle cx="939" cy="890" r="3.9"/><circle cx="933" cy="887" r="3.9"/><circle cx="945" cy="894" r="3.9"/><circle cx="941" cy="891" r="3.9"/><circle cx="937" cy="896" r="3.9"/><circle cx="948" cy="886" r="3.9"/><circle cx="936" cy="895" r="3.9"/><circle cx="943" cy="896" r="3.9"/><circle cx="934" cy="890" r="3.9"/><circle cx="939" cy="885" r="3.9"/><circle cx="941" cy="887" r="3.9"/><circle cx="932" cy="912" r="3.9"/><circle cx="936" cy="764" r="3.9"/><circle cx="936" cy="778" r="3.9"/><circle cx="932" cy="784" r="3.9"/><circle cx="941" cy="792" r="3.9"/><circle cx="948" cy="793" r="3.9"/><circle cx="933" cy="799" r="3.9"/><circle cx="943" cy="803" r="3.9"/><circle cx="946" cy="808" r="3.9"/><circle cx="936" cy="809" r="3.9"/></g>
<g fill="#56b4e9"><circle cx="981" cy="862" r="3.9"/><circle cx="974" cy="869" r="3.9"/><circle cx="985" cy="844" r="3.9"/><circle cx="974" cy="858" r="3.9"/><circle cx="980" cy="872" r="3.9"/><circle cx="981" cy="855" r="3.9"/><circle cx="978" cy="835" r="3.9"/><circle cx="980" cy="838" r="3.9"/><circle cx="981" cy="839" r="3.9"/><circle cx="985" cy="866" r="3.9"/><circle cx="984" cy="841" r="3.9"/><circle cx="974" cy="861" r="3.9"/><circle cx="979" cy="871" r="3.9"/><circle cx="975" cy="855" r="3.9"/><circle cx="987" cy="842" r="3.9"/><circle cx="979" cy="840" r="3.9"/><circle cx="973" cy="870" r="3.9"/><circle cx="979" cy="864" r="3.9"/><circle cx="973" cy="868" r="3.9"/><circle cx="981" cy="865" r="3.9"/><circle cx="978" cy="839" r="3.9"/><circle cx="980" cy="846" r="3.9"/><circle cx="978" cy="836" r="3.9"/><circle cx="973" cy="829" r="3.9"/><circle cx="975" cy="837" r="3.9"/><circle cx="987" cy="857" r="3.9"/><circle cx="982" cy="832" r="3.9"/><circle cx="978" cy="870" r="3.9"/><circle cx="988" cy="868" r="3.9"/><circle cx="979" cy="857" r="3.9"/><circle cx="977" cy="856" r="3.9"/><circle cx="982" cy="854" r="3.9"/><circle cx="974" cy="839" r="3.9"/><circle cx="977" cy="851" r="3.9"/><circle cx="978" cy="845" r="3.9"/><circle cx="981" cy="853" r="3.9"/><circle cx="979" cy="844" r="3.9"/><circle cx="982" cy="856" r="3.9"/><circle cx="985" cy="856" r="3.9"/><circle cx="975" cy="844" r="3.9"/><circle cx="983" cy="860" r="3.9"/><circle cx="988" cy="860" r="3.9"/><circle cx="983" cy="855" r="3.9"/><circle cx="977" cy="854" r="3.9"/><circle cx="979" cy="843" r="3.9"/><circle cx="976" cy="870" r="3.9"/><circle cx="989" cy="842" r="3.9"/><circle cx="981" cy="832" r="3.9"/><circle cx="987" cy="840" r="3.9"/><circle cx="987" cy="839" r="3.9"/><circle cx="981" cy="859" r="3.9"/><circle cx="983" cy="868" r="3.9"/><circle cx="985" cy="849" r="3.9"/><circle cx="979" cy="846" r="3.9"/><circle cx="980" cy="864" r="3.9"/><circle cx="973" cy="842" r="3.9"/><circle cx="984" cy="833" r="3.9"/><circle cx="986" cy="844" r="3.9"/><circle cx="987" cy="839" r="3.9"/><circle cx="986" cy="866" r="3.9"/><circle cx="978" cy="853" r="3.9"/><circle cx="986" cy="869" r="3.9"/><circle cx="982" cy="867" r="3.9"/><circle cx="988" cy="871" r="3.9"/><circle cx="976" cy="848" r="3.9"/><circle cx="983" cy="855" r="3.9"/><circle cx="974" cy="854" r="3.9"/><circle cx="988" cy="852" r="3.9"/><circle cx="976" cy="842" r="3.9"/><circle cx="988" cy="847" r="3.9"/><circle cx="974" cy="841" r="3.9"/><circle cx="982" cy="836" r="3.9"/><circle cx="981" cy="850" r="3.9"/><circle cx="984" cy="841" r="3.9"/><circle cx="976" cy="849" r="3.9"/><circle cx="976" cy="853" r="3.9"/><circle cx="979" cy="866" r="3.9"/><circle cx="976" cy="852" r="3.9"/><circle cx="977" cy="835" r="3.9"/><circle cx="975" cy="853" r="3.9"/><circle cx="981" cy="855" r="3.9"/><circle cx="984" cy="832" r="3.9"/><circle cx="989" cy="869" r="3.9"/><circle cx="977" cy="836" r="3.9"/><circle cx="986" cy="832" r="3.9"/><circle cx="983" cy="842" r="3.9"/><circle cx="989" cy="834" r="3.9"/><circle cx="981" cy="834" r="3.9"/><circle cx="975" cy="860" r="3.9"/><circle cx="986" cy="835" r="3.9"/><circle cx="989" cy="835" r="3.9"/><circle cx="978" cy="839" r="3.9"/><circle cx="977" cy="855" r="3.9"/><circle cx="973" cy="864" r="3.9"/><circle cx="986" cy="870" r="3.9"/><circle cx="984" cy="834" r="3.9"/><circle cx="978" cy="834" r="3.9"/><circle cx="988" cy="855" r="3.9"/><circle cx="985" cy="862" r="3.9"/><circle cx="985" cy="871" r="3.9"/><circle cx="976" cy="844" r="3.9"/><circle cx="981" cy="855" r="3.9"/><circle cx="981" cy="839" r="3.9"/><circle cx="978" cy="858" r="3.9"/><circle cx="974" cy="864" r="3.9"/><circle cx="974" cy="847" r="3.9"/><circle cx="987" cy="837" r="3.9"/><circle cx="981" cy="838" r="3.9"/><circle cx="975" cy="855" r="3.9"/><circle cx="988" cy="846" r="3.9"/><circle cx="988" cy="843" r="3.9"/><circle cx="984" cy="866" r="3.9"/><circle cx="976" cy="860" r="3.9"/><circle cx="977" cy="846" r="3.9"/><circle cx="975" cy="868" r="3.9"/><circle cx="978" cy="846" r="3.9"/><circle cx="987" cy="846" r="3.9"/><circle cx="982" cy="854" r="3.9"/><circle cx="986" cy="848" r="3.9"/><circle cx="987" cy="839" r="3.9"/><circle cx="989" cy="829" r="3.9"/><circle cx="986" cy="851" r="3.9"/><circle cx="987" cy="835" r="3.9"/><circle cx="974" cy="862" r="3.9"/><circle cx="980" cy="841" r="3.9"/><circle cx="987" cy="855" r="3.9"/><circle cx="976" cy="854" r="3.9"/><circle cx="983" cy="831" r="3.9"/><circle cx="981" cy="855" r="3.9"/><circle cx="976" cy="868" r="3.9"/><circle cx="979" cy="853" r="3.9"/><circle cx="978" cy="847" r="3.9"/><circle cx="989" cy="845" r="3.9"/><circle cx="981" cy="840" r="3.9"/><circle cx="980" cy="841" r="3.9"/><circle cx="989" cy="869" r="3.9"/><circle cx="975" cy="862" r="3.9"/><circle cx="988" cy="858" r="3.9"/><circle cx="988" cy="840" r="3.9"/><circle cx="988" cy="863" r="3.9"/><circle cx="984" cy="849" r="3.9"/><circle cx="985" cy="870" r="3.9"/><circle cx="976" cy="830" r="3.9"/><circle cx="983" cy="831" r="3.9"/><circle cx="988" cy="866" r="3.9"/><circle cx="989" cy="834" r="3.9"/><circle cx="980" cy="831" r="3.9"/><circle cx="984" cy="834" r="3.9"/><circle cx="975" cy="837" r="3.9"/><circle cx="975" cy="866" r="3.9"/><circle cx="988" cy="859" r="3.9"/><circle cx="984" cy="847" r="3.9"/><circle cx="976" cy="837" r="3.9"/><circle cx="974" cy="833" r="3.9"/><circle cx="977" cy="853" r="3.9"/><circle cx="974" cy="853" r="3.9"/><circle cx="981" cy="842" r="3.9"/><circle cx="974" cy="846" r="3.9"/><circle cx="987" cy="861" r="3.9"/><circle cx="985" cy="842" r="3.9"/><circle cx="976" cy="862" r="3.9"/><circle cx="974" cy="849" r="3.9"/><circle cx="979" cy="837" r="3.9"/><circle cx="974" cy="842" r="3.9"/><circle cx="982" cy="850" r="3.9"/><circle cx="986" cy="856" r="3.9"/><circle cx="989" cy="838" r="3.9"/><circle cx="978" cy="844" r="3.9"/><circle cx="975" cy="841" r="3.9"/><circle cx="981" cy="845" r="3.9"/><circle cx="978" cy="862" r="3.9"/><circle cx="985" cy="869" r="3.9"/><circle cx="982" cy="854" r="3.9"/><circle cx="983" cy="869" r="3.9"/><circle cx="978" cy="866" r="3.9"/><circle cx="981" cy="862" r="3.9"/><circle cx="986" cy="841" r="3.9"/><circle cx="983" cy="848" r="3.9"/><circle cx="976" cy="845" r="3.9"/><circle cx="989" cy="843" r="3.9"/><circle cx="975" cy="858" r="3.9"/><circle cx="981" cy="855" r="3.9"/><circle cx="975" cy="851" r="3.9"/><circle cx="980" cy="853" r="3.9"/><circle cx="981" cy="853" r="3.9"/><circle cx="989" cy="834" r="3.9"/><circle cx="974" cy="844" r="3.9"/><circle cx="975" cy="830" r="3.9"/><circle cx="985" cy="865" r="3.9"/><circle cx="973" cy="837" r="3.9"/><circle cx="976" cy="845" r="3.9"/><circle cx="989" cy="832" r="3.9"/><circle cx="979" cy="852" r="3.9"/><circle cx="976" cy="843" r="3.9"/><circle cx="984" cy="858" r="3.9"/><circle cx="986" cy="859" r="3.9"/><circle cx="978" cy="835" r="3.9"/><circle cx="973" cy="858" r="3.9"/><circle cx="986" cy="859" r="3.9"/><circle cx="983" cy="846" r="3.9"/><circle cx="974" cy="848" r="3.9"/><circle cx="975" cy="841" r="3.9"/><circle cx="986" cy="854" r="3.9"/><circle cx="988" cy="866" r="3.9"/><circle cx="985" cy="869" r="3.9"/><circle cx="975" cy="861" r="3.9"/><circle cx="983" cy="852" r="3.9"/><circle cx="975" cy="850" r="3.9"/><circle cx="988" cy="860" r="3.9"/><circle cx="988" cy="862" r="3.9"/><circle cx="974" cy="846" r="3.9"/><circle cx="987" cy="860" r="3.9"/><circle cx="981" cy="848" r="3.9"/><circle cx="979" cy="845" r="3.9"/><circle cx="979" cy="849" r="3.9"/><circle cx="983" cy="835" r="3.9"/><circle cx="976" cy="856" r="3.9"/><circle cx="982" cy="850" r="3.9"/><circle cx="981" cy="844" r="3.9"/><circle cx="989" cy="842" r="3.9"/><circle cx="982" cy="842" r="3.9"/><circle cx="983" cy="842" r="3.9"/><circle cx="980" cy="831" r="3.9"/><circle cx="978" cy="848" r="3.9"/><circle cx="983" cy="862" r="3.9"/><circle cx="974" cy="843" r="3.9"/><circle cx="977" cy="849" r="3.9"/><circle cx="988" cy="869" r="3.9"/><circle cx="985" cy="869" r="3.9"/><circle cx="981" cy="855" r="3.9"/><circle cx="975" cy="860" r="3.9"/><circle cx="977" cy="853" r="3.9"/><circle cx="977" cy="851" r="3.9"/><circle cx="979" cy="867" r="3.9"/><circle cx="981" cy="862" r="3.9"/><circle cx="977" cy="850" r="3.9"/><circle cx="982" cy="842" r="3.9"/><circle cx="980" cy="829" r="3.9"/><circle cx="975" cy="843" r="3.9"/><circle cx="984" cy="854" r="3.9"/><circle cx="985" cy="833" r="3.9"/><circle cx="976" cy="869" r="3.9"/><circle cx="975" cy="836" r="3.9"/><circle cx="982" cy="849" r="3.9"/><circle cx="987" cy="866" r="3.9"/><circle cx="982" cy="848" r="3.9"/><circle cx="980" cy="871" r="3.9"/><circle cx="975" cy="850" r="3.9"/><circle cx="985" cy="858" r="3.9"/><circle cx="974" cy="864" r="3.9"/><circle cx="988" cy="861" r="3.9"/><circle cx="976" cy="868" r="3.9"/><circle cx="975" cy="829" r="3.9"/><circle cx="984" cy="859" r="3.9"/><circle cx="986" cy="852" r="3.9"/><circle cx="974" cy="830" r="3.9"/><circle cx="984" cy="862" r="3.9"/><circle cx="979" cy="862" r="3.9"/><circle cx="979" cy="848" r="3.9"/><circle cx="984" cy="858" r="3.9"/><circle cx="984" cy="835" r="3.9"/><circle cx="984" cy="862" r="3.9"/><circle cx="985" cy="856" r="3.9"/><circle cx="983" cy="839" r="3.9"/><circle cx="989" cy="871" r="3.9"/><circle cx="977" cy="857" r="3.9"/><circle cx="985" cy="849" r="3.9"/><circle cx="978" cy="844" r="3.9"/><circle cx="975" cy="863" r="3.9"/><circle cx="981" cy="872" r="3.9"/><circle cx="976" cy="871" r="3.9"/><circle cx="984" cy="852" r="3.9"/><circle cx="975" cy="831" r="3.9"/><circle cx="981" cy="834" r="3.9"/><circle cx="983" cy="839" r="3.9"/><circle cx="988" cy="857" r="3.9"/><circle cx="974" cy="866" r="3.9"/><circle cx="984" cy="838" r="3.9"/><circle cx="979" cy="858" r="3.9"/><circle cx="988" cy="846" r="3.9"/><circle cx="986" cy="869" r="3.9"/><circle cx="989" cy="855" r="3.9"/><circle cx="986" cy="832" r="3.9"/><circle cx="985" cy="866" r="3.9"/><circle cx="979" cy="865" r="3.9"/><circle cx="979" cy="865" r="3.9"/><circle cx="978" cy="853" r="3.9"/><circle cx="983" cy="834" r="3.9"/><circle cx="974" cy="844" r="3.9"/><circle cx="980" cy="856" r="3.9"/><circle cx="989" cy="869" r="3.9"/><circle cx="975" cy="859" r="3.9"/><circle cx="975" cy="831" r="3.9"/><circle cx="974" cy="867" r="3.9"/><circle cx="985" cy="851" r="3.9"/><circle cx="982" cy="856" r="3.9"/><circle cx="975" cy="849" r="3.9"/><circle cx="988" cy="830" r="3.9"/><circle cx="985" cy="832" r="3.9"/><circle cx="982" cy="836" r="3.9"/><circle cx="974" cy="831" r="3.9"/><circle cx="980" cy="871" r="3.9"/><circle cx="975" cy="848" r="3.9"/><circle cx="978" cy="844" r="3.9"/><circle cx="976" cy="846" r="3.9"/><circle cx="989" cy="835" r="3.9"/><circle cx="987" cy="863" r="3.9"/><circle cx="980" cy="859" r="3.9"/><circle cx="982" cy="872" r="3.9"/><circle cx="974" cy="861" r="3.9"/><circle cx="986" cy="857" r="3.9"/><circle cx="989" cy="831" r="3.9"/><circle cx="983" cy="861" r="3.9"/><circle cx="974" cy="852" r="3.9"/><circle cx="986" cy="858" r="3.9"/><circle cx="979" cy="864" r="3.9"/><circle cx="988" cy="839" r="3.9"/><circle cx="977" cy="864" r="3.9"/><circle cx="985" cy="847" r="3.9"/><circle cx="989" cy="871" r="3.9"/><circle cx="983" cy="845" r="3.9"/><circle cx="974" cy="829" r="3.9"/><circle cx="979" cy="847" r="3.9"/><circle cx="974" cy="838" r="3.9"/><circle cx="987" cy="861" r="3.9"/><circle cx="979" cy="833" r="3.9"/><circle cx="988" cy="868" r="3.9"/><circle cx="985" cy="858" r="3.9"/><circle cx="984" cy="840" r="3.9"/><circle cx="982" cy="829" r="3.9"/><circle cx="978" cy="837" r="3.9"/><circle cx="975" cy="860" r="3.9"/><circle cx="980" cy="842" r="3.9"/><circle cx="986" cy="856" r="3.9"/><circle cx="984" cy="868" r="3.9"/><circle cx="976" cy="848" r="3.9"/><circle cx="974" cy="860" r="3.9"/><circle cx="985" cy="830" r="3.9"/><circle cx="978" cy="832" r="3.9"/><circle cx="986" cy="855" r="3.9"/><circle cx="977" cy="859" r="3.9"/><circle cx="988" cy="867" r="3.9"/><circle cx="979" cy="830" r="3.9"/><circle cx="979" cy="840" r="3.9"/><circle cx="985" cy="843" r="3.9"/><circle cx="987" cy="841" r="3.9"/><circle cx="988" cy="869" r="3.9"/><circle cx="982" cy="830" r="3.9"/><circle cx="986" cy="866" r="3.9"/><circle cx="975" cy="860" r="3.9"/><circle cx="974" cy="842" r="3.9"/><circle cx="978" cy="835" r="3.9"/><circle cx="983" cy="871" r="3.9"/><circle cx="981" cy="870" r="3.9"/><circle cx="977" cy="834" r="3.9"/><circle cx="977" cy="864" r="3.9"/><circle cx="978" cy="844" r="3.9"/><circle cx="987" cy="855" r="3.9"/><circle cx="979" cy="866" r="3.9"/><circle cx="975" cy="837" r="3.9"/><circle cx="983" cy="850" r="3.9"/><circle cx="984" cy="864" r="3.9"/><circle cx="984" cy="836" r="3.9"/><circle cx="985" cy="839" r="3.9"/><circle cx="974" cy="841" r="3.9"/><circle cx="979" cy="850" r="3.9"/><circle cx="975" cy="856" r="3.9"/><circle cx="979" cy="872" r="3.9"/><circle cx="981" cy="865" r="3.9"/><circle cx="986" cy="855" r="3.9"/><circle cx="984" cy="832" r="3.9"/><circle cx="988" cy="871" r="3.9"/><circle cx="988" cy="832" r="3.9"/><circle cx="976" cy="842" r="3.9"/><circle cx="976" cy="840" r="3.9"/><circle cx="974" cy="854" r="3.9"/><circle cx="987" cy="843" r="3.9"/><circle cx="987" cy="866" r="3.9"/><circle cx="982" cy="866" r="3.9"/><circle cx="977" cy="855" r="3.9"/><circle cx="983" cy="829" r="3.9"/><circle cx="989" cy="840" r="3.9"/><circle cx="981" cy="863" r="3.9"/><circle cx="981" cy="834" r="3.9"/><circle cx="989" cy="866" r="3.9"/><circle cx="981" cy="843" r="3.9"/><circle cx="973" cy="842" r="3.9"/><circle cx="989" cy="861" r="3.9"/><circle cx="975" cy="857" r="3.9"/><circle cx="974" cy="850" r="3.9"/><circle cx="989" cy="830" r="3.9"/><circle cx="981" cy="871" r="3.9"/><circle cx="974" cy="848" r="3.9"/><circle cx="986" cy="865" r="3.9"/><circle cx="982" cy="854" r="3.9"/><circle cx="982" cy="858" r="3.9"/><circle cx="989" cy="857" r="3.9"/><circle cx="977" cy="839" r="3.9"/><circle cx="981" cy="858" r="3.9"/><circle cx="986" cy="840" r="3.9"/><circle cx="976" cy="833" r="3.9"/><circle cx="985" cy="830" r="3.9"/><circle cx="973" cy="848" r="3.9"/><circle cx="986" cy="871" r="3.9"/><circle cx="977" cy="844" r="3.9"/><circle cx="975" cy="874" r="3.9"/><circle cx="976" cy="887" r="3.9"/><circle cx="985" cy="884" r="3.9"/><circle cx="986" cy="875" r="3.9"/><circle cx="989" cy="881" r="3.9"/><circle cx="977" cy="887" r="3.9"/><circle cx="977" cy="872" r="3.9"/><circle cx="985" cy="874" r="3.9"/><circle cx="989" cy="888" r="3.9"/><circle cx="978" cy="894" r="3.9"/><circle cx="983" cy="881" r="3.9"/><circle cx="978" cy="890" r="3.9"/><circle cx="983" cy="876" r="3.9"/><circle cx="978" cy="876" r="3.9"/><circle cx="978" cy="892" r="3.9"/><circle cx="982" cy="883" r="3.9"/><circle cx="985" cy="873" r="3.9"/><circle cx="983" cy="886" r="3.9"/><circle cx="974" cy="892" r="3.9"/><circle cx="981" cy="872" r="3.9"/><circle cx="989" cy="878" r="3.9"/><circle cx="987" cy="895" r="3.9"/><circle cx="973" cy="876" r="3.9"/><circle cx="981" cy="876" r="3.9"/><circle cx="985" cy="877" r="3.9"/><circle cx="981" cy="878" r="3.9"/><circle cx="986" cy="881" r="3.9"/><circle cx="979" cy="889" r="3.9"/><circle cx="980" cy="897" r="3.9"/><circle cx="975" cy="873" r="3.9"/><circle cx="984" cy="890" r="3.9"/><circle cx="974" cy="877" r="3.9"/><circle cx="985" cy="885" r="3.9"/><circle cx="982" cy="884" r="3.9"/><circle cx="987" cy="881" r="3.9"/><circle cx="979" cy="875" r="3.9"/><circle cx="978" cy="887" r="3.9"/><circle cx="987" cy="877" r="3.9"/><circle cx="977" cy="895" r="3.9"/><circle cx="974" cy="878" r="3.9"/><circle cx="980" cy="884" r="3.9"/><circle cx="973" cy="884" r="3.9"/><circle cx="973" cy="875" r="3.9"/><circle cx="980" cy="886" r="3.9"/><circle cx="976" cy="883" r="3.9"/><circle cx="973" cy="874" r="3.9"/><circle cx="978" cy="873" r="3.9"/><circle cx="986" cy="881" r="3.9"/><circle cx="987" cy="879" r="3.9"/><circle cx="982" cy="872" r="3.9"/><circle cx="988" cy="877" r="3.9"/><circle cx="983" cy="889" r="3.9"/><circle cx="980" cy="877" r="3.9"/><circle cx="985" cy="887" r="3.9"/><circle cx="988" cy="878" r="3.9"/><circle cx="977" cy="786" r="3.9"/><circle cx="974" cy="800" r="3.9"/><circle cx="983" cy="798" r="3.9"/><circle cx="985" cy="806" r="3.9"/><circle cx="990" cy="809" r="3.9"/><circle cx="976" cy="811" r="3.9"/><circle cx="981" cy="814" r="3.9"/><circle cx="988" cy="814" r="3.9"/></g>
<g fill="#009e73"><circle cx="1042" cy="756" r="3.9"/><circle cx="1046" cy="757" r="3.9"/><circle cx="1050" cy="757" r="3.9"/><circle cx="1040" cy="758" r="3.9"/><circle cx="1049" cy="759" r="3.9"/><circle cx="1038" cy="755" r="3.9"/><circle cx="1050" cy="755" r="3.9"/><circle cx="1039" cy="749" r="3.9"/><circle cx="1048" cy="748" r="3.9"/><circle cx="1042" cy="755" r="3.9"/><circle cx="1039" cy="755" r="3.9"/><circle cx="1048" cy="750" r="3.9"/><circle cx="1042" cy="757" r="3.9"/><circle cx="1046" cy="757" r="3.9"/><circle cx="1041" cy="754" r="3.9"/><circle cx="1052" cy="756" r="3.9"/><circle cx="1041" cy="756" r="3.9"/><circle cx="1038" cy="757" r="3.9"/><circle cx="1052" cy="798" r="3.9"/><circle cx="1036" cy="809" r="3.9"/><circle cx="1039" cy="762" r="3.9"/><circle cx="1041" cy="791" r="3.9"/><circle cx="1036" cy="817" r="3.9"/><circle cx="1043" cy="761" r="3.9"/><circle cx="1048" cy="817" r="3.9"/><circle cx="1037" cy="769" r="3.9"/><circle cx="1038" cy="781" r="3.9"/><circle cx="1043" cy="762" r="3.9"/><circle cx="1052" cy="804" r="3.9"/><circle cx="1041" cy="797" r="3.9"/><circle cx="1044" cy="806" r="3.9"/><circle cx="1040" cy="815" r="3.9"/><circle cx="1048" cy="796" r="3.9"/><circle cx="1046" cy="798" r="3.9"/><circle cx="1037" cy="812" r="3.9"/><circle cx="1044" cy="771" r="3.9"/><circle cx="1042" cy="802" r="3.9"/><circle cx="1049" cy="773" r="3.9"/><circle cx="1043" cy="817" r="3.9"/><circle cx="1037" cy="783" r="3.9"/><circle cx="1052" cy="802" r="3.9"/><circle cx="1045" cy="786" r="3.9"/><circle cx="1037" cy="804" r="3.9"/><circle cx="1042" cy="764" r="3.9"/><circle cx="1052" cy="765" r="3.9"/><circle cx="1044" cy="800" r="3.9"/><circle cx="1045" cy="783" r="3.9"/><circle cx="1048" cy="774" r="3.9"/><circle cx="1048" cy="784" r="3.9"/><circle cx="1052" cy="809" r="3.9"/><circle cx="1040" cy="812" r="3.9"/><circle cx="1044" cy="780" r="3.9"/><circle cx="1039" cy="770" r="3.9"/><circle cx="1037" cy="773" r="3.9"/><circle cx="1043" cy="800" r="3.9"/><circle cx="1051" cy="800" r="3.9"/><circle cx="1052" cy="815" r="3.9"/><circle cx="1051" cy="777" r="3.9"/><circle cx="1037" cy="794" r="3.9"/><circle cx="1042" cy="817" r="3.9"/><circle cx="1037" cy="815" r="3.9"/><circle cx="1041" cy="799" r="3.9"/><circle cx="1048" cy="788" r="3.9"/><circle cx="1049" cy="809" r="3.9"/><circle cx="1038" cy="807" r="3.9"/><circle cx="1053" cy="808" r="3.9"/><circle cx="1046" cy="795" r="3.9"/><circle cx="1038" cy="793" r="3.9"/><circle cx="1041" cy="774" r="3.9"/><circle cx="1052" cy="775" r="3.9"/><circle cx="1039" cy="810" r="3.9"/><circle cx="1045" cy="811" r="3.9"/><circle cx="1039" cy="812" r="3.9"/><circle cx="1043" cy="811" r="3.9"/><circle cx="1046" cy="780" r="3.9"/><circle cx="1042" cy="766" r="3.9"/><circle cx="1045" cy="764" r="3.9"/><circle cx="1051" cy="775" r="3.9"/><circle cx="1042" cy="782" r="3.9"/><circle cx="1044" cy="814" r="3.9"/><circle cx="1037" cy="780" r="3.9"/><circle cx="1045" cy="790" r="3.9"/><circle cx="1051" cy="791" r="3.9"/><circle cx="1047" cy="799" r="3.9"/><circle cx="1042" cy="786" r="3.9"/><circle cx="1040" cy="767" r="3.9"/><circle cx="1052" cy="799" r="3.9"/><circle cx="1038" cy="809" r="3.9"/><circle cx="1043" cy="784" r="3.9"/><circle cx="1049" cy="777" r="3.9"/><circle cx="1048" cy="805" r="3.9"/><circle cx="1047" cy="770" r="3.9"/><circle cx="1038" cy="804" r="3.9"/><circle cx="1046" cy="781" r="3.9"/><circle cx="1052" cy="792" r="3.9"/><circle cx="1053" cy="771" r="3.9"/><circle cx="1050" cy="817" r="3.9"/><circle cx="1039" cy="772" r="3.9"/><circle cx="1044" cy="779" r="3.9"/><circle cx="1046" cy="766" r="3.9"/><circle cx="1037" cy="766" r="3.9"/><circle cx="1038" cy="780" r="3.9"/><circle cx="1049" cy="794" r="3.9"/><circle cx="1039" cy="795" r="3.9"/><circle cx="1053" cy="816" r="3.9"/><circle cx="1038" cy="800" r="3.9"/><circle cx="1038" cy="810" r="3.9"/><circle cx="1042" cy="797" r="3.9"/><circle cx="1051" cy="786" r="3.9"/><circle cx="1041" cy="763" r="3.9"/><circle cx="1047" cy="799" r="3.9"/><circle cx="1047" cy="765" r="3.9"/><circle cx="1042" cy="776" r="3.9"/><circle cx="1039" cy="766" r="3.9"/><circle cx="1040" cy="810" r="3.9"/><circle cx="1051" cy="795" r="3.9"/><circle cx="1042" cy="779" r="3.9"/><circle cx="1051" cy="768" r="3.9"/><circle cx="1038" cy="815" r="3.9"/><circle cx="1041" cy="815" r="3.9"/><circle cx="1041" cy="766" r="3.9"/><circle cx="1042" cy="810" r="3.9"/><circle cx="1050" cy="795" r="3.9"/><circle cx="1045" cy="786" r="3.9"/><circle cx="1042" cy="814" r="3.9"/><circle cx="1043" cy="766" r="3.9"/><circle cx="1046" cy="782" r="3.9"/><circle cx="1041" cy="815" r="3.9"/><circle cx="1047" cy="787" r="3.9"/><circle cx="1052" cy="771" r="3.9"/><circle cx="1039" cy="816" r="3.9"/><circle cx="1038" cy="803" r="3.9"/><circle cx="1041" cy="766" r="3.9"/><circle cx="1052" cy="802" r="3.9"/><circle cx="1042" cy="772" r="3.9"/><circle cx="1048" cy="804" r="3.9"/><circle cx="1041" cy="762" r="3.9"/><circle cx="1042" cy="792" r="3.9"/><circle cx="1041" cy="805" r="3.9"/><circle cx="1044" cy="773" r="3.9"/><circle cx="1045" cy="768" r="3.9"/><circle cx="1048" cy="817" r="3.9"/><circle cx="1040" cy="770" r="3.9"/><circle cx="1046" cy="774" r="3.9"/><circle cx="1038" cy="789" r="3.9"/><circle cx="1039" cy="799" r="3.9"/><circle cx="1045" cy="773" r="3.9"/><circle cx="1051" cy="792" r="3.9"/><circle cx="1049" cy="806" r="3.9"/><circle cx="1040" cy="773" r="3.9"/><circle cx="1041" cy="790" r="3.9"/><circle cx="1048" cy="767" r="3.9"/><circle cx="1041" cy="761" r="3.9"/><circle cx="1049" cy="814" r="3.9"/><circle cx="1046" cy="794" r="3.9"/><circle cx="1043" cy="779" r="3.9"/><circle cx="1042" cy="760" r="3.9"/><circle cx="1040" cy="788" r="3.9"/><circle cx="1042" cy="796" r="3.9"/><circle cx="1039" cy="782" r="3.9"/><circle cx="1052" cy="773" r="3.9"/><circle cx="1053" cy="760" r="3.9"/><circle cx="1052" cy="816" r="3.9"/><circle cx="1051" cy="818" r="3.9"/><circle cx="1052" cy="789" r="3.9"/><circle cx="1050" cy="770" r="3.9"/><circle cx="1050" cy="770" r="3.9"/><circle cx="1050" cy="805" r="3.9"/><circle cx="1048" cy="805" r="3.9"/><circle cx="1042" cy="807" r="3.9"/><circle cx="1052" cy="797" r="3.9"/><circle cx="1048" cy="774" r="3.9"/><circle cx="1043" cy="801" r="3.9"/><circle cx="1046" cy="792" r="3.9"/><circle cx="1038" cy="761" r="3.9"/><circle cx="1044" cy="808" r="3.9"/><circle cx="1053" cy="768" r="3.9"/><circle cx="1052" cy="776" r="3.9"/><circle cx="1052" cy="784" r="3.9"/><circle cx="1050" cy="793" r="3.9"/><circle cx="1047" cy="764" r="3.9"/><circle cx="1038" cy="813" r="3.9"/><circle cx="1037" cy="796" r="3.9"/><circle cx="1052" cy="797" r="3.9"/><circle cx="1046" cy="801" r="3.9"/><circle cx="1049" cy="777" r="3.9"/><circle cx="1038" cy="778" r="3.9"/><circle cx="1047" cy="773" r="3.9"/><circle cx="1042" cy="787" r="3.9"/><circle cx="1042" cy="798" r="3.9"/><circle cx="1052" cy="791" r="3.9"/><circle cx="1049" cy="773" r="3.9"/><circle cx="1051" cy="810" r="3.9"/><circle cx="1038" cy="761" r="3.9"/><circle cx="1043" cy="774" r="3.9"/><circle cx="1036" cy="769" r="3.9"/><circle cx="1050" cy="788" r="3.9"/><circle cx="1047" cy="789" r="3.9"/><circle cx="1038" cy="817" r="3.9"/><circle cx="1052" cy="786" r="3.9"/><circle cx="1052" cy="799" r="3.9"/><circle cx="1043" cy="767" r="3.9"/><circle cx="1053" cy="762" r="3.9"/><circle cx="1043" cy="779" r="3.9"/><circle cx="1048" cy="782" r="3.9"/><circle cx="1037" cy="783" r="3.9"/><circle cx="1037" cy="794" r="3.9"/><circle cx="1052" cy="799" r="3.9"/><circle cx="1052" cy="793" r="3.9"/><circle cx="1045" cy="793" r="3.9"/><circle cx="1037" cy="778" r="3.9"/><circle cx="1044" cy="791" r="3.9"/><circle cx="1051" cy="801" r="3.9"/><circle cx="1042" cy="817" r="3.9"/><circle cx="1046" cy="764" r="3.9"/><circle cx="1045" cy="777" r="3.9"/><circle cx="1043" cy="795" r="3.9"/><circle cx="1050" cy="802" r="3.9"/><circle cx="1052" cy="793" r="3.9"/><circle cx="1038" cy="794" r="3.9"/><circle cx="1051" cy="779" r="3.9"/><circle cx="1052" cy="764" r="3.9"/><circle cx="1046" cy="773" r="3.9"/><circle cx="1046" cy="774" r="3.9"/><circle cx="1045" cy="771" r="3.9"/><circle cx="1052" cy="813" r="3.9"/><circle cx="1045" cy="770" r="3.9"/><circle cx="1045" cy="772" r="3.9"/><circle cx="1052" cy="809" r="3.9"/><circle cx="1038" cy="768" r="3.9"/><circle cx="1047" cy="775" r="3.9"/><circle cx="1038" cy="770" r="3.9"/><circle cx="1037" cy="810" r="3.9"/><circle cx="1038" cy="764" r="3.9"/><circle cx="1041" cy="762" r="3.9"/><circle cx="1049" cy="804" r="3.9"/><circle cx="1045" cy="817" r="3.9"/><circle cx="1052" cy="794" r="3.9"/><circle cx="1039" cy="803" r="3.9"/><circle cx="1036" cy="815" r="3.9"/><circle cx="1049" cy="799" r="3.9"/><circle cx="1038" cy="807" r="3.9"/><circle cx="1049" cy="815" r="3.9"/><circle cx="1043" cy="782" r="3.9"/><circle cx="1051" cy="785" r="3.9"/><circle cx="1047" cy="804" r="3.9"/><circle cx="1040" cy="793" r="3.9"/><circle cx="1050" cy="817" r="3.9"/><circle cx="1040" cy="780" r="3.9"/><circle cx="1044" cy="770" r="3.9"/><circle cx="1036" cy="798" r="3.9"/><circle cx="1049" cy="784" r="3.9"/><circle cx="1038" cy="783" r="3.9"/><circle cx="1038" cy="796" r="3.9"/><circle cx="1037" cy="776" r="3.9"/><circle cx="1037" cy="789" r="3.9"/><circle cx="1051" cy="800" r="3.9"/><circle cx="1038" cy="768" r="3.9"/><circle cx="1047" cy="765" r="3.9"/><circle cx="1046" cy="762" r="3.9"/><circle cx="1038" cy="811" r="3.9"/><circle cx="1043" cy="779" r="3.9"/><circle cx="1037" cy="802" r="3.9"/><circle cx="1045" cy="801" r="3.9"/><circle cx="1038" cy="782" r="3.9"/><circle cx="1041" cy="760" r="3.9"/><circle cx="1043" cy="791" r="3.9"/><circle cx="1044" cy="802" r="3.9"/><circle cx="1044" cy="787" r="3.9"/><circle cx="1039" cy="783" r="3.9"/><circle cx="1040" cy="785" r="3.9"/><circle cx="1047" cy="788" r="3.9"/><circle cx="1040" cy="804" r="3.9"/><circle cx="1038" cy="808" r="3.9"/><circle cx="1051" cy="772" r="3.9"/><circle cx="1039" cy="792" r="3.9"/><circle cx="1037" cy="790" r="3.9"/><circle cx="1044" cy="806" r="3.9"/><circle cx="1039" cy="803" r="3.9"/><circle cx="1037" cy="790" r="3.9"/><circle cx="1043" cy="782" r="3.9"/><circle cx="1044" cy="779" r="3.9"/><circle cx="1048" cy="799" r="3.9"/><circle cx="1036" cy="785" r="3.9"/><circle cx="1041" cy="798" r="3.9"/><circle cx="1050" cy="805" r="3.9"/><circle cx="1051" cy="814" r="3.9"/><circle cx="1045" cy="761" r="3.9"/><circle cx="1048" cy="854" r="3.9"/><circle cx="1051" cy="845" r="3.9"/><circle cx="1038" cy="846" r="3.9"/><circle cx="1039" cy="843" r="3.9"/><circle cx="1039" cy="853" r="3.9"/><circle cx="1052" cy="853" r="3.9"/><circle cx="1046" cy="854" r="3.9"/><circle cx="1051" cy="845" r="3.9"/><circle cx="1042" cy="843" r="3.9"/><circle cx="1039" cy="853" r="3.9"/><circle cx="1042" cy="845" r="3.9"/><circle cx="1050" cy="848" r="3.9"/><circle cx="1037" cy="849" r="3.9"/><circle cx="1038" cy="846" r="3.9"/><circle cx="1040" cy="852" r="3.9"/><circle cx="1046" cy="846" r="3.9"/><circle cx="1049" cy="854" r="3.9"/><circle cx="1043" cy="850" r="3.9"/><circle cx="1039" cy="855" r="3.9"/><circle cx="1038" cy="849" r="3.9"/><circle cx="1043" cy="839" r="3.9"/><circle cx="1038" cy="845" r="3.9"/><circle cx="1039" cy="847" r="3.9"/><circle cx="1053" cy="851" r="3.9"/><circle cx="1051" cy="846" r="3.9"/><circle cx="1039" cy="838" r="3.9"/><circle cx="1046" cy="845" r="3.9"/><circle cx="1047" cy="843" r="3.9"/><circle cx="1041" cy="849" r="3.9"/><circle cx="1051" cy="846" r="3.9"/><circle cx="1049" cy="837" r="3.9"/><circle cx="1045" cy="854" r="3.9"/><circle cx="1037" cy="852" r="3.9"/><circle cx="1043" cy="839" r="3.9"/><circle cx="1047" cy="856" r="3.9"/><circle cx="1042" cy="840" r="3.9"/><circle cx="1045" cy="838" r="3.9"/><circle cx="1052" cy="849" r="3.9"/><circle cx="1044" cy="838" r="3.9"/><circle cx="1042" cy="837" r="3.9"/><circle cx="1038" cy="846" r="3.9"/><circle cx="1041" cy="846" r="3.9"/><circle cx="1047" cy="838" r="3.9"/><circle cx="1052" cy="849" r="3.9"/><circle cx="1045" cy="838" r="3.9"/><circle cx="1052" cy="844" r="3.9"/><circle cx="1040" cy="850" r="3.9"/><circle cx="1044" cy="841" r="3.9"/><circle cx="1038" cy="854" r="3.9"/><circle cx="1050" cy="855" r="3.9"/><circle cx="1047" cy="845" r="3.9"/><circle cx="1051" cy="838" r="3.9"/><circle cx="1044" cy="853" r="3.9"/><circle cx="1045" cy="852" r="3.9"/><circle cx="1049" cy="843" r="3.9"/><circle cx="1052" cy="838" r="3.9"/><circle cx="1049" cy="837" r="3.9"/><circle cx="1038" cy="838" r="3.9"/><circle cx="1039" cy="848" r="3.9"/><circle cx="1043" cy="848" r="3.9"/><circle cx="1051" cy="862" r="3.9"/><circle cx="1037" cy="878" r="3.9"/><circle cx="1052" cy="882" r="3.9"/><circle cx="1051" cy="866" r="3.9"/><circle cx="1038" cy="879" r="3.9"/><circle cx="1052" cy="862" r="3.9"/><circle cx="1039" cy="857" r="3.9"/><circle cx="1043" cy="860" r="3.9"/><circle cx="1042" cy="862" r="3.9"/><circle cx="1049" cy="863" r="3.9"/><circle cx="1039" cy="868" r="3.9"/><circle cx="1044" cy="857" r="3.9"/><circle cx="1044" cy="861" r="3.9"/><circle cx="1040" cy="878" r="3.9"/><circle cx="1053" cy="865" r="3.9"/><circle cx="1051" cy="864" r="3.9"/><circle cx="1051" cy="866" r="3.9"/><circle cx="1041" cy="862" r="3.9"/><circle cx="1051" cy="876" r="3.9"/><circle cx="1052" cy="879" r="3.9"/><circle cx="1040" cy="856" r="3.9"/><circle cx="1048" cy="867" r="3.9"/><circle cx="1044" cy="731" r="3.9"/><circle cx="1042" cy="896" r="3.9"/><circle cx="1051" cy="902" r="3.9"/></g>
<g fill="#000000"><circle cx="1083" cy="765" r="3.9"/><circle cx="1090" cy="778" r="3.9"/><circle cx="1080" cy="767" r="3.9"/><circle cx="1083" cy="766" r="3.9"/><circle cx="1090" cy="759" r="3.9"/><circle cx="1083" cy="778" r="3.9"/><circle cx="1079" cy="769" r="3.9"/><circle cx="1094" cy="782" r="3.9"/><circle cx="1089" cy="778" r="3.9"/><circle cx="1088" cy="769" r="3.9"/><circle cx="1078" cy="771" r="3.9"/><circle cx="1078" cy="761" r="3.9"/><circle cx="1086" cy="781" r="3.9"/><circle cx="1084" cy="771" r="3.9"/><circle cx="1080" cy="774" r="3.9"/><circle cx="1093" cy="783" r="3.9"/><circle cx="1079" cy="765" r="3.9"/><circle cx="1085" cy="770" r="3.9"/><circle cx="1093" cy="776" r="3.9"/><circle cx="1088" cy="763" r="3.9"/><circle cx="1089" cy="771" r="3.9"/><circle cx="1089" cy="759" r="3.9"/><circle cx="1084" cy="792" r="3.9"/><circle cx="1084" cy="797" r="3.9"/><circle cx="1091" cy="797" r="3.9"/><circle cx="1081" cy="796" r="3.9"/><circle cx="1087" cy="784" r="3.9"/><circle cx="1087" cy="798" r="3.9"/><circle cx="1088" cy="801" r="3.9"/><circle cx="1090" cy="785" r="3.9"/><circle cx="1083" cy="790" r="3.9"/><circle cx="1088" cy="807" r="3.9"/><circle cx="1084" cy="804" r="3.9"/><circle cx="1078" cy="790" r="3.9"/><circle cx="1087" cy="807" r="3.9"/><circle cx="1090" cy="807" r="3.9"/><circle cx="1094" cy="790" r="3.9"/><circle cx="1093" cy="787" r="3.9"/><circle cx="1087" cy="788" r="3.9"/><circle cx="1080" cy="792" r="3.9"/><circle cx="1089" cy="802" r="3.9"/><circle cx="1080" cy="792" r="3.9"/><circle cx="1094" cy="799" r="3.9"/><circle cx="1091" cy="810" r="3.9"/><circle cx="1080" cy="784" r="3.9"/><circle cx="1091" cy="805" r="3.9"/><circle cx="1083" cy="805" r="3.9"/><circle cx="1089" cy="792" r="3.9"/><circle cx="1089" cy="804" r="3.9"/><circle cx="1086" cy="798" r="3.9"/><circle cx="1081" cy="785" r="3.9"/><circle cx="1079" cy="804" r="3.9"/><circle cx="1094" cy="805" r="3.9"/><circle cx="1092" cy="796" r="3.9"/><circle cx="1079" cy="808" r="3.9"/><circle cx="1087" cy="799" r="3.9"/><circle cx="1090" cy="789" r="3.9"/><circle cx="1093" cy="798" r="3.9"/><circle cx="1088" cy="792" r="3.9"/><circle cx="1087" cy="809" r="3.9"/><circle cx="1081" cy="789" r="3.9"/><circle cx="1089" cy="802" r="3.9"/><circle cx="1086" cy="803" r="3.9"/><circle cx="1087" cy="789" r="3.9"/><circle cx="1083" cy="791" r="3.9"/><circle cx="1084" cy="787" r="3.9"/><circle cx="1093" cy="792" r="3.9"/><circle cx="1081" cy="786" r="3.9"/><circle cx="1086" cy="785" r="3.9"/><circle cx="1085" cy="787" r="3.9"/><circle cx="1086" cy="787" r="3.9"/><circle cx="1082" cy="809" r="3.9"/><circle cx="1078" cy="797" r="3.9"/><circle cx="1091" cy="804" r="3.9"/><circle cx="1080" cy="791" r="3.9"/><circle cx="1087" cy="803" r="3.9"/><circle cx="1093" cy="798" r="3.9"/><circle cx="1080" cy="784" r="3.9"/><circle cx="1087" cy="807" r="3.9"/><circle cx="1082" cy="802" r="3.9"/><circle cx="1090" cy="783" r="3.9"/><circle cx="1081" cy="796" r="3.9"/><circle cx="1083" cy="842" r="3.9"/><circle cx="1092" cy="842" r="3.9"/><circle cx="1087" cy="847" r="3.9"/><circle cx="1078" cy="852" r="3.9"/><circle cx="1086" cy="853" r="3.9"/><circle cx="1078" cy="862" r="3.9"/><circle cx="1088" cy="863" r="3.9"/><circle cx="1082" cy="875" r="3.9"/><circle cx="1093" cy="876" r="3.9"/><circle cx="1082" cy="881" r="3.9"/><circle cx="1084" cy="884" r="3.9"/><circle cx="1093" cy="886" r="3.9"/><circle cx="1086" cy="858" r="3.9"/><circle cx="1080" cy="856" r="3.9"/></g>
<g fill="#999999"><circle cx="1123" cy="769" r="3.9"/><circle cx="1130" cy="770" r="3.9"/><circle cx="1129" cy="787" r="3.9"/><circle cx="1120" cy="772" r="3.9"/><circle cx="1121" cy="777" r="3.9"/><circle cx="1132" cy="782" r="3.9"/><circle cx="1124" cy="773" r="3.9"/><circle cx="1128" cy="778" r="3.9"/><circle cx="1120" cy="785" r="3.9"/><circle cx="1133" cy="782" r="3.9"/><circle cx="1121" cy="778" r="3.9"/><circle cx="1122" cy="786" r="3.9"/><circle cx="1122" cy="769" r="3.9"/><circle cx="1128" cy="777" r="3.9"/><circle cx="1127" cy="782" r="3.9"/><circle cx="1128" cy="798" r="3.9"/><circle cx="1134" cy="792" r="3.9"/><circle cx="1128" cy="789" r="3.9"/><circle cx="1132" cy="792" r="3.9"/><circle cx="1129" cy="805" r="3.9"/><circle cx="1121" cy="789" r="3.9"/><circle cx="1128" cy="803" r="3.9"/><circle cx="1122" cy="796" r="3.9"/><circle cx="1135" cy="804" r="3.9"/><circle cx="1122" cy="803" r="3.9"/><circle cx="1124" cy="788" r="3.9"/><circle cx="1119" cy="808" r="3.9"/><circle cx="1135" cy="793" r="3.9"/><circle cx="1131" cy="807" r="3.9"/><circle cx="1122" cy="812" r="3.9"/><circle cx="1134" cy="788" r="3.9"/><circle cx="1123" cy="806" r="3.9"/><circle cx="1126" cy="790" r="3.9"/><circle cx="1120" cy="810" r="3.9"/><circle cx="1135" cy="799" r="3.9"/><circle cx="1132" cy="804" r="3.9"/><circle cx="1136" cy="795" r="3.9"/><circle cx="1127" cy="803" r="3.9"/><circle cx="1135" cy="811" r="3.9"/><circle cx="1132" cy="801" r="3.9"/><circle cx="1125" cy="812" r="3.9"/><circle cx="1132" cy="812" r="3.9"/><circle cx="1124" cy="799" r="3.9"/><circle cx="1127" cy="798" r="3.9"/><circle cx="1134" cy="800" r="3.9"/><circle cx="1131" cy="800" r="3.9"/><circle cx="1134" cy="809" r="3.9"/><circle cx="1124" cy="813" r="3.9"/><circle cx="1133" cy="808" r="3.9"/><circle cx="1131" cy="798" r="3.9"/><circle cx="1122" cy="790" r="3.9"/><circle cx="1125" cy="803" r="3.9"/><circle cx="1134" cy="797" r="3.9"/><circle cx="1131" cy="802" r="3.9"/><circle cx="1134" cy="811" r="3.9"/><circle cx="1119" cy="806" r="3.9"/><circle cx="1124" cy="811" r="3.9"/><circle cx="1120" cy="797" r="3.9"/><circle cx="1120" cy="803" r="3.9"/><circle cx="1120" cy="789" r="3.9"/><circle cx="1129" cy="791" r="3.9"/><circle cx="1119" cy="810" r="3.9"/><circle cx="1133" cy="800" r="3.9"/><circle cx="1133" cy="802" r="3.9"/><circle cx="1134" cy="790" r="3.9"/><circle cx="1120" cy="855" r="3.9"/><circle cx="1124" cy="852" r="3.9"/><circle cx="1132" cy="851" r="3.9"/><circle cx="1124" cy="863" r="3.9"/><circle cx="1126" cy="849" r="3.9"/><circle cx="1128" cy="838" r="3.9"/><circle cx="1128" cy="854" r="3.9"/><circle cx="1122" cy="856" r="3.9"/><circle cx="1127" cy="863" r="3.9"/><circle cx="1125" cy="839" r="3.9"/><circle cx="1134" cy="845" r="3.9"/><circle cx="1135" cy="855" r="3.9"/><circle cx="1125" cy="851" r="3.9"/><circle cx="1132" cy="861" r="3.9"/><circle cx="1121" cy="870" r="3.9"/><circle cx="1121" cy="874" r="3.9"/><circle cx="1124" cy="870" r="3.9"/><circle cx="1130" cy="883" r="3.9"/><circle cx="1123" cy="874" r="3.9"/></g>
<g fill="#d55e00"><circle cx="1168" cy="779" r="3.9"/><circle cx="1166" cy="763" r="3.9"/><circle cx="1166" cy="794" r="3.9"/><circle cx="1169" cy="795" r="3.9"/><circle cx="1161" cy="764" r="3.9"/><circle cx="1176" cy="761" r="3.9"/><circle cx="1170" cy="763" r="3.9"/><circle cx="1163" cy="776" r="3.9"/><circle cx="1175" cy="779" r="3.9"/><circle cx="1161" cy="765" r="3.9"/><circle cx="1177" cy="788" r="3.9"/><circle cx="1169" cy="769" r="3.9"/><circle cx="1166" cy="757" r="3.9"/><circle cx="1165" cy="791" r="3.9"/><circle cx="1167" cy="791" r="3.9"/><circle cx="1177" cy="784" r="3.9"/><circle cx="1166" cy="774" r="3.9"/><circle cx="1163" cy="765" r="3.9"/><circle cx="1166" cy="758" r="3.9"/><circle cx="1175" cy="777" r="3.9"/><circle cx="1167" cy="782" r="3.9"/><circle cx="1168" cy="769" r="3.9"/><circle cx="1167" cy="774" r="3.9"/><circle cx="1166" cy="771" r="3.9"/><circle cx="1168" cy="791" r="3.9"/><circle cx="1174" cy="812" r="3.9"/><circle cx="1168" cy="813" r="3.9"/><circle cx="1162" cy="811" r="3.9"/><circle cx="1172" cy="797" r="3.9"/><circle cx="1175" cy="803" r="3.9"/><circle cx="1171" cy="798" r="3.9"/><circle cx="1171" cy="808" r="3.9"/><circle cx="1167" cy="803" r="3.9"/><circle cx="1174" cy="813" r="3.9"/><circle cx="1161" cy="802" r="3.9"/><circle cx="1169" cy="802" r="3.9"/><circle cx="1166" cy="807" r="3.9"/><circle cx="1175" cy="811" r="3.9"/><circle cx="1167" cy="812" r="3.9"/><circle cx="1177" cy="799" r="3.9"/><circle cx="1164" cy="814" r="3.9"/><circle cx="1162" cy="801" r="3.9"/><circle cx="1177" cy="811" r="3.9"/><circle cx="1164" cy="804" r="3.9"/><circle cx="1177" cy="801" r="3.9"/><circle cx="1174" cy="801" r="3.9"/><circle cx="1168" cy="813" r="3.9"/><circle cx="1172" cy="804" r="3.9"/><circle cx="1177" cy="812" r="3.9"/><circle cx="1176" cy="806" r="3.9"/><circle cx="1163" cy="802" r="3.9"/><circle cx="1164" cy="802" r="3.9"/><circle cx="1163" cy="808" r="3.9"/><circle cx="1174" cy="797" r="3.9"/><circle cx="1174" cy="811" r="3.9"/><circle cx="1169" cy="814" r="3.9"/><circle cx="1162" cy="798" r="3.9"/><circle cx="1163" cy="799" r="3.9"/><circle cx="1173" cy="808" r="3.9"/><circle cx="1163" cy="811" r="3.9"/><circle cx="1176" cy="838" r="3.9"/><circle cx="1162" cy="847" r="3.9"/><circle cx="1168" cy="843" r="3.9"/><circle cx="1174" cy="848" r="3.9"/><circle cx="1166" cy="853" r="3.9"/><circle cx="1160" cy="861" r="3.9"/><circle cx="1176" cy="865" r="3.9"/><circle cx="1174" cy="870" r="3.9"/><circle cx="1171" cy="878" r="3.9"/></g>
<g fill="#0072b2"><circle cx="1214" cy="779" r="3.9"/><circle cx="1207" cy="777" r="3.9"/><circle cx="1219" cy="780" r="3.9"/><circle cx="1203" cy="778" r="3.9"/><circle cx="1212" cy="780" r="3.9"/><circle cx="1211" cy="775" r="3.9"/><circle cx="1214" cy="779" r="3.9"/><circle cx="1213" cy="783" r="3.9"/><circle cx="1217" cy="776" r="3.9"/><circle cx="1215" cy="775" r="3.9"/><circle cx="1208" cy="771" r="3.9"/><circle cx="1215" cy="775" r="3.9"/><circle cx="1216" cy="780" r="3.9"/><circle cx="1216" cy="780" r="3.9"/><circle cx="1205" cy="781" r="3.9"/><circle cx="1216" cy="778" r="3.9"/><circle cx="1215" cy="776" r="3.9"/><circle cx="1204" cy="779" r="3.9"/><circle cx="1204" cy="777" r="3.9"/><circle cx="1218" cy="782" r="3.9"/><circle cx="1215" cy="797" r="3.9"/><circle cx="1205" cy="801" r="3.9"/><circle cx="1204" cy="810" r="3.9"/><circle cx="1216" cy="786" r="3.9"/><circle cx="1208" cy="802" r="3.9"/><circle cx="1209" cy="808" r="3.9"/><circle cx="1203" cy="810" r="3.9"/><circle cx="1213" cy="791" r="3.9"/><circle cx="1204" cy="788" r="3.9"/><circle cx="1205" cy="799" r="3.9"/><circle cx="1205" cy="783" r="3.9"/><circle cx="1209" cy="784" r="3.9"/><circle cx="1203" cy="812" r="3.9"/><circle cx="1212" cy="792" r="3.9"/><circle cx="1207" cy="798" r="3.9"/><circle cx="1209" cy="805" r="3.9"/><circle cx="1205" cy="805" r="3.9"/><circle cx="1213" cy="814" r="3.9"/><circle cx="1216" cy="810" r="3.9"/><circle cx="1212" cy="785" r="3.9"/><circle cx="1217" cy="806" r="3.9"/><circle cx="1212" cy="796" r="3.9"/><circle cx="1204" cy="787" r="3.9"/><circle cx="1217" cy="799" r="3.9"/><circle cx="1209" cy="815" r="3.9"/><circle cx="1210" cy="795" r="3.9"/><circle cx="1209" cy="801" r="3.9"/><circle cx="1213" cy="808" r="3.9"/><circle cx="1203" cy="810" r="3.9"/><circle cx="1214" cy="816" r="3.9"/><circle cx="1208" cy="787" r="3.9"/><circle cx="1219" cy="793" r="3.9"/><circle cx="1216" cy="816" r="3.9"/><circle cx="1215" cy="793" r="3.9"/><circle cx="1211" cy="803" r="3.9"/><circle cx="1207" cy="804" r="3.9"/><circle cx="1219" cy="804" r="3.9"/><circle cx="1212" cy="799" r="3.9"/><circle cx="1207" cy="813" r="3.9"/><circle cx="1204" cy="800" r="3.9"/><circle cx="1213" cy="818" r="3.9"/><circle cx="1205" cy="817" r="3.9"/><circle cx="1213" cy="785" r="3.9"/><circle cx="1208" cy="788" r="3.9"/><circle cx="1217" cy="806" r="3.9"/><circle cx="1217" cy="785" r="3.9"/><circle cx="1210" cy="813" r="3.9"/><circle cx="1205" cy="795" r="3.9"/><circle cx="1213" cy="814" r="3.9"/><circle cx="1206" cy="791" r="3.9"/><circle cx="1203" cy="803" r="3.9"/><circle cx="1213" cy="785" r="3.9"/><circle cx="1205" cy="800" r="3.9"/><circle cx="1213" cy="785" r="3.9"/><circle cx="1217" cy="803" r="3.9"/><circle cx="1213" cy="806" r="3.9"/><circle cx="1209" cy="804" r="3.9"/><circle cx="1209" cy="809" r="3.9"/><circle cx="1211" cy="785" r="3.9"/><circle cx="1209" cy="785" r="3.9"/><circle cx="1217" cy="786" r="3.9"/><circle cx="1210" cy="809" r="3.9"/><circle cx="1209" cy="784" r="3.9"/><circle cx="1206" cy="798" r="3.9"/><circle cx="1207" cy="812" r="3.9"/><circle cx="1206" cy="817" r="3.9"/><circle cx="1214" cy="791" r="3.9"/><circle cx="1209" cy="804" r="3.9"/><circle cx="1205" cy="815" r="3.9"/><circle cx="1205" cy="807" r="3.9"/><circle cx="1211" cy="813" r="3.9"/><circle cx="1204" cy="788" r="3.9"/><circle cx="1212" cy="792" r="3.9"/><circle cx="1207" cy="794" r="3.9"/><circle cx="1215" cy="802" r="3.9"/><circle cx="1205" cy="806" r="3.9"/><circle cx="1205" cy="783" r="3.9"/><circle cx="1207" cy="797" r="3.9"/><circle cx="1211" cy="791" r="3.9"/><circle cx="1205" cy="812" r="3.9"/><circle cx="1204" cy="802" r="3.9"/><circle cx="1216" cy="795" r="3.9"/><circle cx="1213" cy="793" r="3.9"/><circle cx="1213" cy="786" r="3.9"/><circle cx="1218" cy="816" r="3.9"/><circle cx="1218" cy="807" r="3.9"/><circle cx="1210" cy="805" r="3.9"/><circle cx="1216" cy="815" r="3.9"/><circle cx="1211" cy="795" r="3.9"/><circle cx="1206" cy="793" r="3.9"/><circle cx="1214" cy="786" r="3.9"/><circle cx="1213" cy="785" r="3.9"/><circle cx="1215" cy="791" r="3.9"/><circle cx="1210" cy="813" r="3.9"/><circle cx="1215" cy="787" r="3.9"/><circle cx="1214" cy="797" r="3.9"/><circle cx="1219" cy="791" r="3.9"/><circle cx="1213" cy="800" r="3.9"/><circle cx="1211" cy="806" r="3.9"/><circle cx="1209" cy="811" r="3.9"/><circle cx="1213" cy="792" r="3.9"/><circle cx="1206" cy="806" r="3.9"/><circle cx="1212" cy="789" r="3.9"/><circle cx="1210" cy="816" r="3.9"/><circle cx="1209" cy="793" r="3.9"/><circle cx="1213" cy="785" r="3.9"/><circle cx="1208" cy="816" r="3.9"/><circle cx="1203" cy="788" r="3.9"/><circle cx="1208" cy="791" r="3.9"/><circle cx="1203" cy="801" r="3.9"/><circle cx="1213" cy="784" r="3.9"/><circle cx="1214" cy="802" r="3.9"/><circle cx="1213" cy="791" r="3.9"/><circle cx="1213" cy="818" r="3.9"/><circle cx="1217" cy="796" r="3.9"/><circle cx="1203" cy="796" r="3.9"/><circle cx="1215" cy="798" r="3.9"/><circle cx="1213" cy="807" r="3.9"/><circle cx="1210" cy="791" r="3.9"/><circle cx="1215" cy="800" r="3.9"/><circle cx="1211" cy="795" r="3.9"/><circle cx="1211" cy="805" r="3.9"/><circle cx="1216" cy="808" r="3.9"/><circle cx="1212" cy="813" r="3.9"/><circle cx="1215" cy="810" r="3.9"/><circle cx="1204" cy="816" r="3.9"/><circle cx="1210" cy="793" r="3.9"/><circle cx="1215" cy="789" r="3.9"/><circle cx="1213" cy="785" r="3.9"/><circle cx="1214" cy="811" r="3.9"/><circle cx="1214" cy="802" r="3.9"/><circle cx="1215" cy="790" r="3.9"/><circle cx="1210" cy="803" r="3.9"/><circle cx="1207" cy="816" r="3.9"/><circle cx="1218" cy="803" r="3.9"/><circle cx="1203" cy="794" r="3.9"/><circle cx="1215" cy="802" r="3.9"/><circle cx="1214" cy="803" r="3.9"/><circle cx="1216" cy="813" r="3.9"/><circle cx="1218" cy="801" r="3.9"/><circle cx="1215" cy="812" r="3.9"/><circle cx="1207" cy="817" r="3.9"/><circle cx="1204" cy="799" r="3.9"/><circle cx="1204" cy="814" r="3.9"/><circle cx="1215" cy="785" r="3.9"/><circle cx="1208" cy="808" r="3.9"/><circle cx="1206" cy="790" r="3.9"/><circle cx="1208" cy="797" r="3.9"/><circle cx="1211" cy="792" r="3.9"/><circle cx="1207" cy="815" r="3.9"/><circle cx="1203" cy="790" r="3.9"/><circle cx="1206" cy="801" r="3.9"/><circle cx="1213" cy="800" r="3.9"/><circle cx="1218" cy="800" r="3.9"/><circle cx="1204" cy="787" r="3.9"/><circle cx="1212" cy="786" r="3.9"/><circle cx="1215" cy="808" r="3.9"/><circle cx="1207" cy="817" r="3.9"/><circle cx="1218" cy="796" r="3.9"/><circle cx="1205" cy="800" r="3.9"/><circle cx="1207" cy="812" r="3.9"/><circle cx="1205" cy="800" r="3.9"/><circle cx="1209" cy="812" r="3.9"/><circle cx="1209" cy="787" r="3.9"/><circle cx="1203" cy="798" r="3.9"/><circle cx="1209" cy="797" r="3.9"/><circle cx="1215" cy="795" r="3.9"/><circle cx="1211" cy="787" r="3.9"/><circle cx="1203" cy="798" r="3.9"/><circle cx="1214" cy="795" r="3.9"/><circle cx="1218" cy="786" r="3.9"/><circle cx="1204" cy="792" r="3.9"/><circle cx="1206" cy="787" r="3.9"/><circle cx="1205" cy="818" r="3.9"/><circle cx="1208" cy="814" r="3.9"/><circle cx="1217" cy="799" r="3.9"/><circle cx="1215" cy="810" r="3.9"/><circle cx="1213" cy="804" r="3.9"/><circle cx="1212" cy="786" r="3.9"/><circle cx="1213" cy="804" r="3.9"/><circle cx="1217" cy="810" r="3.9"/><circle cx="1211" cy="805" r="3.9"/><circle cx="1207" cy="791" r="3.9"/><circle cx="1205" cy="804" r="3.9"/><circle cx="1207" cy="791" r="3.9"/><circle cx="1214" cy="815" r="3.9"/><circle cx="1205" cy="818" r="3.9"/><circle cx="1208" cy="798" r="3.9"/><circle cx="1214" cy="815" r="3.9"/><circle cx="1216" cy="813" r="3.9"/><circle cx="1213" cy="805" r="3.9"/><circle cx="1203" cy="802" r="3.9"/><circle cx="1203" cy="815" r="3.9"/><circle cx="1207" cy="806" r="3.9"/><circle cx="1203" cy="812" r="3.9"/><circle cx="1206" cy="785" r="3.9"/><circle cx="1207" cy="807" r="3.9"/><circle cx="1212" cy="793" r="3.9"/><circle cx="1209" cy="783" r="3.9"/><circle cx="1205" cy="787" r="3.9"/><circle cx="1218" cy="790" r="3.9"/><circle cx="1213" cy="806" r="3.9"/><circle cx="1204" cy="810" r="3.9"/><circle cx="1216" cy="810" r="3.9"/><circle cx="1204" cy="785" r="3.9"/><circle cx="1213" cy="817" r="3.9"/><circle cx="1214" cy="784" r="3.9"/><circle cx="1213" cy="787" r="3.9"/><circle cx="1206" cy="797" r="3.9"/><circle cx="1214" cy="795" r="3.9"/><circle cx="1207" cy="809" r="3.9"/><circle cx="1208" cy="796" r="3.9"/><circle cx="1204" cy="793" r="3.9"/><circle cx="1215" cy="784" r="3.9"/><circle cx="1211" cy="793" r="3.9"/><circle cx="1213" cy="792" r="3.9"/><circle cx="1210" cy="842" r="3.9"/><circle cx="1218" cy="833" r="3.9"/><circle cx="1211" cy="842" r="3.9"/><circle cx="1203" cy="833" r="3.9"/><circle cx="1206" cy="838" r="3.9"/><circle cx="1202" cy="834" r="3.9"/><circle cx="1210" cy="845" r="3.9"/><circle cx="1218" cy="847" r="3.9"/><circle cx="1204" cy="832" r="3.9"/><circle cx="1212" cy="840" r="3.9"/><circle cx="1204" cy="840" r="3.9"/><circle cx="1218" cy="839" r="3.9"/><circle cx="1210" cy="837" r="3.9"/><circle cx="1213" cy="848" r="3.9"/><circle cx="1212" cy="837" r="3.9"/><circle cx="1214" cy="840" r="3.9"/><circle cx="1212" cy="838" r="3.9"/><circle cx="1204" cy="844" r="3.9"/><circle cx="1208" cy="832" r="3.9"/><circle cx="1208" cy="834" r="3.9"/><circle cx="1214" cy="831" r="3.9"/><circle cx="1216" cy="841" r="3.9"/><circle cx="1204" cy="844" r="3.9"/><circle cx="1209" cy="841" r="3.9"/><circle cx="1207" cy="833" r="3.9"/><circle cx="1208" cy="841" r="3.9"/><circle cx="1219" cy="843" r="3.9"/><circle cx="1211" cy="844" r="3.9"/><circle cx="1215" cy="837" r="3.9"/><circle cx="1203" cy="846" r="3.9"/><circle cx="1205" cy="834" r="3.9"/><circle cx="1207" cy="843" r="3.9"/><circle cx="1209" cy="838" r="3.9"/><circle cx="1205" cy="845" r="3.9"/><circle cx="1215" cy="842" r="3.9"/><circle cx="1217" cy="831" r="3.9"/><circle cx="1216" cy="845" r="3.9"/><circle cx="1210" cy="837" r="3.9"/><circle cx="1219" cy="845" r="3.9"/><circle cx="1218" cy="831" r="3.9"/><circle cx="1215" cy="852" r="3.9"/><circle cx="1203" cy="861" r="3.9"/><circle cx="1217" cy="860" r="3.9"/><circle cx="1211" cy="856" r="3.9"/><circle cx="1204" cy="858" r="3.9"/><circle cx="1207" cy="861" r="3.9"/><circle cx="1204" cy="851" r="3.9"/><circle cx="1207" cy="855" r="3.9"/><circle cx="1208" cy="853" r="3.9"/><circle cx="1211" cy="850" r="3.9"/><circle cx="1211" cy="849" r="3.9"/><circle cx="1210" cy="856" r="3.9"/><circle cx="1211" cy="849" r="3.9"/><circle cx="1211" cy="863" r="3.9"/><circle cx="1209" cy="852" r="3.9"/><circle cx="1202" cy="853" r="3.9"/></g>
<g fill="#f5c710"><circle cx="1257" cy="777" r="3.9"/><circle cx="1257" cy="774" r="3.9"/><circle cx="1247" cy="770" r="3.9"/><circle cx="1254" cy="771" r="3.9"/><circle cx="1255" cy="771" r="3.9"/><circle cx="1251" cy="775" r="3.9"/><circle cx="1254" cy="773" r="3.9"/><circle cx="1253" cy="777" r="3.9"/><circle cx="1256" cy="774" r="3.9"/><circle cx="1244" cy="770" r="3.9"/><circle cx="1247" cy="769" r="3.9"/><circle cx="1255" cy="775" r="3.9"/><circle cx="1244" cy="777" r="3.9"/><circle cx="1251" cy="777" r="3.9"/><circle cx="1247" cy="775" r="3.9"/><circle cx="1259" cy="776" r="3.9"/><circle cx="1248" cy="777" r="3.9"/><circle cx="1249" cy="773" r="3.9"/><circle cx="1252" cy="772" r="3.9"/><circle cx="1258" cy="774" r="3.9"/><circle cx="1245" cy="791" r="3.9"/><circle cx="1256" cy="814" r="3.9"/><circle cx="1245" cy="808" r="3.9"/><circle cx="1258" cy="777" r="3.9"/><circle cx="1253" cy="815" r="3.9"/><circle cx="1254" cy="816" r="3.9"/><circle cx="1255" cy="788" r="3.9"/><circle cx="1258" cy="797" r="3.9"/><circle cx="1246" cy="794" r="3.9"/><circle cx="1244" cy="814" r="3.9"/><circle cx="1244" cy="814" r="3.9"/><circle cx="1246" cy="780" r="3.9"/><circle cx="1255" cy="801" r="3.9"/><circle cx="1253" cy="790" r="3.9"/><circle cx="1250" cy="795" r="3.9"/><circle cx="1259" cy="800" r="3.9"/><circle cx="1258" cy="800" r="3.9"/><circle cx="1249" cy="783" r="3.9"/><circle cx="1252" cy="805" r="3.9"/><circle cx="1244" cy="792" r="3.9"/><circle cx="1255" cy="789" r="3.9"/><circle cx="1260" cy="800" r="3.9"/><circle cx="1256" cy="785" r="3.9"/><circle cx="1258" cy="792" r="3.9"/><circle cx="1246" cy="796" r="3.9"/><circle cx="1247" cy="796" r="3.9"/><circle cx="1259" cy="794" r="3.9"/><circle cx="1247" cy="807" r="3.9"/><circle cx="1250" cy="802" r="3.9"/><circle cx="1257" cy="788" r="3.9"/><circle cx="1247" cy="782" r="3.9"/><circle cx="1255" cy="780" r="3.9"/><circle cx="1259" cy="780" r="3.9"/><circle cx="1258" cy="809" r="3.9"/><circle cx="1256" cy="818" r="3.9"/><circle cx="1250" cy="806" r="3.9"/><circle cx="1253" cy="777" r="3.9"/><circle cx="1253" cy="805" r="3.9"/><circle cx="1249" cy="789" r="3.9"/><circle cx="1245" cy="779" r="3.9"/><circle cx="1247" cy="780" r="3.9"/><circle cx="1244" cy="790" r="3.9"/><circle cx="1252" cy="807" r="3.9"/><circle cx="1246" cy="815" r="3.9"/><circle cx="1258" cy="796" r="3.9"/><circle cx="1245" cy="800" r="3.9"/><circle cx="1244" cy="783" r="3.9"/><circle cx="1254" cy="792" r="3.9"/><circle cx="1259" cy="803" r="3.9"/><circle cx="1255" cy="812" r="3.9"/><circle cx="1252" cy="794" r="3.9"/><circle cx="1254" cy="782" r="3.9"/><circle cx="1247" cy="781" r="3.9"/><circle cx="1257" cy="803" r="3.9"/><circle cx="1247" cy="814" r="3.9"/><circle cx="1246" cy="786" r="3.9"/><circle cx="1249" cy="809" r="3.9"/><circle cx="1254" cy="818" r="3.9"/><circle cx="1256" cy="810" r="3.9"/><circle cx="1256" cy="808" r="3.9"/><circle cx="1252" cy="817" r="3.9"/><circle cx="1256" cy="798" r="3.9"/><circle cx="1254" cy="797" r="3.9"/><circle cx="1249" cy="805" r="3.9"/><circle cx="1257" cy="804" r="3.9"/><circle cx="1245" cy="793" r="3.9"/><circle cx="1251" cy="818" r="3.9"/><circle cx="1249" cy="789" r="3.9"/><circle cx="1245" cy="779" r="3.9"/><circle cx="1250" cy="795" r="3.9"/><circle cx="1253" cy="779" r="3.9"/><circle cx="1259" cy="812" r="3.9"/><circle cx="1247" cy="796" r="3.9"/><circle cx="1256" cy="782" r="3.9"/><circle cx="1248" cy="787" r="3.9"/><circle cx="1253" cy="808" r="3.9"/><circle cx="1257" cy="792" r="3.9"/><circle cx="1244" cy="781" r="3.9"/><circle cx="1250" cy="781" r="3.9"/><circle cx="1249" cy="810" r="3.9"/><circle cx="1252" cy="790" r="3.9"/><circle cx="1251" cy="812" r="3.9"/><circle cx="1260" cy="806" r="3.9"/><circle cx="1245" cy="811" r="3.9"/><circle cx="1258" cy="796" r="3.9"/><circle cx="1246" cy="805" r="3.9"/><circle cx="1257" cy="818" r="3.9"/><circle cx="1257" cy="787" r="3.9"/><circle cx="1246" cy="816" r="3.9"/><circle cx="1258" cy="805" r="3.9"/><circle cx="1245" cy="782" r="3.9"/><circle cx="1253" cy="817" r="3.9"/><circle cx="1256" cy="801" r="3.9"/><circle cx="1254" cy="797" r="3.9"/><circle cx="1258" cy="797" r="3.9"/><circle cx="1258" cy="795" r="3.9"/><circle cx="1252" cy="818" r="3.9"/><circle cx="1255" cy="796" r="3.9"/><circle cx="1244" cy="795" r="3.9"/><circle cx="1247" cy="794" r="3.9"/><circle cx="1244" cy="794" r="3.9"/><circle cx="1250" cy="811" r="3.9"/><circle cx="1249" cy="808" r="3.9"/><circle cx="1253" cy="802" r="3.9"/><circle cx="1257" cy="814" r="3.9"/><circle cx="1246" cy="789" r="3.9"/><circle cx="1244" cy="801" r="3.9"/><circle cx="1245" cy="789" r="3.9"/><circle cx="1259" cy="794" r="3.9"/><circle cx="1250" cy="789" r="3.9"/><circle cx="1257" cy="798" r="3.9"/><circle cx="1252" cy="813" r="3.9"/><circle cx="1246" cy="778" r="3.9"/><circle cx="1259" cy="810" r="3.9"/><circle cx="1256" cy="810" r="3.9"/><circle cx="1252" cy="781" r="3.9"/><circle cx="1247" cy="807" r="3.9"/><circle cx="1246" cy="802" r="3.9"/><circle cx="1250" cy="815" r="3.9"/><circle cx="1256" cy="792" r="3.9"/><circle cx="1246" cy="800" r="3.9"/><circle cx="1254" cy="779" r="3.9"/><circle cx="1252" cy="783" r="3.9"/><circle cx="1249" cy="808" r="3.9"/><circle cx="1259" cy="782" r="3.9"/><circle cx="1249" cy="798" r="3.9"/><circle cx="1259" cy="814" r="3.9"/><circle cx="1257" cy="784" r="3.9"/><circle cx="1256" cy="805" r="3.9"/><circle cx="1244" cy="794" r="3.9"/><circle cx="1252" cy="785" r="3.9"/><circle cx="1246" cy="794" r="3.9"/><circle cx="1244" cy="791" r="3.9"/><circle cx="1252" cy="789" r="3.9"/><circle cx="1252" cy="814" r="3.9"/><circle cx="1251" cy="793" r="3.9"/><circle cx="1255" cy="814" r="3.9"/><circle cx="1246" cy="811" r="3.9"/><circle cx="1259" cy="815" r="3.9"/><circle cx="1247" cy="814" r="3.9"/><circle cx="1249" cy="792" r="3.9"/><circle cx="1248" cy="810" r="3.9"/><circle cx="1254" cy="783" r="3.9"/><circle cx="1249" cy="801" r="3.9"/><circle cx="1257" cy="802" r="3.9"/><circle cx="1255" cy="790" r="3.9"/><circle cx="1258" cy="803" r="3.9"/><circle cx="1254" cy="789" r="3.9"/><circle cx="1253" cy="790" r="3.9"/><circle cx="1250" cy="816" r="3.9"/><circle cx="1251" cy="785" r="3.9"/><circle cx="1251" cy="787" r="3.9"/><circle cx="1255" cy="786" r="3.9"/><circle cx="1255" cy="796" r="3.9"/><circle cx="1251" cy="801" r="3.9"/><circle cx="1260" cy="802" r="3.9"/><circle cx="1247" cy="791" r="3.9"/><circle cx="1246" cy="803" r="3.9"/><circle cx="1259" cy="780" r="3.9"/><circle cx="1248" cy="782" r="3.9"/><circle cx="1252" cy="812" r="3.9"/><circle cx="1246" cy="811" r="3.9"/><circle cx="1250" cy="799" r="3.9"/><circle cx="1254" cy="816" r="3.9"/><circle cx="1259" cy="818" r="3.9"/><circle cx="1253" cy="817" r="3.9"/><circle cx="1257" cy="801" r="3.9"/><circle cx="1254" cy="790" r="3.9"/><circle cx="1246" cy="796" r="3.9"/><circle cx="1248" cy="777" r="3.9"/><circle cx="1259" cy="786" r="3.9"/><circle cx="1260" cy="798" r="3.9"/><circle cx="1248" cy="794" r="3.9"/><circle cx="1245" cy="800" r="3.9"/><circle cx="1249" cy="778" r="3.9"/><circle cx="1247" cy="795" r="3.9"/><circle cx="1259" cy="786" r="3.9"/><circle cx="1257" cy="795" r="3.9"/><circle cx="1249" cy="793" r="3.9"/><circle cx="1252" cy="791" r="3.9"/><circle cx="1254" cy="808" r="3.9"/><circle cx="1258" cy="795" r="3.9"/><circle cx="1253" cy="783" r="3.9"/><circle cx="1252" cy="814" r="3.9"/><circle cx="1247" cy="780" r="3.9"/><circle cx="1244" cy="788" r="3.9"/><circle cx="1250" cy="800" r="3.9"/><circle cx="1250" cy="818" r="3.9"/><circle cx="1253" cy="813" r="3.9"/><circle cx="1248" cy="788" r="3.9"/><circle cx="1253" cy="778" r="3.9"/><circle cx="1255" cy="790" r="3.9"/><circle cx="1256" cy="799" r="3.9"/><circle cx="1258" cy="786" r="3.9"/><circle cx="1259" cy="818" r="3.9"/><circle cx="1250" cy="801" r="3.9"/><circle cx="1244" cy="800" r="3.9"/><circle cx="1251" cy="809" r="3.9"/><circle cx="1256" cy="806" r="3.9"/><circle cx="1260" cy="778" r="3.9"/><circle cx="1249" cy="803" r="3.9"/><circle cx="1259" cy="791" r="3.9"/><circle cx="1257" cy="811" r="3.9"/><circle cx="1252" cy="806" r="3.9"/><circle cx="1256" cy="805" r="3.9"/><circle cx="1258" cy="780" r="3.9"/><circle cx="1258" cy="780" r="3.9"/><circle cx="1253" cy="792" r="3.9"/><circle cx="1252" cy="812" r="3.9"/><circle cx="1248" cy="798" r="3.9"/><circle cx="1256" cy="799" r="3.9"/><circle cx="1253" cy="803" r="3.9"/><circle cx="1260" cy="781" r="3.9"/><circle cx="1251" cy="811" r="3.9"/><circle cx="1244" cy="809" r="3.9"/><circle cx="1250" cy="785" r="3.9"/><circle cx="1256" cy="806" r="3.9"/><circle cx="1256" cy="808" r="3.9"/><circle cx="1256" cy="818" r="3.9"/><circle cx="1258" cy="780" r="3.9"/><circle cx="1245" cy="804" r="3.9"/><circle cx="1249" cy="791" r="3.9"/><circle cx="1259" cy="787" r="3.9"/><circle cx="1251" cy="817" r="3.9"/><circle cx="1255" cy="802" r="3.9"/><circle cx="1247" cy="810" r="3.9"/><circle cx="1250" cy="817" r="3.9"/><circle cx="1250" cy="793" r="3.9"/><circle cx="1251" cy="815" r="3.9"/><circle cx="1256" cy="802" r="3.9"/><circle cx="1244" cy="784" r="3.9"/><circle cx="1249" cy="807" r="3.9"/><circle cx="1249" cy="792" r="3.9"/><circle cx="1251" cy="778" r="3.9"/><circle cx="1257" cy="790" r="3.9"/><circle cx="1260" cy="815" r="3.9"/><circle cx="1253" cy="802" r="3.9"/><circle cx="1256" cy="780" r="3.9"/><circle cx="1260" cy="802" r="3.9"/><circle cx="1253" cy="806" r="3.9"/><circle cx="1253" cy="811" r="3.9"/><circle cx="1252" cy="791" r="3.9"/><circle cx="1247" cy="790" r="3.9"/><circle cx="1250" cy="791" r="3.9"/><circle cx="1253" cy="803" r="3.9"/><circle cx="1249" cy="797" r="3.9"/><circle cx="1255" cy="818" r="3.9"/><circle cx="1247" cy="780" r="3.9"/><circle cx="1255" cy="809" r="3.9"/><circle cx="1256" cy="791" r="3.9"/><circle cx="1245" cy="792" r="3.9"/><circle cx="1257" cy="786" r="3.9"/><circle cx="1255" cy="792" r="3.9"/><circle cx="1259" cy="778" r="3.9"/><circle cx="1254" cy="789" r="3.9"/><circle cx="1256" cy="799" r="3.9"/><circle cx="1251" cy="818" r="3.9"/><circle cx="1251" cy="804" r="3.9"/><circle cx="1254" cy="790" r="3.9"/><circle cx="1253" cy="816" r="3.9"/><circle cx="1260" cy="795" r="3.9"/><circle cx="1254" cy="805" r="3.9"/><circle cx="1245" cy="789" r="3.9"/><circle cx="1253" cy="813" r="3.9"/><circle cx="1251" cy="811" r="3.9"/><circle cx="1253" cy="812" r="3.9"/><circle cx="1259" cy="791" r="3.9"/><circle cx="1250" cy="779" r="3.9"/><circle cx="1257" cy="799" r="3.9"/><circle cx="1258" cy="781" r="3.9"/><circle cx="1251" cy="812" r="3.9"/><circle cx="1247" cy="800" r="3.9"/><circle cx="1258" cy="809" r="3.9"/><circle cx="1247" cy="795" r="3.9"/><circle cx="1250" cy="795" r="3.9"/><circle cx="1245" cy="815" r="3.9"/><circle cx="1253" cy="813" r="3.9"/><circle cx="1255" cy="780" r="3.9"/><circle cx="1250" cy="784" r="3.9"/><circle cx="1249" cy="809" r="3.9"/><circle cx="1257" cy="778" r="3.9"/><circle cx="1256" cy="779" r="3.9"/><circle cx="1244" cy="815" r="3.9"/><circle cx="1245" cy="803" r="3.9"/><circle cx="1257" cy="780" r="3.9"/><circle cx="1257" cy="792" r="3.9"/><circle cx="1258" cy="810" r="3.9"/><circle cx="1252" cy="802" r="3.9"/><circle cx="1251" cy="781" r="3.9"/><circle cx="1254" cy="803" r="3.9"/><circle cx="1245" cy="797" r="3.9"/><circle cx="1248" cy="794" r="3.9"/><circle cx="1254" cy="789" r="3.9"/><circle cx="1249" cy="779" r="3.9"/><circle cx="1256" cy="810" r="3.9"/><circle cx="1260" cy="796" r="3.9"/><circle cx="1250" cy="792" r="3.9"/><circle cx="1254" cy="801" r="3.9"/><circle cx="1245" cy="796" r="3.9"/><circle cx="1259" cy="790" r="3.9"/><circle cx="1254" cy="818" r="3.9"/><circle cx="1246" cy="816" r="3.9"/><circle cx="1249" cy="798" r="3.9"/><circle cx="1249" cy="789" r="3.9"/><circle cx="1251" cy="804" r="3.9"/><circle cx="1253" cy="781" r="3.9"/><circle cx="1256" cy="796" r="3.9"/><circle cx="1245" cy="793" r="3.9"/><circle cx="1259" cy="807" r="3.9"/><circle cx="1259" cy="790" r="3.9"/><circle cx="1246" cy="780" r="3.9"/><circle cx="1247" cy="814" r="3.9"/><circle cx="1244" cy="806" r="3.9"/><circle cx="1244" cy="778" r="3.9"/><circle cx="1260" cy="809" r="3.9"/><circle cx="1258" cy="788" r="3.9"/><circle cx="1246" cy="811" r="3.9"/><circle cx="1256" cy="788" r="3.9"/><circle cx="1255" cy="803" r="3.9"/><circle cx="1244" cy="817" r="3.9"/><circle cx="1246" cy="804" r="3.9"/><circle cx="1249" cy="797" r="3.9"/><circle cx="1257" cy="783" r="3.9"/><circle cx="1248" cy="795" r="3.9"/><circle cx="1249" cy="804" r="3.9"/><circle cx="1258" cy="811" r="3.9"/><circle cx="1254" cy="799" r="3.9"/><circle cx="1255" cy="789" r="3.9"/><circle cx="1255" cy="785" r="3.9"/><circle cx="1259" cy="809" r="3.9"/><circle cx="1256" cy="797" r="3.9"/><circle cx="1254" cy="796" r="3.9"/><circle cx="1255" cy="781" r="3.9"/><circle cx="1252" cy="794" r="3.9"/><circle cx="1258" cy="781" r="3.9"/><circle cx="1258" cy="816" r="3.9"/><circle cx="1260" cy="789" r="3.9"/><circle cx="1249" cy="784" r="3.9"/><circle cx="1257" cy="807" r="3.9"/><circle cx="1247" cy="806" r="3.9"/><circle cx="1248" cy="810" r="3.9"/><circle cx="1245" cy="814" r="3.9"/><circle cx="1251" cy="814" r="3.9"/><circle cx="1252" cy="782" r="3.9"/><circle cx="1256" cy="807" r="3.9"/><circle cx="1244" cy="783" r="3.9"/><circle cx="1246" cy="794" r="3.9"/><circle cx="1253" cy="802" r="3.9"/><circle cx="1259" cy="797" r="3.9"/><circle cx="1253" cy="806" r="3.9"/><circle cx="1260" cy="815" r="3.9"/><circle cx="1253" cy="793" r="3.9"/><circle cx="1245" cy="784" r="3.9"/><circle cx="1247" cy="796" r="3.9"/><circle cx="1254" cy="782" r="3.9"/><circle cx="1252" cy="813" r="3.9"/><circle cx="1258" cy="813" r="3.9"/><circle cx="1257" cy="797" r="3.9"/><circle cx="1252" cy="780" r="3.9"/><circle cx="1260" cy="795" r="3.9"/><circle cx="1244" cy="813" r="3.9"/><circle cx="1256" cy="805" r="3.9"/><circle cx="1247" cy="780" r="3.9"/><circle cx="1253" cy="786" r="3.9"/><circle cx="1253" cy="806" r="3.9"/><circle cx="1250" cy="811" r="3.9"/><circle cx="1258" cy="818" r="3.9"/><circle cx="1244" cy="797" r="3.9"/><circle cx="1256" cy="791" r="3.9"/><circle cx="1256" cy="783" r="3.9"/><circle cx="1252" cy="818" r="3.9"/><circle cx="1250" cy="781" r="3.9"/><circle cx="1253" cy="784" r="3.9"/><circle cx="1252" cy="814" r="3.9"/><circle cx="1260" cy="806" r="3.9"/><circle cx="1255" cy="795" r="3.9"/><circle cx="1254" cy="799" r="3.9"/><circle cx="1250" cy="791" r="3.9"/><circle cx="1251" cy="778" r="3.9"/><circle cx="1256" cy="802" r="3.9"/><circle cx="1249" cy="807" r="3.9"/><circle cx="1256" cy="797" r="3.9"/><circle cx="1253" cy="781" r="3.9"/><circle cx="1244" cy="811" r="3.9"/><circle cx="1248" cy="807" r="3.9"/><circle cx="1250" cy="809" r="3.9"/><circle cx="1258" cy="780" r="3.9"/><circle cx="1246" cy="796" r="3.9"/><circle cx="1245" cy="778" r="3.9"/><circle cx="1251" cy="781" r="3.9"/><circle cx="1259" cy="812" r="3.9"/><circle cx="1244" cy="803" r="3.9"/><circle cx="1256" cy="781" r="3.9"/><circle cx="1244" cy="786" r="3.9"/><circle cx="1256" cy="782" r="3.9"/><circle cx="1246" cy="807" r="3.9"/><circle cx="1251" cy="799" r="3.9"/><circle cx="1245" cy="782" r="3.9"/><circle cx="1250" cy="799" r="3.9"/><circle cx="1251" cy="811" r="3.9"/><circle cx="1256" cy="807" r="3.9"/><circle cx="1255" cy="791" r="3.9"/><circle cx="1254" cy="787" r="3.9"/><circle cx="1259" cy="793" r="3.9"/><circle cx="1254" cy="808" r="3.9"/><circle cx="1256" cy="833" r="3.9"/><circle cx="1244" cy="837" r="3.9"/><circle cx="1252" cy="837" r="3.9"/><circle cx="1248" cy="847" r="3.9"/><circle cx="1246" cy="835" r="3.9"/><circle cx="1251" cy="833" r="3.9"/><circle cx="1257" cy="844" r="3.9"/><circle cx="1259" cy="837" r="3.9"/><circle cx="1252" cy="841" r="3.9"/><circle cx="1258" cy="839" r="3.9"/><circle cx="1254" cy="851" r="3.9"/><circle cx="1251" cy="832" r="3.9"/><circle cx="1255" cy="836" r="3.9"/><circle cx="1254" cy="852" r="3.9"/><circle cx="1259" cy="834" r="3.9"/><circle cx="1245" cy="850" r="3.9"/><circle cx="1249" cy="836" r="3.9"/><circle cx="1252" cy="836" r="3.9"/><circle cx="1253" cy="835" r="3.9"/><circle cx="1257" cy="850" r="3.9"/><circle cx="1257" cy="851" r="3.9"/><circle cx="1248" cy="838" r="3.9"/><circle cx="1251" cy="832" r="3.9"/><circle cx="1252" cy="834" r="3.9"/><circle cx="1258" cy="834" r="3.9"/><circle cx="1248" cy="835" r="3.9"/><circle cx="1256" cy="841" r="3.9"/><circle cx="1249" cy="843" r="3.9"/><circle cx="1253" cy="849" r="3.9"/><circle cx="1246" cy="842" r="3.9"/><circle cx="1248" cy="834" r="3.9"/><circle cx="1259" cy="847" r="3.9"/><circle cx="1248" cy="848" r="3.9"/><circle cx="1247" cy="834" r="3.9"/><circle cx="1248" cy="851" r="3.9"/><circle cx="1258" cy="846" r="3.9"/><circle cx="1248" cy="850" r="3.9"/><circle cx="1254" cy="834" r="3.9"/><circle cx="1259" cy="839" r="3.9"/><circle cx="1258" cy="831" r="3.9"/><circle cx="1259" cy="836" r="3.9"/><circle cx="1258" cy="843" r="3.9"/><circle cx="1244" cy="839" r="3.9"/><circle cx="1251" cy="850" r="3.9"/><circle cx="1255" cy="832" r="3.9"/><circle cx="1250" cy="852" r="3.9"/><circle cx="1256" cy="840" r="3.9"/><circle cx="1248" cy="850" r="3.9"/><circle cx="1246" cy="839" r="3.9"/><circle cx="1251" cy="843" r="3.9"/><circle cx="1258" cy="846" r="3.9"/><circle cx="1253" cy="848" r="3.9"/><circle cx="1256" cy="837" r="3.9"/><circle cx="1245" cy="850" r="3.9"/><circle cx="1256" cy="835" r="3.9"/><circle cx="1253" cy="840" r="3.9"/><circle cx="1249" cy="833" r="3.9"/><circle cx="1256" cy="836" r="3.9"/><circle cx="1245" cy="839" r="3.9"/><circle cx="1249" cy="849" r="3.9"/><circle cx="1247" cy="831" r="3.9"/><circle cx="1260" cy="841" r="3.9"/><circle cx="1248" cy="848" r="3.9"/><circle cx="1252" cy="839" r="3.9"/><circle cx="1252" cy="844" r="3.9"/><circle cx="1244" cy="851" r="3.9"/><circle cx="1251" cy="843" r="3.9"/><circle cx="1257" cy="844" r="3.9"/><circle cx="1244" cy="845" r="3.9"/><circle cx="1249" cy="842" r="3.9"/><circle cx="1257" cy="833" r="3.9"/><circle cx="1246" cy="835" r="3.9"/><circle cx="1260" cy="843" r="3.9"/><circle cx="1253" cy="847" r="3.9"/><circle cx="1259" cy="852" r="3.9"/><circle cx="1248" cy="852" r="3.9"/><circle cx="1260" cy="840" r="3.9"/><circle cx="1244" cy="846" r="3.9"/><circle cx="1247" cy="832" r="3.9"/><circle cx="1252" cy="850" r="3.9"/><circle cx="1245" cy="842" r="3.9"/><circle cx="1258" cy="842" r="3.9"/><circle cx="1259" cy="850" r="3.9"/><circle cx="1245" cy="836" r="3.9"/><circle cx="1256" cy="834" r="3.9"/><circle cx="1252" cy="844" r="3.9"/><circle cx="1245" cy="838" r="3.9"/><circle cx="1258" cy="852" r="3.9"/><circle cx="1252" cy="832" r="3.9"/><circle cx="1246" cy="832" r="3.9"/><circle cx="1255" cy="846" r="3.9"/><circle cx="1251" cy="844" r="3.9"/><circle cx="1260" cy="836" r="3.9"/><circle cx="1253" cy="842" r="3.9"/><circle cx="1248" cy="835" r="3.9"/><circle cx="1257" cy="841" r="3.9"/><circle cx="1259" cy="838" r="3.9"/><circle cx="1250" cy="846" r="3.9"/><circle cx="1257" cy="843" r="3.9"/><circle cx="1260" cy="845" r="3.9"/><circle cx="1251" cy="838" r="3.9"/><circle cx="1259" cy="842" r="3.9"/><circle cx="1255" cy="831" r="3.9"/><circle cx="1253" cy="841" r="3.9"/><circle cx="1258" cy="836" r="3.9"/><circle cx="1254" cy="845" r="3.9"/><circle cx="1257" cy="845" r="3.9"/><circle cx="1252" cy="835" r="3.9"/><circle cx="1247" cy="843" r="3.9"/><circle cx="1244" cy="844" r="3.9"/><circle cx="1257" cy="835" r="3.9"/><circle cx="1255" cy="835" r="3.9"/><circle cx="1260" cy="845" r="3.9"/><circle cx="1259" cy="836" r="3.9"/><circle cx="1244" cy="845" r="3.9"/><circle cx="1258" cy="849" r="3.9"/><circle cx="1259" cy="834" r="3.9"/><circle cx="1250" cy="852" r="3.9"/><circle cx="1254" cy="851" r="3.9"/><circle cx="1250" cy="834" r="3.9"/><circle cx="1255" cy="847" r="3.9"/><circle cx="1257" cy="847" r="3.9"/><circle cx="1260" cy="851" r="3.9"/><circle cx="1255" cy="838" r="3.9"/><circle cx="1252" cy="832" r="3.9"/><circle cx="1251" cy="838" r="3.9"/><circle cx="1250" cy="848" r="3.9"/><circle cx="1245" cy="839" r="3.9"/><circle cx="1250" cy="838" r="3.9"/><circle cx="1255" cy="843" r="3.9"/><circle cx="1258" cy="847" r="3.9"/><circle cx="1256" cy="850" r="3.9"/><circle cx="1259" cy="843" r="3.9"/><circle cx="1248" cy="835" r="3.9"/><circle cx="1254" cy="844" r="3.9"/><circle cx="1247" cy="871" r="3.9"/><circle cx="1253" cy="852" r="3.9"/><circle cx="1248" cy="860" r="3.9"/><circle cx="1248" cy="859" r="3.9"/><circle cx="1253" cy="868" r="3.9"/><circle cx="1244" cy="852" r="3.9"/><circle cx="1248" cy="863" r="3.9"/><circle cx="1250" cy="857" r="3.9"/><circle cx="1258" cy="869" r="3.9"/><circle cx="1257" cy="865" r="3.9"/><circle cx="1253" cy="857" r="3.9"/><circle cx="1250" cy="853" r="3.9"/><circle cx="1251" cy="852" r="3.9"/><circle cx="1252" cy="857" r="3.9"/><circle cx="1244" cy="859" r="3.9"/><circle cx="1250" cy="859" r="3.9"/><circle cx="1258" cy="866" r="3.9"/><circle cx="1250" cy="859" r="3.9"/><circle cx="1260" cy="869" r="3.9"/><circle cx="1248" cy="855" r="3.9"/><circle cx="1246" cy="868" r="3.9"/><circle cx="1252" cy="854" r="3.9"/><circle cx="1258" cy="865" r="3.9"/><circle cx="1248" cy="859" r="3.9"/><circle cx="1250" cy="864" r="3.9"/><circle cx="1259" cy="866" r="3.9"/><circle cx="1248" cy="852" r="3.9"/><circle cx="1247" cy="858" r="3.9"/><circle cx="1256" cy="858" r="3.9"/><circle cx="1258" cy="856" r="3.9"/><circle cx="1252" cy="857" r="3.9"/><circle cx="1257" cy="859" r="3.9"/><circle cx="1251" cy="856" r="3.9"/><circle cx="1260" cy="857" r="3.9"/><circle cx="1244" cy="865" r="3.9"/></g>
<g fill="#cc79a7"><circle cx="1303" cy="798" r="3.9"/><circle cx="1292" cy="792" r="3.9"/><circle cx="1288" cy="752" r="3.9"/><circle cx="1292" cy="759" r="3.9"/><circle cx="1295" cy="797" r="3.9"/><circle cx="1296" cy="774" r="3.9"/><circle cx="1300" cy="768" r="3.9"/><circle cx="1289" cy="808" r="3.9"/><circle cx="1294" cy="746" r="3.9"/><circle cx="1298" cy="745" r="3.9"/><circle cx="1300" cy="774" r="3.9"/><circle cx="1296" cy="801" r="3.9"/><circle cx="1297" cy="816" r="3.9"/><circle cx="1292" cy="757" r="3.9"/><circle cx="1299" cy="816" r="3.9"/><circle cx="1297" cy="752" r="3.9"/><circle cx="1295" cy="758" r="3.9"/><circle cx="1294" cy="812" r="3.9"/><circle cx="1290" cy="818" r="3.9"/><circle cx="1297" cy="788" r="3.9"/><circle cx="1289" cy="773" r="3.9"/><circle cx="1301" cy="792" r="3.9"/><circle cx="1301" cy="802" r="3.9"/><circle cx="1301" cy="764" r="3.9"/><circle cx="1291" cy="750" r="3.9"/><circle cx="1288" cy="796" r="3.9"/><circle cx="1293" cy="755" r="3.9"/><circle cx="1291" cy="761" r="3.9"/><circle cx="1293" cy="784" r="3.9"/><circle cx="1302" cy="782" r="3.9"/><circle cx="1302" cy="801" r="3.9"/><circle cx="1296" cy="782" r="3.9"/><circle cx="1289" cy="783" r="3.9"/><circle cx="1291" cy="740" r="3.9"/><circle cx="1293" cy="745" r="3.9"/><circle cx="1294" cy="778" r="3.9"/><circle cx="1288" cy="813" r="3.9"/><circle cx="1294" cy="766" r="3.9"/><circle cx="1297" cy="748" r="3.9"/><circle cx="1293" cy="784" r="3.9"/><circle cx="1289" cy="750" r="3.9"/><circle cx="1289" cy="808" r="3.9"/><circle cx="1297" cy="809" r="3.9"/><circle cx="1296" cy="786" r="3.9"/><circle cx="1294" cy="766" r="3.9"/><circle cx="1295" cy="753" r="3.9"/><circle cx="1302" cy="777" r="3.9"/><circle cx="1290" cy="808" r="3.9"/><circle cx="1301" cy="755" r="3.9"/><circle cx="1301" cy="812" r="3.9"/><circle cx="1295" cy="766" r="3.9"/><circle cx="1286" cy="792" r="3.9"/><circle cx="1288" cy="830" r="3.9"/><circle cx="1297" cy="839" r="3.9"/></g>
<g fill="#e69f00"><circle cx="1336" cy="786" r="3.9"/><circle cx="1338" cy="786" r="3.9"/><circle cx="1338" cy="783" r="3.9"/><circle cx="1343" cy="779" r="3.9"/><circle cx="1343" cy="782" r="3.9"/><circle cx="1331" cy="785" r="3.9"/><circle cx="1340" cy="776" r="3.9"/><circle cx="1335" cy="775" r="3.9"/><circle cx="1340" cy="784" r="3.9"/><circle cx="1338" cy="776" r="3.9"/><circle cx="1329" cy="781" r="3.9"/><circle cx="1334" cy="776" r="3.9"/><circle cx="1342" cy="783" r="3.9"/><circle cx="1334" cy="784" r="3.9"/><circle cx="1330" cy="784" r="3.9"/><circle cx="1329" cy="782" r="3.9"/><circle cx="1338" cy="779" r="3.9"/><circle cx="1343" cy="787" r="3.9"/><circle cx="1337" cy="775" r="3.9"/><circle cx="1331" cy="785" r="3.9"/><circle cx="1333" cy="779" r="3.9"/><circle cx="1336" cy="778" r="3.9"/><circle cx="1329" cy="778" r="3.9"/><circle cx="1333" cy="778" r="3.9"/><circle cx="1328" cy="785" r="3.9"/><circle cx="1342" cy="774" r="3.9"/><circle cx="1339" cy="784" r="3.9"/><circle cx="1340" cy="785" r="3.9"/><circle cx="1333" cy="778" r="3.9"/><circle cx="1341" cy="784" r="3.9"/><circle cx="1334" cy="801" r="3.9"/><circle cx="1337" cy="791" r="3.9"/><circle cx="1329" cy="805" r="3.9"/><circle cx="1337" cy="810" r="3.9"/><circle cx="1328" cy="812" r="3.9"/><circle cx="1328" cy="796" r="3.9"/><circle cx="1327" cy="793" r="3.9"/><circle cx="1338" cy="811" r="3.9"/><circle cx="1342" cy="814" r="3.9"/><circle cx="1342" cy="794" r="3.9"/><circle cx="1336" cy="793" r="3.9"/><circle cx="1338" cy="795" r="3.9"/><circle cx="1342" cy="812" r="3.9"/><circle cx="1340" cy="816" r="3.9"/><circle cx="1332" cy="816" r="3.9"/><circle cx="1337" cy="814" r="3.9"/><circle cx="1339" cy="805" r="3.9"/><circle cx="1328" cy="815" r="3.9"/><circle cx="1338" cy="793" r="3.9"/><circle cx="1335" cy="799" r="3.9"/><circle cx="1343" cy="797" r="3.9"/><circle cx="1327" cy="818" r="3.9"/><circle cx="1341" cy="792" r="3.9"/><circle cx="1338" cy="790" r="3.9"/><circle cx="1341" cy="800" r="3.9"/><circle cx="1331" cy="806" r="3.9"/><circle cx="1341" cy="807" r="3.9"/><circle cx="1328" cy="807" r="3.9"/><circle cx="1333" cy="815" r="3.9"/><circle cx="1342" cy="813" r="3.9"/><circle cx="1337" cy="812" r="3.9"/><circle cx="1333" cy="807" r="3.9"/><circle cx="1343" cy="791" r="3.9"/><circle cx="1340" cy="806" r="3.9"/><circle cx="1328" cy="812" r="3.9"/><circle cx="1339" cy="794" r="3.9"/><circle cx="1343" cy="809" r="3.9"/><circle cx="1340" cy="803" r="3.9"/><circle cx="1330" cy="796" r="3.9"/><circle cx="1340" cy="815" r="3.9"/><circle cx="1332" cy="813" r="3.9"/><circle cx="1329" cy="797" r="3.9"/><circle cx="1340" cy="809" r="3.9"/><circle cx="1330" cy="818" r="3.9"/><circle cx="1338" cy="812" r="3.9"/><circle cx="1343" cy="813" r="3.9"/><circle cx="1337" cy="797" r="3.9"/><circle cx="1333" cy="814" r="3.9"/><circle cx="1343" cy="817" r="3.9"/><circle cx="1337" cy="797" r="3.9"/><circle cx="1335" cy="810" r="3.9"/><circle cx="1330" cy="807" r="3.9"/><circle cx="1328" cy="797" r="3.9"/><circle cx="1336" cy="816" r="3.9"/><circle cx="1341" cy="804" r="3.9"/><circle cx="1330" cy="802" r="3.9"/><circle cx="1331" cy="818" r="3.9"/><circle cx="1327" cy="801" r="3.9"/><circle cx="1332" cy="804" r="3.9"/><circle cx="1337" cy="801" r="3.9"/><circle cx="1327" cy="817" r="3.9"/><circle cx="1332" cy="801" r="3.9"/><circle cx="1334" cy="796" r="3.9"/><circle cx="1332" cy="791" r="3.9"/><circle cx="1342" cy="811" r="3.9"/><circle cx="1334" cy="815" r="3.9"/><circle cx="1328" cy="808" r="3.9"/><circle cx="1340" cy="815" r="3.9"/><circle cx="1339" cy="791" r="3.9"/><circle cx="1338" cy="801" r="3.9"/><circle cx="1334" cy="810" r="3.9"/><circle cx="1338" cy="802" r="3.9"/><circle cx="1330" cy="815" r="3.9"/><circle cx="1336" cy="796" r="3.9"/><circle cx="1334" cy="808" r="3.9"/><circle cx="1332" cy="801" r="3.9"/><circle cx="1339" cy="807" r="3.9"/><circle cx="1336" cy="808" r="3.9"/><circle cx="1333" cy="818" r="3.9"/><circle cx="1343" cy="813" r="3.9"/><circle cx="1338" cy="789" r="3.9"/><circle cx="1333" cy="796" r="3.9"/><circle cx="1342" cy="807" r="3.9"/><circle cx="1338" cy="806" r="3.9"/><circle cx="1344" cy="803" r="3.9"/><circle cx="1331" cy="818" r="3.9"/><circle cx="1331" cy="807" r="3.9"/><circle cx="1336" cy="817" r="3.9"/><circle cx="1340" cy="818" r="3.9"/><circle cx="1340" cy="807" r="3.9"/><circle cx="1329" cy="792" r="3.9"/><circle cx="1333" cy="798" r="3.9"/><circle cx="1330" cy="807" r="3.9"/><circle cx="1342" cy="804" r="3.9"/><circle cx="1340" cy="799" r="3.9"/><circle cx="1333" cy="807" r="3.9"/><circle cx="1330" cy="810" r="3.9"/><circle cx="1338" cy="798" r="3.9"/><circle cx="1342" cy="812" r="3.9"/><circle cx="1339" cy="801" r="3.9"/><circle cx="1336" cy="807" r="3.9"/><circle cx="1344" cy="807" r="3.9"/><circle cx="1331" cy="814" r="3.9"/><circle cx="1337" cy="801" r="3.9"/><circle cx="1337" cy="802" r="3.9"/><circle cx="1333" cy="804" r="3.9"/><circle cx="1341" cy="815" r="3.9"/><circle cx="1343" cy="808" r="3.9"/><circle cx="1327" cy="814" r="3.9"/><circle cx="1327" cy="815" r="3.9"/><circle cx="1334" cy="802" r="3.9"/><circle cx="1333" cy="811" r="3.9"/><circle cx="1341" cy="816" r="3.9"/><circle cx="1332" cy="818" r="3.9"/><circle cx="1333" cy="804" r="3.9"/><circle cx="1337" cy="792" r="3.9"/><circle cx="1336" cy="796" r="3.9"/><circle cx="1330" cy="788" r="3.9"/><circle cx="1337" cy="789" r="3.9"/><circle cx="1339" cy="807" r="3.9"/><circle cx="1339" cy="797" r="3.9"/><circle cx="1341" cy="815" r="3.9"/><circle cx="1338" cy="795" r="3.9"/><circle cx="1342" cy="803" r="3.9"/><circle cx="1332" cy="797" r="3.9"/><circle cx="1333" cy="802" r="3.9"/><circle cx="1341" cy="794" r="3.9"/><circle cx="1335" cy="791" r="3.9"/><circle cx="1330" cy="801" r="3.9"/><circle cx="1334" cy="796" r="3.9"/><circle cx="1341" cy="788" r="3.9"/><circle cx="1328" cy="789" r="3.9"/><circle cx="1327" cy="798" r="3.9"/><circle cx="1331" cy="811" r="3.9"/><circle cx="1333" cy="791" r="3.9"/><circle cx="1335" cy="817" r="3.9"/><circle cx="1336" cy="792" r="3.9"/><circle cx="1340" cy="790" r="3.9"/><circle cx="1331" cy="810" r="3.9"/><circle cx="1339" cy="803" r="3.9"/><circle cx="1334" cy="789" r="3.9"/><circle cx="1335" cy="801" r="3.9"/><circle cx="1330" cy="810" r="3.9"/><circle cx="1331" cy="795" r="3.9"/><circle cx="1332" cy="804" r="3.9"/><circle cx="1336" cy="810" r="3.9"/><circle cx="1334" cy="800" r="3.9"/><circle cx="1334" cy="787" r="3.9"/><circle cx="1342" cy="796" r="3.9"/><circle cx="1340" cy="811" r="3.9"/><circle cx="1341" cy="809" r="3.9"/><circle cx="1342" cy="796" r="3.9"/><circle cx="1338" cy="792" r="3.9"/><circle cx="1344" cy="817" r="3.9"/><circle cx="1334" cy="805" r="3.9"/><circle cx="1331" cy="806" r="3.9"/><circle cx="1338" cy="789" r="3.9"/><circle cx="1328" cy="815" r="3.9"/><circle cx="1327" cy="801" r="3.9"/><circle cx="1339" cy="795" r="3.9"/><circle cx="1332" cy="811" r="3.9"/><circle cx="1334" cy="791" r="3.9"/><circle cx="1336" cy="797" r="3.9"/><circle cx="1331" cy="815" r="3.9"/><circle cx="1330" cy="812" r="3.9"/><circle cx="1331" cy="817" r="3.9"/><circle cx="1338" cy="792" r="3.9"/><circle cx="1342" cy="794" r="3.9"/><circle cx="1331" cy="814" r="3.9"/><circle cx="1343" cy="788" r="3.9"/><circle cx="1342" cy="802" r="3.9"/><circle cx="1336" cy="787" r="3.9"/><circle cx="1342" cy="790" r="3.9"/><circle cx="1340" cy="800" r="3.9"/><circle cx="1331" cy="816" r="3.9"/><circle cx="1341" cy="812" r="3.9"/><circle cx="1329" cy="804" r="3.9"/><circle cx="1329" cy="804" r="3.9"/><circle cx="1342" cy="805" r="3.9"/><circle cx="1341" cy="797" r="3.9"/><circle cx="1336" cy="799" r="3.9"/><circle cx="1338" cy="808" r="3.9"/><circle cx="1332" cy="802" r="3.9"/><circle cx="1340" cy="795" r="3.9"/><circle cx="1332" cy="809" r="3.9"/><circle cx="1342" cy="793" r="3.9"/><circle cx="1338" cy="794" r="3.9"/><circle cx="1327" cy="790" r="3.9"/><circle cx="1330" cy="818" r="3.9"/><circle cx="1343" cy="792" r="3.9"/><circle cx="1334" cy="812" r="3.9"/><circle cx="1340" cy="815" r="3.9"/><circle cx="1329" cy="799" r="3.9"/><circle cx="1337" cy="800" r="3.9"/><circle cx="1331" cy="799" r="3.9"/><circle cx="1333" cy="816" r="3.9"/><circle cx="1339" cy="798" r="3.9"/><circle cx="1336" cy="798" r="3.9"/><circle cx="1337" cy="813" r="3.9"/><circle cx="1333" cy="797" r="3.9"/><circle cx="1338" cy="788" r="3.9"/><circle cx="1332" cy="794" r="3.9"/><circle cx="1335" cy="800" r="3.9"/><circle cx="1331" cy="793" r="3.9"/><circle cx="1338" cy="805" r="3.9"/><circle cx="1328" cy="816" r="3.9"/><circle cx="1328" cy="797" r="3.9"/><circle cx="1330" cy="805" r="3.9"/><circle cx="1329" cy="790" r="3.9"/><circle cx="1328" cy="803" r="3.9"/><circle cx="1328" cy="805" r="3.9"/><circle cx="1337" cy="808" r="3.9"/><circle cx="1336" cy="792" r="3.9"/><circle cx="1343" cy="804" r="3.9"/><circle cx="1327" cy="809" r="3.9"/><circle cx="1328" cy="797" r="3.9"/><circle cx="1335" cy="813" r="3.9"/><circle cx="1337" cy="812" r="3.9"/><circle cx="1332" cy="814" r="3.9"/><circle cx="1333" cy="813" r="3.9"/><circle cx="1331" cy="797" r="3.9"/><circle cx="1329" cy="813" r="3.9"/><circle cx="1338" cy="808" r="3.9"/><circle cx="1333" cy="802" r="3.9"/><circle cx="1340" cy="807" r="3.9"/><circle cx="1328" cy="797" r="3.9"/><circle cx="1341" cy="809" r="3.9"/><circle cx="1343" cy="799" r="3.9"/><circle cx="1329" cy="803" r="3.9"/><circle cx="1334" cy="803" r="3.9"/><circle cx="1342" cy="811" r="3.9"/><circle cx="1333" cy="807" r="3.9"/><circle cx="1338" cy="797" r="3.9"/><circle cx="1336" cy="812" r="3.9"/><circle cx="1330" cy="798" r="3.9"/><circle cx="1333" cy="807" r="3.9"/><circle cx="1334" cy="787" r="3.9"/><circle cx="1331" cy="818" r="3.9"/><circle cx="1337" cy="798" r="3.9"/><circle cx="1329" cy="789" r="3.9"/><circle cx="1327" cy="806" r="3.9"/><circle cx="1335" cy="806" r="3.9"/><circle cx="1332" cy="815" r="3.9"/><circle cx="1339" cy="791" r="3.9"/><circle cx="1330" cy="800" r="3.9"/><circle cx="1341" cy="792" r="3.9"/><circle cx="1329" cy="794" r="3.9"/><circle cx="1334" cy="813" r="3.9"/><circle cx="1331" cy="807" r="3.9"/><circle cx="1334" cy="807" r="3.9"/><circle cx="1335" cy="794" r="3.9"/><circle cx="1334" cy="796" r="3.9"/><circle cx="1334" cy="790" r="3.9"/><circle cx="1337" cy="808" r="3.9"/><circle cx="1343" cy="789" r="3.9"/><circle cx="1335" cy="805" r="3.9"/><circle cx="1339" cy="787" r="3.9"/><circle cx="1327" cy="803" r="3.9"/><circle cx="1336" cy="804" r="3.9"/><circle cx="1338" cy="789" r="3.9"/><circle cx="1330" cy="798" r="3.9"/><circle cx="1332" cy="818" r="3.9"/><circle cx="1341" cy="811" r="3.9"/><circle cx="1338" cy="813" r="3.9"/><circle cx="1340" cy="796" r="3.9"/><circle cx="1333" cy="812" r="3.9"/><circle cx="1344" cy="809" r="3.9"/><circle cx="1343" cy="810" r="3.9"/><circle cx="1338" cy="789" r="3.9"/><circle cx="1343" cy="804" r="3.9"/><circle cx="1334" cy="795" r="3.9"/><circle cx="1334" cy="789" r="3.9"/><circle cx="1339" cy="809" r="3.9"/><circle cx="1344" cy="806" r="3.9"/><circle cx="1341" cy="813" r="3.9"/><circle cx="1338" cy="790" r="3.9"/><circle cx="1338" cy="794" r="3.9"/><circle cx="1332" cy="798" r="3.9"/><circle cx="1336" cy="811" r="3.9"/><circle cx="1330" cy="809" r="3.9"/><circle cx="1342" cy="798" r="3.9"/><circle cx="1330" cy="807" r="3.9"/><circle cx="1330" cy="792" r="3.9"/><circle cx="1344" cy="799" r="3.9"/><circle cx="1341" cy="804" r="3.9"/><circle cx="1327" cy="804" r="3.9"/><circle cx="1332" cy="792" r="3.9"/><circle cx="1329" cy="806" r="3.9"/><circle cx="1331" cy="793" r="3.9"/><circle cx="1339" cy="798" r="3.9"/><circle cx="1330" cy="789" r="3.9"/><circle cx="1332" cy="803" r="3.9"/><circle cx="1333" cy="811" r="3.9"/><circle cx="1335" cy="787" r="3.9"/><circle cx="1327" cy="797" r="3.9"/><circle cx="1340" cy="812" r="3.9"/><circle cx="1333" cy="817" r="3.9"/><circle cx="1336" cy="807" r="3.9"/><circle cx="1339" cy="814" r="3.9"/><circle cx="1339" cy="792" r="3.9"/><circle cx="1330" cy="798" r="3.9"/><circle cx="1333" cy="818" r="3.9"/><circle cx="1334" cy="795" r="3.9"/><circle cx="1331" cy="795" r="3.9"/><circle cx="1337" cy="788" r="3.9"/><circle cx="1331" cy="813" r="3.9"/><circle cx="1329" cy="814" r="3.9"/><circle cx="1333" cy="811" r="3.9"/><circle cx="1336" cy="788" r="3.9"/><circle cx="1343" cy="794" r="3.9"/><circle cx="1329" cy="799" r="3.9"/><circle cx="1342" cy="801" r="3.9"/><circle cx="1340" cy="797" r="3.9"/><circle cx="1332" cy="789" r="3.9"/><circle cx="1331" cy="817" r="3.9"/><circle cx="1334" cy="814" r="3.9"/><circle cx="1328" cy="808" r="3.9"/><circle cx="1336" cy="794" r="3.9"/><circle cx="1340" cy="805" r="3.9"/><circle cx="1333" cy="800" r="3.9"/><circle cx="1332" cy="802" r="3.9"/><circle cx="1341" cy="807" r="3.9"/><circle cx="1336" cy="791" r="3.9"/><circle cx="1328" cy="794" r="3.9"/><circle cx="1336" cy="799" r="3.9"/><circle cx="1340" cy="794" r="3.9"/><circle cx="1343" cy="789" r="3.9"/><circle cx="1338" cy="802" r="3.9"/><circle cx="1341" cy="790" r="3.9"/><circle cx="1340" cy="810" r="3.9"/><circle cx="1336" cy="811" r="3.9"/><circle cx="1338" cy="805" r="3.9"/><circle cx="1332" cy="814" r="3.9"/><circle cx="1331" cy="804" r="3.9"/><circle cx="1327" cy="793" r="3.9"/><circle cx="1331" cy="816" r="3.9"/><circle cx="1329" cy="812" r="3.9"/><circle cx="1330" cy="805" r="3.9"/><circle cx="1337" cy="811" r="3.9"/><circle cx="1342" cy="789" r="3.9"/><circle cx="1332" cy="806" r="3.9"/><circle cx="1341" cy="809" r="3.9"/><circle cx="1343" cy="802" r="3.9"/><circle cx="1340" cy="799" r="3.9"/><circle cx="1343" cy="791" r="3.9"/><circle cx="1342" cy="793" r="3.9"/><circle cx="1336" cy="815" r="3.9"/><circle cx="1339" cy="816" r="3.9"/><circle cx="1340" cy="810" r="3.9"/><circle cx="1343" cy="810" r="3.9"/><circle cx="1340" cy="788" r="3.9"/><circle cx="1342" cy="816" r="3.9"/><circle cx="1334" cy="790" r="3.9"/><circle cx="1335" cy="798" r="3.9"/><circle cx="1330" cy="809" r="3.9"/><circle cx="1337" cy="806" r="3.9"/><circle cx="1343" cy="793" r="3.9"/><circle cx="1342" cy="807" r="3.9"/><circle cx="1331" cy="818" r="3.9"/><circle cx="1337" cy="787" r="3.9"/><circle cx="1328" cy="805" r="3.9"/><circle cx="1343" cy="789" r="3.9"/><circle cx="1328" cy="810" r="3.9"/><circle cx="1337" cy="813" r="3.9"/><circle cx="1328" cy="804" r="3.9"/><circle cx="1334" cy="794" r="3.9"/><circle cx="1342" cy="815" r="3.9"/><circle cx="1338" cy="813" r="3.9"/><circle cx="1340" cy="804" r="3.9"/><circle cx="1343" cy="789" r="3.9"/><circle cx="1342" cy="800" r="3.9"/><circle cx="1332" cy="803" r="3.9"/><circle cx="1342" cy="807" r="3.9"/><circle cx="1339" cy="808" r="3.9"/><circle cx="1333" cy="812" r="3.9"/><circle cx="1337" cy="791" r="3.9"/><circle cx="1330" cy="790" r="3.9"/><circle cx="1334" cy="792" r="3.9"/><circle cx="1336" cy="833" r="3.9"/><circle cx="1340" cy="849" r="3.9"/><circle cx="1340" cy="837" r="3.9"/><circle cx="1339" cy="838" r="3.9"/><circle cx="1333" cy="834" r="3.9"/><circle cx="1340" cy="840" r="3.9"/><circle cx="1330" cy="837" r="3.9"/><circle cx="1330" cy="842" r="3.9"/><circle cx="1341" cy="852" r="3.9"/><circle cx="1336" cy="834" r="3.9"/><circle cx="1340" cy="848" r="3.9"/><circle cx="1329" cy="845" r="3.9"/><circle cx="1337" cy="843" r="3.9"/><circle cx="1329" cy="850" r="3.9"/><circle cx="1336" cy="842" r="3.9"/><circle cx="1331" cy="837" r="3.9"/><circle cx="1337" cy="836" r="3.9"/><circle cx="1338" cy="847" r="3.9"/><circle cx="1343" cy="846" r="3.9"/><circle cx="1335" cy="847" r="3.9"/><circle cx="1333" cy="851" r="3.9"/><circle cx="1333" cy="837" r="3.9"/><circle cx="1342" cy="845" r="3.9"/><circle cx="1330" cy="837" r="3.9"/><circle cx="1332" cy="831" r="3.9"/><circle cx="1328" cy="851" r="3.9"/><circle cx="1337" cy="833" r="3.9"/><circle cx="1335" cy="849" r="3.9"/><circle cx="1330" cy="836" r="3.9"/><circle cx="1335" cy="840" r="3.9"/><circle cx="1343" cy="839" r="3.9"/><circle cx="1337" cy="833" r="3.9"/><circle cx="1331" cy="850" r="3.9"/><circle cx="1331" cy="831" r="3.9"/><circle cx="1339" cy="852" r="3.9"/><circle cx="1332" cy="837" r="3.9"/><circle cx="1335" cy="842" r="3.9"/><circle cx="1333" cy="845" r="3.9"/><circle cx="1341" cy="831" r="3.9"/><circle cx="1334" cy="842" r="3.9"/><circle cx="1341" cy="832" r="3.9"/><circle cx="1343" cy="838" r="3.9"/><circle cx="1329" cy="839" r="3.9"/><circle cx="1328" cy="838" r="3.9"/><circle cx="1327" cy="838" r="3.9"/><circle cx="1334" cy="845" r="3.9"/><circle cx="1342" cy="843" r="3.9"/><circle cx="1341" cy="835" r="3.9"/><circle cx="1330" cy="849" r="3.9"/><circle cx="1340" cy="840" r="3.9"/><circle cx="1340" cy="832" r="3.9"/><circle cx="1341" cy="836" r="3.9"/><circle cx="1334" cy="832" r="3.9"/><circle cx="1341" cy="849" r="3.9"/><circle cx="1328" cy="844" r="3.9"/><circle cx="1331" cy="840" r="3.9"/><circle cx="1336" cy="851" r="3.9"/><circle cx="1335" cy="833" r="3.9"/><circle cx="1334" cy="843" r="3.9"/><circle cx="1327" cy="851" r="3.9"/><circle cx="1340" cy="843" r="3.9"/><circle cx="1332" cy="839" r="3.9"/><circle cx="1333" cy="851" r="3.9"/><circle cx="1331" cy="848" r="3.9"/><circle cx="1341" cy="836" r="3.9"/><circle cx="1343" cy="850" r="3.9"/><circle cx="1338" cy="850" r="3.9"/><circle cx="1335" cy="833" r="3.9"/><circle cx="1333" cy="838" r="3.9"/><circle cx="1343" cy="843" r="3.9"/><circle cx="1338" cy="833" r="3.9"/><circle cx="1333" cy="849" r="3.9"/><circle cx="1328" cy="832" r="3.9"/><circle cx="1333" cy="837" r="3.9"/><circle cx="1336" cy="851" r="3.9"/><circle cx="1340" cy="846" r="3.9"/><circle cx="1335" cy="841" r="3.9"/><circle cx="1336" cy="849" r="3.9"/><circle cx="1340" cy="838" r="3.9"/><circle cx="1328" cy="838" r="3.9"/><circle cx="1334" cy="852" r="3.9"/><circle cx="1330" cy="832" r="3.9"/><circle cx="1336" cy="832" r="3.9"/><circle cx="1337" cy="836" r="3.9"/><circle cx="1339" cy="839" r="3.9"/><circle cx="1331" cy="846" r="3.9"/><circle cx="1332" cy="839" r="3.9"/><circle cx="1340" cy="833" r="3.9"/><circle cx="1340" cy="840" r="3.9"/><circle cx="1342" cy="835" r="3.9"/><circle cx="1330" cy="834" r="3.9"/><circle cx="1331" cy="835" r="3.9"/><circle cx="1336" cy="848" r="3.9"/><circle cx="1329" cy="841" r="3.9"/><circle cx="1342" cy="842" r="3.9"/><circle cx="1342" cy="847" r="3.9"/><circle cx="1327" cy="837" r="3.9"/><circle cx="1341" cy="839" r="3.9"/><circle cx="1341" cy="843" r="3.9"/><circle cx="1328" cy="835" r="3.9"/><circle cx="1329" cy="840" r="3.9"/><circle cx="1340" cy="842" r="3.9"/><circle cx="1327" cy="848" r="3.9"/><circle cx="1327" cy="850" r="3.9"/><circle cx="1338" cy="839" r="3.9"/><circle cx="1333" cy="837" r="3.9"/><circle cx="1333" cy="842" r="3.9"/><circle cx="1343" cy="836" r="3.9"/><circle cx="1341" cy="850" r="3.9"/><circle cx="1338" cy="850" r="3.9"/><circle cx="1337" cy="850" r="3.9"/><circle cx="1329" cy="840" r="3.9"/><circle cx="1339" cy="851" r="3.9"/><circle cx="1330" cy="844" r="3.9"/><circle cx="1335" cy="836" r="3.9"/><circle cx="1335" cy="842" r="3.9"/><circle cx="1328" cy="846" r="3.9"/><circle cx="1337" cy="845" r="3.9"/><circle cx="1331" cy="831" r="3.9"/><circle cx="1336" cy="852" r="3.9"/><circle cx="1337" cy="836" r="3.9"/><circle cx="1338" cy="831" r="3.9"/><circle cx="1329" cy="833" r="3.9"/><circle cx="1330" cy="851" r="3.9"/><circle cx="1337" cy="845" r="3.9"/><circle cx="1334" cy="832" r="3.9"/><circle cx="1338" cy="838" r="3.9"/><circle cx="1330" cy="832" r="3.9"/><circle cx="1342" cy="847" r="3.9"/><circle cx="1333" cy="835" r="3.9"/><circle cx="1343" cy="852" r="3.9"/><circle cx="1336" cy="839" r="3.9"/><circle cx="1341" cy="843" r="3.9"/><circle cx="1333" cy="852" r="3.9"/><circle cx="1342" cy="836" r="3.9"/><circle cx="1343" cy="849" r="3.9"/><circle cx="1343" cy="851" r="3.9"/><circle cx="1332" cy="848" r="3.9"/><circle cx="1330" cy="834" r="3.9"/><circle cx="1331" cy="837" r="3.9"/><circle cx="1332" cy="849" r="3.9"/><circle cx="1338" cy="831" r="3.9"/><circle cx="1341" cy="834" r="3.9"/><circle cx="1340" cy="836" r="3.9"/><circle cx="1343" cy="845" r="3.9"/><circle cx="1337" cy="837" r="3.9"/><circle cx="1341" cy="832" r="3.9"/><circle cx="1341" cy="843" r="3.9"/><circle cx="1334" cy="857" r="3.9"/><circle cx="1327" cy="858" r="3.9"/><circle cx="1335" cy="856" r="3.9"/><circle cx="1330" cy="859" r="3.9"/><circle cx="1335" cy="855" r="3.9"/><circle cx="1331" cy="854" r="3.9"/><circle cx="1327" cy="861" r="3.9"/><circle cx="1330" cy="861" r="3.9"/><circle cx="1333" cy="853" r="3.9"/><circle cx="1331" cy="862" r="3.9"/><circle cx="1332" cy="859" r="3.9"/><circle cx="1328" cy="867" r="3.9"/><circle cx="1335" cy="863" r="3.9"/><circle cx="1331" cy="867" r="3.9"/><circle cx="1331" cy="861" r="3.9"/><circle cx="1342" cy="860" r="3.9"/><circle cx="1329" cy="865" r="3.9"/><circle cx="1340" cy="861" r="3.9"/><circle cx="1337" cy="853" r="3.9"/><circle cx="1332" cy="856" r="3.9"/><circle cx="1331" cy="863" r="3.9"/><circle cx="1329" cy="855" r="3.9"/><circle cx="1330" cy="854" r="3.9"/><circle cx="1342" cy="853" r="3.9"/><circle cx="1328" cy="862" r="3.9"/><circle cx="1332" cy="855" r="3.9"/><circle cx="1330" cy="860" r="3.9"/><circle cx="1329" cy="857" r="3.9"/><circle cx="1338" cy="852" r="3.9"/><circle cx="1334" cy="854" r="3.9"/><circle cx="1328" cy="863" r="3.9"/><circle cx="1327" cy="854" r="3.9"/><circle cx="1343" cy="853" r="3.9"/><circle cx="1334" cy="861" r="3.9"/><circle cx="1336" cy="868" r="3.9"/></g>
<g fill="#56b4e9"><circle cx="1376" cy="788" r="3.9"/><circle cx="1373" cy="785" r="3.9"/><circle cx="1385" cy="785" r="3.9"/><circle cx="1378" cy="788" r="3.9"/><circle cx="1383" cy="789" r="3.9"/><circle cx="1369" cy="784" r="3.9"/><circle cx="1384" cy="784" r="3.9"/><circle cx="1372" cy="783" r="3.9"/><circle cx="1382" cy="806" r="3.9"/><circle cx="1375" cy="795" r="3.9"/><circle cx="1373" cy="796" r="3.9"/><circle cx="1377" cy="791" r="3.9"/><circle cx="1377" cy="807" r="3.9"/><circle cx="1381" cy="805" r="3.9"/><circle cx="1381" cy="794" r="3.9"/><circle cx="1382" cy="795" r="3.9"/><circle cx="1374" cy="807" r="3.9"/><circle cx="1370" cy="813" r="3.9"/><circle cx="1382" cy="810" r="3.9"/><circle cx="1374" cy="794" r="3.9"/><circle cx="1372" cy="796" r="3.9"/><circle cx="1379" cy="796" r="3.9"/><circle cx="1378" cy="812" r="3.9"/><circle cx="1383" cy="811" r="3.9"/><circle cx="1374" cy="810" r="3.9"/><circle cx="1384" cy="808" r="3.9"/><circle cx="1370" cy="805" r="3.9"/><circle cx="1376" cy="789" r="3.9"/><circle cx="1373" cy="814" r="3.9"/><circle cx="1376" cy="816" r="3.9"/><circle cx="1383" cy="803" r="3.9"/><circle cx="1377" cy="794" r="3.9"/><circle cx="1379" cy="793" r="3.9"/><circle cx="1377" cy="803" r="3.9"/><circle cx="1380" cy="810" r="3.9"/><circle cx="1384" cy="815" r="3.9"/><circle cx="1382" cy="793" r="3.9"/><circle cx="1376" cy="810" r="3.9"/><circle cx="1375" cy="789" r="3.9"/><circle cx="1378" cy="792" r="3.9"/><circle cx="1369" cy="794" r="3.9"/><circle cx="1372" cy="796" r="3.9"/><circle cx="1375" cy="811" r="3.9"/><circle cx="1378" cy="801" r="3.9"/><circle cx="1375" cy="803" r="3.9"/><circle cx="1374" cy="815" r="3.9"/><circle cx="1375" cy="811" r="3.9"/><circle cx="1378" cy="802" r="3.9"/><circle cx="1378" cy="812" r="3.9"/><circle cx="1376" cy="809" r="3.9"/><circle cx="1373" cy="809" r="3.9"/><circle cx="1372" cy="797" r="3.9"/><circle cx="1384" cy="809" r="3.9"/><circle cx="1379" cy="798" r="3.9"/><circle cx="1378" cy="798" r="3.9"/><circle cx="1372" cy="808" r="3.9"/><circle cx="1371" cy="790" r="3.9"/><circle cx="1379" cy="800" r="3.9"/><circle cx="1374" cy="808" r="3.9"/><circle cx="1383" cy="808" r="3.9"/><circle cx="1370" cy="811" r="3.9"/><circle cx="1377" cy="816" r="3.9"/><circle cx="1370" cy="799" r="3.9"/><circle cx="1370" cy="798" r="3.9"/><circle cx="1376" cy="802" r="3.9"/><circle cx="1374" cy="811" r="3.9"/><circle cx="1384" cy="806" r="3.9"/><circle cx="1376" cy="813" r="3.9"/><circle cx="1379" cy="807" r="3.9"/><circle cx="1373" cy="805" r="3.9"/><circle cx="1380" cy="793" r="3.9"/><circle cx="1378" cy="807" r="3.9"/><circle cx="1378" cy="810" r="3.9"/><circle cx="1384" cy="817" r="3.9"/><circle cx="1384" cy="814" r="3.9"/><circle cx="1371" cy="810" r="3.9"/><circle cx="1380" cy="805" r="3.9"/><circle cx="1376" cy="800" r="3.9"/><circle cx="1375" cy="801" r="3.9"/><circle cx="1372" cy="813" r="3.9"/><circle cx="1378" cy="818" r="3.9"/><circle cx="1377" cy="817" r="3.9"/><circle cx="1384" cy="792" r="3.9"/><circle cx="1377" cy="808" r="3.9"/><circle cx="1384" cy="801" r="3.9"/><circle cx="1381" cy="796" r="3.9"/><circle cx="1374" cy="801" r="3.9"/><circle cx="1378" cy="797" r="3.9"/><circle cx="1371" cy="790" r="3.9"/><circle cx="1371" cy="815" r="3.9"/><circle cx="1383" cy="798" r="3.9"/><circle cx="1376" cy="801" r="3.9"/><circle cx="1378" cy="796" r="3.9"/><circle cx="1369" cy="805" r="3.9"/><circle cx="1384" cy="813" r="3.9"/><circle cx="1379" cy="793" r="3.9"/><circle cx="1375" cy="804" r="3.9"/><circle cx="1385" cy="807" r="3.9"/><circle cx="1380" cy="803" r="3.9"/><circle cx="1381" cy="794" r="3.9"/><circle cx="1385" cy="817" r="3.9"/><circle cx="1380" cy="801" r="3.9"/><circle cx="1383" cy="789" r="3.9"/><circle cx="1372" cy="807" r="3.9"/><circle cx="1382" cy="797" r="3.9"/><circle cx="1380" cy="816" r="3.9"/><circle cx="1382" cy="804" r="3.9"/><circle cx="1382" cy="815" r="3.9"/><circle cx="1376" cy="796" r="3.9"/><circle cx="1374" cy="800" r="3.9"/><circle cx="1384" cy="789" r="3.9"/><circle cx="1379" cy="794" r="3.9"/><circle cx="1371" cy="800" r="3.9"/><circle cx="1375" cy="811" r="3.9"/><circle cx="1373" cy="809" r="3.9"/><circle cx="1369" cy="799" r="3.9"/><circle cx="1374" cy="793" r="3.9"/><circle cx="1377" cy="799" r="3.9"/><circle cx="1373" cy="797" r="3.9"/><circle cx="1381" cy="800" r="3.9"/><circle cx="1380" cy="810" r="3.9"/><circle cx="1382" cy="813" r="3.9"/><circle cx="1380" cy="804" r="3.9"/><circle cx="1374" cy="817" r="3.9"/><circle cx="1370" cy="792" r="3.9"/><circle cx="1370" cy="801" r="3.9"/><circle cx="1383" cy="817" r="3.9"/><circle cx="1380" cy="817" r="3.9"/><circle cx="1372" cy="805" r="3.9"/><circle cx="1374" cy="805" r="3.9"/><circle cx="1383" cy="794" r="3.9"/><circle cx="1377" cy="791" r="3.9"/><circle cx="1370" cy="799" r="3.9"/><circle cx="1377" cy="790" r="3.9"/><circle cx="1382" cy="789" r="3.9"/><circle cx="1381" cy="798" r="3.9"/><circle cx="1374" cy="813" r="3.9"/><circle cx="1369" cy="803" r="3.9"/><circle cx="1371" cy="811" r="3.9"/><circle cx="1381" cy="795" r="3.9"/><circle cx="1382" cy="793" r="3.9"/><circle cx="1371" cy="794" r="3.9"/><circle cx="1375" cy="817" r="3.9"/><circle cx="1373" cy="802" r="3.9"/><circle cx="1377" cy="814" r="3.9"/><circle cx="1372" cy="799" r="3.9"/><circle cx="1371" cy="817" r="3.9"/><circle cx="1381" cy="804" r="3.9"/><circle cx="1374" cy="806" r="3.9"/><circle cx="1374" cy="800" r="3.9"/><circle cx="1380" cy="791" r="3.9"/><circle cx="1370" cy="794" r="3.9"/><circle cx="1385" cy="794" r="3.9"/><circle cx="1375" cy="801" r="3.9"/><circle cx="1376" cy="809" r="3.9"/><circle cx="1381" cy="814" r="3.9"/><circle cx="1372" cy="818" r="3.9"/><circle cx="1379" cy="810" r="3.9"/><circle cx="1374" cy="806" r="3.9"/><circle cx="1369" cy="814" r="3.9"/><circle cx="1375" cy="808" r="3.9"/><circle cx="1378" cy="806" r="3.9"/><circle cx="1373" cy="810" r="3.9"/><circle cx="1372" cy="815" r="3.9"/><circle cx="1376" cy="816" r="3.9"/><circle cx="1369" cy="790" r="3.9"/><circle cx="1369" cy="804" r="3.9"/><circle cx="1370" cy="805" r="3.9"/><circle cx="1371" cy="792" r="3.9"/><circle cx="1379" cy="816" r="3.9"/><circle cx="1380" cy="791" r="3.9"/><circle cx="1377" cy="817" r="3.9"/><circle cx="1372" cy="816" r="3.9"/><circle cx="1382" cy="812" r="3.9"/><circle cx="1378" cy="799" r="3.9"/><circle cx="1370" cy="793" r="3.9"/><circle cx="1369" cy="815" r="3.9"/><circle cx="1381" cy="801" r="3.9"/><circle cx="1383" cy="805" r="3.9"/><circle cx="1380" cy="790" r="3.9"/><circle cx="1384" cy="797" r="3.9"/><circle cx="1374" cy="800" r="3.9"/><circle cx="1376" cy="809" r="3.9"/><circle cx="1373" cy="806" r="3.9"/><circle cx="1376" cy="796" r="3.9"/><circle cx="1382" cy="793" r="3.9"/><circle cx="1378" cy="797" r="3.9"/><circle cx="1381" cy="797" r="3.9"/><circle cx="1379" cy="802" r="3.9"/><circle cx="1378" cy="805" r="3.9"/><circle cx="1376" cy="811" r="3.9"/><circle cx="1382" cy="790" r="3.9"/><circle cx="1370" cy="804" r="3.9"/><circle cx="1381" cy="811" r="3.9"/><circle cx="1380" cy="799" r="3.9"/><circle cx="1377" cy="806" r="3.9"/><circle cx="1370" cy="809" r="3.9"/><circle cx="1369" cy="804" r="3.9"/><circle cx="1376" cy="803" r="3.9"/><circle cx="1382" cy="810" r="3.9"/><circle cx="1378" cy="803" r="3.9"/><circle cx="1380" cy="808" r="3.9"/><circle cx="1373" cy="802" r="3.9"/><circle cx="1371" cy="817" r="3.9"/><circle cx="1376" cy="806" r="3.9"/><circle cx="1383" cy="802" r="3.9"/><circle cx="1375" cy="791" r="3.9"/><circle cx="1376" cy="800" r="3.9"/><circle cx="1378" cy="809" r="3.9"/><circle cx="1377" cy="797" r="3.9"/><circle cx="1383" cy="811" r="3.9"/><circle cx="1372" cy="815" r="3.9"/><circle cx="1375" cy="792" r="3.9"/><circle cx="1378" cy="805" r="3.9"/><circle cx="1378" cy="809" r="3.9"/><circle cx="1374" cy="816" r="3.9"/><circle cx="1370" cy="790" r="3.9"/><circle cx="1381" cy="793" r="3.9"/><circle cx="1378" cy="794" r="3.9"/><circle cx="1374" cy="799" r="3.9"/><circle cx="1377" cy="793" r="3.9"/><circle cx="1379" cy="807" r="3.9"/><circle cx="1373" cy="818" r="3.9"/><circle cx="1376" cy="790" r="3.9"/><circle cx="1384" cy="801" r="3.9"/><circle cx="1378" cy="812" r="3.9"/><circle cx="1382" cy="810" r="3.9"/><circle cx="1384" cy="817" r="3.9"/><circle cx="1385" cy="806" r="3.9"/><circle cx="1374" cy="799" r="3.9"/><circle cx="1379" cy="810" r="3.9"/><circle cx="1379" cy="791" r="3.9"/><circle cx="1373" cy="801" r="3.9"/><circle cx="1381" cy="807" r="3.9"/><circle cx="1380" cy="817" r="3.9"/><circle cx="1380" cy="811" r="3.9"/><circle cx="1373" cy="810" r="3.9"/><circle cx="1383" cy="809" r="3.9"/><circle cx="1373" cy="816" r="3.9"/><circle cx="1375" cy="806" r="3.9"/><circle cx="1375" cy="803" r="3.9"/><circle cx="1382" cy="807" r="3.9"/><circle cx="1383" cy="814" r="3.9"/><circle cx="1370" cy="816" r="3.9"/><circle cx="1384" cy="796" r="3.9"/><circle cx="1382" cy="809" r="3.9"/><circle cx="1379" cy="794" r="3.9"/><circle cx="1383" cy="800" r="3.9"/><circle cx="1376" cy="790" r="3.9"/><circle cx="1372" cy="817" r="3.9"/><circle cx="1373" cy="817" r="3.9"/><circle cx="1372" cy="810" r="3.9"/><circle cx="1376" cy="809" r="3.9"/><circle cx="1369" cy="807" r="3.9"/><circle cx="1376" cy="798" r="3.9"/><circle cx="1379" cy="794" r="3.9"/><circle cx="1373" cy="791" r="3.9"/><circle cx="1379" cy="792" r="3.9"/><circle cx="1383" cy="818" r="3.9"/><circle cx="1372" cy="816" r="3.9"/><circle cx="1369" cy="809" r="3.9"/><circle cx="1381" cy="813" r="3.9"/><circle cx="1379" cy="795" r="3.9"/><circle cx="1382" cy="812" r="3.9"/><circle cx="1374" cy="800" r="3.9"/><circle cx="1374" cy="810" r="3.9"/><circle cx="1370" cy="812" r="3.9"/><circle cx="1377" cy="802" r="3.9"/><circle cx="1376" cy="800" r="3.9"/><circle cx="1374" cy="803" r="3.9"/><circle cx="1370" cy="797" r="3.9"/><circle cx="1378" cy="802" r="3.9"/><circle cx="1369" cy="803" r="3.9"/><circle cx="1376" cy="799" r="3.9"/><circle cx="1369" cy="802" r="3.9"/><circle cx="1383" cy="795" r="3.9"/><circle cx="1369" cy="795" r="3.9"/><circle cx="1376" cy="806" r="3.9"/><circle cx="1376" cy="842" r="3.9"/><circle cx="1379" cy="843" r="3.9"/><circle cx="1385" cy="843" r="3.9"/><circle cx="1372" cy="833" r="3.9"/><circle cx="1380" cy="844" r="3.9"/><circle cx="1383" cy="841" r="3.9"/><circle cx="1372" cy="837" r="3.9"/><circle cx="1378" cy="840" r="3.9"/><circle cx="1378" cy="840" r="3.9"/><circle cx="1372" cy="837" r="3.9"/><circle cx="1376" cy="832" r="3.9"/><circle cx="1371" cy="840" r="3.9"/><circle cx="1376" cy="837" r="3.9"/><circle cx="1384" cy="843" r="3.9"/><circle cx="1378" cy="839" r="3.9"/><circle cx="1382" cy="844" r="3.9"/><circle cx="1379" cy="837" r="3.9"/><circle cx="1370" cy="841" r="3.9"/><circle cx="1369" cy="835" r="3.9"/><circle cx="1372" cy="843" r="3.9"/><circle cx="1379" cy="839" r="3.9"/><circle cx="1369" cy="834" r="3.9"/><circle cx="1384" cy="832" r="3.9"/><circle cx="1375" cy="834" r="3.9"/><circle cx="1371" cy="832" r="3.9"/><circle cx="1381" cy="837" r="3.9"/><circle cx="1373" cy="842" r="3.9"/><circle cx="1376" cy="840" r="3.9"/><circle cx="1371" cy="831" r="3.9"/><circle cx="1374" cy="831" r="3.9"/><circle cx="1383" cy="836" r="3.9"/><circle cx="1370" cy="841" r="3.9"/><circle cx="1373" cy="842" r="3.9"/><circle cx="1379" cy="842" r="3.9"/><circle cx="1370" cy="841" r="3.9"/><circle cx="1372" cy="844" r="3.9"/><circle cx="1382" cy="831" r="3.9"/><circle cx="1373" cy="844" r="3.9"/><circle cx="1378" cy="836" r="3.9"/><circle cx="1379" cy="832" r="3.9"/><circle cx="1377" cy="837" r="3.9"/><circle cx="1385" cy="831" r="3.9"/><circle cx="1379" cy="836" r="3.9"/><circle cx="1375" cy="838" r="3.9"/><circle cx="1381" cy="833" r="3.9"/><circle cx="1379" cy="839" r="3.9"/><circle cx="1370" cy="838" r="3.9"/><circle cx="1378" cy="838" r="3.9"/><circle cx="1372" cy="836" r="3.9"/><circle cx="1373" cy="841" r="3.9"/><circle cx="1372" cy="832" r="3.9"/><circle cx="1373" cy="839" r="3.9"/><circle cx="1369" cy="832" r="3.9"/><circle cx="1374" cy="834" r="3.9"/><circle cx="1382" cy="840" r="3.9"/><circle cx="1378" cy="837" r="3.9"/><circle cx="1372" cy="836" r="3.9"/><circle cx="1384" cy="843" r="3.9"/><circle cx="1378" cy="842" r="3.9"/><circle cx="1378" cy="841" r="3.9"/><circle cx="1369" cy="843" r="3.9"/><circle cx="1384" cy="841" r="3.9"/><circle cx="1382" cy="839" r="3.9"/><circle cx="1371" cy="834" r="3.9"/><circle cx="1375" cy="839" r="3.9"/><circle cx="1375" cy="831" r="3.9"/><circle cx="1379" cy="838" r="3.9"/><circle cx="1374" cy="839" r="3.9"/><circle cx="1378" cy="840" r="3.9"/><circle cx="1380" cy="844" r="3.9"/><circle cx="1382" cy="843" r="3.9"/><circle cx="1369" cy="841" r="3.9"/><circle cx="1373" cy="843" r="3.9"/><circle cx="1371" cy="836" r="3.9"/><circle cx="1377" cy="831" r="3.9"/><circle cx="1380" cy="843" r="3.9"/><circle cx="1371" cy="834" r="3.9"/><circle cx="1372" cy="834" r="3.9"/><circle cx="1378" cy="831" r="3.9"/><circle cx="1379" cy="842" r="3.9"/><circle cx="1373" cy="840" r="3.9"/><circle cx="1373" cy="840" r="3.9"/><circle cx="1374" cy="832" r="3.9"/><circle cx="1370" cy="834" r="3.9"/><circle cx="1380" cy="844" r="3.9"/><circle cx="1369" cy="842" r="3.9"/><circle cx="1371" cy="843" r="3.9"/><circle cx="1376" cy="834" r="3.9"/><circle cx="1382" cy="842" r="3.9"/><circle cx="1375" cy="836" r="3.9"/><circle cx="1380" cy="836" r="3.9"/><circle cx="1384" cy="844" r="3.9"/><circle cx="1378" cy="842" r="3.9"/><circle cx="1370" cy="837" r="3.9"/><circle cx="1375" cy="836" r="3.9"/><circle cx="1374" cy="842" r="3.9"/><circle cx="1372" cy="832" r="3.9"/><circle cx="1368" cy="840" r="3.9"/><circle cx="1369" cy="843" r="3.9"/><circle cx="1378" cy="834" r="3.9"/><circle cx="1375" cy="843" r="3.9"/><circle cx="1371" cy="838" r="3.9"/><circle cx="1376" cy="838" r="3.9"/><circle cx="1382" cy="834" r="3.9"/><circle cx="1378" cy="833" r="3.9"/><circle cx="1377" cy="832" r="3.9"/><circle cx="1370" cy="838" r="3.9"/><circle cx="1381" cy="838" r="3.9"/><circle cx="1369" cy="840" r="3.9"/><circle cx="1382" cy="842" r="3.9"/><circle cx="1369" cy="841" r="3.9"/><circle cx="1369" cy="841" r="3.9"/><circle cx="1376" cy="831" r="3.9"/><circle cx="1374" cy="834" r="3.9"/><circle cx="1381" cy="836" r="3.9"/><circle cx="1375" cy="837" r="3.9"/><circle cx="1368" cy="831" r="3.9"/><circle cx="1373" cy="841" r="3.9"/><circle cx="1376" cy="833" r="3.9"/><circle cx="1370" cy="840" r="3.9"/><circle cx="1377" cy="831" r="3.9"/><circle cx="1374" cy="845" r="3.9"/><circle cx="1376" cy="844" r="3.9"/><circle cx="1385" cy="831" r="3.9"/><circle cx="1372" cy="843" r="3.9"/><circle cx="1369" cy="833" r="3.9"/><circle cx="1375" cy="841" r="3.9"/><circle cx="1375" cy="832" r="3.9"/><circle cx="1378" cy="837" r="3.9"/><circle cx="1376" cy="831" r="3.9"/><circle cx="1380" cy="836" r="3.9"/><circle cx="1371" cy="842" r="3.9"/><circle cx="1376" cy="839" r="3.9"/><circle cx="1370" cy="835" r="3.9"/><circle cx="1378" cy="839" r="3.9"/><circle cx="1383" cy="846" r="3.9"/><circle cx="1379" cy="848" r="3.9"/><circle cx="1369" cy="846" r="3.9"/><circle cx="1380" cy="845" r="3.9"/><circle cx="1382" cy="847" r="3.9"/><circle cx="1375" cy="847" r="3.9"/><circle cx="1382" cy="846" r="3.9"/><circle cx="1376" cy="848" r="3.9"/><circle cx="1374" cy="847" r="3.9"/><circle cx="1383" cy="849" r="3.9"/><circle cx="1384" cy="847" r="3.9"/><circle cx="1375" cy="845" r="3.9"/><circle cx="1383" cy="845" r="3.9"/><circle cx="1380" cy="847" r="3.9"/><circle cx="1380" cy="845" r="3.9"/><circle cx="1374" cy="854" r="3.9"/><circle cx="1370" cy="867" r="3.9"/><circle cx="1377" cy="864" r="3.9"/></g>
</g>
<g stroke="#aaaaaa" stroke-width="2.5" stroke-dasharray="17.4 17.1">
<path d="M625.5 824.6 H1005.7"/>
<path d="M1019.8 824.6 H1402"/>
</g>
</svg></body></html>
